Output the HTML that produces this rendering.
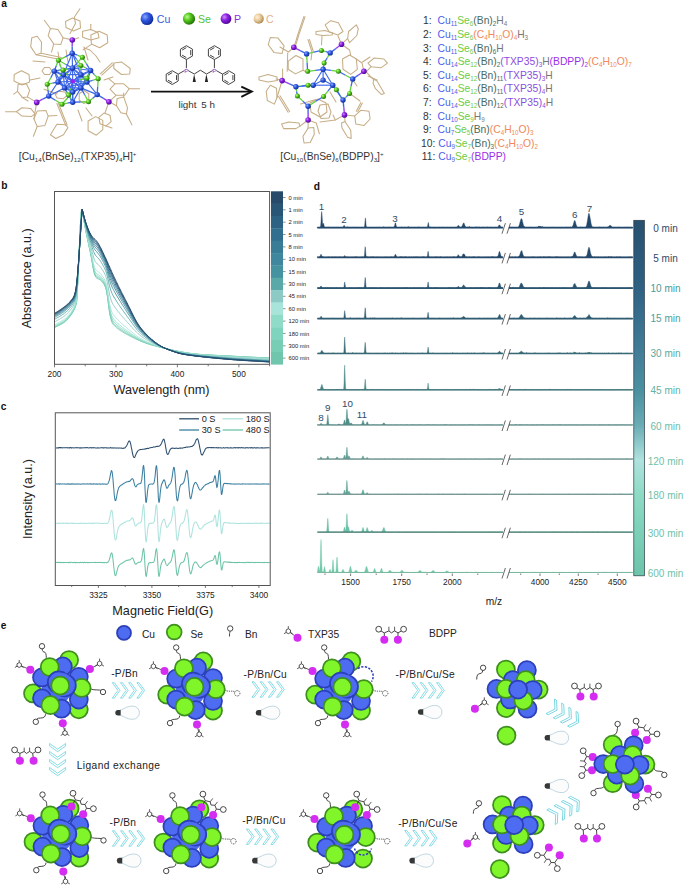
<!DOCTYPE html>
<html><head><meta charset="utf-8"><style>
html,body{margin:0;padding:0;background:#fff;width:685px;height:889px;overflow:hidden}
svg{display:block;font-family:"Liberation Sans", sans-serif}
</style></head><body>
<svg width="685" height="889" viewBox="0 0 685 889">
<rect width="685" height="889" fill="#fff"/>
<text x="1.2" y="6.6" font-size="10.2" fill="#111" text-anchor="start" font-weight="bold" >a</text>
<text x="1.2" y="188.8" font-size="10.2" fill="#111" text-anchor="start" font-weight="bold" >b</text>
<text x="0.8" y="410.1" font-size="10.2" fill="#111" text-anchor="start" font-weight="bold" >c</text>
<text x="313.8" y="189.7" font-size="10.2" fill="#111" text-anchor="start" font-weight="bold" >d</text>
<text x="0.8" y="629.0" font-size="10.2" fill="#111" text-anchor="start" font-weight="bold" >e</text>
<defs>
<radialGradient id="gCu" cx="0.35" cy="0.35" r="0.7"><stop offset="0" stop-color="#8aa8ff"/><stop offset="0.45" stop-color="#2f56e0"/><stop offset="1" stop-color="#102a90"/></radialGradient>
<radialGradient id="gSe" cx="0.35" cy="0.35" r="0.7"><stop offset="0" stop-color="#b8ff8a"/><stop offset="0.45" stop-color="#52c41a"/><stop offset="1" stop-color="#1f6a08"/></radialGradient>
<radialGradient id="gP" cx="0.35" cy="0.35" r="0.7"><stop offset="0" stop-color="#d08aff"/><stop offset="0.45" stop-color="#8a1ee0"/><stop offset="1" stop-color="#4a0890"/></radialGradient>
<radialGradient id="gC" cx="0.35" cy="0.35" r="0.7"><stop offset="0" stop-color="#fff2d8"/><stop offset="0.5" stop-color="#e6c898"/><stop offset="1" stop-color="#a88650"/></radialGradient>
</defs>
<circle cx="147" cy="18.7" r="6.4" fill="url(#gCu)"/>
<text x="156.8" y="22.6" font-size="10.6" fill="#3b5ce0" text-anchor="start" font-weight="normal" >Cu</text>
<circle cx="189" cy="18.7" r="6.1" fill="url(#gSe)"/>
<text x="198.0" y="22.6" font-size="10.6" fill="#55c22a" text-anchor="start" font-weight="normal" >Se</text>
<circle cx="226" cy="18.7" r="5.4" fill="url(#gP)"/>
<text x="234.0" y="22.6" font-size="10.6" fill="#8a2ee0" text-anchor="start" font-weight="normal" >P</text>
<circle cx="258.7" cy="18.7" r="5.1" fill="url(#gC)"/>
<text x="266.0" y="22.6" font-size="10.6" fill="#e8b088" text-anchor="start" font-weight="normal" >C</text>
<line x1="151" y1="91.6" x2="251" y2="91.6" stroke="#111" stroke-width="1.9"/>
<path d="M241.3,86.6 L251.8,91.6 L241.3,96.8" fill="none" stroke="#111" stroke-width="1.9" stroke-linejoin="miter"/>
<text x="178.5" y="108.3" font-size="9.8" fill="#333" text-anchor="start" font-weight="normal" >light</text>
<text x="201.3" y="108.3" font-size="9.8" fill="#333" text-anchor="start" font-weight="normal" >5 h</text>
<path d="M186.4,59.5 L180.4,56.1 180.4,49.2 186.4,45.7 192.4,49.1 192.4,56.1 186.4,59.5" stroke="#3a3a3a" stroke-width="0.95" fill="none" />
<path d="M186.4,57.6 L182.1,55.1" stroke="#3a3a3a" stroke-width="0.95" fill="none" />
<path d="M182.1,50.1 L186.4,47.6" stroke="#3a3a3a" stroke-width="0.95" fill="none" />
<path d="M190.7,50.1 L190.7,55.1" stroke="#3a3a3a" stroke-width="0.95" fill="none" />
<path d="M214.4,59.5 L208.4,56.1 208.4,49.2 214.4,45.7 220.4,49.1 220.4,56.1 214.4,59.5" stroke="#3a3a3a" stroke-width="0.95" fill="none" />
<path d="M214.4,57.6 L210.1,55.1" stroke="#3a3a3a" stroke-width="0.95" fill="none" />
<path d="M210.1,50.1 L214.4,47.6" stroke="#3a3a3a" stroke-width="0.95" fill="none" />
<path d="M218.7,50.1 L218.7,55.1" stroke="#3a3a3a" stroke-width="0.95" fill="none" />
<path d="M172.2,84.5 L166.2,81 166.2,74.1 172.2,70.7 178.2,74.1 178.2,81 172.2,84.5" stroke="#3a3a3a" stroke-width="0.95" fill="none" />
<path d="M172.2,82.6 L167.9,80.1" stroke="#3a3a3a" stroke-width="0.95" fill="none" />
<path d="M167.9,75.1 L172.2,72.6" stroke="#3a3a3a" stroke-width="0.95" fill="none" />
<path d="M176.5,75.1 L176.5,80.1" stroke="#3a3a3a" stroke-width="0.95" fill="none" />
<path d="M228.6,84.5 L222.6,81 222.6,74.1 228.6,70.7 234.6,74.1 234.6,81 228.6,84.5" stroke="#3a3a3a" stroke-width="0.95" fill="none" />
<path d="M228.6,82.6 L224.3,80.1" stroke="#3a3a3a" stroke-width="0.95" fill="none" />
<path d="M224.3,75.1 L228.6,72.6" stroke="#3a3a3a" stroke-width="0.95" fill="none" />
<path d="M232.9,75.1 L232.9,80.1" stroke="#3a3a3a" stroke-width="0.95" fill="none" />
<path d="M186.4,59.5 L186.4,68.2" stroke="#3a3a3a" stroke-width="0.95" fill="none" />
<path d="M214.4,59.5 L214.4,68.2" stroke="#3a3a3a" stroke-width="0.95" fill="none" />
<path d="M178.2,74.1 L184.5,70.6" stroke="#3a3a3a" stroke-width="0.95" fill="none" />
<path d="M222.6,74.1 L216.3,70.6" stroke="#3a3a3a" stroke-width="0.95" fill="none" />
<path d="M188.2,70.6 L194.3,74 200.3,70.2 206.5,74 212.6,70.6" stroke="#3a3a3a" stroke-width="0.95" fill="none" />
<path d="M194.1,74.0 L195.9,81.9 L192.7,81.9Z" fill="#222"/>
<path d="M206.3,74.0 L208.1,81.9 L204.9,81.9Z" fill="#222"/>
<text x="186.4" y="73.0" font-size="6.2" fill="#7a3ad0" text-anchor="middle" font-weight="normal" >P</text>
<text x="214.4" y="73.0" font-size="6.2" fill="#7a3ad0" text-anchor="middle" font-weight="normal" >P</text>
<path d="M50.4,28.5 L58.0,29.6 L63.0,37.8 L60.8,44.4 L53.7,43.9 L48.2,35.7Z" fill="none" stroke="#c6ad86" stroke-width="1.05" stroke-linejoin="round"/>
<path d="M31.8,37.8 L37.2,36.2 L41.6,42.2 L41.1,53.2 L36.1,54.8 L30.7,46.6Z" fill="none" stroke="#c6ad86" stroke-width="1.05" stroke-linejoin="round"/>
<path d="M82.6,31.3 L90.8,29.6 L97.9,32.4 L99.0,37.8 L90.8,40.0 L82.6,37.3Z" fill="none" stroke="#c6ad86" stroke-width="1.05" stroke-linejoin="round"/>
<path d="M90.8,35.1 L99.0,31.3 L107.2,35.1 L107.8,42.8 L99.6,47.7 L91.4,43.9Z" fill="none" stroke="#c6ad86" stroke-width="1.05" stroke-linejoin="round"/>
<path d="M113.8,63.0 L121.5,61.9 L130.2,68.5 L129.7,74.0 L121.5,74.5 L113.8,68.5Z" fill="none" stroke="#c6ad86" stroke-width="1.05" stroke-linejoin="round"/>
<path d="M18.1,84.3 L26.3,83.8 L29.6,90.3 L27.4,96.9 L22.4,97.4 L17.5,91.4Z" fill="none" stroke="#c6ad86" stroke-width="1.05" stroke-linejoin="round"/>
<path d="M16.4,111.7 L21.9,107.8 L30.7,108.4 L35.0,113.9 L31.2,116.6 L21.9,116.1Z" fill="none" stroke="#c6ad86" stroke-width="1.05" stroke-linejoin="round"/>
<path d="M37.2,111.1 L46.0,110.6 L48.2,116.1 L44.9,125.4 L37.2,126.5 L33.9,118.8Z" fill="none" stroke="#c6ad86" stroke-width="1.05" stroke-linejoin="round"/>
<path d="M50.4,134.7 L56.9,124.3 L65.7,124.8 L67.9,127.6 L63.5,134.7 L55.8,138.5Z" fill="none" stroke="#c6ad86" stroke-width="1.05" stroke-linejoin="round"/>
<path d="M110.0,89.2 L114.9,83.8 L123.7,83.8 L129.1,88.7 L124.7,95.3 L116.0,95.3Z" fill="none" stroke="#c6ad86" stroke-width="1.05" stroke-linejoin="round"/>
<path d="M117.1,98.5 L123.7,96.9 L127.5,107.8 L126.4,113.9 L120.9,112.8 L116.5,105.7Z" fill="none" stroke="#c6ad86" stroke-width="1.05" stroke-linejoin="round"/>
<path d="M88.1,121.0 L95.7,116.6 L102.8,120.4 L102.8,129.7 L96.3,135.2 L88.1,130.8Z" fill="none" stroke="#c6ad86" stroke-width="1.05" stroke-linejoin="round"/>
<path d="M14.2,74.5 L21.4,70.7 L29.0,74.5 L29.6,82.0 L22.0,85.0 L14.0,81.0Z" fill="none" stroke="#c6ad86" stroke-width="1.05" stroke-linejoin="round"/>
<path d="M65.5,21.5 L72.5,18.0 L80.0,21.0 L80.5,28.0 L73.5,31.0 L66.0,27.5Z" fill="none" stroke="#c6ad86" stroke-width="1.05" stroke-linejoin="round"/>
<path d="M111.1,121.7 L106.1,125.9 L100.0,123.7 L98.9,117.3 L103.9,113.1 L110.0,115.3Z" fill="none" stroke="#c6ad86" stroke-width="1.05" stroke-linejoin="round"/>
<path d="M66.9,95.7 L63.1,98.8 L57.1,98.1 L55.1,94.3 L58.9,91.2 L64.9,91.9Z" fill="none" stroke="#c6ad86" stroke-width="1.05" stroke-linejoin="round"/>
<path d="M88.8,100.2 L84.0,103.5 L79.2,100.2 L79.2,93.8 L84.0,90.5 L88.8,93.8Z" fill="none" stroke="#c6ad86" stroke-width="1.05" stroke-linejoin="round"/>
<path d="M52.0,71.0 L49.5,74.5 L44.5,74.5 L42.0,71.0 L44.5,67.5 L49.5,67.5Z" fill="none" stroke="#c6ad86" stroke-width="1.05" stroke-linejoin="round"/>
<path d="M84,48 L90,50 96,56 100,62" stroke="#c6ad86" stroke-width="1.05" fill="none" stroke-linecap="round" stroke-linejoin="round"/>
<path d="M50.4,28.5 L44.3,20.3" stroke="#c6ad86" stroke-width="1.05" fill="none" stroke-linecap="round" stroke-linejoin="round"/>
<path d="M53.7,43.9 L51.5,52.1" stroke="#c6ad86" stroke-width="1.05" fill="none" stroke-linecap="round" stroke-linejoin="round"/>
<path d="M79.9,8.8 L74.4,17 75.5,23.6 70,33.5" stroke="#c6ad86" stroke-width="1.05" fill="none" stroke-linecap="round" stroke-linejoin="round"/>
<path d="M90.8,29.6 L90.8,24.2" stroke="#c6ad86" stroke-width="1.05" fill="none" stroke-linecap="round" stroke-linejoin="round"/>
<path d="M17.5,91.4 L13.7,94.2" stroke="#c6ad86" stroke-width="1.05" fill="none" stroke-linecap="round" stroke-linejoin="round"/>
<path d="M16.4,111.7 L5.5,111.7" stroke="#c6ad86" stroke-width="1.05" fill="none" stroke-linecap="round" stroke-linejoin="round"/>
<path d="M48.2,116.1 L56.9,115.5" stroke="#c6ad86" stroke-width="1.05" fill="none" stroke-linecap="round" stroke-linejoin="round"/>
<path d="M37.2,126.5 L33.4,136.3" stroke="#c6ad86" stroke-width="1.05" fill="none" stroke-linecap="round" stroke-linejoin="round"/>
<path d="M114.9,83.8 L108.3,78.3" stroke="#c6ad86" stroke-width="1.05" fill="none" stroke-linecap="round" stroke-linejoin="round"/>
<path d="M129.1,88.7 L139.5,88.7" stroke="#c6ad86" stroke-width="1.05" fill="none" stroke-linecap="round" stroke-linejoin="round"/>
<path d="M126.4,113.9 L131.9,124.8" stroke="#c6ad86" stroke-width="1.05" fill="none" stroke-linecap="round" stroke-linejoin="round"/>
<path d="M123.7,96.9 L123.7,93" stroke="#c6ad86" stroke-width="1.05" fill="none" stroke-linecap="round" stroke-linejoin="round"/>
<path d="M106,126 L112,128" stroke="#c6ad86" stroke-width="1.05" fill="none" stroke-linecap="round" stroke-linejoin="round"/>
<path d="M63,37.8 L72.3,40" stroke="#c6ad86" stroke-width="1.05" fill="none" stroke-linecap="round" stroke-linejoin="round"/>
<path d="M78.8,37.8 L72.3,40" stroke="#c6ad86" stroke-width="1.05" fill="none" stroke-linecap="round" stroke-linejoin="round"/>
<path d="M27.4,96.9 L36.7,102.4" stroke="#c6ad86" stroke-width="1.05" fill="none" stroke-linecap="round" stroke-linejoin="round"/>
<path d="M36.7,102.4 L33.9,118.8" stroke="#c6ad86" stroke-width="1.05" fill="none" stroke-linecap="round" stroke-linejoin="round"/>
<path d="M116,95.3 L108.9,101.8" stroke="#c6ad86" stroke-width="1.05" fill="none" stroke-linecap="round" stroke-linejoin="round"/>
<path d="M116.5,105.7 L108.9,101.8" stroke="#c6ad86" stroke-width="1.05" fill="none" stroke-linecap="round" stroke-linejoin="round"/>
<path d="M105,113 L108.9,101.8" stroke="#c6ad86" stroke-width="1.05" fill="none" stroke-linecap="round" stroke-linejoin="round"/>
<path d="M41.1,53.2 L61.3,57.6" stroke="#c6ad86" stroke-width="1.05" fill="none" stroke-linecap="round" stroke-linejoin="round"/>
<path d="M36.1,54.8 L59.1,59.2" stroke="#c6ad86" stroke-width="1.05" fill="none" stroke-linecap="round" stroke-linejoin="round"/>
<path d="M101.8,75.1 L113.8,64.1" stroke="#c6ad86" stroke-width="1.05" fill="none" stroke-linecap="round" stroke-linejoin="round"/>
<path d="M100.3,73.8 L112.3,62.8" stroke="#c6ad86" stroke-width="1.05" fill="none" stroke-linecap="round" stroke-linejoin="round"/>
<path d="M56.9,103.5 L65.7,125.4" stroke="#c6ad86" stroke-width="1.05" fill="none" stroke-linecap="round" stroke-linejoin="round"/>
<path d="M58.3,103 L67.1,125" stroke="#c6ad86" stroke-width="1.05" fill="none" stroke-linecap="round" stroke-linejoin="round"/>
<path d="M44,89.2 L57,94" stroke="#c6ad86" stroke-width="1.05" fill="none" stroke-linecap="round" stroke-linejoin="round"/>
<path d="M83.1,49.9 L91.4,44.4" stroke="#c6ad86" stroke-width="1.05" fill="none" stroke-linecap="round" stroke-linejoin="round"/>
<path d="M22,97.4 L28,101" stroke="#c6ad86" stroke-width="1.05" fill="none" stroke-linecap="round" stroke-linejoin="round"/>
<path d="M33,61 L45,62" stroke="#c6ad86" stroke-width="1.05" fill="none" stroke-linecap="round" stroke-linejoin="round"/>
<path d="M88,60 L84,47" stroke="#c6ad86" stroke-width="1.05" fill="none" stroke-linecap="round" stroke-linejoin="round"/>
<path d="M60,66 L58,52" stroke="#c6ad86" stroke-width="1.05" fill="none" stroke-linecap="round" stroke-linejoin="round"/>
<path d="M68,62 L66,50" stroke="#c6ad86" stroke-width="1.05" fill="none" stroke-linecap="round" stroke-linejoin="round"/>
<path d="M86,108 L92,116" stroke="#c6ad86" stroke-width="1.05" fill="none" stroke-linecap="round" stroke-linejoin="round"/>
<path d="M78,110 L82,121" stroke="#c6ad86" stroke-width="1.05" fill="none" stroke-linecap="round" stroke-linejoin="round"/>
<path d="M40,78 L30,80" stroke="#c6ad86" stroke-width="1.05" fill="none" stroke-linecap="round" stroke-linejoin="round"/>
<path d="M104,80 L113,77" stroke="#c6ad86" stroke-width="1.05" fill="none" stroke-linecap="round" stroke-linejoin="round"/>
<path d="M54.3,71.1 L63.5,74.6" stroke="#3d68ea" stroke-width="1.15" fill="none" />
<path d="M54.3,71.1 L64.5,87.9" stroke="#3d68ea" stroke-width="1.15" fill="none" />
<path d="M54.3,71.1 L72.5,68" stroke="#3d68ea" stroke-width="1.15" fill="none" />
<path d="M54.3,71.1 L58,82" stroke="#3d68ea" stroke-width="1.15" fill="none" />
<path d="M54.3,71.1 L72.7,81.3" stroke="#3d68ea" stroke-width="1.15" fill="none" />
<path d="M90.6,70.5 L80.9,74.6" stroke="#3d68ea" stroke-width="1.15" fill="none" />
<path d="M90.6,70.5 L80.9,87.9" stroke="#3d68ea" stroke-width="1.15" fill="none" />
<path d="M90.6,70.5 L72.5,68" stroke="#3d68ea" stroke-width="1.15" fill="none" />
<path d="M90.6,70.5 L87,82" stroke="#3d68ea" stroke-width="1.15" fill="none" />
<path d="M90.6,70.5 L72.7,81.3" stroke="#3d68ea" stroke-width="1.15" fill="none" />
<path d="M63.5,74.6 L80.9,74.6" stroke="#3d68ea" stroke-width="1.15" fill="none" />
<path d="M63.5,74.6 L64.5,87.9" stroke="#3d68ea" stroke-width="1.15" fill="none" />
<path d="M63.5,74.6 L80.9,87.9" stroke="#3d68ea" stroke-width="1.15" fill="none" />
<path d="M63.5,74.6 L72.7,92" stroke="#3d68ea" stroke-width="1.15" fill="none" />
<path d="M63.5,74.6 L72.5,68" stroke="#3d68ea" stroke-width="1.15" fill="none" />
<path d="M63.5,74.6 L58,82" stroke="#3d68ea" stroke-width="1.15" fill="none" />
<path d="M63.5,74.6 L72.7,81.3" stroke="#3d68ea" stroke-width="1.15" fill="none" />
<path d="M63.5,74.6 L72.2,53.2" stroke="#3d68ea" stroke-width="1.15" fill="none" />
<path d="M80.9,74.6 L64.5,87.9" stroke="#3d68ea" stroke-width="1.15" fill="none" />
<path d="M80.9,74.6 L80.9,87.9" stroke="#3d68ea" stroke-width="1.15" fill="none" />
<path d="M80.9,74.6 L72.7,92" stroke="#3d68ea" stroke-width="1.15" fill="none" />
<path d="M80.9,74.6 L72.5,68" stroke="#3d68ea" stroke-width="1.15" fill="none" />
<path d="M80.9,74.6 L87,82" stroke="#3d68ea" stroke-width="1.15" fill="none" />
<path d="M80.9,74.6 L72.7,81.3" stroke="#3d68ea" stroke-width="1.15" fill="none" />
<path d="M80.9,74.6 L72.2,53.2" stroke="#3d68ea" stroke-width="1.15" fill="none" />
<path d="M64.5,87.9 L80.9,87.9" stroke="#3d68ea" stroke-width="1.15" fill="none" />
<path d="M64.5,87.9 L72.7,92" stroke="#3d68ea" stroke-width="1.15" fill="none" />
<path d="M64.5,87.9 L72.7,102.2" stroke="#3d68ea" stroke-width="1.15" fill="none" />
<path d="M64.5,87.9 L72.5,68" stroke="#3d68ea" stroke-width="1.15" fill="none" />
<path d="M64.5,87.9 L58,82" stroke="#3d68ea" stroke-width="1.15" fill="none" />
<path d="M64.5,87.9 L87,82" stroke="#3d68ea" stroke-width="1.15" fill="none" />
<path d="M64.5,87.9 L72.7,81.3" stroke="#3d68ea" stroke-width="1.15" fill="none" />
<path d="M64.5,87.9 L48.7,96.1" stroke="#3d68ea" stroke-width="1.15" fill="none" />
<path d="M80.9,87.9 L72.7,92" stroke="#3d68ea" stroke-width="1.15" fill="none" />
<path d="M80.9,87.9 L72.7,102.2" stroke="#3d68ea" stroke-width="1.15" fill="none" />
<path d="M80.9,87.9 L72.5,68" stroke="#3d68ea" stroke-width="1.15" fill="none" />
<path d="M80.9,87.9 L87,82" stroke="#3d68ea" stroke-width="1.15" fill="none" />
<path d="M80.9,87.9 L72.7,81.3" stroke="#3d68ea" stroke-width="1.15" fill="none" />
<path d="M80.9,87.9 L97.2,94.6" stroke="#3d68ea" stroke-width="1.15" fill="none" />
<path d="M72.7,92 L72.7,102.2" stroke="#3d68ea" stroke-width="1.15" fill="none" />
<path d="M72.7,92 L58,82" stroke="#3d68ea" stroke-width="1.15" fill="none" />
<path d="M72.7,92 L87,82" stroke="#3d68ea" stroke-width="1.15" fill="none" />
<path d="M72.7,92 L72.7,81.3" stroke="#3d68ea" stroke-width="1.15" fill="none" />
<path d="M72.7,102.2 L72.7,81.3" stroke="#3d68ea" stroke-width="1.15" fill="none" />
<path d="M72.5,68 L58,82" stroke="#3d68ea" stroke-width="1.15" fill="none" />
<path d="M72.5,68 L87,82" stroke="#3d68ea" stroke-width="1.15" fill="none" />
<path d="M72.5,68 L72.7,81.3" stroke="#3d68ea" stroke-width="1.15" fill="none" />
<path d="M72.5,68 L72.2,53.2" stroke="#3d68ea" stroke-width="1.15" fill="none" />
<path d="M58,82 L72.7,81.3" stroke="#3d68ea" stroke-width="1.15" fill="none" />
<path d="M58,82 L48.7,96.1" stroke="#3d68ea" stroke-width="1.15" fill="none" />
<path d="M87,82 L72.7,81.3" stroke="#3d68ea" stroke-width="1.15" fill="none" />
<path d="M87,82 L97.2,94.6" stroke="#3d68ea" stroke-width="1.15" fill="none" />
<path d="M72.3,40 L72.2,46.6" stroke="#9a3ef0" stroke-width="1.4" fill="none" />
<path d="M72.2,46.6 L72.2,53.2" stroke="#3d68ea" stroke-width="1.4" fill="none" />
<path d="M36.7,102.4 L42.7,99.2" stroke="#9a3ef0" stroke-width="1.4" fill="none" />
<path d="M42.7,99.2 L48.7,96.1" stroke="#3d68ea" stroke-width="1.4" fill="none" />
<path d="M108.9,101.8 L103.1,98.2" stroke="#9a3ef0" stroke-width="1.4" fill="none" />
<path d="M103.1,98.2 L97.2,94.6" stroke="#3d68ea" stroke-width="1.4" fill="none" />
<path d="M58.4,60.3 L56.3,65.7" stroke="#5fd33a" stroke-width="1.3" fill="none" />
<path d="M56.3,65.7 L54.3,71.1" stroke="#3d68ea" stroke-width="1.3" fill="none" />
<path d="M58.4,60.3 L61,67.4" stroke="#5fd33a" stroke-width="1.3" fill="none" />
<path d="M61,67.4 L63.5,74.6" stroke="#3d68ea" stroke-width="1.3" fill="none" />
<path d="M58.4,60.3 L65.5,64.2" stroke="#5fd33a" stroke-width="1.3" fill="none" />
<path d="M65.5,64.2 L72.5,68" stroke="#3d68ea" stroke-width="1.3" fill="none" />
<path d="M58.4,60.3 L65.3,56.8" stroke="#5fd33a" stroke-width="1.3" fill="none" />
<path d="M65.3,56.8 L72.2,53.2" stroke="#3d68ea" stroke-width="1.3" fill="none" />
<path d="M82.4,57.3 L86.5,63.9" stroke="#5fd33a" stroke-width="1.3" fill="none" />
<path d="M86.5,63.9 L90.6,70.5" stroke="#3d68ea" stroke-width="1.3" fill="none" />
<path d="M82.4,57.3 L77.5,62.6" stroke="#5fd33a" stroke-width="1.3" fill="none" />
<path d="M77.5,62.6 L72.5,68" stroke="#3d68ea" stroke-width="1.3" fill="none" />
<path d="M82.4,57.3 L77.3,55.2" stroke="#5fd33a" stroke-width="1.3" fill="none" />
<path d="M77.3,55.2 L72.2,53.2" stroke="#3d68ea" stroke-width="1.3" fill="none" />
<path d="M63,70 L58.6,70.5" stroke="#5fd33a" stroke-width="1.3" fill="none" />
<path d="M58.6,70.5 L54.3,71.1" stroke="#3d68ea" stroke-width="1.3" fill="none" />
<path d="M63,70 L63.2,72.3" stroke="#5fd33a" stroke-width="1.3" fill="none" />
<path d="M63.2,72.3 L63.5,74.6" stroke="#3d68ea" stroke-width="1.3" fill="none" />
<path d="M63,70 L67.8,69" stroke="#5fd33a" stroke-width="1.3" fill="none" />
<path d="M67.8,69 L72.5,68" stroke="#3d68ea" stroke-width="1.3" fill="none" />
<path d="M63,70 L60.5,76" stroke="#5fd33a" stroke-width="1.3" fill="none" />
<path d="M60.5,76 L58,82" stroke="#3d68ea" stroke-width="1.3" fill="none" />
<path d="M63,70 L67.8,75.7" stroke="#5fd33a" stroke-width="1.3" fill="none" />
<path d="M67.8,75.7 L72.7,81.3" stroke="#3d68ea" stroke-width="1.3" fill="none" />
<path d="M87,78.2 L88.8,74.3" stroke="#5fd33a" stroke-width="1.3" fill="none" />
<path d="M88.8,74.3 L90.6,70.5" stroke="#3d68ea" stroke-width="1.3" fill="none" />
<path d="M87,78.2 L84,76.4" stroke="#5fd33a" stroke-width="1.3" fill="none" />
<path d="M84,76.4 L80.9,74.6" stroke="#3d68ea" stroke-width="1.3" fill="none" />
<path d="M87,78.2 L84,83.1" stroke="#5fd33a" stroke-width="1.3" fill="none" />
<path d="M84,83.1 L80.9,87.9" stroke="#3d68ea" stroke-width="1.3" fill="none" />
<path d="M87,78.2 L87,80.1" stroke="#5fd33a" stroke-width="1.3" fill="none" />
<path d="M87,80.1 L87,82" stroke="#3d68ea" stroke-width="1.3" fill="none" />
<path d="M87,78.2 L79.8,79.8" stroke="#5fd33a" stroke-width="1.3" fill="none" />
<path d="M79.8,79.8 L72.7,81.3" stroke="#3d68ea" stroke-width="1.3" fill="none" />
<path d="M98.2,78.7 L94.4,74.6" stroke="#5fd33a" stroke-width="1.3" fill="none" />
<path d="M94.4,74.6 L90.6,70.5" stroke="#3d68ea" stroke-width="1.3" fill="none" />
<path d="M98.2,78.7 L92.6,80.3" stroke="#5fd33a" stroke-width="1.3" fill="none" />
<path d="M92.6,80.3 L87,82" stroke="#3d68ea" stroke-width="1.3" fill="none" />
<path d="M98.2,78.7 L97.7,86.7" stroke="#5fd33a" stroke-width="1.3" fill="none" />
<path d="M97.7,86.7 L97.2,94.6" stroke="#3d68ea" stroke-width="1.3" fill="none" />
<path d="M47.2,84.3 L50.8,77.7" stroke="#5fd33a" stroke-width="1.3" fill="none" />
<path d="M50.8,77.7 L54.3,71.1" stroke="#3d68ea" stroke-width="1.3" fill="none" />
<path d="M47.2,84.3 L52.6,83.2" stroke="#5fd33a" stroke-width="1.3" fill="none" />
<path d="M52.6,83.2 L58,82" stroke="#3d68ea" stroke-width="1.3" fill="none" />
<path d="M47.2,84.3 L48,90.2" stroke="#5fd33a" stroke-width="1.3" fill="none" />
<path d="M48,90.2 L48.7,96.1" stroke="#3d68ea" stroke-width="1.3" fill="none" />
<path d="M68.6,95.1 L66.5,91.5" stroke="#5fd33a" stroke-width="1.3" fill="none" />
<path d="M66.5,91.5 L64.5,87.9" stroke="#3d68ea" stroke-width="1.3" fill="none" />
<path d="M68.6,95.1 L74.8,91.5" stroke="#5fd33a" stroke-width="1.3" fill="none" />
<path d="M74.8,91.5 L80.9,87.9" stroke="#3d68ea" stroke-width="1.3" fill="none" />
<path d="M68.6,95.1 L70.7,93.5" stroke="#5fd33a" stroke-width="1.3" fill="none" />
<path d="M70.7,93.5 L72.7,92" stroke="#3d68ea" stroke-width="1.3" fill="none" />
<path d="M68.6,95.1 L70.7,98.7" stroke="#5fd33a" stroke-width="1.3" fill="none" />
<path d="M70.7,98.7 L72.7,102.2" stroke="#3d68ea" stroke-width="1.3" fill="none" />
<path d="M68.6,95.1 L70.7,88.2" stroke="#5fd33a" stroke-width="1.3" fill="none" />
<path d="M70.7,88.2 L72.7,81.3" stroke="#3d68ea" stroke-width="1.3" fill="none" />
<path d="M62,104.3 L67.3,98.2" stroke="#5fd33a" stroke-width="1.3" fill="none" />
<path d="M67.3,98.2 L72.7,92" stroke="#3d68ea" stroke-width="1.3" fill="none" />
<path d="M62,104.3 L67.3,103.2" stroke="#5fd33a" stroke-width="1.3" fill="none" />
<path d="M67.3,103.2 L72.7,102.2" stroke="#3d68ea" stroke-width="1.3" fill="none" />
<path d="M62,104.3 L55.4,100.2" stroke="#5fd33a" stroke-width="1.3" fill="none" />
<path d="M55.4,100.2 L48.7,96.1" stroke="#3d68ea" stroke-width="1.3" fill="none" />
<path d="M88.5,101.7 L84.7,94.8" stroke="#5fd33a" stroke-width="1.3" fill="none" />
<path d="M84.7,94.8 L80.9,87.9" stroke="#3d68ea" stroke-width="1.3" fill="none" />
<path d="M88.5,101.7 L80.6,102" stroke="#5fd33a" stroke-width="1.3" fill="none" />
<path d="M80.6,102 L72.7,102.2" stroke="#3d68ea" stroke-width="1.3" fill="none" />
<path d="M88.5,101.7 L92.8,98.2" stroke="#5fd33a" stroke-width="1.3" fill="none" />
<path d="M92.8,98.2 L97.2,94.6" stroke="#3d68ea" stroke-width="1.3" fill="none" />
<path d="M80.9,65.4 L85.8,68" stroke="#5fd33a" stroke-width="1.3" fill="none" />
<path d="M85.8,68 L90.6,70.5" stroke="#3d68ea" stroke-width="1.3" fill="none" />
<path d="M80.9,65.4 L80.9,70" stroke="#5fd33a" stroke-width="1.3" fill="none" />
<path d="M80.9,70 L80.9,74.6" stroke="#3d68ea" stroke-width="1.3" fill="none" />
<path d="M80.9,65.4 L76.7,66.7" stroke="#5fd33a" stroke-width="1.3" fill="none" />
<path d="M76.7,66.7 L72.5,68" stroke="#3d68ea" stroke-width="1.3" fill="none" />
<path d="M80.9,65.4 L76.6,59.3" stroke="#5fd33a" stroke-width="1.3" fill="none" />
<path d="M76.6,59.3 L72.2,53.2" stroke="#3d68ea" stroke-width="1.3" fill="none" />
<circle cx="54.3" cy="71.1" r="2.7" fill="url(#gCu)"/>
<circle cx="90.6" cy="70.5" r="2.7" fill="url(#gCu)"/>
<circle cx="63.5" cy="74.6" r="2.7" fill="url(#gCu)"/>
<circle cx="80.9" cy="74.6" r="2.7" fill="url(#gCu)"/>
<circle cx="64.5" cy="87.9" r="2.7" fill="url(#gCu)"/>
<circle cx="80.9" cy="87.9" r="2.7" fill="url(#gCu)"/>
<circle cx="72.7" cy="92.0" r="2.7" fill="url(#gCu)"/>
<circle cx="72.7" cy="102.2" r="2.7" fill="url(#gCu)"/>
<circle cx="72.5" cy="68.0" r="2.7" fill="url(#gCu)"/>
<circle cx="58.0" cy="82.0" r="2.7" fill="url(#gCu)"/>
<circle cx="87.0" cy="82.0" r="2.7" fill="url(#gCu)"/>
<circle cx="72.2" cy="53.2" r="2.7" fill="url(#gCu)"/>
<circle cx="48.7" cy="96.1" r="2.7" fill="url(#gCu)"/>
<circle cx="97.2" cy="94.6" r="2.7" fill="url(#gCu)"/>
<circle cx="58.4" cy="60.3" r="2.5" fill="url(#gSe)"/>
<circle cx="82.4" cy="57.3" r="2.5" fill="url(#gSe)"/>
<circle cx="63.0" cy="70.0" r="2.5" fill="url(#gSe)"/>
<circle cx="87.0" cy="78.2" r="2.5" fill="url(#gSe)"/>
<circle cx="98.2" cy="78.7" r="2.5" fill="url(#gSe)"/>
<circle cx="47.2" cy="84.3" r="2.5" fill="url(#gSe)"/>
<circle cx="68.6" cy="95.1" r="2.5" fill="url(#gSe)"/>
<circle cx="62.0" cy="104.3" r="2.5" fill="url(#gSe)"/>
<circle cx="88.5" cy="101.7" r="2.5" fill="url(#gSe)"/>
<circle cx="80.9" cy="65.4" r="2.5" fill="url(#gSe)"/>
<circle cx="72.3" cy="40.0" r="2.8" fill="url(#gP)"/>
<circle cx="36.7" cy="102.4" r="2.8" fill="url(#gP)"/>
<circle cx="108.9" cy="101.8" r="2.8" fill="url(#gP)"/>
<circle cx="72.7" cy="81.3" r="2.2" fill="#a020f0"/>
<path d="M268.3,44.7 L270.3,37.6 L278.0,38.1 L284.1,45.8 L282.1,53.4 L273.9,52.4Z" fill="none" stroke="#c6ad86" stroke-width="1.05" stroke-linejoin="round"/>
<path d="M288.2,61.1 L295.9,55.5 L303.0,59.0 L303.0,70.3 L295.4,73.9 L288.2,69.3Z" fill="none" stroke="#c6ad86" stroke-width="1.05" stroke-linejoin="round"/>
<path d="M325.1,24.8 L330.7,20.7 L338.4,22.8 L343.0,31.5 L337.9,35.0 L329.2,32.0Z" fill="none" stroke="#c6ad86" stroke-width="1.05" stroke-linejoin="round"/>
<path d="M348.6,31.5 L356.3,24.8 L358.3,28.9 L356.8,35.5 L349.6,42.7 L347.6,38.6Z" fill="none" stroke="#c6ad86" stroke-width="1.05" stroke-linejoin="round"/>
<path d="M342.5,59.0 L349.6,55.0 L356.3,59.0 L357.3,69.3 L350.7,74.4 L343.0,69.3Z" fill="none" stroke="#c6ad86" stroke-width="1.05" stroke-linejoin="round"/>
<path d="M368.0,63.1 L374.2,58.0 L383.9,59.0 L387.4,63.1 L381.3,67.7 L371.1,66.7Z" fill="none" stroke="#c6ad86" stroke-width="1.05" stroke-linejoin="round"/>
<path d="M266.2,91.3 L270.3,85.2 L276.5,88.3 L277.0,97.5 L274.4,104.1 L267.3,100.5Z" fill="none" stroke="#c6ad86" stroke-width="1.05" stroke-linejoin="round"/>
<path d="M281.6,124.0 L288.7,122.0 L298.9,123.0 L300.0,126.1 L295.9,128.6 L283.6,128.6Z" fill="none" stroke="#c6ad86" stroke-width="1.05" stroke-linejoin="round"/>
<path d="M303.0,136.3 L308.1,128.1 L313.8,127.6 L314.3,134.3 L310.2,142.4 L304.0,143.0Z" fill="none" stroke="#c6ad86" stroke-width="1.05" stroke-linejoin="round"/>
<path d="M373.6,79.6 L376.7,80.6 L384.4,93.4 L381.3,94.4 L375.2,88.3 L373.1,83.2Z" fill="none" stroke="#c6ad86" stroke-width="1.05" stroke-linejoin="round"/>
<path d="M354.7,115.9 L360.9,110.3 L369.0,111.3 L370.1,119.0 L363.9,125.6 L355.8,124.0Z" fill="none" stroke="#c6ad86" stroke-width="1.05" stroke-linejoin="round"/>
<path d="M341.5,123.0 L345.0,121.5 L350.7,130.2 L351.2,138.4 L347.6,137.3 L342.0,128.1Z" fill="none" stroke="#c6ad86" stroke-width="1.05" stroke-linejoin="round"/>
<path d="M259.0,77.0 L268.0,74.5 L277.0,77.0 L277.5,80.5 L268.0,82.0 L259.0,80.0Z" fill="none" stroke="#c6ad86" stroke-width="1.05" stroke-linejoin="round"/>
<path d="M316.0,31.5 L325.0,30.5 L333.0,33.0 L332.0,35.0 L323.0,35.5 L316.0,34.5Z" fill="none" stroke="#c6ad86" stroke-width="1.05" stroke-linejoin="round"/>
<path d="M310.0,103.0 L318.0,99.0 L326.0,103.0 L327.0,112.0 L320.0,117.0 L311.0,112.0Z" fill="none" stroke="#c6ad86" stroke-width="1.05" stroke-linejoin="round"/>
<path d="M320.0,105.0 L328.0,104.0 L331.0,112.0 L329.0,118.0 L321.0,118.5 L318.0,111.0Z" fill="none" stroke="#c6ad86" stroke-width="1.05" stroke-linejoin="round"/>
<path d="M293.8,47.3 L288.5,52 280,47" stroke="#c6ad86" stroke-width="1.05" fill="none" stroke-linecap="round" stroke-linejoin="round"/>
<path d="M293.8,47.3 L296,40.7 298,34 304,16.4" stroke="#c6ad86" stroke-width="1.05" fill="none" stroke-linecap="round" stroke-linejoin="round"/>
<path d="M294.8,47.5 L297,41 299,34.3 305,16.8" stroke="#c6ad86" stroke-width="1.05" fill="none" stroke-linecap="round" stroke-linejoin="round"/>
<path d="M287.7,53 L287.2,71.3" stroke="#c6ad86" stroke-width="1.05" fill="none" stroke-linecap="round" stroke-linejoin="round"/>
<path d="M282.6,69 L282.6,77.5" stroke="#c6ad86" stroke-width="1.05" fill="none" stroke-linecap="round" stroke-linejoin="round"/>
<path d="M303,70.3 L309,73.3" stroke="#c6ad86" stroke-width="1.05" fill="none" stroke-linecap="round" stroke-linejoin="round"/>
<path d="M308,39.6 L312,52 311,60" stroke="#c6ad86" stroke-width="1.05" fill="none" stroke-linecap="round" stroke-linejoin="round"/>
<path d="M309.5,39.6 L313.5,52" stroke="#c6ad86" stroke-width="1.05" fill="none" stroke-linecap="round" stroke-linejoin="round"/>
<path d="M341.5,44.2 L349.6,50 350.7,55" stroke="#c6ad86" stroke-width="1.05" fill="none" stroke-linecap="round" stroke-linejoin="round"/>
<path d="M356.3,59 L362,63 363.9,71.3" stroke="#c6ad86" stroke-width="1.05" fill="none" stroke-linecap="round" stroke-linejoin="round"/>
<path d="M362.5,62 L370,57" stroke="#c6ad86" stroke-width="1.05" fill="none" stroke-linecap="round" stroke-linejoin="round"/>
<path d="M341.5,44.2 L347.6,38.6" stroke="#c6ad86" stroke-width="1.05" fill="none" stroke-linecap="round" stroke-linejoin="round"/>
<path d="M341.5,44.2 L338,36" stroke="#c6ad86" stroke-width="1.05" fill="none" stroke-linecap="round" stroke-linejoin="round"/>
<path d="M322,35.5 L321.5,44.7" stroke="#c6ad86" stroke-width="1.05" fill="none" stroke-linecap="round" stroke-linejoin="round"/>
<path d="M278.5,96.5 L288.2,112.3" stroke="#c6ad86" stroke-width="1.05" fill="none" stroke-linecap="round" stroke-linejoin="round"/>
<path d="M280,95.8 L289.7,111.6" stroke="#c6ad86" stroke-width="1.05" fill="none" stroke-linecap="round" stroke-linejoin="round"/>
<path d="M277,97.5 L282.1,80.6" stroke="#c6ad86" stroke-width="1.05" fill="none" stroke-linecap="round" stroke-linejoin="round"/>
<path d="M282.1,80.6 L276,79" stroke="#c6ad86" stroke-width="1.05" fill="none" stroke-linecap="round" stroke-linejoin="round"/>
<path d="M300,126.1 L308.1,120" stroke="#c6ad86" stroke-width="1.05" fill="none" stroke-linecap="round" stroke-linejoin="round"/>
<path d="M308.1,120 L308.1,128.1" stroke="#c6ad86" stroke-width="1.05" fill="none" stroke-linecap="round" stroke-linejoin="round"/>
<path d="M308.1,120 L316.3,123 319.4,133.8" stroke="#c6ad86" stroke-width="1.05" fill="none" stroke-linecap="round" stroke-linejoin="round"/>
<path d="M300.5,104 L316,99.5" stroke="#c6ad86" stroke-width="1.05" fill="none" stroke-linecap="round" stroke-linejoin="round"/>
<path d="M356.3,111.3 L360.9,102.6" stroke="#c6ad86" stroke-width="1.05" fill="none" stroke-linecap="round" stroke-linejoin="round"/>
<path d="M357.8,111.8 L362.4,103.1" stroke="#c6ad86" stroke-width="1.05" fill="none" stroke-linecap="round" stroke-linejoin="round"/>
<path d="M349.6,93.4 L360,101" stroke="#c6ad86" stroke-width="1.05" fill="none" stroke-linecap="round" stroke-linejoin="round"/>
<path d="M320,122 L335.3,120 344.5,114.9" stroke="#c6ad86" stroke-width="1.05" fill="none" stroke-linecap="round" stroke-linejoin="round"/>
<path d="M333,115 L335.3,120" stroke="#c6ad86" stroke-width="1.05" fill="none" stroke-linecap="round" stroke-linejoin="round"/>
<path d="M344.5,114.9 L354.7,115.9" stroke="#c6ad86" stroke-width="1.05" fill="none" stroke-linecap="round" stroke-linejoin="round"/>
<path d="M344.5,114.9 L345,121.5" stroke="#c6ad86" stroke-width="1.05" fill="none" stroke-linecap="round" stroke-linejoin="round"/>
<path d="M366.1,71.9 L373.6,79.6" stroke="#c6ad86" stroke-width="1.05" fill="none" stroke-linecap="round" stroke-linejoin="round"/>
<path d="M366.1,71.9 L371.1,66.7" stroke="#c6ad86" stroke-width="1.05" fill="none" stroke-linecap="round" stroke-linejoin="round"/>
<path d="M368.1,76 L377,80" stroke="#c6ad86" stroke-width="1.05" fill="none" stroke-linecap="round" stroke-linejoin="round"/>
<path d="M352.7,79.6 L357,86" stroke="#c6ad86" stroke-width="1.05" fill="none" stroke-linecap="round" stroke-linejoin="round"/>
<path d="M330,92 L336,102" stroke="#c6ad86" stroke-width="1.05" fill="none" stroke-linecap="round" stroke-linejoin="round"/>
<path d="M323.1,69.3 L313.2,85.2" stroke="#3d68ea" stroke-width="1.15" fill="none" />
<path d="M323.1,69.3 L332.8,85.2" stroke="#3d68ea" stroke-width="1.15" fill="none" />
<path d="M323.1,69.3 L323.1,80.1" stroke="#3d68ea" stroke-width="1.15" fill="none" />
<path d="M313.2,85.2 L332.8,85.2" stroke="#3d68ea" stroke-width="1.15" fill="none" />
<path d="M313.2,85.2 L323.1,80.1" stroke="#3d68ea" stroke-width="1.15" fill="none" />
<path d="M332.8,85.2 L323.1,80.1" stroke="#3d68ea" stroke-width="1.15" fill="none" />
<path d="M306.6,53.9 L314,52.1" stroke="#5fd33a" stroke-width="1.3" fill="none" />
<path d="M314,52.1 L321.4,50.4" stroke="#3d68ea" stroke-width="1.3" fill="none" />
<path d="M321.4,50.4 L325.8,51.6" stroke="#5fd33a" stroke-width="1.3" fill="none" />
<path d="M325.8,51.6 L330.2,52.9" stroke="#3d68ea" stroke-width="1.3" fill="none" />
<path d="M306.6,53.9 L307.1,62.6" stroke="#5fd33a" stroke-width="1.3" fill="none" />
<path d="M307.1,62.6 L307.6,71.3" stroke="#3d68ea" stroke-width="1.3" fill="none" />
<path d="M307.6,71.3 L315.4,70.3" stroke="#5fd33a" stroke-width="1.3" fill="none" />
<path d="M315.4,70.3 L323.1,69.3" stroke="#3d68ea" stroke-width="1.3" fill="none" />
<path d="M330.2,52.9 L327.1,58" stroke="#5fd33a" stroke-width="1.3" fill="none" />
<path d="M327.1,58 L324.1,63.1" stroke="#3d68ea" stroke-width="1.3" fill="none" />
<path d="M324.1,63.1 L323.6,66.2" stroke="#5fd33a" stroke-width="1.3" fill="none" />
<path d="M323.6,66.2 L323.1,69.3" stroke="#3d68ea" stroke-width="1.3" fill="none" />
<path d="M295.9,86.8 L296.6,91.4" stroke="#5fd33a" stroke-width="1.3" fill="none" />
<path d="M296.6,91.4 L297.4,96" stroke="#3d68ea" stroke-width="1.3" fill="none" />
<path d="M297.4,96 L302.8,101.1" stroke="#5fd33a" stroke-width="1.3" fill="none" />
<path d="M302.8,101.1 L308.1,106.2" stroke="#3d68ea" stroke-width="1.3" fill="none" />
<path d="M295.9,86.8 L302,86" stroke="#5fd33a" stroke-width="1.3" fill="none" />
<path d="M302,86 L308.1,85.2" stroke="#3d68ea" stroke-width="1.3" fill="none" />
<path d="M308.1,85.2 L310.6,85.2" stroke="#5fd33a" stroke-width="1.3" fill="none" />
<path d="M310.6,85.2 L313.2,85.2" stroke="#3d68ea" stroke-width="1.3" fill="none" />
<path d="M308.1,106.2 L315.8,101.3" stroke="#5fd33a" stroke-width="1.3" fill="none" />
<path d="M315.8,101.3 L323.5,96.5" stroke="#3d68ea" stroke-width="1.3" fill="none" />
<path d="M323.5,96.5 L328.1,90.8" stroke="#5fd33a" stroke-width="1.3" fill="none" />
<path d="M328.1,90.8 L332.8,85.2" stroke="#3d68ea" stroke-width="1.3" fill="none" />
<path d="M343,100 L339.7,94.9" stroke="#5fd33a" stroke-width="1.3" fill="none" />
<path d="M339.7,94.9 L336.4,89.8" stroke="#3d68ea" stroke-width="1.3" fill="none" />
<path d="M336.4,89.8 L334.6,87.5" stroke="#5fd33a" stroke-width="1.3" fill="none" />
<path d="M334.6,87.5 L332.8,85.2" stroke="#3d68ea" stroke-width="1.3" fill="none" />
<path d="M343,100 L346.3,96.7" stroke="#5fd33a" stroke-width="1.3" fill="none" />
<path d="M346.3,96.7 L349.6,93.4" stroke="#3d68ea" stroke-width="1.3" fill="none" />
<path d="M349.6,93.4 L351.1,86.2" stroke="#5fd33a" stroke-width="1.3" fill="none" />
<path d="M351.1,86.2 L352.7,79" stroke="#3d68ea" stroke-width="1.3" fill="none" />
<path d="M352.7,79 L345.5,75.2" stroke="#5fd33a" stroke-width="1.3" fill="none" />
<path d="M345.5,75.2 L338.4,71.3" stroke="#3d68ea" stroke-width="1.3" fill="none" />
<path d="M338.4,71.3 L330.8,70.3" stroke="#5fd33a" stroke-width="1.3" fill="none" />
<path d="M330.8,70.3 L323.1,69.3" stroke="#3d68ea" stroke-width="1.3" fill="none" />
<path d="M293.8,47.3 L300.2,50.6" stroke="#9a3ef0" stroke-width="1.4" fill="none" />
<path d="M300.2,50.6 L306.6,53.9" stroke="#3d68ea" stroke-width="1.4" fill="none" />
<path d="M341.5,44.2 L335.9,48.5" stroke="#9a3ef0" stroke-width="1.4" fill="none" />
<path d="M335.9,48.5 L330.2,52.9" stroke="#3d68ea" stroke-width="1.4" fill="none" />
<path d="M363.9,71.3 L358.3,75.2" stroke="#9a3ef0" stroke-width="1.4" fill="none" />
<path d="M358.3,75.2 L352.7,79" stroke="#3d68ea" stroke-width="1.4" fill="none" />
<path d="M282.1,80.6 L289,83.7" stroke="#9a3ef0" stroke-width="1.4" fill="none" />
<path d="M289,83.7 L295.9,86.8" stroke="#3d68ea" stroke-width="1.4" fill="none" />
<path d="M308.1,120 L308.1,113.1" stroke="#9a3ef0" stroke-width="1.4" fill="none" />
<path d="M308.1,113.1 L308.1,106.2" stroke="#3d68ea" stroke-width="1.4" fill="none" />
<path d="M344.5,114.9 L343.8,107.5" stroke="#9a3ef0" stroke-width="1.4" fill="none" />
<path d="M343.8,107.5 L343,100" stroke="#3d68ea" stroke-width="1.4" fill="none" />
<path d="M332.8,85.2 L343,100" stroke="#3d68ea" stroke-width="1.15" fill="none" />
<path d="M313.2,85.2 L295.9,86.8" stroke="#3d68ea" stroke-width="1.15" fill="none" />
<circle cx="306.6" cy="53.9" r="2.7" fill="url(#gCu)"/>
<circle cx="330.2" cy="52.9" r="2.7" fill="url(#gCu)"/>
<circle cx="295.9" cy="86.8" r="2.7" fill="url(#gCu)"/>
<circle cx="308.1" cy="106.2" r="2.7" fill="url(#gCu)"/>
<circle cx="343.0" cy="100.0" r="2.7" fill="url(#gCu)"/>
<circle cx="352.7" cy="79.0" r="2.7" fill="url(#gCu)"/>
<circle cx="323.1" cy="69.3" r="2.7" fill="url(#gCu)"/>
<circle cx="313.2" cy="85.2" r="2.7" fill="url(#gCu)"/>
<circle cx="332.8" cy="85.2" r="2.7" fill="url(#gCu)"/>
<circle cx="323.1" cy="80.1" r="2.7" fill="url(#gCu)"/>
<circle cx="321.4" cy="50.4" r="2.5" fill="url(#gSe)"/>
<circle cx="307.6" cy="71.3" r="2.5" fill="url(#gSe)"/>
<circle cx="324.1" cy="63.1" r="2.5" fill="url(#gSe)"/>
<circle cx="338.4" cy="71.3" r="2.5" fill="url(#gSe)"/>
<circle cx="297.4" cy="96.0" r="2.5" fill="url(#gSe)"/>
<circle cx="308.1" cy="85.2" r="2.5" fill="url(#gSe)"/>
<circle cx="323.5" cy="96.5" r="2.5" fill="url(#gSe)"/>
<circle cx="336.4" cy="89.8" r="2.5" fill="url(#gSe)"/>
<circle cx="349.6" cy="93.4" r="2.5" fill="url(#gSe)"/>
<circle cx="293.8" cy="47.3" r="2.8" fill="url(#gP)"/>
<circle cx="341.5" cy="44.2" r="2.8" fill="url(#gP)"/>
<circle cx="363.9" cy="71.3" r="2.8" fill="url(#gP)"/>
<circle cx="282.1" cy="80.6" r="2.8" fill="url(#gP)"/>
<circle cx="308.1" cy="120.0" r="2.8" fill="url(#gP)"/>
<circle cx="344.5" cy="114.9" r="2.8" fill="url(#gP)"/>
<text x="18.8" y="159.7" font-size="10.3"><tspan fill="#333" font-size="10.3" dy="0">[Cu</tspan><tspan fill="#333" font-size="6.2" dy="2">14</tspan><tspan fill="#333" font-size="10.3" dy="-2">(BnSe)</tspan><tspan fill="#333" font-size="6.2" dy="2">12</tspan><tspan fill="#333" font-size="10.3" dy="-2">(TXP35)</tspan><tspan fill="#333" font-size="6.2" dy="2">4</tspan><tspan fill="#333" font-size="10.3" dy="-2">H]</tspan><tspan fill="#333" font-size="6.2" dy="-4">+</tspan></text>
<text x="280.3" y="159.7" font-size="10.3"><tspan fill="#333" font-size="10.3" dy="0">[Cu</tspan><tspan fill="#333" font-size="6.2" dy="2">10</tspan><tspan fill="#333" font-size="10.3" dy="-2">(BnSe)</tspan><tspan fill="#333" font-size="6.2" dy="2">6</tspan><tspan fill="#333" font-size="10.3" dy="-2">(BDPP)</tspan><tspan fill="#333" font-size="6.2" dy="2">3</tspan><tspan fill="#333" font-size="10.3" dy="-2">]</tspan><tspan fill="#333" font-size="6.2" dy="-4">+</tspan></text>
<text x="431.5" y="24.4" font-size="10.3" fill="#333" text-anchor="end" font-weight="normal" >1:</text>
<text x="437.5" y="24.4" font-size="10.3"><tspan fill="#4a5ee8" font-size="10.3" dy="0">Cu</tspan><tspan fill="#4a5ee8" font-size="6.3" dy="2">11</tspan><tspan fill="#6ccc44" font-size="10.3" dy="-2">Se</tspan><tspan fill="#6ccc44" font-size="6.3" dy="2">6</tspan><tspan fill="#4a6a60" font-size="10.3" dy="-2">(Bn)</tspan><tspan fill="#4a6a60" font-size="6.3" dy="2">2</tspan><tspan fill="#777777" font-size="10.3" dy="-2">H</tspan><tspan fill="#777777" font-size="6.3" dy="2">4</tspan></text>
<text x="431.5" y="38.0" font-size="10.3" fill="#333" text-anchor="end" font-weight="normal" >2:</text>
<text x="437.5" y="38.0" font-size="10.3"><tspan fill="#4a5ee8" font-size="10.3" dy="0">Cu</tspan><tspan fill="#4a5ee8" font-size="6.3" dy="2">11</tspan><tspan fill="#6ccc44" font-size="10.3" dy="-2">Se</tspan><tspan fill="#6ccc44" font-size="6.3" dy="2">6</tspan><tspan fill="#f0885a" font-size="10.3" dy="-2">(C</tspan><tspan fill="#f0885a" font-size="6.3" dy="2">4</tspan><tspan fill="#f0885a" font-size="10.3" dy="-2">H</tspan><tspan fill="#f0885a" font-size="6.3" dy="2">10</tspan><tspan fill="#f0885a" font-size="10.3" dy="-2">O)</tspan><tspan fill="#f0885a" font-size="6.3" dy="2">4</tspan><tspan fill="#777777" font-size="10.3" dy="-2">H</tspan><tspan fill="#777777" font-size="6.3" dy="2">3</tspan></text>
<text x="431.5" y="51.6" font-size="10.3" fill="#333" text-anchor="end" font-weight="normal" >3:</text>
<text x="437.5" y="51.599999999999994" font-size="10.3"><tspan fill="#4a5ee8" font-size="10.3" dy="0">Cu</tspan><tspan fill="#4a5ee8" font-size="6.3" dy="2">11</tspan><tspan fill="#6ccc44" font-size="10.3" dy="-2">Se</tspan><tspan fill="#6ccc44" font-size="6.3" dy="2">6</tspan><tspan fill="#4a6a60" font-size="10.3" dy="-2">(Bn)</tspan><tspan fill="#4a6a60" font-size="6.3" dy="2">6</tspan><tspan fill="#777777" font-size="10.3" dy="-2">H</tspan></text>
<text x="431.5" y="65.2" font-size="10.3" fill="#333" text-anchor="end" font-weight="normal" >4:</text>
<text x="437.5" y="65.19999999999999" font-size="10.3"><tspan fill="#4a5ee8" font-size="10.3" dy="0">Cu</tspan><tspan fill="#4a5ee8" font-size="6.3" dy="2">14</tspan><tspan fill="#6ccc44" font-size="10.3" dy="-2">Se</tspan><tspan fill="#6ccc44" font-size="6.3" dy="2">12</tspan><tspan fill="#4a6a60" font-size="10.3" dy="-2">(Bn)</tspan><tspan fill="#4a6a60" font-size="6.3" dy="2">2</tspan><tspan fill="#8a4ee0" font-size="10.3" dy="-2">(TXP35)</tspan><tspan fill="#8a4ee0" font-size="6.3" dy="2">3</tspan><tspan fill="#777777" font-size="10.3" dy="-2">H</tspan><tspan fill="#9a2ee8" font-size="10.3" dy="0">(BDPP)</tspan><tspan fill="#9a2ee8" font-size="6.3" dy="2">2</tspan><tspan fill="#f0885a" font-size="10.3" dy="-2">(C</tspan><tspan fill="#f0885a" font-size="6.3" dy="2">4</tspan><tspan fill="#f0885a" font-size="10.3" dy="-2">H</tspan><tspan fill="#f0885a" font-size="6.3" dy="2">10</tspan><tspan fill="#f0885a" font-size="10.3" dy="-2">O)</tspan><tspan fill="#f0885a" font-size="6.3" dy="2">7</tspan></text>
<text x="431.5" y="78.8" font-size="10.3" fill="#333" text-anchor="end" font-weight="normal" >5:</text>
<text x="437.5" y="78.8" font-size="10.3"><tspan fill="#4a5ee8" font-size="10.3" dy="0">Cu</tspan><tspan fill="#4a5ee8" font-size="6.3" dy="2">14</tspan><tspan fill="#6ccc44" font-size="10.3" dy="-2">Se</tspan><tspan fill="#6ccc44" font-size="6.3" dy="2">12</tspan><tspan fill="#4a6a60" font-size="10.3" dy="-2">(Bn)</tspan><tspan fill="#4a6a60" font-size="6.3" dy="2">11</tspan><tspan fill="#8a4ee0" font-size="10.3" dy="-2">(TXP35)</tspan><tspan fill="#8a4ee0" font-size="6.3" dy="2">3</tspan><tspan fill="#777777" font-size="10.3" dy="-2">H</tspan></text>
<text x="431.5" y="92.4" font-size="10.3" fill="#333" text-anchor="end" font-weight="normal" >6:</text>
<text x="437.5" y="92.4" font-size="10.3"><tspan fill="#4a5ee8" font-size="10.3" dy="0">Cu</tspan><tspan fill="#4a5ee8" font-size="6.3" dy="2">14</tspan><tspan fill="#6ccc44" font-size="10.3" dy="-2">Se</tspan><tspan fill="#6ccc44" font-size="6.3" dy="2">12</tspan><tspan fill="#4a6a60" font-size="10.3" dy="-2">(Bn)</tspan><tspan fill="#4a6a60" font-size="6.3" dy="2">11</tspan><tspan fill="#8a4ee0" font-size="10.3" dy="-2">(TXP35)</tspan><tspan fill="#8a4ee0" font-size="6.3" dy="2">4</tspan><tspan fill="#777777" font-size="10.3" dy="-2">H</tspan></text>
<text x="431.5" y="106.0" font-size="10.3" fill="#333" text-anchor="end" font-weight="normal" >7:</text>
<text x="437.5" y="106.0" font-size="10.3"><tspan fill="#4a5ee8" font-size="10.3" dy="0">Cu</tspan><tspan fill="#4a5ee8" font-size="6.3" dy="2">14</tspan><tspan fill="#6ccc44" font-size="10.3" dy="-2">Se</tspan><tspan fill="#6ccc44" font-size="6.3" dy="2">12</tspan><tspan fill="#4a6a60" font-size="10.3" dy="-2">(Bn)</tspan><tspan fill="#4a6a60" font-size="6.3" dy="2">12</tspan><tspan fill="#8a4ee0" font-size="10.3" dy="-2">(TXP35)</tspan><tspan fill="#8a4ee0" font-size="6.3" dy="2">4</tspan><tspan fill="#777777" font-size="10.3" dy="-2">H</tspan></text>
<text x="431.5" y="119.6" font-size="10.3" fill="#333" text-anchor="end" font-weight="normal" >8:</text>
<text x="437.5" y="119.6" font-size="10.3"><tspan fill="#4a5ee8" font-size="10.3" dy="0">Cu</tspan><tspan fill="#4a5ee8" font-size="6.3" dy="2">10</tspan><tspan fill="#6ccc44" font-size="10.3" dy="-2">Se</tspan><tspan fill="#6ccc44" font-size="6.3" dy="2">9</tspan><tspan fill="#777777" font-size="10.3" dy="-2">H</tspan><tspan fill="#777777" font-size="6.3" dy="2">9</tspan></text>
<text x="431.5" y="133.2" font-size="10.3" fill="#333" text-anchor="end" font-weight="normal" >9:</text>
<text x="437.5" y="133.2" font-size="10.3"><tspan fill="#4a5ee8" font-size="10.3" dy="0">Cu</tspan><tspan fill="#4a5ee8" font-size="6.3" dy="2">7</tspan><tspan fill="#6ccc44" font-size="10.3" dy="-2">Se</tspan><tspan fill="#6ccc44" font-size="6.3" dy="2">5</tspan><tspan fill="#4a6a60" font-size="10.3" dy="-2">(Bn)</tspan><tspan fill="#f0885a" font-size="10.3" dy="0">(C</tspan><tspan fill="#f0885a" font-size="6.3" dy="2">4</tspan><tspan fill="#f0885a" font-size="10.3" dy="-2">H</tspan><tspan fill="#f0885a" font-size="6.3" dy="2">10</tspan><tspan fill="#f0885a" font-size="10.3" dy="-2">O)</tspan><tspan fill="#f0885a" font-size="6.3" dy="2">3</tspan></text>
<text x="435.3" y="146.8" font-size="10.3" fill="#333" text-anchor="end" font-weight="normal" >10:</text>
<text x="438.3" y="146.79999999999998" font-size="10.3"><tspan fill="#4a5ee8" font-size="10.3" dy="0">Cu</tspan><tspan fill="#4a5ee8" font-size="6.3" dy="2">9</tspan><tspan fill="#6ccc44" font-size="10.3" dy="-2">Se</tspan><tspan fill="#6ccc44" font-size="6.3" dy="2">7</tspan><tspan fill="#4a6a60" font-size="10.3" dy="-2">(Bn)</tspan><tspan fill="#4a6a60" font-size="6.3" dy="2">3</tspan><tspan fill="#f0885a" font-size="10.3" dy="-2">(C</tspan><tspan fill="#f0885a" font-size="6.3" dy="2">4</tspan><tspan fill="#f0885a" font-size="10.3" dy="-2">H</tspan><tspan fill="#f0885a" font-size="6.3" dy="2">10</tspan><tspan fill="#f0885a" font-size="10.3" dy="-2">O)</tspan><tspan fill="#f0885a" font-size="6.3" dy="2">2</tspan></text>
<text x="435.3" y="160.4" font-size="10.3" fill="#333" text-anchor="end" font-weight="normal" >11:</text>
<text x="438.3" y="160.4" font-size="10.3"><tspan fill="#4a5ee8" font-size="10.3" dy="0">Cu</tspan><tspan fill="#4a5ee8" font-size="6.3" dy="2">9</tspan><tspan fill="#6ccc44" font-size="10.3" dy="-2">Se</tspan><tspan fill="#6ccc44" font-size="6.3" dy="2">7</tspan><tspan fill="#9a2ee8" font-size="10.3" dy="-2">(BDPP)</tspan></text>
<path d="M54.5,327.7 L55.1,327.4 55.7,327 56.3,326.7 56.9,326.4 57.5,326.1 58.1,325.8 58.7,325.5 59.3,325.2 59.9,324.9 60.5,324.6 61.1,324.3 61.7,324 62.3,323.6 62.9,323.3 63.5,322.9 64.1,322.5 64.7,322 65.3,321.5 65.9,321 66.5,320.4 67.1,319.8 67.7,319.1 68.3,318.4 68.9,317.7 69.5,317 70.1,316.2 70.7,315.4 71.3,314.6 71.9,313.7 72.5,312.7 73.1,311.7 73.7,310.6 74.3,309.4 74.9,307.9 75.5,306.3 76.1,304.3 76.7,301.6 77.3,291.5 77.9,280.2 78.5,267.4 79.1,253.6 79.7,239.6 80.3,226.2 80.9,215.3 81.5,210.2 82.1,209.2 82.7,212.7 83.3,216.4 83.9,220 84.5,223.5 85.1,226.9 85.7,230.2 86.3,233.3 86.9,236.2 87.5,239.1 88.1,242 88.7,244.8 89.3,247.6 89.9,250.4 90.5,253.3 91.1,256.2 91.7,259.5 92.3,263.1 92.9,266.7 93.5,270 94.1,272.7 94.7,274.8 95.3,276.2 95.9,277.3 96.5,277.9 97.1,278.4 97.7,278.7 98.3,279 98.9,279.2 99.5,279.5 100.1,279.8 100.7,280.3 101.3,280.9 101.9,281.7 102.5,282.3 103.1,283.1 103.7,283.9 104.3,284.8 104.9,286 105.5,287.6 106.1,289.5 106.7,292.3 107.3,295.9 107.9,300.4 108.5,305.1 109.1,309.7 109.7,313.5 110.3,316.5 110.9,318.9 111.5,321.1 112.1,322.6 112.7,323.7 113.3,324.5 113.9,325.2 114.5,325.8 115.1,326.4 115.7,327 116.3,327.5 116.9,328 117.5,328.5 118.1,328.9 118.7,329.4 119.3,329.8 119.9,330.2 120.5,330.6 121.1,331 121.7,331.4 122.3,331.7 122.9,332.1 123.5,332.5 124.1,332.8 124.7,333.2 125.3,333.5 125.9,333.8 126.5,334.2 127.1,334.5 127.7,334.8 128.3,335.1 128.9,335.5 129.5,335.8 130.1,336.1 130.7,336.4 131.3,336.7 131.9,337 132.5,337.3 133.1,337.6 133.7,337.9 134.3,338.2 134.9,338.5 135.5,338.8 136.1,339.1 136.7,339.4 137.3,339.6 137.9,339.9 138.5,340.2 139.1,340.5 139.7,340.7 140.3,341 140.9,341.2 141.5,341.5 142.1,341.7 142.7,342 143.3,342.2 143.9,342.4 144.5,342.6 145.1,342.9 145.7,343.1 146.3,343.3 146.9,343.5 147.5,343.7 148.1,343.9 148.7,344.1 149.3,344.2 149.9,344.4 150.5,344.6 151.1,344.8 151.7,345 152.3,345.1 152.9,345.3 153.5,345.5 154.1,345.6 154.7,345.8 155.3,346 155.9,346.1 156.5,346.3 157.1,346.4 157.7,346.6 158.3,346.7 158.9,346.9 159.5,347.1 160.1,347.2 160.7,347.4 161.3,347.5 161.9,347.7 162.5,347.8 163.1,348 163.7,348.1 164.3,348.2 164.9,348.4 165.5,348.5 166.1,348.7 166.7,348.8 167.3,349 167.9,349.1 168.5,349.2 169.1,349.4 169.7,349.5 170.3,349.6 170.9,349.8 171.5,349.9 172.1,350 172.7,350.2 173.3,350.3 173.9,350.4 174.5,350.5 175.1,350.7 175.7,350.8 176.3,350.9 176.9,351 177.5,351.2 178.1,351.3 178.7,351.4 179.3,351.5 179.9,351.6 180.5,351.7 181.1,351.8 181.7,351.9 182.3,352.1 182.9,352.2 183.5,352.3 184.1,352.4 184.7,352.5 185.3,352.6 185.9,352.7 186.5,352.8 187.1,352.9 187.7,353 188.3,353 188.9,353.1 189.5,353.2 190.1,353.3 190.7,353.4 191.3,353.5 191.9,353.5 192.5,353.6 193.1,353.7 193.7,353.8 194.3,353.8 194.9,353.9 195.5,354 196.1,354 196.7,354.1 197.3,354.1 197.9,354.2 198.5,354.3 199.1,354.3 199.7,354.4 200.3,354.4 200.9,354.5 201.5,354.5 202.1,354.5 202.7,354.6 203.3,354.6 203.9,354.7 204.5,354.7 205.1,354.8 205.7,354.8 206.3,354.8 206.9,354.9 207.5,354.9 208.1,354.9 208.7,355 209.3,355 209.9,355 210.5,355.1 211.1,355.1 211.7,355.1 212.3,355.2 212.9,355.2 213.5,355.2 214.1,355.2 214.7,355.3 215.3,355.3 215.9,355.3 216.5,355.4 217.1,355.4 217.7,355.4 218.3,355.4 218.9,355.5 219.5,355.5 220.1,355.5 220.7,355.5 221.3,355.6 221.9,355.6 222.5,355.6 223.1,355.6 223.7,355.7 224.3,355.7 224.9,355.7 225.5,355.8 226.1,355.8 226.7,355.8 227.3,355.9 227.9,355.9 228.5,355.9 229.1,356 229.7,356 230.3,356 230.9,356.1 231.5,356.1 232.1,356.1 232.7,356.2 233.3,356.2 233.9,356.2 234.5,356.3 235.1,356.3 235.7,356.3 236.3,356.4 236.9,356.4 237.5,356.4 238.1,356.5 238.7,356.5 239.3,356.5 239.9,356.5 240.5,356.6 241.1,356.6 241.7,356.6 242.3,356.7 242.9,356.7 243.5,356.7 244.1,356.8 244.7,356.8 245.3,356.8 245.9,356.9 246.5,356.9 247.1,356.9 247.7,356.9 248.3,357 248.9,357 249.5,357 250.1,357.1 250.7,357.1 251.3,357.1 251.9,357.1 252.5,357.2 253.1,357.2 253.7,357.2 254.3,357.3 254.9,357.3 255.5,357.3 256.1,357.3 256.7,357.4 257.3,357.4 257.9,357.4 258.5,357.5 259.1,357.5 259.7,357.5 260.3,357.5 260.9,357.6 261.5,357.6 262.1,357.6 262.7,357.7 263.3,357.7 263.9,357.7 264.5,357.8 265.1,357.8 265.7,357.8 266.3,357.8 266.9,357.9 267.5,357.9 268.1,357.9 268.7,358 269.3,358" stroke="#6fc6ac" stroke-width="0.95" fill="none" stroke-linejoin="round"/>
<path d="M54.5,327.3 L55.1,326.9 55.7,326.6 56.3,326.3 56.9,326 57.5,325.7 58.1,325.4 58.7,325.1 59.3,324.8 59.9,324.5 60.5,324.2 61.1,323.9 61.7,323.5 62.3,323.2 62.9,322.8 63.5,322.4 64.1,322 64.7,321.6 65.3,321.1 65.9,320.5 66.5,319.9 67.1,319.3 67.7,318.7 68.3,318 68.9,317.3 69.5,316.6 70.1,315.8 70.7,315 71.3,314.1 71.9,313.3 72.5,312.3 73.1,311.3 73.7,310.2 74.3,308.9 74.9,307.5 75.5,305.8 76.1,303.8 76.7,301 77.3,291 77.9,279.9 78.5,267.2 79.1,253.6 79.7,239.8 80.3,226.5 80.9,215.6 81.5,210.4 82.1,209.2 82.7,212.7 83.3,216.3 83.9,219.9 84.5,223.4 85.1,226.7 85.7,229.9 86.3,233 86.9,235.9 87.5,238.8 88.1,241.6 88.7,244.3 89.3,247.1 89.9,249.9 90.5,252.7 91.1,255.6 91.7,258.8 92.3,262.3 92.9,265.8 93.5,269 94.1,271.6 94.7,273.7 95.3,275.1 95.9,276.2 96.5,276.8 97.1,277.3 97.7,277.6 98.3,277.9 98.9,278.2 99.5,278.4 100.1,278.8 100.7,279.3 101.3,280 101.9,280.7 102.5,281.4 103.1,282.1 103.7,283 104.3,283.9 104.9,285.1 105.5,286.7 106.1,288.6 106.7,291.3 107.3,294.9 107.9,299.2 108.5,303.9 109.1,308.4 109.7,312.1 110.3,315.1 110.9,317.4 111.5,319.6 112.1,321.1 112.7,322.2 113.3,323 113.9,323.7 114.5,324.4 115.1,325 115.7,325.6 116.3,326.1 116.9,326.6 117.5,327.1 118.1,327.6 118.7,328.1 119.3,328.5 119.9,329 120.5,329.4 121.1,329.8 121.7,330.2 122.3,330.6 122.9,331 123.5,331.4 124.1,331.8 124.7,332.1 125.3,332.5 125.9,332.9 126.5,333.2 127.1,333.6 127.7,333.9 128.3,334.3 128.9,334.6 129.5,334.9 130.1,335.3 130.7,335.6 131.3,335.9 131.9,336.3 132.5,336.6 133.1,336.9 133.7,337.2 134.3,337.6 134.9,337.9 135.5,338.2 136.1,338.5 136.7,338.8 137.3,339.1 137.9,339.4 138.5,339.7 139.1,340 139.7,340.3 140.3,340.6 140.9,340.8 141.5,341.1 142.1,341.4 142.7,341.6 143.3,341.9 143.9,342.1 144.5,342.3 145.1,342.6 145.7,342.8 146.3,343 146.9,343.2 147.5,343.4 148.1,343.6 148.7,343.8 149.3,344 149.9,344.2 150.5,344.4 151.1,344.6 151.7,344.8 152.3,345 152.9,345.1 153.5,345.3 154.1,345.5 154.7,345.7 155.3,345.8 155.9,346 156.5,346.2 157.1,346.3 157.7,346.5 158.3,346.7 158.9,346.8 159.5,347 160.1,347.2 160.7,347.3 161.3,347.5 161.9,347.6 162.5,347.8 163.1,347.9 163.7,348.1 164.3,348.2 164.9,348.4 165.5,348.5 166.1,348.7 166.7,348.8 167.3,349 167.9,349.1 168.5,349.2 169.1,349.4 169.7,349.5 170.3,349.7 170.9,349.8 171.5,349.9 172.1,350.1 172.7,350.2 173.3,350.3 173.9,350.5 174.5,350.6 175.1,350.7 175.7,350.8 176.3,351 176.9,351.1 177.5,351.2 178.1,351.3 178.7,351.4 179.3,351.6 179.9,351.7 180.5,351.8 181.1,351.9 181.7,352 182.3,352.1 182.9,352.2 183.5,352.3 184.1,352.4 184.7,352.5 185.3,352.6 185.9,352.7 186.5,352.8 187.1,352.9 187.7,353 188.3,353.1 188.9,353.2 189.5,353.3 190.1,353.4 190.7,353.5 191.3,353.5 191.9,353.6 192.5,353.7 193.1,353.8 193.7,353.8 194.3,353.9 194.9,354 195.5,354 196.1,354.1 196.7,354.2 197.3,354.2 197.9,354.3 198.5,354.3 199.1,354.4 199.7,354.4 200.3,354.5 200.9,354.5 201.5,354.6 202.1,354.6 202.7,354.7 203.3,354.7 203.9,354.7 204.5,354.8 205.1,354.8 205.7,354.9 206.3,354.9 206.9,354.9 207.5,355 208.1,355 208.7,355 209.3,355.1 209.9,355.1 210.5,355.1 211.1,355.2 211.7,355.2 212.3,355.2 212.9,355.3 213.5,355.3 214.1,355.3 214.7,355.4 215.3,355.4 215.9,355.4 216.5,355.4 217.1,355.5 217.7,355.5 218.3,355.5 218.9,355.5 219.5,355.6 220.1,355.6 220.7,355.6 221.3,355.7 221.9,355.7 222.5,355.7 223.1,355.7 223.7,355.8 224.3,355.8 224.9,355.8 225.5,355.9 226.1,355.9 226.7,355.9 227.3,356 227.9,356 228.5,356 229.1,356.1 229.7,356.1 230.3,356.1 230.9,356.2 231.5,356.2 232.1,356.2 232.7,356.3 233.3,356.3 233.9,356.3 234.5,356.4 235.1,356.4 235.7,356.4 236.3,356.5 236.9,356.5 237.5,356.5 238.1,356.6 238.7,356.6 239.3,356.6 239.9,356.7 240.5,356.7 241.1,356.7 241.7,356.8 242.3,356.8 242.9,356.8 243.5,356.8 244.1,356.9 244.7,356.9 245.3,356.9 245.9,357 246.5,357 247.1,357 247.7,357.1 248.3,357.1 248.9,357.1 249.5,357.1 250.1,357.2 250.7,357.2 251.3,357.2 251.9,357.3 252.5,357.3 253.1,357.3 253.7,357.3 254.3,357.4 254.9,357.4 255.5,357.4 256.1,357.5 256.7,357.5 257.3,357.5 257.9,357.5 258.5,357.6 259.1,357.6 259.7,357.6 260.3,357.7 260.9,357.7 261.5,357.7 262.1,357.8 262.7,357.8 263.3,357.8 263.9,357.8 264.5,357.9 265.1,357.9 265.7,357.9 266.3,358 266.9,358 267.5,358 268.1,358 268.7,358.1 269.3,358.1" stroke="#78cdb5" stroke-width="0.95" fill="none" stroke-linejoin="round"/>
<path d="M54.5,326.7 L55.1,326.4 55.7,326 56.3,325.7 56.9,325.4 57.5,325.1 58.1,324.8 58.7,324.5 59.3,324.2 59.9,323.9 60.5,323.6 61.1,323.3 61.7,322.9 62.3,322.6 62.9,322.2 63.5,321.8 64.1,321.4 64.7,320.9 65.3,320.4 65.9,319.9 66.5,319.3 67.1,318.7 67.7,318.1 68.3,317.4 68.9,316.7 69.5,316 70.1,315.2 70.7,314.4 71.3,313.6 71.9,312.7 72.5,311.7 73.1,310.7 73.7,309.6 74.3,308.4 74.9,306.9 75.5,305.2 76.1,303.1 76.7,300.3 77.3,290.5 77.9,279.5 78.5,267.1 79.1,253.7 79.7,240 80.3,227 80.9,216.1 81.5,210.8 82.1,209.2 82.7,212.7 83.3,216.2 83.9,219.7 84.5,223.2 85.1,226.5 85.7,229.6 86.3,232.6 86.9,235.5 87.5,238.3 88.1,241 88.7,243.8 89.3,246.5 89.9,249.2 90.5,251.9 91.1,254.7 91.7,257.8 92.3,261.2 92.9,264.6 93.5,267.7 94.1,270.3 94.7,272.3 95.3,273.7 95.9,274.7 96.5,275.3 97.1,275.8 97.7,276.2 98.3,276.5 98.9,276.8 99.5,277.1 100.1,277.5 100.7,278 101.3,278.7 101.9,279.5 102.5,280.2 103.1,280.9 103.7,281.8 104.3,282.7 104.9,284 105.5,285.5 106.1,287.4 106.7,290 107.3,293.5 107.9,297.8 108.5,302.3 109.1,306.6 109.7,310.3 110.3,313.1 110.9,315.5 111.5,317.6 112.1,319.1 112.7,320.2 113.3,321.1 113.9,321.8 114.5,322.5 115.1,323.1 115.7,323.7 116.3,324.3 116.9,324.8 117.5,325.4 118.1,325.9 118.7,326.4 119.3,326.8 119.9,327.3 120.5,327.8 121.1,328.2 121.7,328.7 122.3,329.1 122.9,329.5 123.5,329.9 124.1,330.3 124.7,330.7 125.3,331.1 125.9,331.5 126.5,331.9 127.1,332.3 127.7,332.7 128.3,333.1 128.9,333.4 129.5,333.8 130.1,334.2 130.7,334.6 131.3,334.9 131.9,335.3 132.5,335.7 133.1,336 133.7,336.4 134.3,336.7 134.9,337.1 135.5,337.4 136.1,337.8 136.7,338.1 137.3,338.5 137.9,338.8 138.5,339.1 139.1,339.4 139.7,339.7 140.3,340 140.9,340.3 141.5,340.6 142.1,340.9 142.7,341.1 143.3,341.4 143.9,341.7 144.5,341.9 145.1,342.2 145.7,342.4 146.3,342.6 146.9,342.9 147.5,343.1 148.1,343.3 148.7,343.5 149.3,343.8 149.9,344 150.5,344.2 151.1,344.4 151.7,344.6 152.3,344.8 152.9,345 153.5,345.1 154.1,345.3 154.7,345.5 155.3,345.7 155.9,345.9 156.5,346.1 157.1,346.2 157.7,346.4 158.3,346.6 158.9,346.8 159.5,346.9 160.1,347.1 160.7,347.3 161.3,347.4 161.9,347.6 162.5,347.7 163.1,347.9 163.7,348.1 164.3,348.2 164.9,348.4 165.5,348.5 166.1,348.7 166.7,348.8 167.3,349 167.9,349.1 168.5,349.3 169.1,349.4 169.7,349.5 170.3,349.7 170.9,349.8 171.5,350 172.1,350.1 172.7,350.2 173.3,350.4 173.9,350.5 174.5,350.6 175.1,350.8 175.7,350.9 176.3,351 176.9,351.1 177.5,351.3 178.1,351.4 178.7,351.5 179.3,351.6 179.9,351.8 180.5,351.9 181.1,352 181.7,352.1 182.3,352.2 182.9,352.3 183.5,352.4 184.1,352.5 184.7,352.6 185.3,352.7 185.9,352.8 186.5,352.9 187.1,353 187.7,353.1 188.3,353.2 188.9,353.3 189.5,353.4 190.1,353.5 190.7,353.5 191.3,353.6 191.9,353.7 192.5,353.8 193.1,353.8 193.7,353.9 194.3,354 194.9,354 195.5,354.1 196.1,354.2 196.7,354.2 197.3,354.3 197.9,354.3 198.5,354.4 199.1,354.5 199.7,354.5 200.3,354.6 200.9,354.6 201.5,354.7 202.1,354.7 202.7,354.8 203.3,354.8 203.9,354.8 204.5,354.9 205.1,354.9 205.7,355 206.3,355 206.9,355 207.5,355.1 208.1,355.1 208.7,355.1 209.3,355.2 209.9,355.2 210.5,355.3 211.1,355.3 211.7,355.3 212.3,355.3 212.9,355.4 213.5,355.4 214.1,355.4 214.7,355.5 215.3,355.5 215.9,355.5 216.5,355.6 217.1,355.6 217.7,355.6 218.3,355.6 218.9,355.7 219.5,355.7 220.1,355.7 220.7,355.8 221.3,355.8 221.9,355.8 222.5,355.8 223.1,355.9 223.7,355.9 224.3,355.9 224.9,356 225.5,356 226.1,356 226.7,356.1 227.3,356.1 227.9,356.1 228.5,356.2 229.1,356.2 229.7,356.2 230.3,356.3 230.9,356.3 231.5,356.3 232.1,356.4 232.7,356.4 233.3,356.4 233.9,356.5 234.5,356.5 235.1,356.5 235.7,356.6 236.3,356.6 236.9,356.6 237.5,356.7 238.1,356.7 238.7,356.7 239.3,356.8 239.9,356.8 240.5,356.8 241.1,356.9 241.7,356.9 242.3,356.9 242.9,357 243.5,357 244.1,357 244.7,357.1 245.3,357.1 245.9,357.1 246.5,357.1 247.1,357.2 247.7,357.2 248.3,357.2 248.9,357.3 249.5,357.3 250.1,357.3 250.7,357.4 251.3,357.4 251.9,357.4 252.5,357.4 253.1,357.5 253.7,357.5 254.3,357.5 254.9,357.6 255.5,357.6 256.1,357.6 256.7,357.6 257.3,357.7 257.9,357.7 258.5,357.7 259.1,357.8 259.7,357.8 260.3,357.8 260.9,357.9 261.5,357.9 262.1,357.9 262.7,357.9 263.3,358 263.9,358 264.5,358 265.1,358.1 265.7,358.1 266.3,358.1 266.9,358.1 267.5,358.2 268.1,358.2 268.7,358.2 269.3,358.3" stroke="#7fd4bd" stroke-width="0.95" fill="none" stroke-linejoin="round"/>
<path d="M54.5,326 L55.1,325.6 55.7,325.3 56.3,325 56.9,324.7 57.5,324.3 58.1,324 58.7,323.7 59.3,323.4 59.9,323.1 60.5,322.8 61.1,322.5 61.7,322.2 62.3,321.8 62.9,321.4 63.5,321 64.1,320.6 64.7,320.2 65.3,319.7 65.9,319.1 66.5,318.6 67.1,317.9 67.7,317.3 68.3,316.6 68.9,316 69.5,315.2 70.1,314.5 70.7,313.7 71.3,312.8 71.9,312 72.5,311 73.1,310 73.7,308.9 74.3,307.7 74.9,306.2 75.5,304.5 76.1,302.3 76.7,299.4 77.3,289.8 77.9,279 78.5,266.8 79.1,253.7 79.7,240.4 80.3,227.5 80.9,216.8 81.5,211.2 82.1,209.2 82.7,212.6 83.3,216.1 83.9,219.5 84.5,222.9 85.1,226.1 85.7,229.2 86.3,232.1 86.9,235 87.5,237.7 88.1,240.4 88.7,243 89.3,245.7 89.9,248.3 90.5,251 91.1,253.7 91.7,256.7 92.3,259.9 92.9,263.2 93.5,266.1 94.1,268.6 94.7,270.5 95.3,271.8 95.9,272.8 96.5,273.5 97.1,274 97.7,274.4 98.3,274.7 98.9,275 99.5,275.4 100.1,275.8 100.7,276.4 101.3,277.1 101.9,277.9 102.5,278.6 103.1,279.4 103.7,280.3 104.3,281.3 104.9,282.5 105.5,284 106.1,285.9 106.7,288.4 107.3,291.8 107.9,295.9 108.5,300.3 109.1,304.4 109.7,308 110.3,310.7 110.9,313 111.5,315.1 112.1,316.6 112.7,317.7 113.3,318.6 113.9,319.4 114.5,320.1 115.1,320.7 115.7,321.4 116.3,322 116.9,322.6 117.5,323.1 118.1,323.7 118.7,324.2 119.3,324.7 119.9,325.3 120.5,325.7 121.1,326.2 121.7,326.7 122.3,327.2 122.9,327.6 123.5,328.1 124.1,328.6 124.7,329 125.3,329.4 125.9,329.9 126.5,330.3 127.1,330.7 127.7,331.2 128.3,331.6 128.9,332 129.5,332.4 130.1,332.8 130.7,333.2 131.3,333.7 131.9,334.1 132.5,334.5 133.1,334.9 133.7,335.3 134.3,335.7 134.9,336.1 135.5,336.5 136.1,336.9 136.7,337.3 137.3,337.6 137.9,338 138.5,338.3 139.1,338.7 139.7,339 140.3,339.3 140.9,339.7 141.5,340 142.1,340.3 142.7,340.6 143.3,340.8 143.9,341.1 144.5,341.4 145.1,341.7 145.7,341.9 146.3,342.2 146.9,342.4 147.5,342.7 148.1,342.9 148.7,343.2 149.3,343.4 149.9,343.6 150.5,343.8 151.1,344.1 151.7,344.3 152.3,344.5 152.9,344.7 153.5,344.9 154.1,345.1 154.7,345.3 155.3,345.5 155.9,345.7 156.5,345.9 157.1,346.1 157.7,346.3 158.3,346.5 158.9,346.7 159.5,346.8 160.1,347 160.7,347.2 161.3,347.4 161.9,347.5 162.5,347.7 163.1,347.9 163.7,348 164.3,348.2 164.9,348.4 165.5,348.5 166.1,348.7 166.7,348.8 167.3,349 167.9,349.1 168.5,349.3 169.1,349.4 169.7,349.6 170.3,349.7 170.9,349.9 171.5,350 172.1,350.1 172.7,350.3 173.3,350.4 173.9,350.6 174.5,350.7 175.1,350.8 175.7,351 176.3,351.1 176.9,351.2 177.5,351.4 178.1,351.5 178.7,351.6 179.3,351.7 179.9,351.8 180.5,352 181.1,352.1 181.7,352.2 182.3,352.3 182.9,352.4 183.5,352.5 184.1,352.6 184.7,352.7 185.3,352.8 185.9,352.9 186.5,353 187.1,353.1 187.7,353.2 188.3,353.3 188.9,353.4 189.5,353.5 190.1,353.6 190.7,353.6 191.3,353.7 191.9,353.8 192.5,353.9 193.1,353.9 193.7,354 194.3,354.1 194.9,354.1 195.5,354.2 196.1,354.3 196.7,354.3 197.3,354.4 197.9,354.5 198.5,354.5 199.1,354.6 199.7,354.6 200.3,354.7 200.9,354.7 201.5,354.8 202.1,354.8 202.7,354.9 203.3,354.9 203.9,355 204.5,355 205.1,355 205.7,355.1 206.3,355.1 206.9,355.2 207.5,355.2 208.1,355.2 208.7,355.3 209.3,355.3 209.9,355.3 210.5,355.4 211.1,355.4 211.7,355.4 212.3,355.5 212.9,355.5 213.5,355.5 214.1,355.6 214.7,355.6 215.3,355.6 215.9,355.7 216.5,355.7 217.1,355.7 217.7,355.8 218.3,355.8 218.9,355.8 219.5,355.9 220.1,355.9 220.7,355.9 221.3,355.9 221.9,356 222.5,356 223.1,356 223.7,356.1 224.3,356.1 224.9,356.1 225.5,356.2 226.1,356.2 226.7,356.2 227.3,356.3 227.9,356.3 228.5,356.3 229.1,356.4 229.7,356.4 230.3,356.4 230.9,356.5 231.5,356.5 232.1,356.5 232.7,356.6 233.3,356.6 233.9,356.7 234.5,356.7 235.1,356.7 235.7,356.8 236.3,356.8 236.9,356.8 237.5,356.9 238.1,356.9 238.7,356.9 239.3,357 239.9,357 240.5,357 241.1,357.1 241.7,357.1 242.3,357.1 242.9,357.2 243.5,357.2 244.1,357.2 244.7,357.2 245.3,357.3 245.9,357.3 246.5,357.3 247.1,357.4 247.7,357.4 248.3,357.4 248.9,357.5 249.5,357.5 250.1,357.5 250.7,357.5 251.3,357.6 251.9,357.6 252.5,357.6 253.1,357.7 253.7,357.7 254.3,357.7 254.9,357.8 255.5,357.8 256.1,357.8 256.7,357.8 257.3,357.9 257.9,357.9 258.5,357.9 259.1,358 259.7,358 260.3,358 260.9,358 261.5,358.1 262.1,358.1 262.7,358.1 263.3,358.2 263.9,358.2 264.5,358.2 265.1,358.3 265.7,358.3 266.3,358.3 266.9,358.3 267.5,358.4 268.1,358.4 268.7,358.4 269.3,358.5" stroke="#8edcc8" stroke-width="0.95" fill="none" stroke-linejoin="round"/>
<path d="M54.5,324.8 L55.1,324.5 55.7,324.1 56.3,323.8 56.9,323.5 57.5,323.2 58.1,322.9 58.7,322.6 59.3,322.3 59.9,321.9 60.5,321.6 61.1,321.3 61.7,320.9 62.3,320.6 62.9,320.2 63.5,319.8 64.1,319.4 64.7,318.9 65.3,318.4 65.9,317.9 66.5,317.3 67.1,316.7 67.7,316.1 68.3,315.4 68.9,314.8 69.5,314.1 70.1,313.3 70.7,312.5 71.3,311.7 71.9,310.8 72.5,309.9 73.1,308.9 73.7,307.8 74.3,306.5 74.9,305.1 75.5,303.2 76.1,301 76.7,297.9 77.3,288.6 77.9,278.2 78.5,266.4 79.1,253.8 79.7,240.9 80.3,228.4 80.9,217.8 81.5,211.8 82.1,209.2 82.7,212.5 83.3,215.8 83.9,219.2 84.5,222.5 85.1,225.6 85.7,228.6 86.3,231.4 86.9,234.1 87.5,236.7 88.1,239.3 88.7,241.9 89.3,244.4 89.9,246.9 90.5,249.4 91.1,252 91.7,254.8 92.3,257.8 92.9,260.8 93.5,263.6 94.1,265.8 94.7,267.6 95.3,268.9 95.9,269.9 96.5,270.5 97.1,271 97.7,271.5 98.3,271.9 98.9,272.2 99.5,272.7 100.1,273.1 100.7,273.8 101.3,274.5 101.9,275.4 102.5,276.2 103.1,277 103.7,277.9 104.3,278.9 104.9,280.1 105.5,281.6 106.1,283.5 106.7,285.9 107.3,289.1 107.9,292.9 108.5,297 109.1,300.9 109.7,304.3 110.3,306.9 110.9,309.1 111.5,311.1 112.1,312.6 112.7,313.7 113.3,314.7 113.9,315.5 114.5,316.2 115.1,316.9 115.7,317.6 116.3,318.3 116.9,319 117.5,319.6 118.1,320.2 118.7,320.8 119.3,321.4 119.9,321.9 120.5,322.5 121.1,323.1 121.7,323.6 122.3,324.1 122.9,324.7 123.5,325.2 124.1,325.7 124.7,326.2 125.3,326.7 125.9,327.2 126.5,327.7 127.1,328.2 127.7,328.7 128.3,329.2 128.9,329.7 129.5,330.2 130.1,330.7 130.7,331.2 131.3,331.6 131.9,332.1 132.5,332.6 133.1,333.1 133.7,333.6 134.3,334 134.9,334.5 135.5,335 136.1,335.4 136.7,335.8 137.3,336.3 137.9,336.7 138.5,337.1 139.1,337.5 139.7,337.9 140.3,338.2 140.9,338.6 141.5,338.9 142.1,339.3 142.7,339.6 143.3,339.9 143.9,340.3 144.5,340.6 145.1,340.9 145.7,341.2 146.3,341.5 146.9,341.8 147.5,342 148.1,342.3 148.7,342.6 149.3,342.8 149.9,343.1 150.5,343.3 151.1,343.6 151.7,343.8 152.3,344.1 152.9,344.3 153.5,344.5 154.1,344.8 154.7,345 155.3,345.2 155.9,345.4 156.5,345.7 157.1,345.9 157.7,346.1 158.3,346.3 158.9,346.5 159.5,346.7 160.1,346.9 160.7,347.1 161.3,347.3 161.9,347.5 162.5,347.6 163.1,347.8 163.7,348 164.3,348.2 164.9,348.3 165.5,348.5 166.1,348.7 166.7,348.8 167.3,349 167.9,349.2 168.5,349.3 169.1,349.5 169.7,349.6 170.3,349.8 170.9,349.9 171.5,350.1 172.1,350.2 172.7,350.4 173.3,350.5 173.9,350.7 174.5,350.8 175.1,350.9 175.7,351.1 176.3,351.2 176.9,351.4 177.5,351.5 178.1,351.6 178.7,351.7 179.3,351.9 179.9,352 180.5,352.1 181.1,352.2 181.7,352.3 182.3,352.5 182.9,352.6 183.5,352.7 184.1,352.8 184.7,352.9 185.3,353 185.9,353.1 186.5,353.2 187.1,353.3 187.7,353.4 188.3,353.4 188.9,353.5 189.5,353.6 190.1,353.7 190.7,353.8 191.3,353.9 191.9,353.9 192.5,354 193.1,354.1 193.7,354.2 194.3,354.2 194.9,354.3 195.5,354.4 196.1,354.4 196.7,354.5 197.3,354.6 197.9,354.6 198.5,354.7 199.1,354.7 199.7,354.8 200.3,354.8 200.9,354.9 201.5,355 202.1,355 202.7,355.1 203.3,355.1 203.9,355.1 204.5,355.2 205.1,355.2 205.7,355.3 206.3,355.3 206.9,355.4 207.5,355.4 208.1,355.4 208.7,355.5 209.3,355.5 209.9,355.6 210.5,355.6 211.1,355.6 211.7,355.7 212.3,355.7 212.9,355.7 213.5,355.8 214.1,355.8 214.7,355.8 215.3,355.9 215.9,355.9 216.5,355.9 217.1,356 217.7,356 218.3,356 218.9,356.1 219.5,356.1 220.1,356.1 220.7,356.2 221.3,356.2 221.9,356.2 222.5,356.3 223.1,356.3 223.7,356.3 224.3,356.4 224.9,356.4 225.5,356.4 226.1,356.5 226.7,356.5 227.3,356.5 227.9,356.6 228.5,356.6 229.1,356.6 229.7,356.7 230.3,356.7 230.9,356.8 231.5,356.8 232.1,356.8 232.7,356.9 233.3,356.9 233.9,356.9 234.5,357 235.1,357 235.7,357 236.3,357.1 236.9,357.1 237.5,357.2 238.1,357.2 238.7,357.2 239.3,357.3 239.9,357.3 240.5,357.3 241.1,357.4 241.7,357.4 242.3,357.4 242.9,357.5 243.5,357.5 244.1,357.5 244.7,357.5 245.3,357.6 245.9,357.6 246.5,357.6 247.1,357.7 247.7,357.7 248.3,357.7 248.9,357.8 249.5,357.8 250.1,357.8 250.7,357.9 251.3,357.9 251.9,357.9 252.5,357.9 253.1,358 253.7,358 254.3,358 254.9,358.1 255.5,358.1 256.1,358.1 256.7,358.2 257.3,358.2 257.9,358.2 258.5,358.2 259.1,358.3 259.7,358.3 260.3,358.3 260.9,358.4 261.5,358.4 262.1,358.4 262.7,358.4 263.3,358.5 263.9,358.5 264.5,358.5 265.1,358.6 265.7,358.6 266.3,358.6 266.9,358.7 267.5,358.7 268.1,358.7 268.7,358.8 269.3,358.8" stroke="#a9e4da" stroke-width="0.95" fill="none" stroke-linejoin="round"/>
<path d="M54.5,322 L55.1,321.6 55.7,321.3 56.3,320.9 56.9,320.6 57.5,320.3 58.1,319.9 58.7,319.6 59.3,319.3 59.9,319 60.5,318.6 61.1,318.3 61.7,317.9 62.3,317.5 62.9,317.1 63.5,316.7 64.1,316.3 64.7,315.8 65.3,315.3 65.9,314.8 66.5,314.3 67.1,313.7 67.7,313.1 68.3,312.5 68.9,311.8 69.5,311.1 70.1,310.4 70.7,309.6 71.3,308.8 71.9,308 72.5,307.1 73.1,306.1 73.7,305 74.3,303.7 74.9,302.2 75.5,300.2 76.1,297.6 76.7,294.2 77.3,285.7 77.9,276.1 78.5,265.5 79.1,254 79.7,242.2 80.3,230.5 80.9,220.2 81.5,213.4 82.1,209.2 82.7,212.2 83.3,215.3 83.9,218.4 84.5,221.4 85.1,224.3 85.7,227 86.3,229.5 86.9,232 87.5,234.4 88.1,236.7 88.7,239 89.3,241.2 89.9,243.4 90.5,245.6 91.1,247.7 91.7,250 92.3,252.5 92.9,254.9 93.5,257.1 94.1,259 94.7,260.5 95.3,261.6 95.9,262.5 96.5,263.1 97.1,263.7 97.7,264.2 98.3,264.7 98.9,265.3 99.5,265.9 100.1,266.5 100.7,267.3 101.3,268.1 101.9,269.1 102.5,270 103.1,270.9 103.7,271.9 104.3,273 104.9,274.2 105.5,275.7 106.1,277.4 106.7,279.5 107.3,282.3 107.9,285.5 108.5,288.9 109.1,292.1 109.7,295 110.3,297.3 110.9,299.3 111.5,301.1 112.1,302.6 112.7,303.8 113.3,304.8 113.9,305.7 114.5,306.6 115.1,307.5 115.7,308.3 116.3,309.1 116.9,309.9 117.5,310.7 118.1,311.5 118.7,312.2 119.3,313 119.9,313.7 120.5,314.4 121.1,315.1 121.7,315.8 122.3,316.5 122.9,317.2 123.5,317.9 124.1,318.6 124.7,319.3 125.3,319.9 125.9,320.6 126.5,321.3 127.1,321.9 127.7,322.6 128.3,323.2 128.9,323.9 129.5,324.6 130.1,325.2 130.7,325.9 131.3,326.6 131.9,327.3 132.5,327.9 133.1,328.6 133.7,329.2 134.3,329.9 134.9,330.5 135.5,331.1 136.1,331.7 136.7,332.3 137.3,332.9 137.9,333.5 138.5,334 139.1,334.5 139.7,335 140.3,335.5 140.9,336 141.5,336.4 142.1,336.9 142.7,337.3 143.3,337.7 143.9,338.1 144.5,338.5 145.1,338.9 145.7,339.3 146.3,339.7 146.9,340 147.5,340.4 148.1,340.7 148.7,341.1 149.3,341.4 149.9,341.8 150.5,342.1 151.1,342.4 151.7,342.7 152.3,343 152.9,343.3 153.5,343.6 154.1,343.9 154.7,344.2 155.3,344.5 155.9,344.8 156.5,345.1 157.1,345.3 157.7,345.6 158.3,345.8 158.9,346.1 159.5,346.3 160.1,346.6 160.7,346.8 161.3,347 161.9,347.3 162.5,347.5 163.1,347.7 163.7,347.9 164.3,348.1 164.9,348.3 165.5,348.5 166.1,348.7 166.7,348.9 167.3,349 167.9,349.2 168.5,349.4 169.1,349.6 169.7,349.8 170.3,349.9 170.9,350.1 171.5,350.3 172.1,350.4 172.7,350.6 173.3,350.8 173.9,350.9 174.5,351.1 175.1,351.2 175.7,351.4 176.3,351.5 176.9,351.7 177.5,351.8 178.1,352 178.7,352.1 179.3,352.2 179.9,352.4 180.5,352.5 181.1,352.6 181.7,352.7 182.3,352.8 182.9,353 183.5,353.1 184.1,353.2 184.7,353.3 185.3,353.4 185.9,353.5 186.5,353.6 187.1,353.7 187.7,353.8 188.3,353.8 188.9,353.9 189.5,354 190.1,354.1 190.7,354.2 191.3,354.3 191.9,354.4 192.5,354.4 193.1,354.5 193.7,354.6 194.3,354.7 194.9,354.7 195.5,354.8 196.1,354.9 196.7,354.9 197.3,355 197.9,355 198.5,355.1 199.1,355.2 199.7,355.2 200.3,355.3 200.9,355.3 201.5,355.4 202.1,355.5 202.7,355.5 203.3,355.6 203.9,355.6 204.5,355.7 205.1,355.7 205.7,355.8 206.3,355.8 206.9,355.9 207.5,355.9 208.1,355.9 208.7,356 209.3,356 209.9,356.1 210.5,356.1 211.1,356.2 211.7,356.2 212.3,356.2 212.9,356.3 213.5,356.3 214.1,356.4 214.7,356.4 215.3,356.4 215.9,356.5 216.5,356.5 217.1,356.6 217.7,356.6 218.3,356.6 218.9,356.7 219.5,356.7 220.1,356.8 220.7,356.8 221.3,356.8 221.9,356.9 222.5,356.9 223.1,356.9 223.7,357 224.3,357 224.9,357.1 225.5,357.1 226.1,357.1 226.7,357.2 227.3,357.2 227.9,357.3 228.5,357.3 229.1,357.3 229.7,357.4 230.3,357.4 230.9,357.5 231.5,357.5 232.1,357.5 232.7,357.6 233.3,357.6 233.9,357.7 234.5,357.7 235.1,357.7 235.7,357.8 236.3,357.8 236.9,357.8 237.5,357.9 238.1,357.9 238.7,358 239.3,358 239.9,358 240.5,358.1 241.1,358.1 241.7,358.1 242.3,358.2 242.9,358.2 243.5,358.2 244.1,358.3 244.7,358.3 245.3,358.3 245.9,358.4 246.5,358.4 247.1,358.4 247.7,358.5 248.3,358.5 248.9,358.5 249.5,358.6 250.1,358.6 250.7,358.6 251.3,358.6 251.9,358.7 252.5,358.7 253.1,358.7 253.7,358.8 254.3,358.8 254.9,358.8 255.5,358.9 256.1,358.9 256.7,358.9 257.3,359 257.9,359 258.5,359 259.1,359 259.7,359.1 260.3,359.1 260.9,359.1 261.5,359.2 262.1,359.2 262.7,359.2 263.3,359.3 263.9,359.3 264.5,359.3 265.1,359.4 265.7,359.4 266.3,359.4 266.9,359.5 267.5,359.5 268.1,359.5 268.7,359.6 269.3,359.6" stroke="#8ccac6" stroke-width="0.95" fill="none" stroke-linejoin="round"/>
<path d="M54.5,319.4 L55.1,319 55.7,318.7 56.3,318.3 56.9,318 57.5,317.6 58.1,317.3 58.7,317 59.3,316.6 59.9,316.3 60.5,315.9 61.1,315.5 61.7,315.2 62.3,314.7 62.9,314.3 63.5,313.9 64.1,313.5 64.7,313 65.3,312.5 65.9,312 66.5,311.5 67.1,311 67.7,310.4 68.3,309.8 68.9,309.1 69.5,308.5 70.1,307.7 70.7,307 71.3,306.2 71.9,305.4 72.5,304.5 73.1,303.6 73.7,302.5 74.3,301.2 74.9,299.6 75.5,297.4 76.1,294.6 76.7,290.8 77.3,283.2 77.9,274.3 78.5,264.6 79.1,254.2 79.7,243.4 80.3,232.5 80.9,222.5 81.5,214.9 82.1,209.2 82.7,212 83.3,214.8 83.9,217.7 84.5,220.5 85.1,223.1 85.7,225.5 86.3,227.9 86.9,230.1 87.5,232.2 88.1,234.3 88.7,236.4 89.3,238.3 89.9,240.2 90.5,242.1 91.1,243.9 91.7,245.8 92.3,247.7 92.9,249.6 93.5,251.4 94.1,252.8 94.7,254 95.3,255 95.9,255.8 96.5,256.4 97.1,257.1 97.7,257.7 98.3,258.3 98.9,259 99.5,259.7 100.1,260.5 100.7,261.4 101.3,262.4 101.9,263.4 102.5,264.4 103.1,265.5 103.7,266.5 104.3,267.7 104.9,268.9 105.5,270.3 106.1,271.9 106.7,273.8 107.3,276.1 107.9,278.8 108.5,281.5 109.1,284.2 109.7,286.6 110.3,288.7 110.9,290.5 111.5,292.2 112.1,293.6 112.7,294.8 113.3,295.9 113.9,297 114.5,298 115.1,298.9 115.7,299.9 116.3,300.9 116.9,301.8 117.5,302.7 118.1,303.6 118.7,304.5 119.3,305.4 119.9,306.3 120.5,307.1 121.1,308 121.7,308.8 122.3,309.7 122.9,310.5 123.5,311.3 124.1,312.2 124.7,313 125.3,313.8 125.9,314.6 126.5,315.5 127.1,316.3 127.7,317.1 128.3,317.9 128.9,318.7 129.5,319.5 130.1,320.4 130.7,321.2 131.3,322 131.9,322.9 132.5,323.7 133.1,324.5 133.7,325.3 134.3,326.1 134.9,326.9 135.5,327.7 136.1,328.4 136.7,329.2 137.3,329.9 137.9,330.5 138.5,331.2 139.1,331.8 139.7,332.4 140.3,333 140.9,333.6 141.5,334.1 142.1,334.7 142.7,335.2 143.3,335.7 143.9,336.2 144.5,336.6 145.1,337.1 145.7,337.6 146.3,338 146.9,338.5 147.5,338.9 148.1,339.3 148.7,339.7 149.3,340.2 149.9,340.6 150.5,341 151.1,341.3 151.7,341.7 152.3,342.1 152.9,342.5 153.5,342.8 154.1,343.2 154.7,343.5 155.3,343.9 155.9,344.2 156.5,344.5 157.1,344.8 157.7,345.1 158.3,345.4 158.9,345.7 159.5,346 160.1,346.3 160.7,346.6 161.3,346.8 161.9,347.1 162.5,347.3 163.1,347.6 163.7,347.8 164.3,348 164.9,348.2 165.5,348.5 166.1,348.7 166.7,348.9 167.3,349.1 167.9,349.3 168.5,349.5 169.1,349.7 169.7,349.9 170.3,350.1 170.9,350.2 171.5,350.4 172.1,350.6 172.7,350.8 173.3,351 173.9,351.1 174.5,351.3 175.1,351.5 175.7,351.7 176.3,351.8 176.9,352 177.5,352.1 178.1,352.3 178.7,352.4 179.3,352.6 179.9,352.7 180.5,352.8 181.1,353 181.7,353.1 182.3,353.2 182.9,353.3 183.5,353.4 184.1,353.5 184.7,353.6 185.3,353.7 185.9,353.8 186.5,353.9 187.1,354 187.7,354.1 188.3,354.2 188.9,354.3 189.5,354.4 190.1,354.5 190.7,354.6 191.3,354.6 191.9,354.7 192.5,354.8 193.1,354.9 193.7,354.9 194.3,355 194.9,355.1 195.5,355.2 196.1,355.2 196.7,355.3 197.3,355.4 197.9,355.4 198.5,355.5 199.1,355.6 199.7,355.6 200.3,355.7 200.9,355.7 201.5,355.8 202.1,355.9 202.7,355.9 203.3,356 203.9,356 204.5,356.1 205.1,356.1 205.7,356.2 206.3,356.2 206.9,356.3 207.5,356.3 208.1,356.4 208.7,356.4 209.3,356.5 209.9,356.5 210.5,356.6 211.1,356.6 211.7,356.7 212.3,356.7 212.9,356.8 213.5,356.8 214.1,356.9 214.7,356.9 215.3,357 215.9,357 216.5,357.1 217.1,357.1 217.7,357.1 218.3,357.2 218.9,357.2 219.5,357.3 220.1,357.3 220.7,357.4 221.3,357.4 221.9,357.4 222.5,357.5 223.1,357.5 223.7,357.6 224.3,357.6 224.9,357.7 225.5,357.7 226.1,357.7 226.7,357.8 227.3,357.8 227.9,357.9 228.5,357.9 229.1,358 229.7,358 230.3,358.1 230.9,358.1 231.5,358.1 232.1,358.2 232.7,358.2 233.3,358.3 233.9,358.3 234.5,358.3 235.1,358.4 235.7,358.4 236.3,358.5 236.9,358.5 237.5,358.5 238.1,358.6 238.7,358.6 239.3,358.7 239.9,358.7 240.5,358.7 241.1,358.8 241.7,358.8 242.3,358.8 242.9,358.9 243.5,358.9 244.1,358.9 244.7,359 245.3,359 245.9,359 246.5,359.1 247.1,359.1 247.7,359.1 248.3,359.2 248.9,359.2 249.5,359.2 250.1,359.3 250.7,359.3 251.3,359.3 251.9,359.4 252.5,359.4 253.1,359.4 253.7,359.5 254.3,359.5 254.9,359.5 255.5,359.6 256.1,359.6 256.7,359.6 257.3,359.7 257.9,359.7 258.5,359.7 259.1,359.7 259.7,359.8 260.3,359.8 260.9,359.8 261.5,359.9 262.1,359.9 262.7,359.9 263.3,360 263.9,360 264.5,360 265.1,360.1 265.7,360.1 266.3,360.1 266.9,360.2 267.5,360.2 268.1,360.2 268.7,360.3 269.3,360.3" stroke="#5ba8a8" stroke-width="0.95" fill="none" stroke-linejoin="round"/>
<path d="M54.5,317.5 L55.1,317.2 55.7,316.8 56.3,316.4 56.9,316.1 57.5,315.7 58.1,315.4 58.7,315 59.3,314.7 59.9,314.3 60.5,314 61.1,313.6 61.7,313.2 62.3,312.8 62.9,312.3 63.5,311.9 64.1,311.4 64.7,311 65.3,310.5 65.9,310 66.5,309.5 67.1,309 67.7,308.4 68.3,307.8 68.9,307.2 69.5,306.5 70.1,305.8 70.7,305.1 71.3,304.3 71.9,303.5 72.5,302.7 73.1,301.8 73.7,300.7 74.3,299.4 74.9,297.7 75.5,295.4 76.1,292.5 76.7,288.4 77.3,281.3 77.9,273 78.5,264 79.1,254.4 79.7,244.2 80.3,233.9 80.9,224.1 81.5,216 82.1,209.2 82.7,211.8 83.3,214.5 83.9,217.2 84.5,219.8 85.1,222.3 85.7,224.5 86.3,226.6 86.9,228.7 87.5,230.7 88.1,232.6 88.7,234.5 89.3,236.3 89.9,238 90.5,239.6 91.1,241.2 91.7,242.7 92.3,244.3 92.9,245.8 93.5,247.2 94.1,248.4 94.7,249.4 95.3,250.2 95.9,251 96.5,251.6 97.1,252.3 97.7,253 98.3,253.7 98.9,254.5 99.5,255.3 100.1,256.2 100.7,257.2 101.3,258.2 101.9,259.3 102.5,260.4 103.1,261.5 103.7,262.7 104.3,263.8 104.9,265.1 105.5,266.5 106.1,268 106.7,269.7 107.3,271.7 107.9,273.9 108.5,276.3 109.1,278.5 109.7,280.6 110.3,282.4 110.9,284.1 111.5,285.7 112.1,287.1 112.7,288.3 113.3,289.5 113.9,290.6 114.5,291.7 115.1,292.8 115.7,293.9 116.3,294.9 116.9,295.9 117.5,296.9 118.1,297.9 118.7,298.9 119.3,299.9 119.9,300.9 120.5,301.8 121.1,302.8 121.7,303.8 122.3,304.7 122.9,305.7 123.5,306.6 124.1,307.5 124.7,308.5 125.3,309.4 125.9,310.3 126.5,311.3 127.1,312.2 127.7,313.1 128.3,314 128.9,314.9 129.5,315.9 130.1,316.8 130.7,317.8 131.3,318.8 131.9,319.7 132.5,320.7 133.1,321.6 133.7,322.5 134.3,323.4 134.9,324.3 135.5,325.2 136.1,326.1 136.7,326.9 137.3,327.7 137.9,328.4 138.5,329.2 139.1,329.9 139.7,330.6 140.3,331.2 140.9,331.9 141.5,332.5 142.1,333.1 142.7,333.6 143.3,334.2 143.9,334.8 144.5,335.3 145.1,335.8 145.7,336.4 146.3,336.9 146.9,337.4 147.5,337.8 148.1,338.3 148.7,338.8 149.3,339.2 149.9,339.7 150.5,340.1 151.1,340.6 151.7,341 152.3,341.4 152.9,341.8 153.5,342.2 154.1,342.6 154.7,343 155.3,343.4 155.9,343.8 156.5,344.1 157.1,344.5 157.7,344.8 158.3,345.2 158.9,345.5 159.5,345.8 160.1,346.1 160.7,346.4 161.3,346.7 161.9,347 162.5,347.2 163.1,347.5 163.7,347.7 164.3,348 164.9,348.2 165.5,348.5 166.1,348.7 166.7,348.9 167.3,349.1 167.9,349.3 168.5,349.5 169.1,349.7 169.7,349.9 170.3,350.1 170.9,350.3 171.5,350.5 172.1,350.7 172.7,350.9 173.3,351.1 173.9,351.3 174.5,351.5 175.1,351.7 175.7,351.9 176.3,352 176.9,352.2 177.5,352.4 178.1,352.5 178.7,352.7 179.3,352.8 179.9,353 180.5,353.1 181.1,353.2 181.7,353.3 182.3,353.5 182.9,353.6 183.5,353.7 184.1,353.8 184.7,353.9 185.3,354 185.9,354.1 186.5,354.2 187.1,354.3 187.7,354.4 188.3,354.5 188.9,354.6 189.5,354.6 190.1,354.7 190.7,354.8 191.3,354.9 191.9,355 192.5,355.1 193.1,355.1 193.7,355.2 194.3,355.3 194.9,355.4 195.5,355.4 196.1,355.5 196.7,355.6 197.3,355.6 197.9,355.7 198.5,355.8 199.1,355.8 199.7,355.9 200.3,356 200.9,356 201.5,356.1 202.1,356.1 202.7,356.2 203.3,356.3 203.9,356.3 204.5,356.4 205.1,356.4 205.7,356.5 206.3,356.6 206.9,356.6 207.5,356.7 208.1,356.7 208.7,356.8 209.3,356.8 209.9,356.9 210.5,356.9 211.1,357 211.7,357 212.3,357.1 212.9,357.1 213.5,357.2 214.1,357.2 214.7,357.3 215.3,357.3 215.9,357.4 216.5,357.4 217.1,357.5 217.7,357.5 218.3,357.6 218.9,357.6 219.5,357.7 220.1,357.7 220.7,357.8 221.3,357.8 221.9,357.9 222.5,357.9 223.1,358 223.7,358 224.3,358 224.9,358.1 225.5,358.1 226.1,358.2 226.7,358.2 227.3,358.3 227.9,358.3 228.5,358.4 229.1,358.4 229.7,358.5 230.3,358.5 230.9,358.6 231.5,358.6 232.1,358.6 232.7,358.7 233.3,358.7 233.9,358.8 234.5,358.8 235.1,358.9 235.7,358.9 236.3,358.9 236.9,359 237.5,359 238.1,359.1 238.7,359.1 239.3,359.1 239.9,359.2 240.5,359.2 241.1,359.2 241.7,359.3 242.3,359.3 242.9,359.4 243.5,359.4 244.1,359.4 244.7,359.5 245.3,359.5 245.9,359.5 246.5,359.6 247.1,359.6 247.7,359.6 248.3,359.7 248.9,359.7 249.5,359.7 250.1,359.8 250.7,359.8 251.3,359.8 251.9,359.9 252.5,359.9 253.1,359.9 253.7,360 254.3,360 254.9,360 255.5,360.1 256.1,360.1 256.7,360.1 257.3,360.2 257.9,360.2 258.5,360.2 259.1,360.3 259.7,360.3 260.3,360.3 260.9,360.4 261.5,360.4 262.1,360.4 262.7,360.5 263.3,360.5 263.9,360.5 264.5,360.6 265.1,360.6 265.7,360.6 266.3,360.7 266.9,360.7 267.5,360.7 268.1,360.8 268.7,360.8 269.3,360.8" stroke="#4593a0" stroke-width="0.95" fill="none" stroke-linejoin="round"/>
<path d="M54.5,316.4 L55.1,316 55.7,315.7 56.3,315.3 56.9,314.9 57.5,314.6 58.1,314.2 58.7,313.9 59.3,313.5 59.9,313.1 60.5,312.8 61.1,312.4 61.7,312 62.3,311.5 62.9,311.1 63.5,310.7 64.1,310.2 64.7,309.8 65.3,309.3 65.9,308.8 66.5,308.3 67.1,307.8 67.7,307.2 68.3,306.6 68.9,306 69.5,305.4 70.1,304.6 70.7,303.9 71.3,303.1 71.9,302.4 72.5,301.6 73.1,300.7 73.7,299.6 74.3,298.3 74.9,296.5 75.5,294.2 76.1,291.1 76.7,287 77.3,280.1 77.9,272.2 78.5,263.6 79.1,254.5 79.7,244.8 80.3,234.8 80.9,225.1 81.5,216.6 82.1,209.2 82.7,211.7 83.3,214.3 83.9,216.9 84.5,219.4 85.1,221.7 85.7,223.9 86.3,225.9 86.9,227.9 87.5,229.8 88.1,231.6 88.7,233.3 89.3,235 89.9,236.6 90.5,238 91.1,239.5 91.7,240.8 92.3,242.2 92.9,243.5 93.5,244.6 94.1,245.6 94.7,246.5 95.3,247.3 95.9,248 96.5,248.7 97.1,249.3 97.7,250.1 98.3,250.9 98.9,251.7 99.5,252.6 100.1,253.5 100.7,254.6 101.3,255.7 101.9,256.8 102.5,257.9 103.1,259.1 103.7,260.3 104.3,261.5 104.9,262.7 105.5,264.1 106.1,265.5 106.7,267.1 107.3,268.9 107.9,270.9 108.5,273 109.1,275 109.7,276.9 110.3,278.6 110.9,280.2 111.5,281.7 112.1,283.1 112.7,284.4 113.3,285.6 113.9,286.7 114.5,287.9 115.1,289 115.7,290.1 116.3,291.2 116.9,292.3 117.5,293.4 118.1,294.4 118.7,295.5 119.3,296.5 119.9,297.6 120.5,298.6 121.1,299.6 121.7,300.7 122.3,301.7 122.9,302.7 123.5,303.7 124.1,304.7 124.7,305.7 125.3,306.7 125.9,307.7 126.5,308.7 127.1,309.7 127.7,310.6 128.3,311.6 128.9,312.6 129.5,313.6 130.1,314.7 130.7,315.7 131.3,316.7 131.9,317.8 132.5,318.8 133.1,319.8 133.7,320.8 134.3,321.8 134.9,322.7 135.5,323.7 136.1,324.6 136.7,325.5 137.3,326.3 137.9,327.1 138.5,327.9 139.1,328.7 139.7,329.4 140.3,330.1 140.9,330.8 141.5,331.4 142.1,332.1 142.7,332.7 143.3,333.3 143.9,333.9 144.5,334.5 145.1,335 145.7,335.6 146.3,336.1 146.9,336.7 147.5,337.2 148.1,337.7 148.7,338.2 149.3,338.7 149.9,339.2 150.5,339.6 151.1,340.1 151.7,340.5 152.3,341 152.9,341.4 153.5,341.9 154.1,342.3 154.7,342.7 155.3,343.1 155.9,343.5 156.5,343.9 157.1,344.3 157.7,344.6 158.3,345 158.9,345.3 159.5,345.6 160.1,346 160.7,346.3 161.3,346.6 161.9,346.9 162.5,347.2 163.1,347.4 163.7,347.7 164.3,348 164.9,348.2 165.5,348.4 166.1,348.7 166.7,348.9 167.3,349.1 167.9,349.4 168.5,349.6 169.1,349.8 169.7,350 170.3,350.2 170.9,350.4 171.5,350.6 172.1,350.8 172.7,351 173.3,351.2 173.9,351.4 174.5,351.6 175.1,351.8 175.7,352 176.3,352.2 176.9,352.3 177.5,352.5 178.1,352.7 178.7,352.8 179.3,353 179.9,353.1 180.5,353.2 181.1,353.4 181.7,353.5 182.3,353.6 182.9,353.7 183.5,353.8 184.1,354 184.7,354.1 185.3,354.2 185.9,354.3 186.5,354.4 187.1,354.4 187.7,354.5 188.3,354.6 188.9,354.7 189.5,354.8 190.1,354.9 190.7,355 191.3,355.1 191.9,355.1 192.5,355.2 193.1,355.3 193.7,355.4 194.3,355.4 194.9,355.5 195.5,355.6 196.1,355.7 196.7,355.7 197.3,355.8 197.9,355.9 198.5,355.9 199.1,356 199.7,356.1 200.3,356.1 200.9,356.2 201.5,356.3 202.1,356.3 202.7,356.4 203.3,356.5 203.9,356.5 204.5,356.6 205.1,356.6 205.7,356.7 206.3,356.7 206.9,356.8 207.5,356.9 208.1,356.9 208.7,357 209.3,357 209.9,357.1 210.5,357.1 211.1,357.2 211.7,357.2 212.3,357.3 212.9,357.4 213.5,357.4 214.1,357.5 214.7,357.5 215.3,357.6 215.9,357.6 216.5,357.7 217.1,357.7 217.7,357.8 218.3,357.8 218.9,357.9 219.5,357.9 220.1,358 220.7,358 221.3,358.1 221.9,358.1 222.5,358.2 223.1,358.2 223.7,358.3 224.3,358.3 224.9,358.4 225.5,358.4 226.1,358.5 226.7,358.5 227.3,358.6 227.9,358.6 228.5,358.6 229.1,358.7 229.7,358.7 230.3,358.8 230.9,358.8 231.5,358.9 232.1,358.9 232.7,359 233.3,359 233.9,359.1 234.5,359.1 235.1,359.1 235.7,359.2 236.3,359.2 236.9,359.3 237.5,359.3 238.1,359.3 238.7,359.4 239.3,359.4 239.9,359.5 240.5,359.5 241.1,359.5 241.7,359.6 242.3,359.6 242.9,359.7 243.5,359.7 244.1,359.7 244.7,359.8 245.3,359.8 245.9,359.8 246.5,359.9 247.1,359.9 247.7,359.9 248.3,360 248.9,360 249.5,360 250.1,360.1 250.7,360.1 251.3,360.1 251.9,360.2 252.5,360.2 253.1,360.2 253.7,360.3 254.3,360.3 254.9,360.3 255.5,360.4 256.1,360.4 256.7,360.4 257.3,360.5 257.9,360.5 258.5,360.5 259.1,360.6 259.7,360.6 260.3,360.6 260.9,360.7 261.5,360.7 262.1,360.7 262.7,360.8 263.3,360.8 263.9,360.8 264.5,360.9 265.1,360.9 265.7,360.9 266.3,361 266.9,361 267.5,361 268.1,361.1 268.7,361.1 269.3,361.1" stroke="#3f879c" stroke-width="0.95" fill="none" stroke-linejoin="round"/>
<path d="M54.5,315.5 L55.1,315.2 55.7,314.8 56.3,314.4 56.9,314.1 57.5,313.7 58.1,313.3 58.7,313 59.3,312.6 59.9,312.2 60.5,311.9 61.1,311.5 61.7,311 62.3,310.6 62.9,310.2 63.5,309.7 64.1,309.3 64.7,308.8 65.3,308.4 65.9,307.9 66.5,307.4 67.1,306.9 67.7,306.3 68.3,305.7 68.9,305.1 69.5,304.5 70.1,303.8 70.7,303 71.3,302.3 71.9,301.5 72.5,300.7 73.1,299.9 73.7,298.8 74.3,297.4 74.9,295.7 75.5,293.3 76.1,290.1 76.7,285.8 77.3,279.3 77.9,271.6 78.5,263.3 79.1,254.6 79.7,245.2 80.3,235.4 80.9,225.8 81.5,217.1 82.1,209.2 82.7,211.6 83.3,214.1 83.9,216.6 84.5,219.1 85.1,221.3 85.7,223.4 86.3,225.3 86.9,227.2 87.5,229 88.1,230.8 88.7,232.5 89.3,234 89.9,235.5 90.5,236.9 91.1,238.2 91.7,239.4 92.3,240.6 92.9,241.7 93.5,242.7 94.1,243.6 94.7,244.4 95.3,245.1 95.9,245.8 96.5,246.4 97.1,247.1 97.7,247.9 98.3,248.7 98.9,249.6 99.5,250.6 100.1,251.5 100.7,252.6 101.3,253.7 101.9,254.9 102.5,256.1 103.1,257.3 103.7,258.5 104.3,259.7 104.9,261 105.5,262.3 106.1,263.7 106.7,265.2 107.3,266.9 107.9,268.7 108.5,270.6 109.1,272.4 109.7,274.1 110.3,275.7 110.9,277.2 111.5,278.7 112.1,280.1 112.7,281.4 113.3,282.6 113.9,283.8 114.5,285 115.1,286.2 115.7,287.3 116.3,288.5 116.9,289.6 117.5,290.7 118.1,291.8 118.7,292.9 119.3,294 119.9,295.1 120.5,296.2 121.1,297.3 121.7,298.3 122.3,299.4 122.9,300.5 123.5,301.5 124.1,302.6 124.7,303.6 125.3,304.7 125.9,305.7 126.5,306.7 127.1,307.8 127.7,308.8 128.3,309.8 128.9,310.9 129.5,312 130.1,313 130.7,314.1 131.3,315.2 131.9,316.3 132.5,317.4 133.1,318.4 133.7,319.5 134.3,320.5 134.9,321.5 135.5,322.5 136.1,323.5 136.7,324.4 137.3,325.3 137.9,326.2 138.5,327 139.1,327.8 139.7,328.6 140.3,329.3 140.9,330 141.5,330.7 142.1,331.4 142.7,332 143.3,332.6 143.9,333.3 144.5,333.9 145.1,334.5 145.7,335 146.3,335.6 146.9,336.1 147.5,336.7 148.1,337.2 148.7,337.7 149.3,338.3 149.9,338.8 150.5,339.2 151.1,339.7 151.7,340.2 152.3,340.7 152.9,341.1 153.5,341.6 154.1,342 154.7,342.5 155.3,342.9 155.9,343.3 156.5,343.7 157.1,344.1 157.7,344.5 158.3,344.8 158.9,345.2 159.5,345.5 160.1,345.9 160.7,346.2 161.3,346.5 161.9,346.8 162.5,347.1 163.1,347.4 163.7,347.7 164.3,347.9 164.9,348.2 165.5,348.4 166.1,348.7 166.7,348.9 167.3,349.2 167.9,349.4 168.5,349.6 169.1,349.8 169.7,350 170.3,350.2 170.9,350.5 171.5,350.7 172.1,350.9 172.7,351.1 173.3,351.3 173.9,351.5 174.5,351.7 175.1,351.9 175.7,352.1 176.3,352.3 176.9,352.4 177.5,352.6 178.1,352.8 178.7,352.9 179.3,353.1 179.9,353.2 180.5,353.4 181.1,353.5 181.7,353.6 182.3,353.7 182.9,353.9 183.5,354 184.1,354.1 184.7,354.2 185.3,354.3 185.9,354.4 186.5,354.5 187.1,354.6 187.7,354.7 188.3,354.7 188.9,354.8 189.5,354.9 190.1,355 190.7,355.1 191.3,355.2 191.9,355.3 192.5,355.3 193.1,355.4 193.7,355.5 194.3,355.6 194.9,355.6 195.5,355.7 196.1,355.8 196.7,355.9 197.3,355.9 197.9,356 198.5,356.1 199.1,356.1 199.7,356.2 200.3,356.3 200.9,356.3 201.5,356.4 202.1,356.5 202.7,356.5 203.3,356.6 203.9,356.7 204.5,356.7 205.1,356.8 205.7,356.8 206.3,356.9 206.9,357 207.5,357 208.1,357.1 208.7,357.1 209.3,357.2 209.9,357.2 210.5,357.3 211.1,357.4 211.7,357.4 212.3,357.5 212.9,357.5 213.5,357.6 214.1,357.6 214.7,357.7 215.3,357.7 215.9,357.8 216.5,357.8 217.1,357.9 217.7,357.9 218.3,358 218.9,358.1 219.5,358.1 220.1,358.2 220.7,358.2 221.3,358.3 221.9,358.3 222.5,358.4 223.1,358.4 223.7,358.5 224.3,358.5 224.9,358.6 225.5,358.6 226.1,358.7 226.7,358.7 227.3,358.8 227.9,358.8 228.5,358.9 229.1,358.9 229.7,359 230.3,359 230.9,359 231.5,359.1 232.1,359.1 232.7,359.2 233.3,359.2 233.9,359.3 234.5,359.3 235.1,359.4 235.7,359.4 236.3,359.4 236.9,359.5 237.5,359.5 238.1,359.6 238.7,359.6 239.3,359.6 239.9,359.7 240.5,359.7 241.1,359.8 241.7,359.8 242.3,359.8 242.9,359.9 243.5,359.9 244.1,360 244.7,360 245.3,360 245.9,360.1 246.5,360.1 247.1,360.1 247.7,360.2 248.3,360.2 248.9,360.2 249.5,360.3 250.1,360.3 250.7,360.3 251.3,360.4 251.9,360.4 252.5,360.4 253.1,360.5 253.7,360.5 254.3,360.5 254.9,360.6 255.5,360.6 256.1,360.6 256.7,360.7 257.3,360.7 257.9,360.7 258.5,360.8 259.1,360.8 259.7,360.8 260.3,360.9 260.9,360.9 261.5,360.9 262.1,361 262.7,361 263.3,361 263.9,361.1 264.5,361.1 265.1,361.1 265.7,361.2 266.3,361.2 266.9,361.2 267.5,361.3 268.1,361.3 268.7,361.4 269.3,361.4" stroke="#387c96" stroke-width="0.95" fill="none" stroke-linejoin="round"/>
<path d="M54.5,314.8 L55.1,314.4 55.7,314.1 56.3,313.7 56.9,313.3 57.5,313 58.1,312.6 58.7,312.2 59.3,311.9 59.9,311.5 60.5,311.1 61.1,310.7 61.7,310.3 62.3,309.8 62.9,309.4 63.5,308.9 64.1,308.5 64.7,308 65.3,307.6 65.9,307.1 66.5,306.6 67.1,306.1 67.7,305.6 68.3,305 68.9,304.4 69.5,303.7 70.1,303 70.7,302.3 71.3,301.5 71.9,300.8 72.5,300 73.1,299.2 73.7,298.1 74.3,296.7 74.9,294.9 75.5,292.5 76.1,289.3 76.7,284.9 77.3,278.6 77.9,271.1 78.5,263 79.1,254.6 79.7,245.5 80.3,235.9 80.9,226.4 81.5,217.5 82.1,209.2 82.7,211.6 83.3,214 83.9,216.5 84.5,218.8 85.1,221 85.7,223 86.3,224.9 86.9,226.7 87.5,228.5 88.1,230.1 88.7,231.7 89.3,233.2 89.9,234.6 90.5,235.9 91.1,237.1 91.7,238.2 92.3,239.3 92.9,240.2 93.5,241.1 94.1,241.9 94.7,242.6 95.3,243.3 95.9,243.9 96.5,244.6 97.1,245.3 97.7,246.1 98.3,246.9 98.9,247.9 99.5,248.9 100.1,249.9 100.7,251 101.3,252.1 101.9,253.3 102.5,254.5 103.1,255.8 103.7,257 104.3,258.2 104.9,259.5 105.5,260.8 106.1,262.2 106.7,263.6 107.3,265.2 107.9,266.8 108.5,268.5 109.1,270.2 109.7,271.8 110.3,273.3 110.9,274.8 111.5,276.2 112.1,277.6 112.7,278.9 113.3,280.1 113.9,281.4 114.5,282.6 115.1,283.8 115.7,285 116.3,286.2 116.9,287.3 117.5,288.5 118.1,289.6 118.7,290.8 119.3,291.9 119.9,293 120.5,294.2 121.1,295.3 121.7,296.4 122.3,297.5 122.9,298.6 123.5,299.7 124.1,300.8 124.7,301.9 125.3,303 125.9,304 126.5,305.1 127.1,306.2 127.7,307.3 128.3,308.3 128.9,309.4 129.5,310.6 130.1,311.7 130.7,312.8 131.3,313.9 131.9,315.1 132.5,316.2 133.1,317.3 133.7,318.4 134.3,319.5 134.9,320.6 135.5,321.6 136.1,322.6 136.7,323.5 137.3,324.5 137.9,325.4 138.5,326.2 139.1,327.1 139.7,327.8 140.3,328.6 140.9,329.3 141.5,330 142.1,330.7 142.7,331.4 143.3,332.1 143.9,332.7 144.5,333.3 145.1,334 145.7,334.6 146.3,335.1 146.9,335.7 147.5,336.3 148.1,336.8 148.7,337.4 149.3,337.9 149.9,338.4 150.5,338.9 151.1,339.4 151.7,339.9 152.3,340.4 152.9,340.9 153.5,341.4 154.1,341.8 154.7,342.3 155.3,342.7 155.9,343.1 156.5,343.5 157.1,344 157.7,344.4 158.3,344.7 158.9,345.1 159.5,345.5 160.1,345.8 160.7,346.1 161.3,346.5 161.9,346.8 162.5,347.1 163.1,347.4 163.7,347.6 164.3,347.9 164.9,348.2 165.5,348.4 166.1,348.7 166.7,348.9 167.3,349.2 167.9,349.4 168.5,349.6 169.1,349.8 169.7,350.1 170.3,350.3 170.9,350.5 171.5,350.7 172.1,350.9 172.7,351.1 173.3,351.3 173.9,351.5 174.5,351.7 175.1,351.9 175.7,352.1 176.3,352.3 176.9,352.5 177.5,352.7 178.1,352.9 178.7,353 179.3,353.2 179.9,353.3 180.5,353.5 181.1,353.6 181.7,353.7 182.3,353.8 182.9,354 183.5,354.1 184.1,354.2 184.7,354.3 185.3,354.4 185.9,354.5 186.5,354.6 187.1,354.7 187.7,354.8 188.3,354.8 188.9,354.9 189.5,355 190.1,355.1 190.7,355.2 191.3,355.3 191.9,355.4 192.5,355.4 193.1,355.5 193.7,355.6 194.3,355.7 194.9,355.7 195.5,355.8 196.1,355.9 196.7,356 197.3,356 197.9,356.1 198.5,356.2 199.1,356.2 199.7,356.3 200.3,356.4 200.9,356.4 201.5,356.5 202.1,356.6 202.7,356.6 203.3,356.7 203.9,356.8 204.5,356.8 205.1,356.9 205.7,357 206.3,357 206.9,357.1 207.5,357.1 208.1,357.2 208.7,357.3 209.3,357.3 209.9,357.4 210.5,357.4 211.1,357.5 211.7,357.5 212.3,357.6 212.9,357.7 213.5,357.7 214.1,357.8 214.7,357.8 215.3,357.9 215.9,357.9 216.5,358 217.1,358 217.7,358.1 218.3,358.2 218.9,358.2 219.5,358.3 220.1,358.3 220.7,358.4 221.3,358.4 221.9,358.5 222.5,358.5 223.1,358.6 223.7,358.6 224.3,358.7 224.9,358.7 225.5,358.8 226.1,358.8 226.7,358.9 227.3,358.9 227.9,359 228.5,359 229.1,359.1 229.7,359.1 230.3,359.2 230.9,359.2 231.5,359.3 232.1,359.3 232.7,359.4 233.3,359.4 233.9,359.5 234.5,359.5 235.1,359.5 235.7,359.6 236.3,359.6 236.9,359.7 237.5,359.7 238.1,359.8 238.7,359.8 239.3,359.8 239.9,359.9 240.5,359.9 241.1,360 241.7,360 242.3,360 242.9,360.1 243.5,360.1 244.1,360.1 244.7,360.2 245.3,360.2 245.9,360.2 246.5,360.3 247.1,360.3 247.7,360.4 248.3,360.4 248.9,360.4 249.5,360.5 250.1,360.5 250.7,360.5 251.3,360.6 251.9,360.6 252.5,360.6 253.1,360.7 253.7,360.7 254.3,360.7 254.9,360.8 255.5,360.8 256.1,360.8 256.7,360.9 257.3,360.9 257.9,360.9 258.5,361 259.1,361 259.7,361 260.3,361.1 260.9,361.1 261.5,361.1 262.1,361.2 262.7,361.2 263.3,361.2 263.9,361.3 264.5,361.3 265.1,361.3 265.7,361.4 266.3,361.4 266.9,361.4 267.5,361.5 268.1,361.5 268.7,361.6 269.3,361.6" stroke="#326f8e" stroke-width="0.95" fill="none" stroke-linejoin="round"/>
<path d="M54.5,314.3 L55.1,313.9 55.7,313.5 56.3,313.1 56.9,312.8 57.5,312.4 58.1,312 58.7,311.7 59.3,311.3 59.9,310.9 60.5,310.5 61.1,310.1 61.7,309.7 62.3,309.2 62.9,308.8 63.5,308.3 64.1,307.9 64.7,307.4 65.3,307 65.9,306.5 66.5,306 67.1,305.5 67.7,305 68.3,304.4 68.9,303.8 69.5,303.2 70.1,302.5 70.7,301.7 71.3,301 71.9,300.2 72.5,299.5 73.1,298.6 73.7,297.6 74.3,296.2 74.9,294.4 75.5,291.9 76.1,288.6 76.7,284.2 77.3,278 77.9,270.7 78.5,262.8 79.1,254.7 79.7,245.7 80.3,236.4 80.9,226.9 81.5,217.8 82.1,209.2 82.7,211.5 83.3,213.9 83.9,216.3 84.5,218.6 85.1,220.7 85.7,222.7 86.3,224.5 86.9,226.3 87.5,228 88.1,229.6 88.7,231.1 89.3,232.6 89.9,233.9 90.5,235.2 91.1,236.3 91.7,237.3 92.3,238.2 92.9,239 93.5,239.8 94.1,240.5 94.7,241.2 95.3,241.8 95.9,242.5 96.5,243.1 97.1,243.8 97.7,244.6 98.3,245.5 98.9,246.5 99.5,247.5 100.1,248.6 100.7,249.7 101.3,250.9 101.9,252.1 102.5,253.3 103.1,254.5 103.7,255.8 104.3,257.1 104.9,258.3 105.5,259.6 106.1,261 106.7,262.4 107.3,263.8 107.9,265.4 108.5,266.9 109.1,268.5 109.7,270 110.3,271.4 110.9,272.8 111.5,274.2 112.1,275.6 112.7,276.9 113.3,278.2 113.9,279.4 114.5,280.7 115.1,281.9 115.7,283.1 116.3,284.3 116.9,285.5 117.5,286.7 118.1,287.9 118.7,289.1 119.3,290.2 119.9,291.4 120.5,292.5 121.1,293.7 121.7,294.8 122.3,296 122.9,297.1 123.5,298.2 124.1,299.4 124.7,300.5 125.3,301.6 125.9,302.7 126.5,303.8 127.1,304.9 127.7,306 128.3,307.2 128.9,308.3 129.5,309.4 130.1,310.6 130.7,311.8 131.3,312.9 131.9,314.1 132.5,315.3 133.1,316.4 133.7,317.6 134.3,318.7 134.9,319.8 135.5,320.8 136.1,321.8 136.7,322.8 137.3,323.8 137.9,324.7 138.5,325.6 139.1,326.5 139.7,327.3 140.3,328.1 140.9,328.8 141.5,329.5 142.1,330.3 142.7,330.9 143.3,331.6 143.9,332.3 144.5,332.9 145.1,333.6 145.7,334.2 146.3,334.8 146.9,335.4 147.5,335.9 148.1,336.5 148.7,337.1 149.3,337.6 149.9,338.2 150.5,338.7 151.1,339.2 151.7,339.7 152.3,340.2 152.9,340.7 153.5,341.2 154.1,341.6 154.7,342.1 155.3,342.5 155.9,343 156.5,343.4 157.1,343.8 157.7,344.3 158.3,344.6 158.9,345 159.5,345.4 160.1,345.7 160.7,346.1 161.3,346.4 161.9,346.7 162.5,347 163.1,347.3 163.7,347.6 164.3,347.9 164.9,348.2 165.5,348.4 166.1,348.7 166.7,348.9 167.3,349.2 167.9,349.4 168.5,349.6 169.1,349.9 169.7,350.1 170.3,350.3 170.9,350.5 171.5,350.7 172.1,351 172.7,351.2 173.3,351.4 173.9,351.6 174.5,351.8 175.1,352 175.7,352.2 176.3,352.4 176.9,352.6 177.5,352.8 178.1,352.9 178.7,353.1 179.3,353.2 179.9,353.4 180.5,353.5 181.1,353.7 181.7,353.8 182.3,353.9 182.9,354 183.5,354.1 184.1,354.3 184.7,354.4 185.3,354.5 185.9,354.6 186.5,354.7 187.1,354.7 187.7,354.8 188.3,354.9 188.9,355 189.5,355.1 190.1,355.2 190.7,355.3 191.3,355.4 191.9,355.4 192.5,355.5 193.1,355.6 193.7,355.7 194.3,355.8 194.9,355.8 195.5,355.9 196.1,356 196.7,356 197.3,356.1 197.9,356.2 198.5,356.3 199.1,356.3 199.7,356.4 200.3,356.5 200.9,356.5 201.5,356.6 202.1,356.7 202.7,356.7 203.3,356.8 203.9,356.9 204.5,356.9 205.1,357 205.7,357 206.3,357.1 206.9,357.2 207.5,357.2 208.1,357.3 208.7,357.4 209.3,357.4 209.9,357.5 210.5,357.5 211.1,357.6 211.7,357.7 212.3,357.7 212.9,357.8 213.5,357.8 214.1,357.9 214.7,357.9 215.3,358 215.9,358.1 216.5,358.1 217.1,358.2 217.7,358.2 218.3,358.3 218.9,358.3 219.5,358.4 220.1,358.4 220.7,358.5 221.3,358.5 221.9,358.6 222.5,358.6 223.1,358.7 223.7,358.8 224.3,358.8 224.9,358.9 225.5,358.9 226.1,359 226.7,359 227.3,359.1 227.9,359.1 228.5,359.2 229.1,359.2 229.7,359.3 230.3,359.3 230.9,359.4 231.5,359.4 232.1,359.5 232.7,359.5 233.3,359.6 233.9,359.6 234.5,359.6 235.1,359.7 235.7,359.7 236.3,359.8 236.9,359.8 237.5,359.9 238.1,359.9 238.7,359.9 239.3,360 239.9,360 240.5,360.1 241.1,360.1 241.7,360.1 242.3,360.2 242.9,360.2 243.5,360.3 244.1,360.3 244.7,360.3 245.3,360.4 245.9,360.4 246.5,360.4 247.1,360.5 247.7,360.5 248.3,360.5 248.9,360.6 249.5,360.6 250.1,360.6 250.7,360.7 251.3,360.7 251.9,360.7 252.5,360.8 253.1,360.8 253.7,360.8 254.3,360.9 254.9,360.9 255.5,360.9 256.1,361 256.7,361 257.3,361.1 257.9,361.1 258.5,361.1 259.1,361.2 259.7,361.2 260.3,361.2 260.9,361.3 261.5,361.3 262.1,361.3 262.7,361.4 263.3,361.4 263.9,361.4 264.5,361.5 265.1,361.5 265.7,361.5 266.3,361.6 266.9,361.6 267.5,361.6 268.1,361.7 268.7,361.7 269.3,361.7" stroke="#2d6283" stroke-width="0.95" fill="none" stroke-linejoin="round"/>
<path d="M54.5,313.8 L55.1,313.4 55.7,313.1 56.3,312.7 56.9,312.3 57.5,312 58.1,311.6 58.7,311.2 59.3,310.8 59.9,310.4 60.5,310 61.1,309.6 61.7,309.2 62.3,308.8 62.9,308.3 63.5,307.9 64.1,307.4 64.7,307 65.3,306.5 65.9,306 66.5,305.5 67.1,305 67.7,304.5 68.3,304 68.9,303.4 69.5,302.7 70.1,302 70.7,301.3 71.3,300.5 71.9,299.8 72.5,299 73.1,298.2 73.7,297.1 74.3,295.8 74.9,293.9 75.5,291.5 76.1,288.1 76.7,283.6 77.3,277.6 77.9,270.4 78.5,262.7 79.1,254.7 79.7,245.9 80.3,236.7 80.9,227.3 81.5,218.1 82.1,209.2 82.7,211.5 83.3,213.8 83.9,216.2 84.5,218.4 85.1,220.5 85.7,222.4 86.3,224.2 86.9,226 87.5,227.6 88.1,229.2 88.7,230.7 89.3,232.1 89.9,233.4 90.5,234.6 91.1,235.6 91.7,236.6 92.3,237.4 92.9,238.2 93.5,238.8 94.1,239.5 94.7,240.1 95.3,240.7 95.9,241.3 96.5,242 97.1,242.7 97.7,243.5 98.3,244.5 98.9,245.4 99.5,246.5 100.1,247.6 100.7,248.7 101.3,249.9 101.9,251.1 102.5,252.4 103.1,253.6 103.7,254.9 104.3,256.2 104.9,257.4 105.5,258.7 106.1,260 106.7,261.4 107.3,262.8 107.9,264.2 108.5,265.7 109.1,267.1 109.7,268.6 110.3,270 110.9,271.4 111.5,272.7 112.1,274.1 112.7,275.4 113.3,276.7 113.9,278 114.5,279.2 115.1,280.5 115.7,281.7 116.3,282.9 116.9,284.2 117.5,285.4 118.1,286.6 118.7,287.8 119.3,289 119.9,290.1 120.5,291.3 121.1,292.5 121.7,293.7 122.3,294.8 122.9,296 123.5,297.1 124.1,298.3 124.7,299.4 125.3,300.6 125.9,301.7 126.5,302.9 127.1,304 127.7,305.1 128.3,306.3 128.9,307.4 129.5,308.6 130.1,309.8 130.7,311 131.3,312.2 131.9,313.4 132.5,314.6 133.1,315.7 133.7,316.9 134.3,318 134.9,319.2 135.5,320.3 136.1,321.3 136.7,322.3 137.3,323.3 137.9,324.2 138.5,325.1 139.1,326 139.7,326.8 140.3,327.6 140.9,328.4 141.5,329.2 142.1,329.9 142.7,330.6 143.3,331.3 143.9,332 144.5,332.6 145.1,333.3 145.7,333.9 146.3,334.5 146.9,335.1 147.5,335.7 148.1,336.3 148.7,336.8 149.3,337.4 149.9,338 150.5,338.5 151.1,339 151.7,339.5 152.3,340 152.9,340.5 153.5,341 154.1,341.5 154.7,342 155.3,342.4 155.9,342.9 156.5,343.3 157.1,343.8 157.7,344.2 158.3,344.6 158.9,345 159.5,345.3 160.1,345.7 160.7,346 161.3,346.4 161.9,346.7 162.5,347 163.1,347.3 163.7,347.6 164.3,347.9 164.9,348.2 165.5,348.4 166.1,348.7 166.7,348.9 167.3,349.2 167.9,349.4 168.5,349.7 169.1,349.9 169.7,350.1 170.3,350.3 170.9,350.6 171.5,350.8 172.1,351 172.7,351.2 173.3,351.4 173.9,351.6 174.5,351.8 175.1,352 175.7,352.2 176.3,352.4 176.9,352.6 177.5,352.8 178.1,353 178.7,353.2 179.3,353.3 179.9,353.5 180.5,353.6 181.1,353.7 181.7,353.9 182.3,354 182.9,354.1 183.5,354.2 184.1,354.3 184.7,354.4 185.3,354.5 185.9,354.6 186.5,354.7 187.1,354.8 187.7,354.9 188.3,355 188.9,355.1 189.5,355.2 190.1,355.3 190.7,355.3 191.3,355.4 191.9,355.5 192.5,355.6 193.1,355.7 193.7,355.7 194.3,355.8 194.9,355.9 195.5,356 196.1,356 196.7,356.1 197.3,356.2 197.9,356.3 198.5,356.3 199.1,356.4 199.7,356.5 200.3,356.5 200.9,356.6 201.5,356.7 202.1,356.7 202.7,356.8 203.3,356.9 203.9,356.9 204.5,357 205.1,357.1 205.7,357.1 206.3,357.2 206.9,357.2 207.5,357.3 208.1,357.4 208.7,357.4 209.3,357.5 209.9,357.6 210.5,357.6 211.1,357.7 211.7,357.7 212.3,357.8 212.9,357.8 213.5,357.9 214.1,358 214.7,358 215.3,358.1 215.9,358.1 216.5,358.2 217.1,358.3 217.7,358.3 218.3,358.4 218.9,358.4 219.5,358.5 220.1,358.5 220.7,358.6 221.3,358.6 221.9,358.7 222.5,358.7 223.1,358.8 223.7,358.9 224.3,358.9 224.9,359 225.5,359 226.1,359.1 226.7,359.1 227.3,359.2 227.9,359.2 228.5,359.3 229.1,359.3 229.7,359.4 230.3,359.4 230.9,359.5 231.5,359.5 232.1,359.6 232.7,359.6 233.3,359.7 233.9,359.7 234.5,359.7 235.1,359.8 235.7,359.8 236.3,359.9 236.9,359.9 237.5,360 238.1,360 238.7,360.1 239.3,360.1 239.9,360.1 240.5,360.2 241.1,360.2 241.7,360.2 242.3,360.3 242.9,360.3 243.5,360.4 244.1,360.4 244.7,360.4 245.3,360.5 245.9,360.5 246.5,360.5 247.1,360.6 247.7,360.6 248.3,360.7 248.9,360.7 249.5,360.7 250.1,360.8 250.7,360.8 251.3,360.8 251.9,360.9 252.5,360.9 253.1,360.9 253.7,361 254.3,361 254.9,361 255.5,361.1 256.1,361.1 256.7,361.1 257.3,361.2 257.9,361.2 258.5,361.2 259.1,361.3 259.7,361.3 260.3,361.3 260.9,361.4 261.5,361.4 262.1,361.4 262.7,361.5 263.3,361.5 263.9,361.5 264.5,361.6 265.1,361.6 265.7,361.6 266.3,361.7 266.9,361.7 267.5,361.8 268.1,361.8 268.7,361.8 269.3,361.9" stroke="#2a5676" stroke-width="0.95" fill="none" stroke-linejoin="round"/>
<path d="M54.5,313.4 L55.1,313 55.7,312.6 56.3,312.3 56.9,311.9 57.5,311.5 58.1,311.1 58.7,310.8 59.3,310.4 59.9,310 60.5,309.6 61.1,309.2 61.7,308.7 62.3,308.3 62.9,307.8 63.5,307.4 64.1,306.9 64.7,306.5 65.3,306 65.9,305.6 66.5,305.1 67.1,304.6 67.7,304.1 68.3,303.5 68.9,302.9 69.5,302.3 70.1,301.6 70.7,300.8 71.3,300.1 71.9,299.4 72.5,298.6 73.1,297.8 73.7,296.7 74.3,295.3 74.9,293.5 75.5,291 76.1,287.6 76.7,283.1 77.3,277.1 77.9,270.1 78.5,262.5 79.1,254.7 79.7,246.1 80.3,237 80.9,227.7 81.5,218.3 82.1,209.2 82.7,211.4 83.3,213.7 83.9,216.1 84.5,218.3 85.1,220.3 85.7,222.2 86.3,223.9 86.9,225.6 87.5,227.3 88.1,228.8 88.7,230.3 89.3,231.6 89.9,232.9 90.5,234 91.1,235 91.7,235.9 92.3,236.6 92.9,237.3 93.5,237.9 94.1,238.5 94.7,239 95.3,239.6 95.9,240.2 96.5,240.9 97.1,241.6 97.7,242.5 98.3,243.4 98.9,244.4 99.5,245.5 100.1,246.6 100.7,247.7 101.3,248.9 101.9,250.2 102.5,251.4 103.1,252.7 103.7,254 104.3,255.3 104.9,256.6 105.5,257.8 106.1,259.1 106.7,260.4 107.3,261.8 107.9,263.1 108.5,264.5 109.1,265.8 109.7,267.2 110.3,268.5 110.9,269.9 111.5,271.2 112.1,272.6 112.7,273.9 113.3,275.2 113.9,276.5 114.5,277.8 115.1,279.1 115.7,280.3 116.3,281.6 116.9,282.8 117.5,284 118.1,285.3 118.7,286.5 119.3,287.7 119.9,288.9 120.5,290.1 121.1,291.3 121.7,292.5 122.3,293.7 122.9,294.9 123.5,296 124.1,297.2 124.7,298.4 125.3,299.6 125.9,300.7 126.5,301.9 127.1,303 127.7,304.2 128.3,305.4 128.9,306.6 129.5,307.8 130.1,309 130.7,310.2 131.3,311.4 131.9,312.6 132.5,313.9 133.1,315.1 133.7,316.3 134.3,317.4 134.9,318.6 135.5,319.7 136.1,320.7 136.7,321.8 137.3,322.8 137.9,323.8 138.5,324.7 139.1,325.6 139.7,326.4 140.3,327.2 140.9,328 141.5,328.8 142.1,329.5 142.7,330.2 143.3,330.9 143.9,331.6 144.5,332.3 145.1,333 145.7,333.6 146.3,334.2 146.9,334.8 147.5,335.5 148.1,336 148.7,336.6 149.3,337.2 149.9,337.8 150.5,338.3 151.1,338.8 151.7,339.4 152.3,339.9 152.9,340.4 153.5,340.9 154.1,341.4 154.7,341.9 155.3,342.3 155.9,342.8 156.5,343.2 157.1,343.7 157.7,344.1 158.3,344.5 158.9,344.9 159.5,345.3 160.1,345.6 160.7,346 161.3,346.3 161.9,346.7 162.5,347 163.1,347.3 163.7,347.6 164.3,347.9 164.9,348.2 165.5,348.4 166.1,348.7 166.7,348.9 167.3,349.2 167.9,349.4 168.5,349.7 169.1,349.9 169.7,350.1 170.3,350.4 170.9,350.6 171.5,350.8 172.1,351 172.7,351.2 173.3,351.5 173.9,351.7 174.5,351.9 175.1,352.1 175.7,352.3 176.3,352.5 176.9,352.7 177.5,352.9 178.1,353 178.7,353.2 179.3,353.4 179.9,353.5 180.5,353.7 181.1,353.8 181.7,353.9 182.3,354 182.9,354.2 183.5,354.3 184.1,354.4 184.7,354.5 185.3,354.6 185.9,354.7 186.5,354.8 187.1,354.9 187.7,355 188.3,355 188.9,355.1 189.5,355.2 190.1,355.3 190.7,355.4 191.3,355.5 191.9,355.6 192.5,355.6 193.1,355.7 193.7,355.8 194.3,355.9 194.9,356 195.5,356 196.1,356.1 196.7,356.2 197.3,356.2 197.9,356.3 198.5,356.4 199.1,356.5 199.7,356.5 200.3,356.6 200.9,356.7 201.5,356.7 202.1,356.8 202.7,356.9 203.3,356.9 203.9,357 204.5,357.1 205.1,357.1 205.7,357.2 206.3,357.3 206.9,357.3 207.5,357.4 208.1,357.4 208.7,357.5 209.3,357.6 209.9,357.6 210.5,357.7 211.1,357.8 211.7,357.8 212.3,357.9 212.9,357.9 213.5,358 214.1,358 214.7,358.1 215.3,358.2 215.9,358.2 216.5,358.3 217.1,358.3 217.7,358.4 218.3,358.5 218.9,358.5 219.5,358.6 220.1,358.6 220.7,358.7 221.3,358.7 221.9,358.8 222.5,358.8 223.1,358.9 223.7,359 224.3,359 224.9,359.1 225.5,359.1 226.1,359.2 226.7,359.2 227.3,359.3 227.9,359.3 228.5,359.4 229.1,359.4 229.7,359.5 230.3,359.5 230.9,359.6 231.5,359.6 232.1,359.7 232.7,359.7 233.3,359.8 233.9,359.8 234.5,359.9 235.1,359.9 235.7,359.9 236.3,360 236.9,360 237.5,360.1 238.1,360.1 238.7,360.2 239.3,360.2 239.9,360.2 240.5,360.3 241.1,360.3 241.7,360.4 242.3,360.4 242.9,360.4 243.5,360.5 244.1,360.5 244.7,360.6 245.3,360.6 245.9,360.6 246.5,360.7 247.1,360.7 247.7,360.7 248.3,360.8 248.9,360.8 249.5,360.8 250.1,360.9 250.7,360.9 251.3,360.9 251.9,361 252.5,361 253.1,361 253.7,361.1 254.3,361.1 254.9,361.1 255.5,361.2 256.1,361.2 256.7,361.2 257.3,361.3 257.9,361.3 258.5,361.4 259.1,361.4 259.7,361.4 260.3,361.5 260.9,361.5 261.5,361.5 262.1,361.6 262.7,361.6 263.3,361.6 263.9,361.7 264.5,361.7 265.1,361.7 265.7,361.8 266.3,361.8 266.9,361.8 267.5,361.9 268.1,361.9 268.7,362 269.3,362" stroke="#274a6b" stroke-width="0.95" fill="none" stroke-linejoin="round"/>
<rect x="54.5" y="191.5" width="215.10000000000002" height="172.8" fill="none" stroke="#555" stroke-width="1"/>
<line x1="54.5" y1="364.3" x2="54.5" y2="367.3" stroke="#555" stroke-width="0.8"/>
<text x="54.5" y="376.9" font-size="8.3" fill="#222" text-anchor="middle" font-weight="normal" >200</text>
<line x1="85.2" y1="364.3" x2="85.2" y2="366.3" stroke="#555" stroke-width="0.8"/>
<line x1="116.0" y1="364.3" x2="116.0" y2="367.3" stroke="#555" stroke-width="0.8"/>
<text x="116.0" y="376.9" font-size="8.3" fill="#222" text-anchor="middle" font-weight="normal" >300</text>
<line x1="146.7" y1="364.3" x2="146.7" y2="366.3" stroke="#555" stroke-width="0.8"/>
<line x1="177.4" y1="364.3" x2="177.4" y2="367.3" stroke="#555" stroke-width="0.8"/>
<text x="177.4" y="376.9" font-size="8.3" fill="#222" text-anchor="middle" font-weight="normal" >400</text>
<line x1="208.2" y1="364.3" x2="208.2" y2="366.3" stroke="#555" stroke-width="0.8"/>
<line x1="238.9" y1="364.3" x2="238.9" y2="367.3" stroke="#555" stroke-width="0.8"/>
<text x="238.9" y="376.9" font-size="8.3" fill="#222" text-anchor="middle" font-weight="normal" >500</text>
<line x1="269.6" y1="364.3" x2="269.6" y2="366.3" stroke="#555" stroke-width="0.8"/>
<text x="161.5" y="394.0" font-size="12.7" fill="#222" text-anchor="middle" font-weight="normal" >Wavelength (nm)</text>
<text transform="translate(31.2,278.3) rotate(-90)" font-size="12.6" fill="#222" text-anchor="middle">Absorbance (a.u.)</text>
<rect x="271" y="191.30" width="12" height="12.66" fill="#274a6b"/>
<line x1="283" y1="197.5" x2="285.5" y2="197.5" stroke="#444" stroke-width="0.6"/>
<text x="288.5" y="199.6" font-size="5.8" fill="#1a1a1a" text-anchor="start" font-weight="normal" >0 min</text>
<rect x="271" y="203.66" width="12" height="12.66" fill="#2a5676"/>
<line x1="283" y1="209.8" x2="285.5" y2="209.8" stroke="#444" stroke-width="0.6"/>
<text x="288.5" y="211.9" font-size="5.8" fill="#1a1a1a" text-anchor="start" font-weight="normal" >1 min</text>
<rect x="271" y="216.01" width="12" height="12.66" fill="#2d6283"/>
<line x1="283" y1="222.2" x2="285.5" y2="222.2" stroke="#444" stroke-width="0.6"/>
<text x="288.5" y="224.3" font-size="5.8" fill="#1a1a1a" text-anchor="start" font-weight="normal" >2 min</text>
<rect x="271" y="228.37" width="12" height="12.66" fill="#326f8e"/>
<line x1="283" y1="234.5" x2="285.5" y2="234.5" stroke="#444" stroke-width="0.6"/>
<text x="288.5" y="236.6" font-size="5.8" fill="#1a1a1a" text-anchor="start" font-weight="normal" >5 min</text>
<rect x="271" y="240.73" width="12" height="12.66" fill="#387c96"/>
<line x1="283" y1="246.9" x2="285.5" y2="246.9" stroke="#444" stroke-width="0.6"/>
<text x="288.5" y="249.0" font-size="5.8" fill="#1a1a1a" text-anchor="start" font-weight="normal" >8 min</text>
<rect x="271" y="253.09" width="12" height="12.66" fill="#3f879c"/>
<line x1="283" y1="259.3" x2="285.5" y2="259.3" stroke="#444" stroke-width="0.6"/>
<text x="288.5" y="261.4" font-size="5.8" fill="#1a1a1a" text-anchor="start" font-weight="normal" >10 min</text>
<rect x="271" y="265.44" width="12" height="12.66" fill="#4593a0"/>
<line x1="283" y1="271.6" x2="285.5" y2="271.6" stroke="#444" stroke-width="0.6"/>
<text x="288.5" y="273.7" font-size="5.8" fill="#1a1a1a" text-anchor="start" font-weight="normal" >15 min</text>
<rect x="271" y="277.80" width="12" height="12.66" fill="#5ba8a8"/>
<line x1="283" y1="284.0" x2="285.5" y2="284.0" stroke="#444" stroke-width="0.6"/>
<text x="288.5" y="286.1" font-size="5.8" fill="#1a1a1a" text-anchor="start" font-weight="normal" >30 min</text>
<rect x="271" y="290.16" width="12" height="12.66" fill="#8ccac6"/>
<line x1="283" y1="296.3" x2="285.5" y2="296.3" stroke="#444" stroke-width="0.6"/>
<text x="288.5" y="298.4" font-size="5.8" fill="#1a1a1a" text-anchor="start" font-weight="normal" >45 min</text>
<rect x="271" y="302.51" width="12" height="12.66" fill="#a9e4da"/>
<line x1="283" y1="308.7" x2="285.5" y2="308.7" stroke="#444" stroke-width="0.6"/>
<text x="288.5" y="310.8" font-size="5.8" fill="#1a1a1a" text-anchor="start" font-weight="normal" >60 min</text>
<rect x="271" y="314.87" width="12" height="12.66" fill="#8edcc8"/>
<line x1="283" y1="321.1" x2="285.5" y2="321.1" stroke="#444" stroke-width="0.6"/>
<text x="288.5" y="323.2" font-size="5.8" fill="#1a1a1a" text-anchor="start" font-weight="normal" >120 min</text>
<rect x="271" y="327.23" width="12" height="12.66" fill="#7fd4bd"/>
<line x1="283" y1="333.4" x2="285.5" y2="333.4" stroke="#444" stroke-width="0.6"/>
<text x="288.5" y="335.5" font-size="5.8" fill="#1a1a1a" text-anchor="start" font-weight="normal" >180 min</text>
<rect x="271" y="339.59" width="12" height="12.66" fill="#78cdb5"/>
<line x1="283" y1="345.8" x2="285.5" y2="345.8" stroke="#444" stroke-width="0.6"/>
<text x="288.5" y="347.9" font-size="5.8" fill="#1a1a1a" text-anchor="start" font-weight="normal" >300 min</text>
<rect x="271" y="351.94" width="12" height="12.66" fill="#6fc6ac"/>
<line x1="283" y1="358.1" x2="285.5" y2="358.1" stroke="#444" stroke-width="0.6"/>
<text x="288.5" y="360.2" font-size="5.8" fill="#1a1a1a" text-anchor="start" font-weight="normal" >600 min</text>
<path d="M55.8,447.9 L56.2,448 56.7,448 57.2,447.8 57.6,447.9 58.1,447.7 58.5,448 59,447.8 59.4,447.5 59.9,447.7 60.3,447.5 60.8,447.9 61.2,447.6 61.7,447.8 62.1,447.9 62.6,447.7 63,447.8 63.5,447.8 63.9,447.8 64.4,447.7 64.8,447.8 65.3,447.8 65.7,447.8 66.2,447.6 66.6,447.8 67.1,447.7 67.5,447.8 68,448 68.4,447.7 68.9,447.7 69.3,448 69.8,447.7 70.2,447.6 70.7,447.6 71.1,447.7 71.6,448.1 72,447.8 72.5,447.8 72.9,447.7 73.4,447.8 73.8,447.9 74.3,447.9 74.7,447.8 75.2,447.8 75.6,447.8 76.1,447.7 76.5,447.6 77,447.9 77.4,447.8 77.9,447.7 78.3,447.7 78.8,447.8 79.2,447.9 79.7,447.8 80.1,448.1 80.6,447.8 81,447.9 81.5,447.8 81.9,448 82.4,447.9 82.8,447.7 83.3,447.7 83.7,447.8 84.2,447.9 84.6,447.7 85.1,447.6 85.5,447.7 86,447.8 86.4,447.8 86.9,447.6 87.3,447.8 87.8,447.6 88.2,447.8 88.7,448 89.1,447.9 89.6,447.7 90,447.7 90.5,447.7 90.9,447.6 91.4,447.7 91.8,448 92.3,447.8 92.7,447.7 93.2,447.9 93.6,447.6 94.1,447.7 94.5,447.7 95,447.8 95.4,447.9 95.9,447.9 96.3,448 96.8,448.1 97.2,447.8 97.7,447.9 98.1,447.8 98.6,448 99,447.9 99.5,447.9 99.9,447.9 100.4,447.8 100.8,447.7 101.3,447.8 101.7,447.8 102.2,447.5 102.6,447.9 103.1,447.9 103.5,447.8 104,448 104.4,447.7 104.9,447.8 105.3,447.8 105.8,447.7 106.2,447.9 106.7,447.8 107.1,448 107.6,447.9 108,447.8 108.5,447.9 108.9,447.9 109.4,447.9 109.8,447.9 110.3,447.6 110.7,447.6 111.2,448 111.6,448 112.1,447.8 112.5,447.9 113,447.8 113.4,448.1 113.9,447.9 114.3,447.9 114.8,447.8 115.2,447.9 115.7,448 116.1,448 116.6,448.1 117,448.1 117.5,448 117.9,448 118.4,448.1 118.8,448.1 119.3,448 119.7,448.1 120.2,448 120.6,448.1 121.1,448.2 121.5,448.1 122,448.1 122.4,448.3 122.9,448.5 123.3,448.3 123.8,448.1 124.2,448.2 124.7,448.1 125.1,447.6 125.6,447.1 126,446.7 126.5,446 126.9,445.2 127.4,444.3 127.8,443.2 128.3,442.1 128.7,441.4 129.2,440.9 129.6,441.1 130.1,441.9 130.5,443.3 131,445.4 131.4,447.8 131.9,449.9 132.3,452.5 132.8,454.5 133.2,456 133.7,457.2 134.1,457.5 134.6,457.4 135,456.7 135.5,455.3 135.9,454.5 136.4,453.3 136.8,452.6 137.3,451.9 137.7,451.1 138.2,450.6 138.6,450.3 139.1,449.9 139.5,449.8 140,449.7 140.4,449.5 140.9,449.5 141.3,449.4 141.8,449.4 142.2,449.3 142.7,449.3 143.1,449.3 143.6,449.3 144,449.2 144.5,449 144.9,449.1 145.4,448.8 145.8,449 146.3,448.6 146.7,448.6 147.2,448.5 147.6,448.3 148.1,448.5 148.5,448.6 149,448.2 149.4,447.9 149.9,447.8 150.3,447.7 150.8,447.7 151.2,447.5 151.7,447.5 152.1,447.5 152.6,447.4 153,447.2 153.5,446.8 153.9,446.9 154.4,447 154.8,446.9 155.3,446.9 155.7,446.8 156.2,446.3 156.6,446.5 157.1,446.5 157.5,446.3 158,446.4 158.4,446.2 158.9,446.2 159.3,446 159.8,445.8 160.2,445.3 160.7,444.7 161.1,444.1 161.6,443.2 162,442 162.5,441 162.9,439.9 163.4,439.5 163.8,439.1 164.3,440.1 164.7,441.8 165.2,444 165.6,446.7 166.1,449.6 166.5,451.9 167,453.5 167.4,454.3 167.9,454.4 168.3,453.7 168.8,453 169.2,451.7 169.7,450.8 170.1,449.6 170.6,449.2 171,448.6 171.5,448.4 171.9,448 172.4,448.2 172.8,448.1 173.3,448.2 173.7,448.2 174.2,448.2 174.6,448.5 175.1,448.4 175.5,448.3 176,448.1 176.4,448.3 176.9,448.1 177.3,448.3 177.8,448.4 178.2,448.5 178.7,448.3 179.1,448.2 179.6,448.1 180,448.1 180.5,448.1 180.9,448.2 181.4,448 181.8,448.1 182.3,448.2 182.7,448 183.2,447.8 183.6,447.7 184.1,447.7 184.5,447.5 185,447.5 185.4,447.5 185.9,447.2 186.3,447.1 186.8,447 187.2,447.3 187.7,447 188.1,447 188.6,447 189,447 189.5,446.9 189.9,446.7 190.4,446.7 190.8,446.5 191.3,446.5 191.7,446.4 192.2,446.1 192.6,446.2 193.1,445.6 193.5,445.4 194,444.4 194.4,443.9 194.9,443.2 195.3,441.9 195.8,440.7 196.2,439.7 196.7,439.1 197.1,438.8 197.6,438.8 198,439.7 198.5,441.2 198.9,443.3 199.4,445.3 199.8,447.8 200.3,450.2 200.7,452.2 201.2,454.1 201.6,454.7 202.1,455.1 202.5,454.5 203,454.1 203.4,452.9 203.9,452 204.3,451.2 204.8,450.2 205.2,449.3 205.7,448.6 206.1,448.2 206.6,447.9 207,447.9 207.5,447.6 207.9,447.6 208.4,447.6 208.8,447.7 209.3,447.6 209.7,447.5 210.2,447.5 210.6,447.7 211.1,447.7 211.5,447.6 212,447.6 212.4,447.7 212.9,447.6 213.3,447.6 213.8,447.8 214.2,447.8 214.7,447.8 215.1,447.8 215.6,447.8 216,447.8 216.5,447.6 216.9,447.7 217.4,447.9 217.8,447.8 218.3,447.6 218.7,447.9 219.2,447.7 219.6,447.8 220.1,447.9 220.5,447.8 221,447.8 221.4,447.9 221.9,447.9 222.3,447.9 222.8,447.9 223.2,447.8 223.7,447.6 224.1,448 224.6,448 225,448 225.5,447.7 225.9,447.8 226.4,447.7 226.8,447.7 227.3,447.6 227.7,448 228.2,447.9 228.6,447.8 229.1,447.9 229.5,447.9 230,447.8 230.4,447.6 230.9,448 231.3,448 231.8,447.8 232.2,447.9 232.7,447.9 233.1,448 233.6,447.8 234,447.6 234.5,447.8 234.9,447.6 235.4,448 235.8,447.7 236.3,447.8 236.7,447.7 237.2,447.6 237.6,447.8 238.1,448.1 238.5,447.8 239,447.6 239.4,447.7 239.9,447.7 240.3,447.9 240.8,447.7 241.2,447.8 241.7,447.6 242.1,447.7 242.6,447.8 243,448 243.5,447.7 243.9,447.8 244.4,447.9 244.8,447.9 245.3,447.7 245.7,447.9 246.2,447.7 246.6,447.7 247.1,447.5 247.5,447.7 248,447.9 248.4,447.9 248.9,447.7 249.3,447.7 249.8,447.7 250.2,447.7 250.7,448 251.1,447.7 251.6,447.6 252,447.7 252.5,447.9 252.9,447.7 253.4,447.9 253.8,447.9 254.3,447.6 254.7,447.7 255.2,447.8 255.6,448.1 256.1,447.9 256.5,447.7 257,448 257.4,447.8 257.9,447.8 258.3,447.8 258.8,447.9 259.2,447.9 259.7,447.9 260.1,447.9 260.6,447.8 261,447.7 261.5,447.9 261.9,447.7 262.4,447.9 262.8,447.7 263.3,447.9 263.7,447.9 264.2,448.1 264.6,447.8 265.1,447.7 265.5,447.9 266,447.8 266.4,447.8 266.9,447.9 267.3,447.8 267.8,447.8 268.2,447.7 268.7,447.8 269.1,447.8 269.6,447.9" stroke="#2d4e6e" stroke-width="1.05" fill="none" stroke-linejoin="round"/>
<path d="M55.8,483.8 L56.2,484 56.7,483.9 57.2,484 57.6,484 58.1,483.9 58.5,484 59,483.7 59.4,484.1 59.9,484.1 60.3,484 60.8,483.7 61.2,483.9 61.7,484 62.1,484 62.6,483.9 63,484 63.5,484 63.9,484 64.4,483.9 64.8,484.1 65.3,483.9 65.7,483.9 66.2,484.3 66.6,484 67.1,484.1 67.5,483.8 68,483.9 68.4,483.8 68.9,484.3 69.3,483.9 69.8,484 70.2,484.2 70.7,484 71.1,484.3 71.6,483.8 72,484 72.5,483.8 72.9,484.1 73.4,484.1 73.8,483.9 74.3,484.1 74.7,484.1 75.2,484 75.6,484 76.1,484.3 76.5,484.1 77,483.8 77.4,484.2 77.9,484 78.3,483.9 78.8,484 79.2,484 79.7,484 80.1,484.3 80.6,484.2 81,484 81.5,484 81.9,484.1 82.4,483.9 82.8,484 83.3,483.8 83.7,484.1 84.2,484 84.6,483.9 85.1,484 85.5,483.9 86,484.1 86.4,484 86.9,483.9 87.3,484 87.8,483.8 88.2,484 88.7,483.9 89.1,483.9 89.6,484 90,483.8 90.5,484.1 90.9,483.8 91.4,484.2 91.8,484 92.3,484 92.7,484.1 93.2,484.1 93.6,483.7 94.1,483.9 94.5,483.9 95,484.1 95.4,484.1 95.9,483.9 96.3,484.2 96.8,483.9 97.2,484.1 97.7,484.1 98.1,484.1 98.6,484 99,484 99.5,483.9 99.9,484.1 100.4,484.1 100.8,484.1 101.3,484.2 101.7,484.1 102.2,483.9 102.6,483.8 103.1,484 103.5,484.1 104,484.1 104.4,484 104.9,484.1 105.3,484.3 105.8,484.1 106.2,484.3 106.7,484.2 107.1,484 107.6,483.9 108,483.5 108.5,482.5 108.9,481.4 109.4,480.1 109.8,477.8 110.3,475.4 110.7,473.3 111.2,471.1 111.6,470.6 112.1,471.7 112.5,474.6 113,479.3 113.4,484.6 113.9,490.2 114.3,495.4 114.8,498.8 115.2,500.6 115.7,500.5 116.1,499.3 116.6,497.1 117,494.5 117.5,492.2 117.9,490.3 118.4,488.6 118.8,487.6 119.3,486.9 119.7,486.3 120.2,485.9 120.6,485.7 121.1,485.1 121.5,485 122,484.8 122.4,484.3 122.9,484.1 123.3,483.8 123.8,483.3 124.2,483.2 124.7,482.9 125.1,482.6 125.6,482.5 126,482.1 126.5,482 126.9,481.8 127.4,481.7 127.8,481.7 128.3,481.7 128.7,481.3 129.2,481.5 129.6,481.4 130.1,481 130.5,480.4 131,479.7 131.4,479.3 131.9,478.8 132.3,478.6 132.8,478.9 133.2,479.6 133.7,481.2 134.1,483.1 134.6,484.7 135,486 135.5,486.5 135.9,487 136.4,486.5 136.8,485.5 137.3,484.8 137.7,484.6 138.2,484.2 138.6,483.9 139.1,483.8 139.5,483.8 140,483.6 140.4,483.4 140.9,483.2 141.3,481.5 141.8,479.4 142.2,475.4 142.7,470.9 143.1,466.5 143.6,465.4 144,468.1 144.5,475.7 144.9,486.3 145.4,496 145.8,502 146.3,502.4 146.7,499.6 147.2,494.9 147.6,490.5 148.1,487.3 148.5,485.6 149,484.4 149.4,484.3 149.9,484.2 150.3,484.1 150.8,483.9 151.2,483.9 151.7,483.9 152.1,484.1 152.6,484.1 153,484 153.5,483.6 153.9,482.9 154.4,481.2 154.8,478.5 155.3,474.1 155.7,469.4 156.2,465.7 156.6,465.8 157.1,470.3 157.5,479.1 158,489.7 158.4,498.6 158.9,502.5 159.3,501.9 159.8,498.1 160.2,493.3 160.7,489.2 161.1,486.4 161.6,484.5 162,483.4 162.5,482.6 162.9,481.4 163.4,480.6 163.8,479.7 164.3,479.9 164.7,480.6 165.2,482.5 165.6,484.6 166.1,486.4 166.5,487.9 167,488.3 167.4,488 167.9,487.4 168.3,486.1 168.8,485.4 169.2,484.7 169.7,484.4 170.1,483.7 170.6,483 171,482.2 171.5,480.5 171.9,478.4 172.4,475.4 172.8,472.2 173.3,469.1 173.7,467.3 174.2,467.4 174.6,470.1 175.1,475.4 175.5,482.5 176,489.6 176.4,495.9 176.9,499.7 177.3,500.9 177.8,500.1 178.2,497.4 178.7,494.1 179.1,491 179.6,488.5 180,486.5 180.5,485.5 180.9,484.7 181.4,484.1 181.8,484.3 182.3,484.1 182.7,483.6 183.2,483 183.6,482.7 184.1,481.3 184.5,479.9 185,477.9 185.4,475.4 185.9,472.9 186.3,471.3 186.8,470.3 187.2,471 187.7,473.7 188.1,477.9 188.6,482.9 189,488.1 189.5,493.2 189.9,496.6 190.4,498.6 190.8,498.6 191.3,497.2 191.7,495.2 192.2,492.3 192.6,489.9 193.1,487.7 193.5,485.9 194,484.5 194.4,483.6 194.9,482.8 195.3,482.4 195.8,482.6 196.2,482.8 196.7,483.7 197.1,484.3 197.6,485.2 198,486.5 198.5,487.5 198.9,488.5 199.4,489.3 199.8,489.9 200.3,489.9 200.7,489.9 201.2,489.7 201.6,489.3 202.1,488.3 202.5,487.8 203,487.3 203.4,487 203.9,486.2 204.3,485.9 204.8,485.6 205.2,485 205.7,484.6 206.1,484.5 206.6,484.2 207,483.9 207.5,484 207.9,483.6 208.4,483.6 208.8,483.2 209.3,483.1 209.7,482.6 210.2,482.5 210.6,482.6 211.1,482.3 211.5,482.3 212,482 212.4,481.8 212.9,481.7 213.3,480.9 213.8,479.8 214.2,478 214.7,476 215.1,475.6 215.6,477.6 216,481.6 216.5,485.5 216.9,487.6 217.4,486.3 217.8,483 218.3,478.7 218.7,474.1 219.2,470.6 219.6,470.4 220.1,474.9 220.5,482.4 221,489.8 221.4,494.4 221.9,494.2 222.3,491.6 222.8,488 223.2,485.5 223.7,483.9 224.1,483.6 224.6,483.4 225,483.2 225.5,483.4 225.9,483.6 226.4,483.4 226.8,483.7 227.3,483.7 227.7,483.5 228.2,483.7 228.6,483.8 229.1,483.6 229.5,483.8 230,483.8 230.4,484 230.9,483.7 231.3,484 231.8,483.9 232.2,483.9 232.7,483.9 233.1,483.9 233.6,484 234,483.9 234.5,484 234.9,484.3 235.4,484 235.8,484.1 236.3,484 236.7,484.1 237.2,483.9 237.6,484 238.1,483.9 238.5,484.1 239,484 239.4,484 239.9,483.9 240.3,484.1 240.8,484.3 241.2,484.1 241.7,484 242.1,484.1 242.6,483.8 243,484 243.5,484 243.9,484 244.4,484 244.8,484 245.3,484 245.7,484.1 246.2,483.9 246.6,483.9 247.1,484 247.5,483.9 248,483.9 248.4,484.1 248.9,484 249.3,483.9 249.8,484.2 250.2,484.1 250.7,483.9 251.1,484.1 251.6,484 252,484.1 252.5,484 252.9,484.1 253.4,484 253.8,484 254.3,484.1 254.7,484 255.2,484 255.6,484.1 256.1,483.7 256.5,484.1 257,484.2 257.4,484 257.9,483.9 258.3,484 258.8,484 259.2,484.2 259.7,484.1 260.1,483.9 260.6,483.9 261,484.1 261.5,484 261.9,484.1 262.4,484.1 262.8,484 263.3,483.9 263.7,483.8 264.2,484 264.6,483.9 265.1,484 265.5,483.9 266,483.9 266.4,484.1 266.9,483.9 267.3,484 267.8,484.1 268.2,484.1 268.7,484.1 269.1,484 269.6,484" stroke="#3b7fa0" stroke-width="1.05" fill="none" stroke-linejoin="round"/>
<path d="M55.8,523.2 L56.2,523.3 56.7,523.2 57.2,523.3 57.6,523.4 58.1,523.4 58.5,523.3 59,523.5 59.4,523.1 59.9,523.1 60.3,523.2 60.8,523.4 61.2,523.4 61.7,523.2 62.1,523.3 62.6,523.3 63,522.9 63.5,523.2 63.9,523.5 64.4,523.3 64.8,523.2 65.3,523.2 65.7,523 66.2,523.3 66.6,523 67.1,523.3 67.5,523.6 68,523.3 68.4,523.4 68.9,523.2 69.3,523.4 69.8,523.3 70.2,523.3 70.7,523.2 71.1,523.3 71.6,523.1 72,523.4 72.5,523.2 72.9,523.5 73.4,523.2 73.8,523.5 74.3,523.2 74.7,523.3 75.2,523.4 75.6,523.2 76.1,523.3 76.5,523.4 77,523.6 77.4,523.4 77.9,523.4 78.3,523.5 78.8,523.4 79.2,523.3 79.7,523.5 80.1,523.4 80.6,523.2 81,523.1 81.5,523.3 81.9,523.3 82.4,523.3 82.8,523.3 83.3,523.3 83.7,523.4 84.2,523.3 84.6,523.4 85.1,523.3 85.5,523.3 86,523.4 86.4,523.3 86.9,523.3 87.3,523.4 87.8,523.3 88.2,523.2 88.7,523.2 89.1,523 89.6,523.4 90,523.6 90.5,523.3 90.9,523.3 91.4,523.4 91.8,523.2 92.3,523.3 92.7,523.6 93.2,523 93.6,523.1 94.1,523.1 94.5,523.1 95,523.1 95.4,523.3 95.9,523.3 96.3,523.1 96.8,523.2 97.2,523.3 97.7,523.3 98.1,523.2 98.6,523.3 99,523.2 99.5,523.2 99.9,523.1 100.4,523.2 100.8,523.4 101.3,523.5 101.7,523.4 102.2,523.5 102.6,523.4 103.1,523.4 103.5,523.4 104,523.4 104.4,523.3 104.9,523.3 105.3,523.4 105.8,523.5 106.2,523.4 106.7,523.6 107.1,523.5 107.6,523.3 108,522.7 108.5,522 108.9,521 109.4,519.1 109.8,517.1 110.3,514.7 110.7,512.4 111.2,510.5 111.6,510.1 112.1,511 112.5,513.5 113,518.4 113.4,523.9 113.9,529.5 114.3,534.5 114.8,537.9 115.2,540 115.7,539.8 116.1,538.7 116.6,536.3 117,534 117.5,531.5 117.9,529.4 118.4,528 118.8,526.9 119.3,526.3 119.7,525.7 120.2,525 120.6,524.7 121.1,524.7 121.5,524.3 122,524 122.4,523.5 122.9,523.4 123.3,523.1 123.8,522.7 124.2,522.6 124.7,522.3 125.1,521.9 125.6,521.9 126,521.8 126.5,521.4 126.9,521.1 127.4,521 127.8,520.9 128.3,521 128.7,521 129.2,520.8 129.6,520.4 130.1,520.2 130.5,519.8 131,519.3 131.4,518.7 131.9,518.1 132.3,517.9 132.8,518.2 133.2,519 133.7,520.6 134.1,522.3 134.6,524.2 135,525.2 135.5,526 135.9,525.9 136.4,525.4 136.8,524.7 137.3,524.1 137.7,523.8 138.2,523.4 138.6,523.3 139.1,523 139.5,523.1 140,523 140.4,522.8 140.9,522.2 141.3,521.1 141.8,518.4 142.2,514.9 142.7,510.3 143.1,506.2 143.6,504.5 144,507.4 144.5,515.4 144.9,525.8 145.4,535.4 145.8,541.1 146.3,542 146.7,538.8 147.2,534.2 147.6,530 148.1,526.9 148.5,524.9 149,524.1 149.4,523.6 149.9,523.5 150.3,523.2 150.8,523.3 151.2,523.2 151.7,523.5 152.1,523.2 152.6,523.3 153,523.1 153.5,522.6 153.9,522 154.4,520.7 154.8,517.7 155.3,513.4 155.7,508.6 156.2,504.9 156.6,504.9 157.1,509.7 157.5,518.6 158,529.2 158.4,537.8 158.9,541.8 159.3,541.2 159.8,537.2 160.2,532.7 160.7,528.7 161.1,525.8 161.6,523.7 162,522.5 162.5,521.8 162.9,520.6 163.4,519.7 163.8,519.2 164.3,519.2 164.7,520 165.2,521.8 165.6,523.8 166.1,525.6 166.5,527 167,527.4 167.4,527 167.9,526.8 168.3,525.6 168.8,524.8 169.2,524 169.7,523.4 170.1,523.2 170.6,522.3 171,521.3 171.5,520 171.9,517.6 172.4,514.7 172.8,511.5 173.3,508.5 173.7,506.6 174.2,506.8 174.6,509.4 175.1,514.7 175.5,521.6 176,529 176.4,535.2 176.9,539.1 177.3,540.5 177.8,539 178.2,536.7 178.7,533.5 179.1,530.2 179.6,527.8 180,525.8 180.5,524.8 180.9,523.9 181.4,523.6 181.8,523.3 182.3,523.4 182.7,522.9 183.2,522.5 183.6,521.8 184.1,520.7 184.5,519.1 185,517 185.4,514.9 185.9,512.5 186.3,510.6 186.8,509.6 187.2,510.2 187.7,512.8 188.1,517 188.6,521.9 189,527.7 189.5,532.3 189.9,536.2 190.4,537.7 190.8,537.5 191.3,536.6 191.7,534.5 192.2,531.7 192.6,529.2 193.1,527.1 193.5,525.1 194,523.7 194.4,522.7 194.9,522.4 195.3,521.9 195.8,521.9 196.2,522.2 196.7,522.7 197.1,523.4 197.6,524.7 198,525.6 198.5,526.6 198.9,527.8 199.4,528.3 199.8,528.7 200.3,529.2 200.7,529.2 201.2,528.9 201.6,528.5 202.1,527.9 202.5,527.3 203,526.7 203.4,526 203.9,525.7 204.3,525.1 204.8,524.8 205.2,524.5 205.7,524.2 206.1,523.8 206.6,523.8 207,523.5 207.5,523.4 207.9,522.9 208.4,522.7 208.8,522.5 209.3,522.5 209.7,522.1 210.2,521.8 210.6,521.8 211.1,521.8 211.5,521.3 212,521.1 212.4,521 212.9,521 213.3,520.5 213.8,519 214.2,517.3 214.7,515.4 215.1,515 215.6,516.9 216,520.9 216.5,525 216.9,526.8 217.4,525.6 217.8,522.3 218.3,518 218.7,513.5 219.2,510 219.6,510.2 220.1,514.1 220.5,521.8 221,529.5 221.4,533.6 221.9,533.6 222.3,530.7 222.8,527.2 223.2,524.5 223.7,523.2 224.1,522.7 224.6,522.4 225,522.6 225.5,522.6 225.9,522.5 226.4,522.6 226.8,522.8 227.3,522.9 227.7,523 228.2,523.1 228.6,523.1 229.1,522.8 229.5,523.3 230,523.2 230.4,523 230.9,523.1 231.3,523.3 231.8,523.3 232.2,523.3 232.7,523.1 233.1,523.2 233.6,523.2 234,523.2 234.5,523.3 234.9,523.2 235.4,523.2 235.8,523.3 236.3,523.5 236.7,523.4 237.2,523.4 237.6,523.4 238.1,523.2 238.5,523.4 239,523.4 239.4,523.4 239.9,523.5 240.3,523.3 240.8,523.4 241.2,523.3 241.7,523.3 242.1,523.5 242.6,523.4 243,523.3 243.5,523.3 243.9,523.4 244.4,523.2 244.8,523.2 245.3,523.1 245.7,523.3 246.2,523.4 246.6,523.4 247.1,523.2 247.5,523.4 248,523.3 248.4,523.4 248.9,523.2 249.3,523.1 249.8,523.4 250.2,523.4 250.7,523.4 251.1,523.1 251.6,523.3 252,523.4 252.5,523.4 252.9,523.3 253.4,523.4 253.8,523.3 254.3,523.3 254.7,523.1 255.2,523.2 255.6,523.1 256.1,523.2 256.5,523.3 257,523.5 257.4,523.3 257.9,523.3 258.3,523.4 258.8,523.3 259.2,523.2 259.7,523.4 260.1,523 260.6,523.4 261,523.4 261.5,523.1 261.9,523.5 262.4,523 262.8,523.2 263.3,523.2 263.7,523.3 264.2,523.3 264.6,523.2 265.1,523.4 265.5,523.4 266,523.4 266.4,523.1 266.9,523.3 267.3,523.1 267.8,523.3 268.2,523.4 268.7,523.1 269.1,523.3 269.6,523.3" stroke="#aee3de" stroke-width="1.05" fill="none" stroke-linejoin="round"/>
<path d="M55.8,562.6 L56.2,562.5 56.7,562.5 57.2,562.5 57.6,562.3 58.1,562.5 58.5,562.3 59,562.7 59.4,562.4 59.9,562.6 60.3,562.3 60.8,562.6 61.2,562.6 61.7,562.6 62.1,562.5 62.6,562.4 63,562.7 63.5,562.4 63.9,562.6 64.4,562.4 64.8,562.6 65.3,562.5 65.7,562.5 66.2,562.5 66.6,562.6 67.1,562.4 67.5,562.5 68,562.5 68.4,562.8 68.9,562.4 69.3,562.6 69.8,562.3 70.2,562.7 70.7,562.4 71.1,562.3 71.6,562.3 72,562.4 72.5,562.6 72.9,562.6 73.4,562.6 73.8,562.5 74.3,562.5 74.7,562.3 75.2,562.3 75.6,562.8 76.1,562.6 76.5,562.6 77,562.5 77.4,562.7 77.9,562.6 78.3,562.5 78.8,562.5 79.2,562.5 79.7,562.8 80.1,562.4 80.6,562.3 81,562.3 81.5,562.7 81.9,562.6 82.4,562.4 82.8,562.4 83.3,562.6 83.7,562.6 84.2,562.1 84.6,562.5 85.1,562.5 85.5,562.6 86,562.6 86.4,562.5 86.9,562.5 87.3,562.7 87.8,562.4 88.2,562.6 88.7,562.7 89.1,562.5 89.6,562.4 90,562.6 90.5,562.5 90.9,562.4 91.4,562.5 91.8,562.5 92.3,562.4 92.7,562.5 93.2,562.5 93.6,562.5 94.1,562.4 94.5,562.5 95,562.6 95.4,562.3 95.9,562.6 96.3,562.5 96.8,562.5 97.2,562.5 97.7,562.6 98.1,562.5 98.6,562.5 99,562.5 99.5,562.3 99.9,562.5 100.4,562.5 100.8,562.4 101.3,562.4 101.7,562.7 102.2,562.4 102.6,562.3 103.1,562.7 103.5,562.7 104,562.6 104.4,562.7 104.9,562.5 105.3,562.6 105.8,562.7 106.2,562.7 106.7,562.6 107.1,562.6 107.6,562.3 108,562.2 108.5,561.6 108.9,560.8 109.4,559.5 109.8,558 110.3,556.1 110.7,554.6 111.2,553.1 111.6,552.8 112.1,553.5 112.5,555.8 113,559.2 113.4,563.2 113.9,567.7 114.3,571.4 114.8,574.3 115.2,575.7 115.7,575.6 116.1,574.5 116.6,572.7 117,571 117.5,569.3 117.9,567.6 118.4,566.6 118.8,565.8 119.3,565.1 119.7,564.7 120.2,564.3 120.6,563.9 121.1,563.8 121.5,563.3 122,563.2 122.4,563 122.9,562.6 123.3,562.3 123.8,562.3 124.2,561.8 124.7,561.4 125.1,561.1 125.6,560.9 126,560.8 126.5,560.3 126.9,560.4 127.4,560.4 127.8,560 128.3,560.1 128.7,560.1 129.2,559.8 129.6,559.9 130.1,559.7 130.5,559.5 131,559 131.4,558.6 131.9,558.2 132.3,557.9 132.8,558.2 133.2,559 133.7,560.1 134.1,561.5 134.6,562.8 135,563.7 135.5,564.2 135.9,564.1 136.4,564 136.8,563.3 137.3,563.3 137.7,562.7 138.2,562.5 138.6,562.1 139.1,562.4 139.5,562.3 140,562.2 140.4,562 140.9,561.4 141.3,560.8 141.8,559 142.2,556 142.7,552.5 143.1,549.5 143.6,548.4 144,550.7 144.5,556.4 144.9,564.1 145.4,571.4 145.8,575.6 146.3,576.5 146.7,574.1 147.2,570.6 147.6,567.4 148.1,565.1 148.5,563.9 149,562.9 149.4,562.7 149.9,562.6 150.3,562.6 150.8,562.5 151.2,562.7 151.7,562.7 152.1,562.6 152.6,562.4 153,562.5 153.5,562.3 153.9,561.7 154.4,560.4 154.8,558.3 155.3,555 155.7,551.6 156.2,548.8 156.6,548.8 157.1,552.3 157.5,559.1 158,566.8 158.4,573.3 158.9,576.5 159.3,575.9 159.8,573 160.2,569.5 160.7,566.4 161.1,564.5 161.6,563 162,562.2 162.5,561.3 162.9,560.6 163.4,559.8 163.8,559.3 164.3,559.1 164.7,560.1 165.2,561.5 165.6,562.9 166.1,564.4 166.5,565.1 167,565.4 167.4,565.6 167.9,564.8 168.3,563.9 168.8,563.9 169.2,563 169.7,562.6 170.1,562.3 170.6,561.8 171,560.9 171.5,559.9 171.9,558.1 172.4,556 172.8,553.7 173.3,551.4 173.7,549.9 174.2,550.1 174.6,552.1 175.1,556.2 175.5,561.2 176,566.7 176.4,571.3 176.9,574.3 177.3,575.4 177.8,574.6 178.2,572.4 178.7,570.1 179.1,567.7 179.6,565.8 180,564.4 180.5,563.5 180.9,563 181.4,562.7 181.8,562.5 182.3,562.4 182.7,562.2 183.2,562.1 183.6,561.4 184.1,560.8 184.5,559.3 185,557.9 185.4,556.1 185.9,554.4 186.3,553.2 186.8,552.5 187.2,552.8 187.7,554.7 188.1,557.9 188.6,561.8 189,565.7 189.5,569.5 189.9,572.1 190.4,573.7 190.8,573.9 191.3,572.7 191.7,571.2 192.2,569.3 192.6,567.4 193.1,565.5 193.5,564.2 194,563.5 194.4,562.7 194.9,562.2 195.3,562 195.8,562 196.2,562.3 196.7,562.7 197.1,563.3 197.6,564.2 198,564.8 198.5,565.7 198.9,566.4 199.4,567 199.8,567.2 200.3,567.6 200.7,567.7 201.2,567.5 201.6,566.7 202.1,566.5 202.5,566 203,565.4 203.4,565 203.9,564.6 204.3,564.2 204.8,564 205.2,563.7 205.7,563.3 206.1,563 206.6,562.7 207,562.6 207.5,562.3 207.9,562.2 208.4,561.8 208.8,561.6 209.3,561.4 209.7,561.2 210.2,561.1 210.6,560.8 211.1,560.7 211.5,560.7 212,560.5 212.4,560.4 212.9,560.1 213.3,559.6 213.8,558.8 214.2,557.4 214.7,555.9 215.1,555.5 215.6,556.6 216,560.1 216.5,562.9 216.9,564.4 217.4,563.7 217.8,561.2 218.3,557.8 218.7,554.5 219.2,552.2 219.6,551.9 220.1,555.1 220.5,560.9 221,566.5 221.4,569.9 221.9,569.9 222.3,567.7 222.8,565.2 223.2,563 223.7,562.1 224.1,561.8 224.6,561.9 225,561.8 225.5,561.8 225.9,561.9 226.4,562 226.8,562.2 227.3,562.1 227.7,562.2 228.2,562.1 228.6,562.3 229.1,561.9 229.5,562.4 230,562.3 230.4,562.4 230.9,562.3 231.3,562.4 231.8,562.3 232.2,562.6 232.7,562.5 233.1,562.5 233.6,562.5 234,562.5 234.5,562.7 234.9,562.4 235.4,562.6 235.8,562.5 236.3,562.7 236.7,562.4 237.2,562.8 237.6,562.4 238.1,562.5 238.5,562.5 239,562.4 239.4,562.2 239.9,562.5 240.3,562.5 240.8,562.6 241.2,562.5 241.7,562.6 242.1,562.5 242.6,562.6 243,562.4 243.5,562.7 243.9,562.7 244.4,562.5 244.8,562.6 245.3,562.5 245.7,562.5 246.2,562.7 246.6,562.5 247.1,562.3 247.5,562.3 248,562.5 248.4,562.3 248.9,562.6 249.3,562.4 249.8,562.5 250.2,562.7 250.7,562.3 251.1,562.3 251.6,562.3 252,562.4 252.5,562.4 252.9,562.5 253.4,562.6 253.8,562.4 254.3,562.6 254.7,562.4 255.2,562.7 255.6,562.4 256.1,562.5 256.5,562.4 257,562.5 257.4,562.6 257.9,562.5 258.3,562.5 258.8,562.3 259.2,562.4 259.7,562.5 260.1,562.6 260.6,562.5 261,562.5 261.5,562.5 261.9,562.5 262.4,562.5 262.8,562.6 263.3,562.5 263.7,562.7 264.2,562.3 264.6,562.7 265.1,562.5 265.5,562.5 266,562.5 266.4,562.5 266.9,562.6 267.3,562.5 267.8,562.7 268.2,562.5 268.7,562.4 269.1,562.6 269.6,562.5" stroke="#6cc4a8" stroke-width="1.05" fill="none" stroke-linejoin="round"/>
<rect x="55.3" y="412.8" width="214.89999999999998" height="172.7" fill="none" stroke="#555" stroke-width="1"/>
<line x1="71.7" y1="585.5" x2="71.7" y2="587.1" stroke="#555" stroke-width="0.8"/>
<line x1="98.4" y1="585.5" x2="98.4" y2="588.0" stroke="#555" stroke-width="0.8"/>
<text x="98.4" y="597.9" font-size="8.3" fill="#222" text-anchor="middle" font-weight="normal" >3325</text>
<line x1="125.2" y1="585.5" x2="125.2" y2="587.1" stroke="#555" stroke-width="0.8"/>
<line x1="151.9" y1="585.5" x2="151.9" y2="588.0" stroke="#555" stroke-width="0.8"/>
<text x="151.9" y="597.9" font-size="8.3" fill="#222" text-anchor="middle" font-weight="normal" >3350</text>
<line x1="178.7" y1="585.5" x2="178.7" y2="587.1" stroke="#555" stroke-width="0.8"/>
<line x1="205.4" y1="585.5" x2="205.4" y2="588.0" stroke="#555" stroke-width="0.8"/>
<text x="205.4" y="597.9" font-size="8.3" fill="#222" text-anchor="middle" font-weight="normal" >3375</text>
<line x1="232.2" y1="585.5" x2="232.2" y2="587.1" stroke="#555" stroke-width="0.8"/>
<line x1="258.9" y1="585.5" x2="258.9" y2="588.0" stroke="#555" stroke-width="0.8"/>
<text x="258.9" y="597.9" font-size="8.3" fill="#222" text-anchor="middle" font-weight="normal" >3400</text>
<text x="162.7" y="615.2" font-size="12.7" fill="#222" text-anchor="middle" font-weight="normal" >Magnetic Field(G)</text>
<text transform="translate(32,499) rotate(-90)" font-size="12.6" fill="#222" text-anchor="middle">Intensity (a.u.)</text>
<line x1="179.2" y1="418.8" x2="199" y2="418.8" stroke="#2d4e6e" stroke-width="1.3"/>
<text x="201.7" y="422.1" font-size="9.2" fill="#222" text-anchor="start" font-weight="normal" >0 S</text>
<line x1="179.2" y1="430" x2="199" y2="430" stroke="#3b7fa0" stroke-width="1.3"/>
<text x="201.7" y="433.3" font-size="9.2" fill="#222" text-anchor="start" font-weight="normal" >30 S</text>
<line x1="222.6" y1="418.8" x2="243" y2="418.8" stroke="#aee3de" stroke-width="1.3"/>
<text x="245.7" y="422.1" font-size="9.2" fill="#222" text-anchor="start" font-weight="normal" >180 S</text>
<line x1="222.6" y1="430" x2="243" y2="430" stroke="#6cc4a8" stroke-width="1.3"/>
<text x="245.7" y="433.3" font-size="9.2" fill="#222" text-anchor="start" font-weight="normal" >480 S</text>
<path d="M317.4,227.1 L317.7,227.6 318,227.3 318.3,227.6 318.6,227.4 318.9,227.5 319.2,227.6 319.5,227.3 319.8,227.6 320.1,227.5 320.4,227 320.7,225.3 321,221.4 321.3,215.6 321.6,211.5 321.9,212.6 322.2,217.5 322.5,222.3 322.8,224.6 323.1,224.1 323.4,223.2 323.7,223.5 324,225.2 324.3,226.3 324.6,227.3 324.9,227.3 325.2,227.4 325.5,227.2 325.8,227.6 326.1,227.7 326.4,227.6 326.7,227.2 327,227.4 327.3,227.4 327.6,227.4 327.9,227.5 328.2,227.3 328.5,227.1 328.8,227.2 329.1,227.3 329.4,227.5 329.7,227.5 330,227.7 330.3,227.5 330.6,227.2 330.9,227.1 331.2,227.4 331.5,227.6 331.8,227.1 332.1,227.2 332.4,227.3 332.7,227.5 333,227.4 333.3,227.4 333.6,227.7 333.9,227.5 334.2,227.4 334.5,227.3 334.8,227.7 335.1,227.4 335.4,227.4 335.7,227.7 336,227.6 336.3,227.7 336.6,227.1 336.9,227.3 337.2,227.5 337.5,227.4 337.8,227.3 338.1,227.2 338.4,227.1 338.7,227.6 339,227.6 339.3,227.5 339.6,227 339.9,227.5 340.2,227.4 340.5,227.2 340.8,227.5 341.1,227.3 341.4,227.5 341.7,227.5 342,227.1 342.3,227.3 342.6,227.3 342.9,227.2 343.2,226.8 343.5,226.3 343.8,225.6 344.1,225.3 344.4,225.5 344.7,226.6 345,226.5 345.3,227.4 345.6,227 345.9,227.7 346.2,227.7 346.5,227.7 346.8,227.6 347.1,226.8 347.4,227.1 347.7,227.3 348,226.7 348.3,227.7 348.6,227.6 348.9,227.5 349.2,227.7 349.5,227.7 349.8,227.6 350.1,227.4 350.4,227.2 350.7,227.7 351,227.6 351.3,227.3 351.6,227.6 351.9,227.3 352.2,227.1 352.5,227.5 352.8,227 353.1,227.7 353.4,227.2 353.7,227 354,227.2 354.3,227.3 354.6,227.6 354.9,227.2 355.2,227.4 355.5,227.7 355.8,227.4 356.1,227.4 356.4,227.2 356.7,227.3 357,227.2 357.3,227.4 357.6,227.3 357.9,227.6 358.2,227.2 358.5,227.7 358.8,227.4 359.1,227.5 359.4,227.2 359.7,227.5 360,227.4 360.3,227.5 360.6,227 360.9,227.6 361.2,227.5 361.5,227.4 361.8,227.6 362.1,227.6 362.4,226.9 362.7,227.6 363,227.5 363.3,227.6 363.6,227.6 363.9,227.3 364.2,227 364.5,226.7 364.8,224.1 365.1,220.2 365.4,217.9 365.7,220.1 366,224.3 366.3,226.4 366.6,226.9 366.9,227.2 367.2,227.7 367.5,227.4 367.8,227 368.1,227.7 368.4,227.6 368.7,227.1 369,227.6 369.3,227.5 369.6,227.7 369.9,227 370.2,227.5 370.5,227.7 370.8,227.6 371.1,227.2 371.4,227.5 371.7,227.6 372,227.6 372.3,227.3 372.6,227.3 372.9,227.6 373.2,227.5 373.5,227.5 373.8,227.4 374.1,227.5 374.4,227.1 374.7,227.5 375,227.3 375.3,227 375.6,227.5 375.9,227.5 376.2,227.6 376.5,227.3 376.8,227.5 377.1,227.1 377.4,227.5 377.7,227.4 378,227.5 378.3,227.5 378.6,227.7 378.9,227.2 379.2,227.2 379.5,227.1 379.8,227.6 380.1,227.6 380.4,227.5 380.7,227.6 381,227.5 381.3,227.2 381.6,227.6 381.9,227.4 382.2,227.6 382.5,227.6 382.8,227.3 383.1,227.1 383.4,227.5 383.7,226.5 384,227.6 384.3,227.6 384.6,227.6 384.9,227.2 385.2,227.5 385.5,227.7 385.8,227.4 386.1,227.4 386.4,227.3 386.7,227.6 387,227.5 387.3,227.4 387.6,227.7 387.9,227.5 388.2,227.3 388.5,227.4 388.8,226.9 389.1,227.6 389.4,227.6 389.7,227.3 390,227.5 390.3,227.6 390.6,227.3 390.9,227.3 391.2,227.5 391.5,227.3 391.8,227.2 392.1,227.6 392.4,227.6 392.7,227.5 393,227.2 393.3,227.6 393.6,227.6 393.9,227.2 394.2,226.3 394.5,225.9 394.8,224.9 395.1,222.8 395.4,223.1 395.7,223.1 396,224.5 396.3,226.1 396.6,226.6 396.9,227.3 397.2,227.5 397.5,227.5 397.8,227.5 398.1,227.4 398.4,227.7 398.7,227.2 399,227.6 399.3,227.5 399.6,227.3 399.9,227.3 400.2,227 400.5,227.4 400.8,227.6 401.1,227.5 401.4,227.5 401.7,226.8 402,227 402.3,227.4 402.6,227.5 402.9,227.4 403.2,227.6 403.5,227.5 403.8,227.6 404.1,227.4 404.4,227.2 404.7,227.3 405,227.4 405.3,227.3 405.6,227.6 405.9,227.4 406.2,227.7 406.5,227.4 406.8,227 407.1,227.6 407.4,227.5 407.7,227.7 408,226.6 408.3,226.5 408.6,227.1 408.9,227.3 409.2,227.1 409.5,227.6 409.8,227.5 410.1,227.3 410.4,227.5 410.7,227.7 411,227.6 411.3,227.2 411.6,227.1 411.9,227.6 412.2,227.7 412.5,227.2 412.8,227.7 413.1,227.3 413.4,227.4 413.7,227.7 414,227.2 414.3,227.6 414.6,227.3 414.9,227.5 415.2,227.3 415.5,227.6 415.8,227.6 416.1,227.7 416.4,227.5 416.7,227.5 417,227.4 417.3,227.6 417.6,227.2 417.9,227.1 418.2,227.6 418.5,227 418.8,226.7 419.1,227 419.4,227.5 419.7,227.5 420,227.4 420.3,227.3 420.6,227.6 420.9,227.6 421.2,227.7 421.5,227.5 421.8,227 422.1,227.5 422.4,227.3 422.7,227.7 423,227.6 423.3,227.6 423.6,227.4 423.9,227.6 424.2,227.2 424.5,227.6 424.8,227.6 425.1,227.5 425.4,227.7 425.7,227.4 426,227.7 426.3,227.6 426.6,227.4 426.9,227.3 427.2,227.4 427.5,226.8 427.8,224.7 428.1,223.2 428.4,222.4 428.7,224.3 429,225.9 429.3,227.5 429.6,227.2 429.9,227.6 430.2,227.5 430.5,226.7 430.8,227.7 431.1,227.3 431.4,227.5 431.7,227.3 432,227.2 432.3,227.6 432.6,227 432.9,227.6 433.2,227.6 433.5,227.3 433.8,227.5 434.1,227.4 434.4,227.6 434.7,227.7 435,227.6 435.3,227.7 435.6,227.7 435.9,227.6 436.2,227 436.5,227.4 436.8,227.6 437.1,227.3 437.4,227.6 437.7,227.4 438,227.7 438.3,227.6 438.6,227.3 438.9,227.6 439.2,227.4 439.5,227.6 439.8,226.9 440.1,227.6 440.4,227.5 440.7,227.6 441,227.2 441.3,227.6 441.6,227.6 441.9,227.3 442.2,227.2 442.5,227.3 442.8,227.3 443.1,227.4 443.4,227.3 443.7,227.2 444,227.5 444.3,227.6 444.6,227.3 444.9,227.1 445.2,227.7 445.5,227.6 445.8,227.6 446.1,227.7 446.4,227.3 446.7,227 447,227.6 447.3,227.4 447.6,227.4 447.9,227.1 448.2,227.3 448.5,227.7 448.8,227.4 449.1,227.3 449.4,227.5 449.7,227.6 450,227.3 450.3,227.4 450.6,227.3 450.9,227.4 451.2,227.6 451.5,227 451.8,227.3 452.1,227.7 452.4,227.5 452.7,227.5 453,227.7 453.3,227.6 453.6,227.2 453.9,227.6 454.2,227.7 454.5,227.5 454.8,227.4 455.1,227.3 455.4,227.4 455.7,227.7 456,227.6 456.3,227.6 456.6,227.1 456.9,227.3 457.2,226.6 457.5,226.5 457.8,226 458.1,225.3 458.4,225.4 458.7,225.4 459,225.9 459.3,226.5 459.6,226.8 459.9,227.1 460.2,227.1 460.5,227 460.8,227.5 461.1,227 461.4,227.1 461.7,226.6 462,226.4 462.3,225.5 462.6,225 462.9,224 463.2,223.5 463.5,222.9 463.8,222.9 464.1,223.2 464.4,224.1 464.7,224.9 465,225.6 465.3,226.5 465.6,226.6 465.9,227.1 466.2,227.5 466.5,227.5 466.8,226.9 467.1,227.4 467.4,227.4 467.7,226.9 468,227.2 468.3,227.7 468.6,227.1 468.9,227.2 469.2,226.3 469.5,226.6 469.8,227.4 470.1,227.4 470.4,227.7 470.7,227.5 471,227.6 471.3,227.5 471.6,227.3 471.9,227.5 472.2,227.7 472.5,227.7 472.8,227.6 473.1,227.5 473.4,227 473.7,227.7 474,227.1 474.3,227.6 474.6,227.4 474.9,227.5 475.2,227.4 475.5,227.1 475.8,227.6 476.1,226.6 476.4,227.2 476.7,227.7 477,227.2 477.3,227.5 477.6,227.6 477.9,226.9 478.2,227.3 478.5,227.4 478.8,226.9 479.1,226.8 479.4,227.5 479.7,227.7 480,227.5 480.3,227.7 480.6,227.5 480.9,227.6 481.2,227.4 481.5,227.4 481.8,227.7 482.1,227.4 482.4,227.5 482.7,227.6 483,227.5 483.3,226.7 483.6,227.6 483.9,227.6 484.2,227.1 484.5,227.4 484.8,227.7 485.1,227.2 485.4,227.4 485.7,227.4 486,227.3 486.3,227.3 486.6,227.5 486.9,227.4 487.2,226.7 487.5,227.5 487.8,227.6 488.1,226.9 488.4,227.6 488.7,227.2 489,227.5 489.3,227.4 489.6,227.3 489.9,227.3 490.2,227.3 490.5,227.2 490.8,227.7 491.1,227.5 491.4,227.3 491.7,227.4 492,227.4 492.3,227.6 492.6,227.5 492.9,227.6 493.2,227.7 493.5,227.5 493.8,227.3 494.1,227.2 494.4,227.5 494.7,227.6 495,227.1 495.3,227.7 495.6,227.1 495.9,227.2 496.2,227.3 496.5,227.4 496.8,227.5 497.1,227.4 497.4,227.6 497.7,227.1 498,226.9 498.3,226.6 498.6,226.1 498.9,225.1 499.2,225.3 499.5,225.1 499.8,224.9 500.1,225.5 500.4,226.1 500.7,226.7 501,227 501.3,226.9 501.6,227.5 501.9,227.2 502.2,227.6 502.5,227.5 502.8,227.3 503,227.7 317.4,227.7Z" fill="#23476a" stroke="#23476a" stroke-width="0.4"/>
<line x1="317.4" y1="227.7" x2="503.0" y2="227.7" stroke="#23476a" stroke-width="1.7"/>
<path d="M509,227.5 L509.3,227 509.6,227.6 509.9,227.2 510.2,226.9 510.5,227.2 510.8,227.6 511.1,227.7 511.4,227.3 511.7,227.3 512,227.4 512.3,226.9 512.6,227.5 512.9,227.1 513.2,227.7 513.5,227.2 513.8,227.4 514.1,227.5 514.4,227.5 514.7,227.6 515,227.6 515.3,227.6 515.6,227.6 515.9,227.2 516.2,227.2 516.5,227.4 516.8,227.5 517.1,227.3 517.4,227.4 517.7,227.4 518,227 518.3,227.1 518.6,226.6 518.9,226 519.2,224.8 519.5,224.5 519.8,223 520.1,221.9 520.4,220.8 520.7,219.7 521,218.7 521.3,218.7 521.6,218.8 521.9,219 522.2,220 522.5,221.2 522.8,222.5 523.1,223.8 523.4,224.8 523.7,225.7 524,226.4 524.3,226 524.6,227.2 524.9,227.2 525.2,226.9 525.5,227.5 525.8,227.6 526.1,227.4 526.4,227.4 526.7,227.5 527,227.2 527.3,227.5 527.6,227.6 527.9,227.1 528.2,227.7 528.5,227.2 528.8,226.9 529.1,227.4 529.4,227.6 529.7,227.4 530,227.3 530.3,227.3 530.6,227.4 530.9,227.4 531.2,227.5 531.5,227.3 531.8,227.4 532.1,227.6 532.4,227.7 532.7,227.7 533,227 533.3,227.5 533.6,227.7 533.9,227.7 534.2,227.3 534.5,227.6 534.8,227.5 535.1,227.3 535.4,227 535.7,227.5 536,227.1 536.3,227.4 536.6,227.3 536.9,227.1 537.2,227.1 537.5,227.2 537.8,226.9 538.1,227 538.4,226.3 538.7,225.9 539,226.8 539.3,226.2 539.6,226.5 539.9,226 540.2,226 540.5,226.6 540.8,226.6 541.1,226.8 541.4,226.9 541.7,226.7 542,226.6 542.3,227.1 542.6,226.4 542.9,226.8 543.2,227.2 543.5,227.5 543.8,227.3 544.1,227.3 544.4,227.6 544.7,227.3 545,227.3 545.3,227.7 545.6,227.2 545.9,227.6 546.2,227.5 546.5,227.3 546.8,227.6 547.1,227.5 547.4,227.6 547.7,227.7 548,227.6 548.3,227.6 548.6,227.6 548.9,227.3 549.2,227.2 549.5,227.6 549.8,227.4 550.1,227.6 550.4,227.2 550.7,227.7 551,227.2 551.3,227.4 551.6,226.9 551.9,227.5 552.2,227.4 552.5,227.4 552.8,227.3 553.1,227.6 553.4,227.5 553.7,227.5 554,227.7 554.3,227.3 554.6,227.3 554.9,227.4 555.2,227.5 555.5,227.7 555.8,227.5 556.1,227.7 556.4,227.6 556.7,227.4 557,227.5 557.3,227.6 557.6,227.7 557.9,227.7 558.2,227.6 558.5,227.3 558.8,227.7 559.1,227.6 559.4,227.4 559.7,227.1 560,227.6 560.3,227.7 560.6,227.7 560.9,227.6 561.2,227.2 561.5,227.3 561.8,227.7 562.1,227.5 562.4,227 562.7,227.7 563,227.2 563.3,227.4 563.6,227.4 563.9,227.6 564.2,227.5 564.5,227.5 564.8,227.5 565.1,227.4 565.4,227.3 565.7,227.3 566,227.2 566.3,227.6 566.6,226.8 566.9,227.4 567.2,227.5 567.5,227.6 567.8,227.5 568.1,227.6 568.4,227.5 568.7,227.3 569,227.5 569.3,227.6 569.6,227.4 569.9,227.6 570.2,227.6 570.5,226.9 570.8,226.8 571.1,227.5 571.4,227.6 571.7,227.3 572,227 572.3,226.6 572.6,226.3 572.9,225.5 573.2,224.8 573.5,223.6 573.8,222.4 574.1,221.2 574.4,220.7 574.7,220.6 575,220.5 575.3,221.4 575.6,222.5 575.9,223.7 576.2,224.8 576.5,225.4 576.8,226.6 577.1,226.8 577.4,227.1 577.7,227.3 578,227.2 578.3,227.7 578.6,227.6 578.9,227.4 579.2,227.2 579.5,227.7 579.8,227.5 580.1,227.6 580.4,227.5 580.7,226.7 581,227.5 581.3,227.6 581.6,227.6 581.9,227.5 582.2,227.7 582.5,227.1 582.8,227.3 583.1,227.5 583.4,227.1 583.7,227.5 584,227.6 584.3,227.5 584.6,227.4 584.9,227.6 585.2,227.3 585.5,226.9 585.8,226.9 586.1,226.5 586.4,225.5 586.7,224.7 587,222.7 587.3,221.5 587.6,219.4 587.9,217.5 588.2,215.7 588.5,214.1 588.8,213.3 589.1,213.4 589.4,214.3 589.7,215.6 590,217.3 590.3,219 590.6,220.1 590.9,222.3 591.2,224 591.5,224.7 591.8,226.3 592.1,226.5 592.4,227.1 592.7,226.7 593,227.5 593.3,227.6 593.6,227.4 593.9,227.6 594.2,227.4 594.5,227.7 594.8,227.4 595.1,227.1 595.4,227.4 595.7,227.5 596,227.5 596.3,227.5 596.6,227.5 596.9,227.4 597.2,227.7 597.5,227.3 597.8,227.1 598.1,227.6 598.4,227.6 598.7,227.2 599,227.3 599.3,227.1 599.6,227.5 599.9,226.8 600.2,227.1 600.5,227.7 600.8,227.5 601.1,227.7 601.4,227.6 601.7,227 602,227.3 602.3,227.6 602.6,227.5 602.9,227.6 603.2,227.4 603.5,227.2 603.8,227.4 604.1,227.1 604.4,227.4 604.7,227.5 605,227.2 605.3,227.3 605.6,227.3 605.9,227 606.2,227.7 606.5,227.5 606.8,227.6 607.1,227.4 607.4,227.2 607.7,226.8 608,226.9 608.3,226.9 608.6,226.5 608.9,226.1 609.2,225.7 609.5,225.7 609.8,225.6 610.1,225.3 610.4,225.8 610.7,225.3 611,226 611.3,226.2 611.6,226.5 611.9,226.8 612.2,227.1 612.5,227.2 612.8,227.4 613.1,227.4 613.4,227.6 613.7,227.6 614,227.2 614.3,227.6 614.6,227.6 614.9,227.3 615.2,227.7 615.5,227.3 615.8,227.3 616.1,227.4 616.4,227.3 616.7,227.6 617,227.2 617.3,227.6 617.6,227 617.9,227.6 618.2,227.5 618.5,226.9 618.8,227.4 619.1,227.5 619.4,227.3 619.7,227.3 620,227.5 620.3,227.1 620.6,227.6 620.9,227.5 621.2,227.6 621.5,227.5 621.8,227.4 622.1,227.2 622.4,227.4 622.7,227.6 623,227.2 623.3,227.6 623.6,227.5 623.9,227.7 624.2,227.6 624.5,227.3 624.8,227.5 625.1,227.3 625.4,227.4 625.7,227.1 626,227.1 626.3,227.7 626.6,227.5 626.9,227 627.2,227.3 627.5,227.3 627.8,226.8 628.1,227.4 628.4,227.6 628.7,227.6 629,227.5 629.3,227.5 629.6,227.7 629.9,227.7 630.2,227.4 630.5,227 630.8,227.4 631.1,227.3 631.4,227.7 631.7,227.6 632,227.7 632.3,227.7 632.6,227.1 632.8,227.7 509,227.7Z" fill="#23476a" stroke="#23476a" stroke-width="0.4"/>
<line x1="509.0" y1="227.7" x2="632.8" y2="227.7" stroke="#23476a" stroke-width="1.7"/>
<line x1="502.0" y1="233.7" x2="505.4" y2="223.2" stroke="#333" stroke-width="0.75"/>
<line x1="507.0" y1="233.7" x2="510.4" y2="223.2" stroke="#333" stroke-width="0.75"/>
<path d="M317.4,256.5 L317.7,257.2 318,257.1 318.3,257.2 318.6,257.2 318.9,257.3 319.2,257.1 319.5,257.1 319.8,256.3 320.1,256.2 320.4,255.4 320.7,254.5 321,254.3 321.3,254.5 321.6,255.3 321.9,256.1 322.2,256.9 322.5,256.6 322.8,256.5 323.1,257.2 323.4,257.3 323.7,256.8 324,256.8 324.3,257 324.6,257.4 324.9,257.3 325.2,257.3 325.5,257.3 325.8,257.1 326.1,257.4 326.4,257.2 326.7,257.3 327,257.2 327.3,257.1 327.6,257.1 327.9,257.2 328.2,257.4 328.5,256.7 328.8,257.3 329.1,256.7 329.4,257.1 329.7,257.3 330,257 330.3,257.4 330.6,257 330.9,257.3 331.2,257.4 331.5,257.2 331.8,256.6 332.1,257.2 332.4,257.1 332.7,257.3 333,257.3 333.3,257.2 333.6,257.2 333.9,257 334.2,257.1 334.5,256.7 334.8,257 335.1,257.2 335.4,257.3 335.7,256.7 336,257.3 336.3,257.3 336.6,257.2 336.9,257 337.2,257.4 337.5,256.7 337.8,257 338.1,257.1 338.4,257.3 338.7,257.1 339,256.9 339.3,256.9 339.6,257.1 339.9,256.7 340.2,257.1 340.5,257 340.8,257 341.1,256.9 341.4,256.9 341.7,257.2 342,257.3 342.3,257.2 342.6,257.3 342.9,257.3 343.2,257.1 343.5,256.8 343.8,256.9 344.1,256.5 344.4,255.9 344.7,255.4 345,255.9 345.3,256.4 345.6,257 345.9,257 346.2,256.7 346.5,257.1 346.8,257.1 347.1,257 347.4,256.8 347.7,257 348,256.9 348.3,256.9 348.6,257.4 348.9,257.3 349.2,257.1 349.5,257.4 349.8,257.1 350.1,257.3 350.4,257.2 350.7,257.3 351,257 351.3,257.1 351.6,257.3 351.9,257.1 352.2,257.1 352.5,257.3 352.8,257.1 353.1,257.2 353.4,257.2 353.7,256.8 354,257.2 354.3,257.4 354.6,256.8 354.9,257.3 355.2,257.2 355.5,256.7 355.8,257.3 356.1,256.6 356.4,257.1 356.7,257.1 357,257.3 357.3,257.3 357.6,257.1 357.9,256.9 358.2,257.3 358.5,257.2 358.8,257.3 359.1,257.3 359.4,257.3 359.7,257.2 360,257.3 360.3,257.1 360.6,257.3 360.9,257.3 361.2,257.3 361.5,257.3 361.8,257.1 362.1,256.6 362.4,257.1 362.7,256.9 363,257 363.3,257.2 363.6,257.3 363.9,257.1 364.2,256.4 364.5,254.9 364.8,250.7 365.1,246.7 365.4,247.7 365.7,251.9 366,255.5 366.3,256.5 366.6,257.2 366.9,256.8 367.2,256.4 367.5,256.9 367.8,257.3 368.1,257.2 368.4,257.3 368.7,256.8 369,257 369.3,257.1 369.6,257.3 369.9,257 370.2,257.4 370.5,257.1 370.8,256.7 371.1,257 371.4,256.9 371.7,256.8 372,257.1 372.3,256.8 372.6,257.2 372.9,257.3 373.2,257.3 373.5,256.5 373.8,257.2 374.1,257.2 374.4,257 374.7,257.1 375,257.1 375.3,257.1 375.6,257.4 375.9,257.2 376.2,257.4 376.5,257.3 376.8,257.4 377.1,256.7 377.4,257.3 377.7,257 378,256.8 378.3,257.2 378.6,257.3 378.9,257.3 379.2,257.1 379.5,257.1 379.8,257.1 380.1,257.2 380.4,256.9 380.7,257.2 381,257 381.3,257.2 381.6,257.3 381.9,257.3 382.2,257.1 382.5,257.2 382.8,257.1 383.1,257.1 383.4,257.3 383.7,257.4 384,257.1 384.3,256.8 384.6,257.1 384.9,257 385.2,257.2 385.5,257 385.8,257 386.1,257.1 386.4,257 386.7,256.9 387,257.1 387.3,256.8 387.6,257.3 387.9,257.1 388.2,257.4 388.5,256.9 388.8,257.4 389.1,257.2 389.4,256.9 389.7,257.1 390,256.8 390.3,257.1 390.6,257.2 390.9,257.1 391.2,257.1 391.5,257 391.8,256.6 392.1,257 392.4,257.1 392.7,257.3 393,257.4 393.3,256.9 393.6,257.1 393.9,256.8 394.2,256.7 394.5,256.3 394.8,255.1 395.1,254.7 395.4,254.1 395.7,254.5 396,255.5 396.3,255.7 396.6,256.6 396.9,256.9 397.2,257 397.5,257.4 397.8,257.3 398.1,257.3 398.4,257.1 398.7,257.4 399,257.4 399.3,257.2 399.6,257.3 399.9,257.1 400.2,256.4 400.5,257.1 400.8,257.3 401.1,257 401.4,257 401.7,256.5 402,257.2 402.3,257.3 402.6,257.1 402.9,256.8 403.2,257.2 403.5,257.1 403.8,257.3 404.1,257.2 404.4,256.7 404.7,257.3 405,257.2 405.3,257.2 405.6,256.4 405.9,256.9 406.2,256.9 406.5,256.9 406.8,257.3 407.1,257.3 407.4,256.9 407.7,257.3 408,257 408.3,257.3 408.6,257.1 408.9,256.9 409.2,257.3 409.5,256.7 409.8,257.1 410.1,257.3 410.4,257.4 410.7,257.2 411,256.9 411.3,257 411.6,256.8 411.9,257.2 412.2,257.4 412.5,257.3 412.8,257.2 413.1,257.2 413.4,257.3 413.7,257.2 414,256.5 414.3,257.4 414.6,256.9 414.9,257.4 415.2,256.9 415.5,257.1 415.8,256.8 416.1,256.7 416.4,256.9 416.7,257.3 417,257.2 417.3,256.6 417.6,257.2 417.9,257.2 418.2,257 418.5,257 418.8,257 419.1,257 419.4,257.2 419.7,257.3 420,257.1 420.3,256.8 420.6,257.3 420.9,257.2 421.2,257.1 421.5,257.1 421.8,257.4 422.1,257.4 422.4,256.7 422.7,256.9 423,256.5 423.3,257.2 423.6,256.8 423.9,256.9 424.2,256.8 424.5,256.9 424.8,257.4 425.1,257.3 425.4,257.3 425.7,257.1 426,257.1 426.3,257.2 426.6,257.2 426.9,257.3 427.2,256.8 427.5,255.4 427.8,252.8 428.1,251.2 428.4,252.6 428.7,255.3 429,256.9 429.3,256.8 429.6,257.1 429.9,257.1 430.2,257.1 430.5,257.4 430.8,256.9 431.1,257 431.4,256.9 431.7,257.3 432,257.4 432.3,257.2 432.6,257.4 432.9,257.2 433.2,257.1 433.5,257.1 433.8,257.3 434.1,257 434.4,257 434.7,257.3 435,257.4 435.3,256.6 435.6,257.2 435.9,257.4 436.2,256.9 436.5,257 436.8,256.8 437.1,256.9 437.4,256.7 437.7,257.3 438,257 438.3,257.3 438.6,257 438.9,257.1 439.2,257.3 439.5,256.8 439.8,257.4 440.1,257.4 440.4,256.4 440.7,257.3 441,256.9 441.3,257.2 441.6,257.2 441.9,257.1 442.2,257.2 442.5,257.3 442.8,257 443.1,257 443.4,257.3 443.7,257.3 444,257.1 444.3,257.3 444.6,257.3 444.9,257.2 445.2,257.4 445.5,257.2 445.8,256.9 446.1,257.3 446.4,257.2 446.7,256.9 447,256.8 447.3,257.4 447.6,256.9 447.9,257 448.2,257.1 448.5,257.4 448.8,257 449.1,257.1 449.4,257 449.7,257 450,257 450.3,257.1 450.6,256.9 450.9,257.4 451.2,257.4 451.5,256.9 451.8,257.3 452.1,257.3 452.4,257 452.7,257 453,257.3 453.3,257.2 453.6,256.5 453.9,257 454.2,256.8 454.5,257.3 454.8,256.9 455.1,256.9 455.4,257.3 455.7,257.3 456,257.2 456.3,257.2 456.6,257.2 456.9,257 457.2,256.1 457.5,255.9 457.8,255.6 458.1,254.6 458.4,254.9 458.7,255.3 459,255.8 459.3,256 459.6,256.4 459.9,257 460.2,256.9 460.5,257.1 460.8,256.8 461.1,257.1 461.4,256.8 461.7,256.7 462,256.3 462.3,255.5 462.6,254.8 462.9,254.3 463.2,254.1 463.5,253.9 463.8,253.9 464.1,253.9 464.4,254.3 464.7,254.8 465,255.3 465.3,256.4 465.6,256.8 465.9,256.9 466.2,257.2 466.5,256.6 466.8,256.7 467.1,257.1 467.4,257.3 467.7,257.4 468,257.3 468.3,257 468.6,257 468.9,256.9 469.2,256.5 469.5,257.2 469.8,257.3 470.1,257.3 470.4,257.3 470.7,257 471,257 471.3,257.2 471.6,256.9 471.9,257.1 472.2,257 472.5,257.1 472.8,257 473.1,257.2 473.4,256.6 473.7,257.4 474,256.6 474.3,256.7 474.6,257.4 474.9,257.4 475.2,256.9 475.5,257.3 475.8,257 476.1,257.3 476.4,257.2 476.7,257.3 477,256.8 477.3,257.1 477.6,257.1 477.9,256.9 478.2,256.7 478.5,256.8 478.8,257.3 479.1,257.1 479.4,256.8 479.7,256.9 480,257.2 480.3,257.2 480.6,257.3 480.9,257 481.2,257.4 481.5,257 481.8,257.1 482.1,257.3 482.4,256.9 482.7,257.2 483,257.1 483.3,257.2 483.6,257.2 483.9,257.3 484.2,257.2 484.5,256.9 484.8,257.2 485.1,256.9 485.4,257.2 485.7,257 486,257.4 486.3,257.2 486.6,256.7 486.9,257.2 487.2,256.9 487.5,257.2 487.8,257.2 488.1,257.2 488.4,257 488.7,257 489,257.2 489.3,257.3 489.6,256.8 489.9,257.2 490.2,257.1 490.5,257.2 490.8,256.9 491.1,257.2 491.4,256.8 491.7,256.8 492,256.8 492.3,256.9 492.6,257 492.9,256.4 493.2,256.8 493.5,257.2 493.8,257.3 494.1,257.4 494.4,257.3 494.7,256.9 495,257 495.3,257.4 495.6,257.2 495.9,257.1 496.2,257.3 496.5,257.1 496.8,257 497.1,257 497.4,256.6 497.7,256.5 498,255.7 498.3,255 498.6,254 498.9,252.6 499.2,251.9 499.5,251.2 499.8,251.8 500.1,252.8 500.4,253.8 500.7,254.8 501,255.8 501.3,256.2 501.6,256.7 501.9,257.2 502.2,257.1 502.5,257 502.8,257.3 503,257.4 317.4,257.4Z" fill="#26496b" stroke="#26496b" stroke-width="0.4"/>
<line x1="317.4" y1="257.4" x2="503.0" y2="257.4" stroke="#26496b" stroke-width="1.7"/>
<path d="M509,256.8 L509.3,256.9 509.6,256.6 509.9,257.1 510.2,257.3 510.5,257.2 510.8,257.2 511.1,257.2 511.4,257.4 511.7,257 512,257.3 512.3,256.7 512.6,257.3 512.9,257.2 513.2,257.3 513.5,257.2 513.8,257.2 514.1,257.3 514.4,257.3 514.7,257.2 515,256.8 515.3,256.7 515.6,257.3 515.9,257.3 516.2,257.3 516.5,257.4 516.8,257.1 517.1,257.3 517.4,257.3 517.7,257 518,257.2 518.3,256.8 518.6,256.3 518.9,256.3 519.2,256.1 519.5,255.4 519.8,254.7 520.1,253.7 520.4,252.7 520.7,251.9 521,251.2 521.3,250.9 521.6,250.8 521.9,250.6 522.2,251.8 522.5,253 522.8,254.1 523.1,254.9 523.4,255.5 523.7,256.2 524,256.4 524.3,256.7 524.6,257.1 524.9,257.1 525.2,257.2 525.5,256.8 525.8,257 526.1,257.2 526.4,257.4 526.7,257.3 527,257.3 527.3,256.8 527.6,257 527.9,257.3 528.2,257.2 528.5,257.1 528.8,257.3 529.1,257.3 529.4,257.3 529.7,257.3 530,256.8 530.3,257.3 530.6,257.3 530.9,257.2 531.2,257.2 531.5,257.1 531.8,257.3 532.1,257.3 532.4,257.3 532.7,257.2 533,256.4 533.3,257.4 533.6,257.1 533.9,256.8 534.2,256.9 534.5,257.1 534.8,257.2 535.1,257.3 535.4,257 535.7,257.2 536,257.3 536.3,257.4 536.6,257.2 536.9,257.2 537.2,257.4 537.5,257.4 537.8,256.7 538.1,257.4 538.4,257 538.7,257.2 539,256.8 539.3,257.2 539.6,256.9 539.9,257 540.2,256.6 540.5,257.3 540.8,257.1 541.1,257.1 541.4,257 541.7,256.9 542,257.3 542.3,257 542.6,257.3 542.9,256.8 543.2,256.7 543.5,256.7 543.8,257.2 544.1,256.7 544.4,257 544.7,257.1 545,256.7 545.3,257.1 545.6,257.1 545.9,257.4 546.2,256.9 546.5,257 546.8,257 547.1,256.7 547.4,257.1 547.7,256.9 548,256.6 548.3,256.8 548.6,257.2 548.9,257.2 549.2,256.5 549.5,257 549.8,257.1 550.1,256.7 550.4,257.1 550.7,257.2 551,256.8 551.3,257.3 551.6,257 551.9,257.2 552.2,256.9 552.5,257.1 552.8,257.2 553.1,257.3 553.4,257 553.7,257.2 554,257.3 554.3,257 554.6,257.3 554.9,257.4 555.2,256.6 555.5,257.2 555.8,257.2 556.1,256.8 556.4,257.2 556.7,257.4 557,256.3 557.3,257.1 557.6,257.2 557.9,256.8 558.2,257.3 558.5,257.4 558.8,257 559.1,257.2 559.4,257.1 559.7,257 560,257.3 560.3,257.1 560.6,257.3 560.9,257.4 561.2,256.9 561.5,257.4 561.8,257.1 562.1,257.2 562.4,257.3 562.7,257 563,257.2 563.3,257.3 563.6,256.9 563.9,257.2 564.2,257.2 564.5,257.3 564.8,257.3 565.1,257.4 565.4,257.3 565.7,257.1 566,257.4 566.3,257.2 566.6,257.3 566.9,257.2 567.2,257.3 567.5,257 567.8,257.2 568.1,257.1 568.4,257.3 568.7,257.1 569,256.8 569.3,257.3 569.6,256.9 569.9,257.2 570.2,257.4 570.5,257.2 570.8,257.2 571.1,256.9 571.4,257 571.7,256.5 572,256.7 572.3,256.3 572.6,256.5 572.9,255.7 573.2,255.4 573.5,254.1 573.8,253.8 574.1,252.9 574.4,251.8 574.7,252.4 575,252.2 575.3,252.8 575.6,253.6 575.9,254.6 576.2,255.1 576.5,255.7 576.8,256.5 577.1,256.7 577.4,257.1 577.7,256.7 578,257.2 578.3,257.3 578.6,257.1 578.9,256.7 579.2,257.1 579.5,256.8 579.8,256.8 580.1,257 580.4,257.1 580.7,257.1 581,256.8 581.3,257.3 581.6,257.2 581.9,256.7 582.2,257.1 582.5,257.3 582.8,257.4 583.1,257.1 583.4,257.4 583.7,257.2 584,257 584.3,257.1 584.6,257.3 584.9,257 585.2,257.2 585.5,257 585.8,256.6 586.1,256.6 586.4,256.3 586.7,255.2 587,254.7 587.3,253.6 587.6,252 587.9,250.6 588.2,249.2 588.5,248.2 588.8,247.3 589.1,247.3 589.4,247.9 589.7,248.5 590,250.2 590.3,251.7 590.6,253.2 590.9,254.1 591.2,254.9 591.5,255.6 591.8,256.3 592.1,257 592.4,256.5 592.7,256.9 593,257.1 593.3,257.2 593.6,256.9 593.9,257.2 594.2,256.9 594.5,256.6 594.8,257.3 595.1,257.3 595.4,257.4 595.7,256.8 596,257.2 596.3,257.1 596.6,257.1 596.9,257.2 597.2,257.2 597.5,257 597.8,257.4 598.1,256.5 598.4,257 598.7,257.3 599,257 599.3,257.3 599.6,257 599.9,257.2 600.2,257.2 600.5,257.1 600.8,257.3 601.1,256.8 601.4,257 601.7,257.3 602,257 602.3,257.3 602.6,257 602.9,257 603.2,257.1 603.5,257.2 603.8,257.3 604.1,257.2 604.4,257 604.7,256.7 605,257.2 605.3,257.3 605.6,257.2 605.9,257.1 606.2,256.9 606.5,256.8 606.8,257.1 607.1,257.1 607.4,257.4 607.7,257.2 608,257.4 608.3,257.4 608.6,256.3 608.9,256.8 609.2,257.3 609.5,256.8 609.8,257.1 610.1,257.3 610.4,256.7 610.7,257.2 611,256.4 611.3,257.4 611.6,256.7 611.9,257.2 612.2,257.4 612.5,256.8 612.8,257.4 613.1,257.2 613.4,257.1 613.7,257.2 614,257.1 614.3,257.3 614.6,257.3 614.9,257.4 615.2,257.4 615.5,257.3 615.8,257.2 616.1,257.3 616.4,256.7 616.7,256.8 617,257 617.3,257 617.6,257 617.9,257.1 618.2,257.2 618.5,257 618.8,257.1 619.1,256.9 619.4,256.8 619.7,256.8 620,257.3 620.3,256.7 620.6,257.1 620.9,257.4 621.2,257.1 621.5,257.3 621.8,257.1 622.1,257.3 622.4,257.3 622.7,257.2 623,257.3 623.3,257.2 623.6,257.4 623.9,257.3 624.2,257.2 624.5,257.2 624.8,257.4 625.1,257.4 625.4,257 625.7,257.4 626,257.3 626.3,257 626.6,257.3 626.9,256.9 627.2,256.9 627.5,257.2 627.8,257.2 628.1,257.1 628.4,257.1 628.7,257.2 629,257.3 629.3,257.1 629.6,257 629.9,257 630.2,257.1 630.5,256.7 630.8,256.9 631.1,257.1 631.4,257.3 631.7,256.8 632,257.1 632.3,257.3 632.6,256.8 632.8,257.4 509,257.4Z" fill="#26496b" stroke="#26496b" stroke-width="0.4"/>
<line x1="509.0" y1="257.4" x2="632.8" y2="257.4" stroke="#26496b" stroke-width="1.7"/>
<line x1="502.0" y1="263.4" x2="505.4" y2="252.89999999999998" stroke="#333" stroke-width="0.75"/>
<line x1="507.0" y1="263.4" x2="510.4" y2="252.89999999999998" stroke="#333" stroke-width="0.75"/>
<path d="M317.4,287.6 L317.7,287.9 318,287.8 318.3,287.9 318.6,287.7 318.9,288.1 319.2,288 319.5,287.8 319.8,287.9 320.1,286.8 320.4,286.6 320.7,286.4 321,286 321.3,286 321.6,286.8 321.9,287.2 322.2,287.3 322.5,288.1 322.8,288 323.1,288.2 323.4,287.7 323.7,288 324,287.9 324.3,288 324.6,287.9 324.9,288.1 325.2,287.3 325.5,288.1 325.8,287.9 326.1,288.2 326.4,288.1 326.7,288.1 327,287.9 327.3,287 327.6,288 327.9,288.1 328.2,287.5 328.5,287.7 328.8,288.1 329.1,288 329.4,287.8 329.7,287.7 330,287.9 330.3,288 330.6,287.7 330.9,288 331.2,287.8 331.5,288.2 331.8,287.8 332.1,287.8 332.4,287.7 332.7,287.9 333,287.8 333.3,288 333.6,288.2 333.9,288.1 334.2,287.9 334.5,287.8 334.8,287.8 335.1,287.7 335.4,288.1 335.7,288.2 336,288.1 336.3,287.4 336.6,287.6 336.9,287.7 337.2,288 337.5,288.2 337.8,288 338.1,288.1 338.4,288 338.7,287.8 339,288.2 339.3,287.8 339.6,287.9 339.9,287.8 340.2,287.6 340.5,287.7 340.8,288.2 341.1,288.1 341.4,288 341.7,288.1 342,288.1 342.3,287.9 342.6,287.8 342.9,287.8 343.2,287.9 343.5,287.9 343.8,287.3 344.1,286.2 344.4,283.6 344.7,281.9 345,283.5 345.3,285.6 345.6,287.5 345.9,288.1 346.2,288.2 346.5,288 346.8,288.1 347.1,288.1 347.4,288.1 347.7,288.2 348,287.8 348.3,287.9 348.6,288.1 348.9,288.2 349.2,287.9 349.5,287.9 349.8,287.3 350.1,288.1 350.4,287.9 350.7,288.2 351,288 351.3,287.9 351.6,287.6 351.9,288 352.2,287.9 352.5,288.1 352.8,288.1 353.1,288 353.4,288 353.7,287.9 354,288.1 354.3,287.9 354.6,287.9 354.9,287.7 355.2,288 355.5,288 355.8,288 356.1,287.9 356.4,288.1 356.7,287.8 357,287.5 357.3,288.1 357.6,288.1 357.9,287.6 358.2,288 358.5,288.1 358.8,288.1 359.1,287.7 359.4,288.2 359.7,287.1 360,288 360.3,288.1 360.6,287.7 360.9,288.1 361.2,287.7 361.5,287.8 361.8,287.6 362.1,287.4 362.4,287.9 362.7,288.2 363,287.9 363.3,287.9 363.6,287.6 363.9,287.7 364.2,287.3 364.5,285.4 364.8,281.2 365.1,277.5 365.4,278.2 365.7,282.7 366,286.2 366.3,287.6 366.6,288 366.9,288.1 367.2,288 367.5,288 367.8,288.1 368.1,287.9 368.4,287.7 368.7,288.1 369,288.1 369.3,287.6 369.6,287.6 369.9,288.2 370.2,288.1 370.5,287.9 370.8,287.9 371.1,288 371.4,288.1 371.7,287.4 372,288 372.3,287.8 372.6,288.2 372.9,287.6 373.2,287.9 373.5,288 373.8,287.6 374.1,288.1 374.4,287.8 374.7,288.1 375,288 375.3,287.9 375.6,287.9 375.9,287.6 376.2,287.7 376.5,287.9 376.8,287.9 377.1,288.1 377.4,288.1 377.7,288 378,288.1 378.3,288.1 378.6,288 378.9,288.1 379.2,288.1 379.5,288 379.8,288.1 380.1,288.1 380.4,287.2 380.7,287.7 381,287.5 381.3,288.1 381.6,287.9 381.9,288.1 382.2,288 382.5,288 382.8,287.6 383.1,288.2 383.4,288.1 383.7,287.7 384,287.9 384.3,288 384.6,287.9 384.9,288 385.2,288.1 385.5,288 385.8,287.8 386.1,287.7 386.4,287.7 386.7,287.9 387,287.9 387.3,287.9 387.6,287.7 387.9,287.4 388.2,288.2 388.5,288.2 388.8,288.1 389.1,288.2 389.4,287.7 389.7,288 390,288.1 390.3,288 390.6,287.8 390.9,287.8 391.2,287.9 391.5,288.1 391.8,288.2 392.1,287.7 392.4,287.9 392.7,288.1 393,287.9 393.3,287.8 393.6,288 393.9,288 394.2,287.7 394.5,288.1 394.8,288.2 395.1,287.9 395.4,287.8 395.7,288 396,288 396.3,288 396.6,287.7 396.9,288.1 397.2,288.1 397.5,287.6 397.8,288 398.1,288.1 398.4,288.2 398.7,288.1 399,288.1 399.3,287.7 399.6,288 399.9,287.8 400.2,288.1 400.5,287.9 400.8,288.1 401.1,288.1 401.4,288.1 401.7,287.9 402,287.4 402.3,287.8 402.6,288.1 402.9,287.9 403.2,288.1 403.5,288 403.8,287.7 404.1,288.2 404.4,287.4 404.7,288.1 405,288.1 405.3,287.9 405.6,287.9 405.9,287.6 406.2,287.6 406.5,288 406.8,287.4 407.1,287.6 407.4,288.2 407.7,287.7 408,288.1 408.3,288.1 408.6,287.9 408.9,288.1 409.2,288.1 409.5,288.1 409.8,288 410.1,288.1 410.4,287.7 410.7,287.8 411,288.2 411.3,288.1 411.6,288 411.9,288.2 412.2,287.9 412.5,288.1 412.8,288 413.1,287.9 413.4,288 413.7,287.9 414,287.8 414.3,287.4 414.6,288.1 414.9,288 415.2,288.1 415.5,288.1 415.8,287.8 416.1,288 416.4,288 416.7,288 417,288.1 417.3,288.1 417.6,287.6 417.9,288.1 418.2,288 418.5,288 418.8,288 419.1,288.1 419.4,288 419.7,287.5 420,288.2 420.3,287.9 420.6,287.9 420.9,288.1 421.2,288.2 421.5,287.8 421.8,288 422.1,287.8 422.4,288 422.7,287.9 423,287.6 423.3,288 423.6,287.9 423.9,287.9 424.2,288.1 424.5,288.2 424.8,288.2 425.1,288.1 425.4,288.2 425.7,288 426,288 426.3,287.6 426.6,288 426.9,287.6 427.2,287.5 427.5,286.2 427.8,283.3 428.1,281.9 428.4,283.3 428.7,286 429,287.3 429.3,287.6 429.6,288.2 429.9,288 430.2,287.8 430.5,287.8 430.8,287.8 431.1,287.8 431.4,288 431.7,287.9 432,287.7 432.3,288.1 432.6,288.1 432.9,287.9 433.2,287.8 433.5,288 433.8,288 434.1,287.6 434.4,287.6 434.7,288.1 435,287.7 435.3,288 435.6,287.9 435.9,287.5 436.2,288 436.5,287.4 436.8,288.2 437.1,287.5 437.4,287.9 437.7,288.1 438,288.2 438.3,288.1 438.6,287.8 438.9,288.1 439.2,287.7 439.5,288.1 439.8,288.2 440.1,287.8 440.4,287.8 440.7,288.1 441,287.9 441.3,288 441.6,288.1 441.9,288.2 442.2,287.8 442.5,288.1 442.8,288.1 443.1,288.1 443.4,288.2 443.7,288 444,288.1 444.3,287.9 444.6,288.2 444.9,287.9 445.2,287.9 445.5,288 445.8,287.8 446.1,288.1 446.4,288 446.7,288.2 447,288.1 447.3,288.2 447.6,288.1 447.9,288 448.2,287.4 448.5,287.7 448.8,287.7 449.1,288.2 449.4,288.1 449.7,287.5 450,287.4 450.3,288 450.6,288.1 450.9,288 451.2,287.7 451.5,288 451.8,287.8 452.1,287.8 452.4,287.6 452.7,288 453,288.2 453.3,288.1 453.6,288.1 453.9,287.7 454.2,288.1 454.5,287.8 454.8,287.8 455.1,288.1 455.4,287.9 455.7,288.1 456,287.9 456.3,287.7 456.6,287.2 456.9,287.9 457.2,287.6 457.5,287.1 457.8,286.8 458.1,286.4 458.4,286.3 458.7,286.4 459,287 459.3,287.4 459.6,287.6 459.9,287.6 460.2,288 460.5,287.8 460.8,288.1 461.1,287.7 461.4,287.8 461.7,287.7 462,287.2 462.3,286.6 462.6,286.1 462.9,285.8 463.2,285.4 463.5,284.9 463.8,284.8 464.1,285.5 464.4,285.8 464.7,286.2 465,286.8 465.3,286.7 465.6,287.2 465.9,287.9 466.2,287.9 466.5,288 466.8,288.2 467.1,287.8 467.4,288.1 467.7,288.1 468,288 468.3,287.9 468.6,287.9 468.9,288.1 469.2,288 469.5,288.1 469.8,287.9 470.1,287.8 470.4,288.2 470.7,287.3 471,288.1 471.3,288.2 471.6,287.7 471.9,288.1 472.2,287.9 472.5,288 472.8,288 473.1,287.7 473.4,288 473.7,288 474,288 474.3,287.9 474.6,287.8 474.9,287.9 475.2,288 475.5,287.5 475.8,287.9 476.1,287.8 476.4,287.7 476.7,287.8 477,288 477.3,287.9 477.6,287.9 477.9,287.9 478.2,287.1 478.5,287.9 478.8,287.8 479.1,287.7 479.4,288.2 479.7,288 480,288.1 480.3,288 480.6,287.3 480.9,288.1 481.2,288.1 481.5,287 481.8,287.8 482.1,287.9 482.4,287.7 482.7,287.5 483,287.9 483.3,287.9 483.6,287.6 483.9,287.7 484.2,287.9 484.5,287.6 484.8,288.2 485.1,288.1 485.4,288.2 485.7,288 486,287.8 486.3,287.6 486.6,288.1 486.9,288 487.2,288.1 487.5,288.2 487.8,287.8 488.1,287.8 488.4,287.7 488.7,287.5 489,287.6 489.3,287.5 489.6,287.8 489.9,287.6 490.2,288 490.5,287.7 490.8,288.1 491.1,287.8 491.4,288 491.7,288.1 492,288.1 492.3,287.8 492.6,288.1 492.9,288.1 493.2,288 493.5,288.1 493.8,288 494.1,288 494.4,287.8 494.7,287.9 495,288 495.3,288 495.6,288.1 495.9,288.1 496.2,287.8 496.5,287.9 496.8,287.9 497.1,287.8 497.4,287.3 497.7,287.1 498,286.5 498.3,285.7 498.6,285.1 498.9,283.5 499.2,283.3 499.5,283.1 499.8,283 500.1,284 500.4,285 500.7,285.7 501,286.8 501.3,287.4 501.6,287.5 501.9,287.8 502.2,287.9 502.5,288.1 502.8,288 503,288.2 317.4,288.2Z" fill="#2b5470" stroke="#2b5470" stroke-width="0.4"/>
<line x1="317.4" y1="288.2" x2="503.0" y2="288.2" stroke="#2b5470" stroke-width="1.7"/>
<path d="M509,287.5 L509.3,288.1 509.6,288 509.9,288 510.2,288.1 510.5,287.4 510.8,288.2 511.1,288.1 511.4,287.7 511.7,287.8 512,287.5 512.3,287.6 512.6,287.8 512.9,287.9 513.2,286.9 513.5,287.8 513.8,288.1 514.1,287.9 514.4,287.9 514.7,287.9 515,288.1 515.3,287.8 515.6,287.6 515.9,288.1 516.2,288.1 516.5,287.9 516.8,288.1 517.1,287.5 517.4,288 517.7,288 518,287.8 518.3,287.9 518.6,287.8 518.9,287.4 519.2,287.1 519.5,286.6 519.8,286.1 520.1,284.5 520.4,284.6 520.7,283.5 521,283.3 521.3,282.9 521.6,283.1 521.9,283.5 522.2,283.9 522.5,284.6 522.8,285.2 523.1,286.1 523.4,286.6 523.7,287 524,287.6 524.3,287.1 524.6,288 524.9,288.1 525.2,288 525.5,288.1 525.8,288.1 526.1,288 526.4,287.8 526.7,288 527,287.9 527.3,288 527.6,288.1 527.9,287.9 528.2,288.1 528.5,288 528.8,287.9 529.1,288 529.4,288.2 529.7,288 530,287.6 530.3,288 530.6,288.2 530.9,288.2 531.2,288 531.5,287.9 531.8,288.2 532.1,288.2 532.4,288.1 532.7,287.6 533,288.1 533.3,288 533.6,288.1 533.9,288.2 534.2,288.1 534.5,288 534.8,288.2 535.1,288.1 535.4,288.1 535.7,288 536,287.8 536.3,287.9 536.6,288.2 536.9,287.9 537.2,288.1 537.5,288.1 537.8,287.9 538.1,288 538.4,288.1 538.7,288.2 539,288 539.3,287.6 539.6,288 539.9,287.6 540.2,288 540.5,288 540.8,287.9 541.1,288 541.4,288 541.7,288 542,287.8 542.3,288 542.6,288 542.9,288.2 543.2,287.4 543.5,287.6 543.8,288 544.1,287.7 544.4,288 544.7,287.8 545,287.3 545.3,287.7 545.6,287.8 545.9,288.1 546.2,288.1 546.5,288.1 546.8,288 547.1,288 547.4,287.6 547.7,287.6 548,288 548.3,288 548.6,287.8 548.9,287.8 549.2,287.9 549.5,288 549.8,288.1 550.1,288 550.4,287.9 550.7,287.5 551,287.6 551.3,287.8 551.6,288 551.9,288.1 552.2,288 552.5,287.9 552.8,287.5 553.1,287.9 553.4,287.9 553.7,288.2 554,287.9 554.3,287.9 554.6,287.7 554.9,287.7 555.2,288.2 555.5,288 555.8,288.1 556.1,288.1 556.4,287.6 556.7,287.7 557,288.1 557.3,288 557.6,288.2 557.9,288.1 558.2,288 558.5,287.9 558.8,288.1 559.1,287.8 559.4,287.6 559.7,288 560,287.7 560.3,288.1 560.6,288 560.9,288.2 561.2,287.8 561.5,288 561.8,288 562.1,288.1 562.4,287.4 562.7,287.8 563,288 563.3,287.7 563.6,287.9 563.9,287.8 564.2,288.1 564.5,288 564.8,287.3 565.1,288.2 565.4,288.1 565.7,287.9 566,288 566.3,287.9 566.6,288 566.9,288.1 567.2,288.1 567.5,288.2 567.8,287.7 568.1,287.7 568.4,288.2 568.7,288.2 569,287.9 569.3,287.8 569.6,288.1 569.9,288.1 570.2,288.2 570.5,288 570.8,288 571.1,287.4 571.4,288.1 571.7,288 572,287.9 572.3,287.7 572.6,287.3 572.9,286.7 573.2,286.3 573.5,285.1 573.8,284.3 574.1,284.2 574.4,283.8 574.7,283.5 575,283.4 575.3,284.2 575.6,285 575.9,285.4 576.2,286.2 576.5,286.4 576.8,287.5 577.1,287.8 577.4,287.9 577.7,287.9 578,288 578.3,287.9 578.6,287.9 578.9,288.1 579.2,287.9 579.5,288.1 579.8,287.8 580.1,288.2 580.4,288.2 580.7,288 581,288.1 581.3,287.9 581.6,288.1 581.9,288.2 582.2,288 582.5,288.1 582.8,287.8 583.1,288.1 583.4,288.1 583.7,288 584,288.2 584.3,287.6 584.6,287.8 584.9,287.8 585.2,288 585.5,287.7 585.8,287.8 586.1,287.6 586.4,287.4 586.7,286.6 587,286.2 587.3,285.4 587.6,284.2 587.9,283.5 588.2,282.3 588.5,281.5 588.8,281 589.1,281.2 589.4,281.1 589.7,282 590,283.1 590.3,284.1 590.6,285.3 590.9,286.1 591.2,286.6 591.5,287.3 591.8,287.5 592.1,287.4 592.4,287.9 592.7,288 593,288.1 593.3,287.6 593.6,287.7 593.9,287.8 594.2,288 594.5,288.1 594.8,287.8 595.1,287.4 595.4,288.2 595.7,287.9 596,287.7 596.3,288.2 596.6,288.1 596.9,288 597.2,287.5 597.5,287.9 597.8,288.1 598.1,287.8 598.4,287.9 598.7,288.1 599,288 599.3,287.9 599.6,287.9 599.9,287.7 600.2,288.2 600.5,287.8 600.8,288.1 601.1,288.2 601.4,287.6 601.7,287.9 602,287.9 602.3,287.8 602.6,287.8 602.9,287.9 603.2,287.7 603.5,287.7 603.8,288.2 604.1,287.7 604.4,288.1 604.7,287.8 605,288 605.3,288.1 605.6,287.7 605.9,287.7 606.2,287.8 606.5,287.6 606.8,288.1 607.1,288.2 607.4,288.1 607.7,287.9 608,288.2 608.3,288 608.6,288.1 608.9,287.8 609.2,287.9 609.5,288.2 609.8,287.9 610.1,287.8 610.4,287.9 610.7,288.1 611,288.1 611.3,287.7 611.6,288.1 611.9,288 612.2,288.1 612.5,287.7 612.8,287.8 613.1,287.6 613.4,287.9 613.7,287.9 614,287.7 614.3,288 614.6,287.9 614.9,287.6 615.2,288 615.5,288 615.8,288 616.1,287.5 616.4,287.9 616.7,288 617,288.1 617.3,287.8 617.6,287.8 617.9,287.9 618.2,287.9 618.5,287.9 618.8,288 619.1,288 619.4,287.7 619.7,288.1 620,287.6 620.3,287.9 620.6,288.1 620.9,288 621.2,287.8 621.5,288 621.8,288 622.1,288.1 622.4,288.1 622.7,287.8 623,287.6 623.3,288 623.6,288 623.9,288 624.2,288.2 624.5,287.9 624.8,287.9 625.1,287.8 625.4,287.8 625.7,288.1 626,288.1 626.3,287.8 626.6,288.1 626.9,288.2 627.2,288.1 627.5,287.9 627.8,287.7 628.1,288.1 628.4,288.1 628.7,287.4 629,287.8 629.3,287.9 629.6,287.8 629.9,288 630.2,287.9 630.5,287.9 630.8,287.5 631.1,288 631.4,287.5 631.7,288.2 632,288.2 632.3,287.5 632.6,288 632.8,288.2 509,288.2Z" fill="#2b5470" stroke="#2b5470" stroke-width="0.4"/>
<line x1="509.0" y1="288.2" x2="632.8" y2="288.2" stroke="#2b5470" stroke-width="1.7"/>
<line x1="502.0" y1="294.2" x2="505.4" y2="283.7" stroke="#333" stroke-width="0.75"/>
<line x1="507.0" y1="294.2" x2="510.4" y2="283.7" stroke="#333" stroke-width="0.75"/>
<path d="M317.4,318.2 L317.7,318.5 318,318.5 318.3,318.5 318.6,318.2 318.9,317.8 319.2,318.4 319.5,318.4 319.8,318 320.1,317.7 320.4,317.2 320.7,316.8 321,316.3 321.3,316.3 321.6,317 321.9,317.5 322.2,318 322.5,318.5 322.8,318.3 323.1,318.1 323.4,318.2 323.7,318 324,318.4 324.3,318.1 324.6,318.5 324.9,318.3 325.2,318.3 325.5,318.5 325.8,318.4 326.1,318.5 326.4,318.2 326.7,318.5 327,318.3 327.3,318 327.6,318.3 327.9,318.3 328.2,318.4 328.5,318.6 328.8,318.5 329.1,318.5 329.4,318.4 329.7,318 330,318.2 330.3,318.5 330.6,318.3 330.9,318.6 331.2,318.5 331.5,318 331.8,318.5 332.1,317.9 332.4,318.4 332.7,318.4 333,317.8 333.3,318.5 333.6,318.5 333.9,318.5 334.2,318.4 334.5,318.4 334.8,318.2 335.1,318.5 335.4,318.4 335.7,318.5 336,318.3 336.3,318.4 336.6,318.2 336.9,318.1 337.2,318.4 337.5,318 337.8,318.6 338.1,318.3 338.4,318.6 338.7,318.2 339,318.4 339.3,318.5 339.6,318.6 339.9,318 340.2,318.4 340.5,318.1 340.8,318.4 341.1,318.5 341.4,318.4 341.7,318.4 342,318.3 342.3,318.6 342.6,318.6 342.9,318.2 343.2,318.2 343.5,318.5 343.8,317.4 344.1,315.8 344.4,312.4 344.7,310.6 345,312.4 345.3,315.4 345.6,317.8 345.9,318.3 346.2,318 346.5,318.5 346.8,318 347.1,318 347.4,318.4 347.7,318.4 348,318.4 348.3,318.4 348.6,318 348.9,318.4 349.2,318.5 349.5,318 349.8,318.1 350.1,318.5 350.4,317.5 350.7,318.4 351,318.6 351.3,318.4 351.6,318.5 351.9,318.6 352.2,318.2 352.5,318.6 352.8,318.5 353.1,318.3 353.4,318.5 353.7,318.3 354,318.5 354.3,318.4 354.6,318.3 354.9,318.2 355.2,318.3 355.5,318.4 355.8,318.4 356.1,318.2 356.4,318.2 356.7,317.9 357,318.1 357.3,318 357.6,318.4 357.9,318.4 358.2,318.6 358.5,318.2 358.8,318.4 359.1,318.5 359.4,317.9 359.7,318 360,318.1 360.3,318.6 360.6,318.4 360.9,317.9 361.2,318.3 361.5,318.5 361.8,318.1 362.1,318.4 362.4,318.6 362.7,318.6 363,318 363.3,318.2 363.6,318.3 363.9,318.4 364.2,318 364.5,316 364.8,311.6 365.1,307.8 365.4,308.3 365.7,313.2 366,316.8 366.3,318.1 366.6,318.5 366.9,318.3 367.2,318.4 367.5,318.4 367.8,318.5 368.1,318.6 368.4,318 368.7,318.3 369,318.2 369.3,318.4 369.6,318.2 369.9,318.2 370.2,318.3 370.5,317.7 370.8,318.3 371.1,318.1 371.4,318 371.7,318.6 372,318.1 372.3,317.7 372.6,318.2 372.9,318.2 373.2,318.1 373.5,318 373.8,318.5 374.1,318.6 374.4,317.5 374.7,318.4 375,318.3 375.3,318.1 375.6,318.3 375.9,318.5 376.2,318.2 376.5,318.5 376.8,318.6 377.1,318.5 377.4,318.5 377.7,318.4 378,317.9 378.3,318.2 378.6,318.6 378.9,318.4 379.2,318.4 379.5,318.4 379.8,318.3 380.1,318.6 380.4,318.2 380.7,318.1 381,318.1 381.3,318.5 381.6,318.4 381.9,318.5 382.2,318.5 382.5,318.3 382.8,318.5 383.1,318.2 383.4,318.5 383.7,318.1 384,318.3 384.3,318.2 384.6,318.5 384.9,318.5 385.2,317.9 385.5,318.3 385.8,318.6 386.1,317.9 386.4,317.9 386.7,318.4 387,318.5 387.3,318.4 387.6,318 387.9,318.5 388.2,318.3 388.5,318.2 388.8,318.1 389.1,318.5 389.4,318.3 389.7,318.2 390,318.5 390.3,318.4 390.6,318.2 390.9,318.5 391.2,318.2 391.5,318.4 391.8,318.1 392.1,317.7 392.4,318.1 392.7,318.1 393,318 393.3,318.5 393.6,318.5 393.9,318.2 394.2,318.5 394.5,318.2 394.8,318.5 395.1,318.4 395.4,318.3 395.7,318.2 396,318.5 396.3,318.6 396.6,318.5 396.9,318.3 397.2,318.1 397.5,318.1 397.8,318.1 398.1,318.6 398.4,318.1 398.7,318.4 399,318.4 399.3,318.4 399.6,318.5 399.9,318.4 400.2,318.6 400.5,318.5 400.8,317.8 401.1,318.4 401.4,317.5 401.7,318.4 402,318.3 402.3,318.1 402.6,318.5 402.9,318 403.2,318.4 403.5,318.6 403.8,318.2 404.1,318.5 404.4,318.6 404.7,318.5 405,317.9 405.3,318 405.6,318.4 405.9,318.4 406.2,318.1 406.5,318.5 406.8,318.3 407.1,318.4 407.4,318.3 407.7,318.6 408,318.4 408.3,318.3 408.6,318.6 408.9,318.4 409.2,318.4 409.5,318.3 409.8,318.6 410.1,318.1 410.4,318.6 410.7,318.5 411,318.5 411.3,318.3 411.6,318.4 411.9,318.5 412.2,318.1 412.5,318.2 412.8,318.3 413.1,318.1 413.4,318.3 413.7,318.1 414,318.4 414.3,318.4 414.6,318.4 414.9,318.5 415.2,318.6 415.5,318.4 415.8,318.5 416.1,318.5 416.4,318.5 416.7,318.6 417,318.3 417.3,318.4 417.6,318.5 417.9,318.2 418.2,318.6 418.5,318.6 418.8,318.5 419.1,318.6 419.4,318.3 419.7,318.3 420,318.6 420.3,318.6 420.6,318.4 420.9,318.5 421.2,318.5 421.5,318.3 421.8,318.1 422.1,318.2 422.4,318.1 422.7,318.5 423,318 423.3,318.6 423.6,318.4 423.9,318.4 424.2,317.7 424.5,318.1 424.8,318.4 425.1,318.5 425.4,318.5 425.7,318.2 426,318.3 426.3,318.4 426.6,318.3 426.9,317.8 427.2,317.9 427.5,316.1 427.8,313.5 428.1,312.3 428.4,313.6 428.7,316.5 429,317.8 429.3,318.2 429.6,318.6 429.9,318.2 430.2,318.2 430.5,318.5 430.8,318.6 431.1,318.4 431.4,318.1 431.7,318.3 432,318.6 432.3,318.3 432.6,317.9 432.9,318.5 433.2,318.5 433.5,318.5 433.8,317.9 434.1,318 434.4,318.4 434.7,318.2 435,318.5 435.3,318.5 435.6,318.6 435.9,318.6 436.2,318.6 436.5,318.5 436.8,318.5 437.1,318.5 437.4,318.5 437.7,318.1 438,318.1 438.3,318.5 438.6,318.4 438.9,318.5 439.2,318.5 439.5,317.7 439.8,318.4 440.1,318.1 440.4,318.6 440.7,318.2 441,318.4 441.3,318 441.6,318.3 441.9,317.9 442.2,318.4 442.5,318.5 442.8,318.1 443.1,318.3 443.4,318 443.7,318.5 444,318 444.3,318.3 444.6,318.5 444.9,318.6 445.2,318.3 445.5,318.2 445.8,318.6 446.1,318.2 446.4,318.3 446.7,318.3 447,318.1 447.3,318.3 447.6,318.1 447.9,318.5 448.2,318 448.5,318 448.8,318.3 449.1,318.2 449.4,318.5 449.7,318.2 450,318.5 450.3,318.1 450.6,317.8 450.9,318.5 451.2,318.5 451.5,318.5 451.8,318.2 452.1,318.1 452.4,317.9 452.7,318.3 453,318.1 453.3,318.4 453.6,317.7 453.9,317.7 454.2,318.6 454.5,318.3 454.8,318.1 455.1,318.4 455.4,318.5 455.7,318.3 456,318.3 456.3,318.4 456.6,318.3 456.9,318.5 457.2,318.4 457.5,318.1 457.8,318.3 458.1,318.2 458.4,318.5 458.7,318.2 459,318.4 459.3,318.4 459.6,318.3 459.9,318.4 460.2,318.1 460.5,318.3 460.8,318.5 461.1,318.5 461.4,317.7 461.7,318.1 462,317.6 462.3,317.1 462.6,317.2 462.9,316.7 463.2,316.6 463.5,316.3 463.8,316.5 464.1,316.8 464.4,316.9 464.7,317.1 465,317.2 465.3,318 465.6,318.3 465.9,318.1 466.2,318.5 466.5,318.2 466.8,318.1 467.1,317.9 467.4,318.1 467.7,318.1 468,318.6 468.3,318.6 468.6,318 468.9,317.9 469.2,318.5 469.5,318.5 469.8,318.5 470.1,318.1 470.4,318.4 470.7,318.4 471,318.5 471.3,318.4 471.6,318.1 471.9,318.6 472.2,318.2 472.5,318.5 472.8,318.4 473.1,318.4 473.4,318.4 473.7,318 474,318.2 474.3,318.1 474.6,318.5 474.9,318.6 475.2,318.5 475.5,318.4 475.8,318.4 476.1,318.1 476.4,318.4 476.7,318.5 477,318.3 477.3,318.5 477.6,318.3 477.9,318.3 478.2,318.3 478.5,318.5 478.8,318.5 479.1,318.5 479.4,317.7 479.7,318 480,318.6 480.3,318.4 480.6,318.1 480.9,318.4 481.2,318.6 481.5,318.5 481.8,318.2 482.1,318.6 482.4,318.2 482.7,318.4 483,318.1 483.3,318.6 483.6,317.9 483.9,318.3 484.2,318.2 484.5,318.1 484.8,318.5 485.1,318.5 485.4,318.4 485.7,318.6 486,318.3 486.3,318.4 486.6,318.5 486.9,318.2 487.2,318.3 487.5,318 487.8,318.6 488.1,317.8 488.4,318.2 488.7,318.4 489,318.3 489.3,318.4 489.6,318.1 489.9,318.4 490.2,318.3 490.5,318.5 490.8,318.2 491.1,318.3 491.4,318.3 491.7,318.3 492,318.5 492.3,318.6 492.6,318.3 492.9,318.3 493.2,318.2 493.5,318.4 493.8,318.2 494.1,318.2 494.4,318.2 494.7,318.1 495,318.2 495.3,318.1 495.6,318.2 495.9,318.4 496.2,318.1 496.5,318.5 496.8,318 497.1,318.3 497.4,318.1 497.7,317.8 498,317.1 498.3,316.9 498.6,316.1 498.9,315.4 499.2,314.7 499.5,314.5 499.8,314.6 500.1,314.9 500.4,316.1 500.7,316.8 501,317.6 501.3,317.9 501.6,317.9 501.9,318.3 502.2,318.3 502.5,318.4 502.8,318.5 503,318.6 317.4,318.6Z" fill="#305d72" stroke="#305d72" stroke-width="0.4"/>
<line x1="317.4" y1="318.6" x2="503.0" y2="318.6" stroke="#305d72" stroke-width="1.6"/>
<path d="M509,318.6 L509.3,318.4 509.6,318.5 509.9,318.1 510.2,318.2 510.5,318.6 510.8,318.3 511.1,318.5 511.4,318.4 511.7,318.4 512,318.1 512.3,318.1 512.6,318.4 512.9,318.3 513.2,318.5 513.5,318.4 513.8,317.9 514.1,317.8 514.4,318.6 514.7,318 515,318.3 515.3,318.3 515.6,318.5 515.9,318.5 516.2,318.4 516.5,318.6 516.8,318.3 517.1,318.6 517.4,318.2 517.7,318.2 518,318.1 518.3,318.2 518.6,318.2 518.9,317.8 519.2,317.8 519.5,316.9 519.8,316.5 520.1,315.9 520.4,315.5 520.7,314.9 521,314.5 521.3,314.5 521.6,314.6 521.9,314.9 522.2,315.2 522.5,315.9 522.8,316.5 523.1,316.6 523.4,317.5 523.7,317.4 524,317.9 524.3,317.8 524.6,318.1 524.9,317.7 525.2,318.5 525.5,318.2 525.8,318.5 526.1,318.6 526.4,318.4 526.7,318.5 527,318.5 527.3,318.5 527.6,318.4 527.9,318.4 528.2,318.5 528.5,318.5 528.8,318.5 529.1,318.3 529.4,318.2 529.7,318.5 530,318.1 530.3,318.5 530.6,317.8 530.9,318.2 531.2,318.5 531.5,318.6 531.8,318.5 532.1,318.5 532.4,318.5 532.7,318.4 533,318.2 533.3,318.3 533.6,318.2 533.9,318.2 534.2,318.2 534.5,318.5 534.8,317.8 535.1,318.1 535.4,318.3 535.7,318.4 536,318.2 536.3,318.3 536.6,318.5 536.9,318.4 537.2,318.6 537.5,318.1 537.8,318.6 538.1,318.3 538.4,318.5 538.7,318.6 539,318.6 539.3,317.7 539.6,318.5 539.9,318.5 540.2,318.4 540.5,318 540.8,318.5 541.1,318.3 541.4,318.4 541.7,318.6 542,318.4 542.3,318.4 542.6,318.5 542.9,318.4 543.2,318.4 543.5,318.4 543.8,318 544.1,318.4 544.4,318.3 544.7,318.5 545,318.6 545.3,318.2 545.6,318.6 545.9,318.1 546.2,318.3 546.5,318.5 546.8,317.7 547.1,318.5 547.4,317.9 547.7,318.1 548,318.5 548.3,318.5 548.6,318.3 548.9,318.2 549.2,318.1 549.5,318.2 549.8,318.5 550.1,318.4 550.4,318.5 550.7,318.6 551,318.5 551.3,318.3 551.6,318.5 551.9,318.2 552.2,318.4 552.5,318.4 552.8,318.3 553.1,318.5 553.4,318.6 553.7,318.5 554,318.4 554.3,318.5 554.6,318.6 554.9,318.5 555.2,318.1 555.5,318.5 555.8,318.5 556.1,318.6 556.4,317.7 556.7,317.8 557,318.5 557.3,318.3 557.6,318.3 557.9,318.4 558.2,318.3 558.5,318.4 558.8,318.4 559.1,318.5 559.4,317.9 559.7,318.6 560,318.2 560.3,318.3 560.6,318.2 560.9,318.3 561.2,318.6 561.5,318.4 561.8,318.5 562.1,318.5 562.4,318.5 562.7,318.5 563,318.4 563.3,318.5 563.6,318.2 563.9,318.6 564.2,318.5 564.5,317.8 564.8,317.7 565.1,318.5 565.4,318.3 565.7,318.6 566,318.5 566.3,318 566.6,318.5 566.9,318.4 567.2,318.3 567.5,318.5 567.8,318.2 568.1,318 568.4,318.4 568.7,318 569,318.4 569.3,318.1 569.6,318.6 569.9,317.7 570.2,318.6 570.5,318.3 570.8,318.3 571.1,318.3 571.4,318.6 571.7,318.4 572,318.3 572.3,318 572.6,317.7 572.9,317.6 573.2,317.1 573.5,316.6 573.8,316.3 574.1,316 574.4,315.7 574.7,315.3 575,315.7 575.3,315.9 575.6,316.4 575.9,316.8 576.2,317.4 576.5,317.6 576.8,318 577.1,318.1 577.4,318.1 577.7,318.3 578,318 578.3,318.5 578.6,318.5 578.9,318.5 579.2,318.3 579.5,318.2 579.8,318.2 580.1,318.4 580.4,318.3 580.7,318.3 581,318.5 581.3,318.5 581.6,318.3 581.9,318.1 582.2,318.4 582.5,318.6 582.8,318.4 583.1,318.5 583.4,317.8 583.7,318.6 584,318.1 584.3,318.1 584.6,318.5 584.9,317.9 585.2,318 585.5,318.3 585.8,318.5 586.1,318.2 586.4,317.6 586.7,317.3 587,317.6 587.3,316.6 587.6,316.6 587.9,316 588.2,315.8 588.5,315.4 588.8,314.5 589.1,314.7 589.4,314.7 589.7,315.5 590,316.1 590.3,316.6 590.6,316.9 590.9,317 591.2,317.4 591.5,318.1 591.8,318.3 592.1,317.7 592.4,318.4 592.7,318.4 593,318.5 593.3,318.6 593.6,318.4 593.9,318.5 594.2,318.4 594.5,318.3 594.8,318.2 595.1,318.6 595.4,318.4 595.7,318.3 596,318.1 596.3,318.1 596.6,318.3 596.9,318.2 597.2,318.3 597.5,318.6 597.8,318.5 598.1,318.5 598.4,318.2 598.7,318.2 599,318.5 599.3,318 599.6,318 599.9,318 600.2,318.4 600.5,318.4 600.8,318.1 601.1,318.6 601.4,318.1 601.7,318.2 602,318.3 602.3,318.5 602.6,318.4 602.9,318.4 603.2,318.4 603.5,318.3 603.8,318.3 604.1,318.2 604.4,318.6 604.7,318.5 605,318.4 605.3,318.4 605.6,318.4 605.9,318.5 606.2,318.5 606.5,318.2 606.8,318.4 607.1,318 607.4,317.6 607.7,318.6 608,318.5 608.3,318.1 608.6,318.1 608.9,318.3 609.2,318.2 609.5,318.5 609.8,317.8 610.1,318.5 610.4,318.5 610.7,318.3 611,318.3 611.3,318.4 611.6,318.5 611.9,318.5 612.2,318.5 612.5,318.6 612.8,318 613.1,318.2 613.4,318.4 613.7,318 614,318.3 614.3,318.4 614.6,318.2 614.9,318.2 615.2,318.4 615.5,318.4 615.8,318.4 616.1,318.4 616.4,318.5 616.7,318.3 617,318.1 617.3,318.4 617.6,318.3 617.9,318.5 618.2,318.4 618.5,318.4 618.8,318.4 619.1,318.3 619.4,318.4 619.7,318.5 620,318.2 620.3,318.6 620.6,318.4 620.9,318.1 621.2,318.3 621.5,318.5 621.8,318.2 622.1,318.3 622.4,318.5 622.7,318.2 623,318.5 623.3,318.3 623.6,318.4 623.9,318.2 624.2,318.6 624.5,318.6 624.8,318 625.1,318.6 625.4,318 625.7,318.5 626,318.6 626.3,318.1 626.6,317.9 626.9,317.9 627.2,318.2 627.5,318.1 627.8,317.9 628.1,318.6 628.4,318.2 628.7,318.3 629,318.5 629.3,318.5 629.6,318 629.9,318 630.2,318.4 630.5,318.2 630.8,318.4 631.1,318.3 631.4,318.5 631.7,318.5 632,318.2 632.3,318.5 632.6,318 632.8,318.6 509,318.6Z" fill="#305d72" stroke="#305d72" stroke-width="0.4"/>
<line x1="509.0" y1="318.6" x2="632.8" y2="318.6" stroke="#305d72" stroke-width="1.6"/>
<line x1="502.0" y1="324.6" x2="505.4" y2="314.1" stroke="#333" stroke-width="0.75"/>
<line x1="507.0" y1="324.6" x2="510.4" y2="314.1" stroke="#333" stroke-width="0.75"/>
<path d="M317.4,353.4 L317.7,353.3 318,353.3 318.3,353.2 318.6,353.3 318.9,353.3 319.2,352.7 319.5,353.4 319.8,353.3 320.1,353.2 320.4,352.6 320.7,352.3 321,351.4 321.3,351.1 321.6,350.5 321.9,350.5 322.2,350.5 322.5,351 322.8,351.8 323.1,352.2 323.4,352.6 323.7,352.8 324,352.8 324.3,353.3 324.6,353.3 324.9,353.3 325.2,353.2 325.5,353.5 325.8,353.1 326.1,352.9 326.4,353.4 326.7,353.4 327,353 327.3,353.1 327.6,353.3 327.9,353.4 328.2,353.2 328.5,353.3 328.8,353.1 329.1,353.2 329.4,353.2 329.7,353.2 330,353.3 330.3,353.5 330.6,353.4 330.9,353.2 331.2,353.3 331.5,353.4 331.8,353.3 332.1,353.4 332.4,352.7 332.7,353.3 333,353.2 333.3,353.3 333.6,352.7 333.9,353.3 334.2,353.5 334.5,353.2 334.8,353.4 335.1,353.5 335.4,353.3 335.7,353.4 336,353.4 336.3,353 336.6,353.3 336.9,353 337.2,353.2 337.5,353.2 337.8,353 338.1,353.2 338.4,353.3 338.7,353.2 339,353.4 339.3,353.4 339.6,353.3 339.9,353.2 340.2,353.4 340.5,353.4 340.8,353.4 341.1,353.5 341.4,353.3 341.7,353.2 342,353.1 342.3,353.1 342.6,353.4 342.9,353.4 343.2,353.3 343.5,353.2 343.8,352.2 344.1,348 344.4,341.2 344.7,337.1 345,341.4 345.3,348.3 345.6,351.7 345.9,353 346.2,353.4 346.5,353.3 346.8,353.2 347.1,353.5 347.4,353 347.7,353.3 348,353.4 348.3,352.7 348.6,353.2 348.9,353 349.2,353.2 349.5,353.3 349.8,353.4 350.1,353.3 350.4,353.4 350.7,353.1 351,353.3 351.3,353.4 351.6,353.4 351.9,353.4 352.2,353.5 352.5,352.3 352.8,353.3 353.1,352.8 353.4,353 353.7,353.2 354,353.4 354.3,353.4 354.6,353.4 354.9,353.2 355.2,353 355.5,353 355.8,353.2 356.1,353.3 356.4,353 356.7,353 357,353.1 357.3,352.9 357.6,353.3 357.9,353.5 358.2,353 358.5,353.2 358.8,353.4 359.1,353.2 359.4,353.1 359.7,353.3 360,353.3 360.3,353.4 360.6,353.2 360.9,353.2 361.2,353.4 361.5,353.1 361.8,353.5 362.1,353.2 362.4,353.5 362.7,353.3 363,353 363.3,353.3 363.6,352.8 363.9,353.2 364.2,352.8 364.5,350.4 364.8,346.4 365.1,342.3 365.4,343.6 365.7,348.1 366,351.7 366.3,352.6 366.6,353.3 366.9,353.2 367.2,353.1 367.5,353 367.8,353.3 368.1,353.2 368.4,353.1 368.7,353.3 369,353.3 369.3,353.2 369.6,353.3 369.9,353.5 370.2,353.3 370.5,353.5 370.8,353 371.1,353.2 371.4,353.4 371.7,352.9 372,353.2 372.3,353.4 372.6,353 372.9,353.5 373.2,353.2 373.5,353.2 373.8,353 374.1,353.2 374.4,353.4 374.7,353.4 375,353.2 375.3,352.9 375.6,353.1 375.9,353.5 376.2,352.9 376.5,353.5 376.8,353.2 377.1,353.3 377.4,352.9 377.7,353.4 378,353.4 378.3,353.2 378.6,353.3 378.9,353.2 379.2,353.4 379.5,353.3 379.8,353.1 380.1,353.2 380.4,353.4 380.7,353.5 381,353.2 381.3,353.2 381.6,353.5 381.9,353.5 382.2,353.1 382.5,352.9 382.8,353.3 383.1,353.2 383.4,353.3 383.7,353.4 384,353.4 384.3,353.4 384.6,352.9 384.9,353.5 385.2,352.7 385.5,353.1 385.8,353.2 386.1,353.5 386.4,353.5 386.7,353 387,353.4 387.3,353.4 387.6,352.9 387.9,352.9 388.2,353.2 388.5,353.4 388.8,353.4 389.1,353.5 389.4,353.2 389.7,353 390,353.2 390.3,353.2 390.6,353.5 390.9,353.1 391.2,352.7 391.5,353.2 391.8,353.2 392.1,353.3 392.4,353.3 392.7,352.6 393,353.3 393.3,353.2 393.6,353.1 393.9,353.5 394.2,353.4 394.5,353.2 394.8,353.5 395.1,353.4 395.4,352.8 395.7,353 396,353.3 396.3,353.4 396.6,353.3 396.9,353 397.2,353.1 397.5,353.5 397.8,352.8 398.1,353.2 398.4,353.4 398.7,353.1 399,353.5 399.3,353.5 399.6,353.4 399.9,353.3 400.2,353.4 400.5,353.2 400.8,352.8 401.1,353.2 401.4,353.4 401.7,353.4 402,353 402.3,353.5 402.6,353.2 402.9,353.4 403.2,352.6 403.5,353.3 403.8,352.7 404.1,353.4 404.4,353.5 404.7,353.3 405,353.2 405.3,353.1 405.6,353.3 405.9,352.6 406.2,353.4 406.5,353 406.8,353.1 407.1,352.9 407.4,352.9 407.7,353.1 408,353.5 408.3,353.4 408.6,353.3 408.9,353.4 409.2,353.3 409.5,352.9 409.8,353.5 410.1,353.3 410.4,353.4 410.7,352.9 411,353.3 411.3,353.2 411.6,352.9 411.9,353.4 412.2,353.2 412.5,353.4 412.8,353 413.1,353.4 413.4,353.3 413.7,353.4 414,353.4 414.3,353 414.6,353.3 414.9,353 415.2,353.3 415.5,353.4 415.8,353.5 416.1,353.3 416.4,353.5 416.7,353.1 417,353.5 417.3,352.9 417.6,353.1 417.9,353.3 418.2,353.3 418.5,353 418.8,353.5 419.1,353.4 419.4,352.9 419.7,353.4 420,353.4 420.3,353 420.6,352.9 420.9,353.4 421.2,353.2 421.5,353.3 421.8,353 422.1,353 422.4,352.7 422.7,353.4 423,353 423.3,353.3 423.6,353.2 423.9,353.4 424.2,353.5 424.5,353.1 424.8,353.1 425.1,353.5 425.4,353.4 425.7,353.3 426,353.4 426.3,353.3 426.6,353.5 426.9,353.2 427.2,352.8 427.5,351.5 427.8,348.9 428.1,347.1 428.4,348.8 428.7,351.2 429,352.9 429.3,353.4 429.6,352.9 429.9,353.4 430.2,353.2 430.5,353.2 430.8,353.3 431.1,353.5 431.4,353.2 431.7,353.2 432,353.2 432.3,353.2 432.6,352.7 432.9,352.9 433.2,353.3 433.5,353.2 433.8,353.2 434.1,353.2 434.4,353 434.7,353.5 435,353 435.3,353.2 435.6,353.5 435.9,353.3 436.2,353.5 436.5,353.3 436.8,353 437.1,353 437.4,353.5 437.7,353 438,353.4 438.3,353.2 438.6,353.4 438.9,353.2 439.2,353.3 439.5,353.5 439.8,353.5 440.1,353.4 440.4,353.1 440.7,353 441,353.4 441.3,353.4 441.6,353.3 441.9,353.1 442.2,353.3 442.5,353.2 442.8,353 443.1,353.3 443.4,353.4 443.7,353.4 444,353.1 444.3,353.2 444.6,353.5 444.9,353 445.2,353.2 445.5,353.1 445.8,353.1 446.1,353.5 446.4,353.3 446.7,353.2 447,353.2 447.3,353.1 447.6,353.4 447.9,353.4 448.2,353.2 448.5,353.4 448.8,353.1 449.1,353.5 449.4,353.4 449.7,353.3 450,353 450.3,353.2 450.6,353.1 450.9,353.3 451.2,353.3 451.5,353.4 451.8,353.5 452.1,352.9 452.4,353.4 452.7,352.4 453,353.4 453.3,353.4 453.6,353.2 453.9,353.3 454.2,353.1 454.5,353.4 454.8,353.1 455.1,352.9 455.4,353.2 455.7,353.5 456,353 456.3,352.9 456.6,353.3 456.9,353.4 457.2,353.2 457.5,353.2 457.8,353.3 458.1,353.4 458.4,353.5 458.7,353.4 459,353.3 459.3,353.3 459.6,353.2 459.9,353.2 460.2,353.4 460.5,353.5 460.8,353.3 461.1,353.4 461.4,353.4 461.7,353.1 462,353.5 462.3,353.2 462.6,353 462.9,352.8 463.2,353.5 463.5,353.1 463.8,353.1 464.1,353.3 464.4,353.4 464.7,353.2 465,353.3 465.3,353 465.6,352.9 465.9,353.4 466.2,353.3 466.5,353.3 466.8,353.3 467.1,353 467.4,353 467.7,352.6 468,353.4 468.3,353.2 468.6,353.5 468.9,353.4 469.2,353.3 469.5,353.3 469.8,353.1 470.1,353.4 470.4,353.4 470.7,353.2 471,353.3 471.3,352.7 471.6,353.2 471.9,353.5 472.2,353.3 472.5,353.4 472.8,352.9 473.1,353.2 473.4,353.3 473.7,353.3 474,353.2 474.3,353.3 474.6,352.6 474.9,353.5 475.2,353.3 475.5,353.2 475.8,353.1 476.1,353.5 476.4,353.1 476.7,353.4 477,353 477.3,353.5 477.6,353.4 477.9,352.9 478.2,353.3 478.5,353.3 478.8,353.4 479.1,353.2 479.4,353.4 479.7,353 480,353.3 480.3,353.2 480.6,353.3 480.9,353.3 481.2,353.5 481.5,353.3 481.8,353.2 482.1,352.7 482.4,353.2 482.7,353.4 483,352.9 483.3,352.8 483.6,352.7 483.9,353.3 484.2,352.7 484.5,353.1 484.8,353.1 485.1,353.2 485.4,352.9 485.7,353.4 486,353.4 486.3,353.1 486.6,353.4 486.9,353.4 487.2,353.4 487.5,353.3 487.8,353.1 488.1,353.2 488.4,352.9 488.7,353 489,353.5 489.3,353.3 489.6,353.5 489.9,353.2 490.2,353.5 490.5,353.3 490.8,353.1 491.1,353.4 491.4,353.4 491.7,353.2 492,353.2 492.3,353.5 492.6,353.3 492.9,353.4 493.2,353.2 493.5,353.4 493.8,353.3 494.1,353 494.4,353 494.7,353.1 495,353 495.3,353.5 495.6,353.2 495.9,353.5 496.2,353.2 496.5,353.4 496.8,353.5 497.1,353.3 497.4,353 497.7,352.9 498,353 498.3,352.3 498.6,351.9 498.9,351.8 499.2,351.6 499.5,351.1 499.8,351.2 500.1,351.8 500.4,352.1 500.7,352.5 501,352.5 501.3,352.7 501.6,353 501.9,353.3 502.2,353.3 502.5,353.2 502.8,353.1 503,353.5 317.4,353.5Z" fill="#386a76" stroke="#386a76" stroke-width="0.4"/>
<line x1="317.4" y1="353.5" x2="503.0" y2="353.5" stroke="#386a76" stroke-width="1.5"/>
<path d="M509,353.4 L509.3,352.8 509.6,353.3 509.9,353 510.2,353.4 510.5,353.4 510.8,353.3 511.1,353.3 511.4,353.2 511.7,353.3 512,353.5 512.3,353.3 512.6,353.4 512.9,353.1 513.2,353.5 513.5,353.2 513.8,353.4 514.1,353.2 514.4,353.5 514.7,353.4 515,353.2 515.3,353.3 515.6,353.3 515.9,353.3 516.2,353.3 516.5,352.9 516.8,353.5 517.1,353 517.4,353.3 517.7,353.2 518,353.3 518.3,353.3 518.6,352.9 518.9,352.9 519.2,352.7 519.5,352.3 519.8,352.5 520.1,352.1 520.4,352.1 520.7,351.4 521,351.5 521.3,350.9 521.6,351.4 521.9,351.4 522.2,351.7 522.5,351.9 522.8,352.4 523.1,352.2 523.4,352.8 523.7,353.2 524,353.1 524.3,353.3 524.6,353.3 524.9,352.8 525.2,353.3 525.5,353.3 525.8,353.2 526.1,353 526.4,352.7 526.7,352.3 527,353.3 527.3,353.5 527.6,352.9 527.9,353.3 528.2,353.4 528.5,353.1 528.8,353.2 529.1,352.9 529.4,353.2 529.7,352.9 530,353.3 530.3,353.4 530.6,353.2 530.9,353.4 531.2,353.3 531.5,353.5 531.8,353 532.1,353.3 532.4,353.1 532.7,353.4 533,353.4 533.3,353.5 533.6,353.3 533.9,352.9 534.2,353.1 534.5,353.3 534.8,352.6 535.1,352.6 535.4,353.4 535.7,353.3 536,353.4 536.3,353.4 536.6,353.4 536.9,353 537.2,353.2 537.5,353.3 537.8,353.4 538.1,353.3 538.4,353.2 538.7,353.5 539,353.4 539.3,353.1 539.6,353.2 539.9,353.4 540.2,353.3 540.5,353.3 540.8,353.4 541.1,353 541.4,353.5 541.7,353.4 542,353.5 542.3,353.5 542.6,353.3 542.9,353 543.2,353.4 543.5,353.3 543.8,353.5 544.1,353 544.4,353.4 544.7,353.2 545,353.1 545.3,353.1 545.6,353 545.9,353.4 546.2,353.3 546.5,353.3 546.8,353.3 547.1,353.4 547.4,353.2 547.7,353.2 548,353.4 548.3,353.2 548.6,353 548.9,353.1 549.2,353.2 549.5,353.1 549.8,352.9 550.1,353.2 550.4,352.9 550.7,353.3 551,353.2 551.3,353.5 551.6,353.2 551.9,353.5 552.2,353.1 552.5,353.4 552.8,353.3 553.1,353.4 553.4,353.3 553.7,353.5 554,353.1 554.3,353.2 554.6,352.9 554.9,353.5 555.2,353.1 555.5,353.4 555.8,353.5 556.1,353.3 556.4,353.2 556.7,353.3 557,353.4 557.3,353 557.6,353.5 557.9,352.8 558.2,353.2 558.5,352.7 558.8,353 559.1,353.1 559.4,352.7 559.7,352.9 560,353.3 560.3,353.3 560.6,352.8 560.9,352.9 561.2,353.3 561.5,352.9 561.8,353.4 562.1,353.2 562.4,353.5 562.7,353.5 563,353.2 563.3,353.2 563.6,353.5 563.9,353 564.2,353.5 564.5,353 564.8,352.9 565.1,353.4 565.4,353.4 565.7,353.2 566,353.3 566.3,353.4 566.6,353.4 566.9,352.9 567.2,353.4 567.5,352.4 567.8,353.2 568.1,353.3 568.4,353.3 568.7,353.4 569,353.4 569.3,353.3 569.6,353.4 569.9,352.8 570.2,352.8 570.5,352.9 570.8,353.1 571.1,352.9 571.4,353 571.7,353.5 572,353.4 572.3,353.1 572.6,353.3 572.9,353.2 573.2,352.5 573.5,352.9 573.8,352.7 574.1,351.8 574.4,352.3 574.7,352.4 575,352.2 575.3,352.4 575.6,352.6 575.9,352.5 576.2,353.1 576.5,353 576.8,353.1 577.1,353 577.4,353.2 577.7,353.4 578,353.4 578.3,352.8 578.6,353.1 578.9,353.4 579.2,353.1 579.5,352.5 579.8,352.8 580.1,353.3 580.4,353.4 580.7,353.1 581,353.1 581.3,353.3 581.6,353 581.9,353.2 582.2,353.3 582.5,353 582.8,353.4 583.1,353.1 583.4,353 583.7,353.4 584,353.4 584.3,353.4 584.6,352.9 584.9,353 585.2,353.3 585.5,353 585.8,352.7 586.1,353 586.4,352.9 586.7,353.3 587,353 587.3,352.8 587.6,352.7 587.9,352.3 588.2,352.6 588.5,352.5 588.8,352.3 589.1,352.4 589.4,352.1 589.7,352.6 590,352.5 590.3,352.6 590.6,352.9 590.9,352.8 591.2,352.7 591.5,352.7 591.8,353.2 592.1,353.4 592.4,352.9 592.7,353.3 593,353.3 593.3,353.2 593.6,353.4 593.9,353.5 594.2,353.1 594.5,353.3 594.8,353.4 595.1,353.1 595.4,353.4 595.7,352.9 596,353.1 596.3,353.1 596.6,353.5 596.9,353 597.2,353.1 597.5,353.3 597.8,353.3 598.1,353.3 598.4,353.3 598.7,353.3 599,353.3 599.3,353.1 599.6,353.4 599.9,353.3 600.2,352.9 600.5,353.4 600.8,353.2 601.1,353.4 601.4,353.1 601.7,353.4 602,353.2 602.3,353.1 602.6,352.9 602.9,353 603.2,353.3 603.5,353.5 603.8,353.4 604.1,352.9 604.4,353.4 604.7,353.2 605,353.3 605.3,353.3 605.6,353.2 605.9,353.5 606.2,353.3 606.5,353 606.8,353 607.1,353.3 607.4,353.4 607.7,353.4 608,353.3 608.3,353.4 608.6,352.7 608.9,352.8 609.2,353.3 609.5,353.5 609.8,353.5 610.1,353.4 610.4,353.4 610.7,353.4 611,353.5 611.3,353.2 611.6,353.3 611.9,353 612.2,353.3 612.5,353.5 612.8,352.8 613.1,353.3 613.4,353.1 613.7,353.2 614,353 614.3,353.1 614.6,353.4 614.9,353.1 615.2,353.5 615.5,353.4 615.8,353.2 616.1,353 616.4,353.1 616.7,353.1 617,353.4 617.3,353.5 617.6,353.3 617.9,353 618.2,352.8 618.5,353.2 618.8,353.3 619.1,352.8 619.4,353.4 619.7,353 620,353.3 620.3,353.3 620.6,353.2 620.9,353.3 621.2,352.9 621.5,352.8 621.8,353.2 622.1,353.1 622.4,353.5 622.7,353.5 623,353.2 623.3,353.4 623.6,353 623.9,353.4 624.2,353.5 624.5,353 624.8,353.1 625.1,353.5 625.4,353.4 625.7,353.1 626,353.5 626.3,352.8 626.6,353.4 626.9,353.3 627.2,353.4 627.5,353 627.8,353.2 628.1,353.4 628.4,353.2 628.7,353.4 629,353.3 629.3,353.4 629.6,353.5 629.9,353.4 630.2,353.3 630.5,353 630.8,353.3 631.1,353.3 631.4,353.3 631.7,353.2 632,353.5 632.3,353 632.6,353.2 632.8,353.5 509,353.5Z" fill="#386a76" stroke="#386a76" stroke-width="0.4"/>
<line x1="509.0" y1="353.5" x2="632.8" y2="353.5" stroke="#386a76" stroke-width="1.5"/>
<line x1="502.0" y1="359.5" x2="505.4" y2="349.0" stroke="#333" stroke-width="0.75"/>
<line x1="507.0" y1="359.5" x2="510.4" y2="349.0" stroke="#333" stroke-width="0.75"/>
<path d="M317.4,389.8 L317.7,389.7 318,389.6 318.3,389.9 318.6,389.5 318.9,389.9 319.2,389.3 319.5,389.7 319.8,389.5 320.1,389.4 320.4,388.4 320.7,387.4 321,387.1 321.3,385.8 321.6,384.7 321.9,384.4 322.2,384.8 322.5,386.1 322.8,387 323.1,388.2 323.4,388.5 323.7,389.4 324,389.4 324.3,389.2 324.6,389.9 324.9,389.4 325.2,389.3 325.5,389.4 325.8,389.7 326.1,389.7 326.4,389.9 326.7,389.2 327,389.4 327.3,389.8 327.6,389.7 327.9,389.8 328.2,389.4 328.5,389.8 328.8,389.8 329.1,389.6 329.4,389.8 329.7,389.8 330,389.7 330.3,389.8 330.6,389.2 330.9,389.5 331.2,389.8 331.5,389.4 331.8,389.6 332.1,389.6 332.4,389.8 332.7,389.8 333,389.4 333.3,389.9 333.6,389.6 333.9,389.4 334.2,389.1 334.5,389.5 334.8,389.7 335.1,389.4 335.4,389.8 335.7,389.6 336,389.2 336.3,389.3 336.6,389.8 336.9,389.2 337.2,389.4 337.5,389 337.8,389.9 338.1,389.7 338.4,389.6 338.7,389.4 339,389.2 339.3,389.8 339.6,389.3 339.9,389.1 340.2,389.2 340.5,389.8 340.8,389.4 341.1,389.9 341.4,389.3 341.7,389.4 342,389.4 342.3,389.7 342.6,389.8 342.9,389.8 343.2,389.5 343.5,389.6 343.8,387.4 344.1,381.5 344.4,371.1 344.7,365.1 345,371.4 345.3,381.9 345.6,387.6 345.9,389.5 346.2,389.6 346.5,389.6 346.8,389.7 347.1,389.3 347.4,389.8 347.7,389.6 348,389.3 348.3,389.8 348.6,389.7 348.9,389.5 349.2,389.7 349.5,389.7 349.8,389.8 350.1,389.6 350.4,389.7 350.7,389.4 351,389.7 351.3,389.9 351.6,389.3 351.9,389.7 352.2,389.5 352.5,389.7 352.8,389.7 353.1,389.3 353.4,389.8 353.7,389.8 354,389.3 354.3,389.8 354.6,389.3 354.9,389.9 355.2,389.6 355.5,389.6 355.8,389.7 356.1,389.2 356.4,389.8 356.7,389.6 357,389.1 357.3,389.9 357.6,389.8 357.9,389.8 358.2,389.9 358.5,389.4 358.8,389.9 359.1,389.5 359.4,389.5 359.7,389.8 360,389.7 360.3,389.5 360.6,389.7 360.9,389.8 361.2,389.4 361.5,389.9 361.8,389.5 362.1,389.6 362.4,389.5 362.7,389.6 363,389.2 363.3,389.3 363.6,389.8 363.9,389.5 364.2,389 364.5,387.3 364.8,383 365.1,379.2 365.4,379.7 365.7,384.7 366,387.8 366.3,389.6 366.6,389.5 366.9,389.9 367.2,389.4 367.5,389.5 367.8,389.6 368.1,389.4 368.4,389.6 368.7,389.7 369,389.7 369.3,389.7 369.6,389.8 369.9,389.3 370.2,389.8 370.5,389.7 370.8,389.8 371.1,389.5 371.4,389.3 371.7,389.2 372,389.8 372.3,389.2 372.6,389.7 372.9,389.7 373.2,389.6 373.5,389.5 373.8,389.8 374.1,389.6 374.4,389.7 374.7,389.7 375,389.9 375.3,389.9 375.6,389.5 375.9,389.6 376.2,389.3 376.5,389.5 376.8,389.5 377.1,389.4 377.4,389.4 377.7,389.6 378,389.8 378.3,389.5 378.6,389.6 378.9,389.8 379.2,389.8 379.5,389.8 379.8,389.5 380.1,389.7 380.4,389.6 380.7,389.6 381,389.4 381.3,389.5 381.6,389.7 381.9,389.8 382.2,389 382.5,389.8 382.8,389.7 383.1,389.5 383.4,389.8 383.7,389.6 384,389.8 384.3,389.8 384.6,389.7 384.9,389.4 385.2,389.6 385.5,389.6 385.8,389.6 386.1,389.8 386.4,389.7 386.7,389.8 387,389.8 387.3,389.6 387.6,389.8 387.9,389.5 388.2,389.3 388.5,389.9 388.8,389.6 389.1,389.5 389.4,389.7 389.7,389.5 390,389.5 390.3,389.7 390.6,389.9 390.9,389.8 391.2,389.8 391.5,389.4 391.8,389.8 392.1,389.8 392.4,389.6 392.7,389.6 393,389.9 393.3,389.7 393.6,389.7 393.9,389.8 394.2,389.8 394.5,389.4 394.8,389.6 395.1,389.7 395.4,389.7 395.7,389.7 396,389.6 396.3,389.3 396.6,389.7 396.9,389.9 397.2,389.5 397.5,389.5 397.8,389 398.1,389.3 398.4,389.8 398.7,389.8 399,389.8 399.3,389.8 399.6,389.9 399.9,389.4 400.2,389.6 400.5,389.3 400.8,389.8 401.1,389.4 401.4,389.8 401.7,389.5 402,389.9 402.3,389.8 402.6,389.2 402.9,389.8 403.2,389.5 403.5,389.8 403.8,389.4 404.1,389.6 404.4,389.7 404.7,389.5 405,389.4 405.3,389.8 405.6,389.1 405.9,389.4 406.2,389.9 406.5,389.8 406.8,389.1 407.1,389.2 407.4,389.8 407.7,389.8 408,389.7 408.3,389.5 408.6,389.5 408.9,389.4 409.2,389.6 409.5,389.3 409.8,389.2 410.1,389.7 410.4,389.8 410.7,389.5 411,389.9 411.3,389.8 411.6,389.8 411.9,389.6 412.2,389.8 412.5,389.3 412.8,389.2 413.1,389.7 413.4,389.6 413.7,389.5 414,389.8 414.3,389.7 414.6,389.6 414.9,389.6 415.2,389.7 415.5,389.8 415.8,389.6 416.1,389.5 416.4,389.7 416.7,389.7 417,389.3 417.3,389.4 417.6,389.3 417.9,389.4 418.2,389.4 418.5,389.8 418.8,389.7 419.1,389.8 419.4,389.8 419.7,389.7 420,389.3 420.3,389.8 420.6,389.7 420.9,389.3 421.2,389.8 421.5,389.5 421.8,389.7 422.1,389.7 422.4,389.8 422.7,389.8 423,389.6 423.3,389.8 423.6,389.4 423.9,389.4 424.2,389.8 424.5,389.4 424.8,389.8 425.1,389.8 425.4,389.6 425.7,389.7 426,389.8 426.3,389.6 426.6,389.5 426.9,389.7 427.2,389.2 427.5,387.8 427.8,385.3 428.1,383 428.4,385.3 428.7,387.8 429,389.3 429.3,389.5 429.6,389.6 429.9,389.7 430.2,389.8 430.5,389.3 430.8,389.6 431.1,389.5 431.4,389.8 431.7,389.7 432,389.8 432.3,389.5 432.6,389.8 432.9,389.8 433.2,389.6 433.5,389.9 433.8,389.8 434.1,389.7 434.4,389.4 434.7,389.5 435,389.3 435.3,389.6 435.6,389.8 435.9,389.9 436.2,389.8 436.5,389.6 436.8,389.8 437.1,389.5 437.4,389.9 437.7,389.7 438,389.8 438.3,389.8 438.6,389.5 438.9,389.5 439.2,389.8 439.5,389.5 439.8,389.8 440.1,389.4 440.4,389.7 440.7,389.4 441,389.8 441.3,389.6 441.6,389.6 441.9,389.8 442.2,389.8 442.5,389.4 442.8,389.2 443.1,389.7 443.4,389.7 443.7,389.7 444,389.7 444.3,389.7 444.6,388.9 444.9,389.8 445.2,389.6 445.5,389.9 445.8,389.6 446.1,389.5 446.4,389.4 446.7,389.5 447,389.7 447.3,389.3 447.6,389.6 447.9,389.8 448.2,389.7 448.5,389.7 448.8,389.2 449.1,389.7 449.4,389.6 449.7,389.5 450,389.5 450.3,389.5 450.6,389.5 450.9,389.8 451.2,389.8 451.5,389.7 451.8,389.8 452.1,389.9 452.4,389.8 452.7,389.8 453,389.9 453.3,389.9 453.6,389.9 453.9,389.8 454.2,389.7 454.5,389.7 454.8,389.7 455.1,389.8 455.4,389.3 455.7,389.6 456,389.6 456.3,389.7 456.6,389.9 456.9,389.4 457.2,389.9 457.5,389.4 457.8,389.6 458.1,389.7 458.4,389.6 458.7,389.4 459,389.6 459.3,389.7 459.6,389.9 459.9,389.9 460.2,389.2 460.5,389.6 460.8,389.7 461.1,389.9 461.4,389.4 461.7,389.5 462,389.2 462.3,389.2 462.6,389.5 462.9,389.7 463.2,389.8 463.5,389.5 463.8,389.9 464.1,389.8 464.4,389.9 464.7,389.7 465,389.6 465.3,389.5 465.6,389.2 465.9,389.3 466.2,389.7 466.5,389.6 466.8,389.6 467.1,389.8 467.4,389.5 467.7,389.5 468,389.6 468.3,389.8 468.6,389.7 468.9,389.8 469.2,389.4 469.5,389.2 469.8,389.9 470.1,389.9 470.4,388.9 470.7,389.6 471,389.5 471.3,389.6 471.6,389.2 471.9,389.6 472.2,389.5 472.5,389.9 472.8,389.2 473.1,389.8 473.4,388.8 473.7,389.3 474,389.7 474.3,389.8 474.6,389.5 474.9,389.9 475.2,389.4 475.5,389.5 475.8,389.3 476.1,389.7 476.4,389.7 476.7,389.9 477,389.3 477.3,389.3 477.6,389.8 477.9,389.7 478.2,389.3 478.5,389.8 478.8,389.4 479.1,389.7 479.4,389.9 479.7,389.7 480,389.5 480.3,389.9 480.6,389.8 480.9,389.6 481.2,389.5 481.5,389.8 481.8,389.4 482.1,389.6 482.4,389.8 482.7,389.6 483,389.6 483.3,389.9 483.6,389.9 483.9,389.8 484.2,389.7 484.5,389.8 484.8,389.9 485.1,389.4 485.4,389.8 485.7,389.7 486,389.7 486.3,389.7 486.6,389.8 486.9,389.8 487.2,389.8 487.5,389.9 487.8,389.7 488.1,389.7 488.4,389.4 488.7,389.5 489,389.5 489.3,389.9 489.6,389.6 489.9,388.9 490.2,389.9 490.5,389.8 490.8,389.4 491.1,389.6 491.4,389.5 491.7,389.7 492,389.8 492.3,389.7 492.6,389.8 492.9,389.6 493.2,389.8 493.5,389.8 493.8,389.3 494.1,389 494.4,389.9 494.7,389.8 495,389.8 495.3,389.2 495.6,389.7 495.9,388.9 496.2,389.8 496.5,389.7 496.8,389.2 497.1,389.6 497.4,389.7 497.7,389.7 498,389.5 498.3,389.3 498.6,389.2 498.9,388.2 499.2,388.7 499.5,388.6 499.8,388.4 500.1,389.1 500.4,389.2 500.7,388.8 501,389.1 501.3,389.4 501.6,389.5 501.9,389.6 502.2,389.4 502.5,389.7 502.8,389.7 503,389.9 317.4,389.9Z" fill="#4a8886" stroke="#4a8886" stroke-width="0.4"/>
<line x1="317.4" y1="389.9" x2="503.0" y2="389.9" stroke="#3e7074" stroke-width="1.4"/>
<path d="M509,389.8 L509.3,389.5 509.6,389.5 509.9,389.8 510.2,389.6 510.5,389.6 510.8,389.6 511.1,389.7 511.4,389.8 511.7,389.3 512,389.7 512.3,389.1 512.6,389.6 512.9,389.8 513.2,389.5 513.5,389.5 513.8,389.5 514.1,389.5 514.4,389.5 514.7,389.1 515,389.9 515.3,389.7 515.6,389.8 515.9,389.6 516.2,389.5 516.5,389.7 516.8,389.7 517.1,389.4 517.4,389.7 517.7,389.5 518,389.4 518.3,389.4 518.6,389.8 518.9,389.2 519.2,389.1 519.5,389.7 519.8,389.9 520.1,389.7 520.4,389.4 520.7,389.3 521,389.7 521.3,389.6 521.6,389.3 521.9,389.7 522.2,389.5 522.5,389.6 522.8,389.8 523.1,389.6 523.4,389.8 523.7,389.8 524,389.8 524.3,389.7 524.6,388.9 524.9,389.2 525.2,389 525.5,389.4 525.8,389.5 526.1,389.6 526.4,389.8 526.7,389.4 527,389.7 527.3,389.7 527.6,389.9 527.9,389.4 528.2,389.9 528.5,389.7 528.8,389.7 529.1,389.8 529.4,389.9 529.7,389.7 530,389.7 530.3,389.3 530.6,389.5 530.9,389.7 531.2,389.9 531.5,389.7 531.8,389.5 532.1,389.1 532.4,389.8 532.7,389.7 533,389.6 533.3,389.7 533.6,389.4 533.9,389.7 534.2,389.4 534.5,389.9 534.8,389.4 535.1,389.7 535.4,389.8 535.7,389.8 536,389.8 536.3,389.5 536.6,389.8 536.9,389.6 537.2,389.8 537.5,389.7 537.8,389.4 538.1,389.7 538.4,389.9 538.7,389.7 539,389.6 539.3,389.8 539.6,389.8 539.9,389.4 540.2,389.6 540.5,389.8 540.8,389.4 541.1,389.7 541.4,389.6 541.7,389.3 542,389.8 542.3,389.7 542.6,389.6 542.9,389.4 543.2,389.8 543.5,389.8 543.8,389.7 544.1,389.7 544.4,389.6 544.7,389.3 545,389.3 545.3,389.9 545.6,389.9 545.9,389.3 546.2,389.7 546.5,389.7 546.8,389.2 547.1,389.7 547.4,389.4 547.7,389.5 548,389.8 548.3,389.8 548.6,389.3 548.9,389.9 549.2,389.6 549.5,389.6 549.8,388.8 550.1,389.6 550.4,389.5 550.7,389.3 551,389.4 551.3,389.5 551.6,389.6 551.9,389.2 552.2,389.7 552.5,389.7 552.8,389.9 553.1,389.4 553.4,389.4 553.7,389.1 554,389.7 554.3,389.7 554.6,389.8 554.9,389.8 555.2,389.6 555.5,389.5 555.8,389.3 556.1,389.5 556.4,389.5 556.7,389.7 557,389.7 557.3,389.2 557.6,389.7 557.9,389.9 558.2,389.9 558.5,389.4 558.8,389.9 559.1,389.5 559.4,389.9 559.7,389.3 560,389.7 560.3,389.7 560.6,389.7 560.9,389.7 561.2,389.5 561.5,389.7 561.8,389.8 562.1,389.3 562.4,389.7 562.7,389.7 563,389.7 563.3,389.3 563.6,389.8 563.9,389.6 564.2,389.7 564.5,389.7 564.8,389.9 565.1,389.7 565.4,389.1 565.7,389.9 566,389.4 566.3,389.9 566.6,389.5 566.9,389.8 567.2,389.5 567.5,389 567.8,389.2 568.1,389.6 568.4,389.6 568.7,389 569,389.8 569.3,389.4 569.6,389.9 569.9,389.6 570.2,389.3 570.5,389.2 570.8,389.4 571.1,389.6 571.4,389.7 571.7,389.8 572,389.7 572.3,389.6 572.6,389.6 572.9,389.5 573.2,389.9 573.5,389.7 573.8,389.4 574.1,389 574.4,389.9 574.7,389.9 575,389.5 575.3,389.6 575.6,389.8 575.9,389.7 576.2,389.2 576.5,389.4 576.8,389.8 577.1,389.2 577.4,389.9 577.7,389.7 578,389.7 578.3,389.8 578.6,389.8 578.9,389.8 579.2,389.8 579.5,389.6 579.8,389.6 580.1,389.3 580.4,389.4 580.7,389.6 581,389.7 581.3,389.6 581.6,389.8 581.9,389.9 582.2,389.5 582.5,389.4 582.8,389.8 583.1,389.8 583.4,389.6 583.7,389.6 584,389.6 584.3,389.9 584.6,389.6 584.9,389.8 585.2,389.6 585.5,389.3 585.8,389.4 586.1,389.6 586.4,389.8 586.7,389.6 587,389.1 587.3,389.7 587.6,389.7 587.9,389.8 588.2,389.8 588.5,389.2 588.8,389.6 589.1,389.8 589.4,389.7 589.7,389.8 590,389.2 590.3,389.6 590.6,389.3 590.9,389.7 591.2,389.8 591.5,389.6 591.8,389.8 592.1,389.6 592.4,389.9 592.7,389.4 593,389.3 593.3,389.4 593.6,389.8 593.9,389.6 594.2,389.8 594.5,389.8 594.8,389.6 595.1,389.7 595.4,389.5 595.7,389.6 596,389.5 596.3,389.8 596.6,389.5 596.9,389.9 597.2,389.7 597.5,389.8 597.8,389.5 598.1,389.7 598.4,389.4 598.7,389.9 599,389.6 599.3,389 599.6,389.8 599.9,389.6 600.2,389.7 600.5,389.8 600.8,389.2 601.1,389.8 601.4,389.8 601.7,389.3 602,389.8 602.3,389.7 602.6,389.7 602.9,389.8 603.2,389.6 603.5,389.5 603.8,389.7 604.1,389.8 604.4,389.7 604.7,389.9 605,389.6 605.3,389.8 605.6,389.7 605.9,389.4 606.2,389.7 606.5,389.9 606.8,389.8 607.1,389.9 607.4,389.7 607.7,389.7 608,389.9 608.3,389.8 608.6,389.9 608.9,389.6 609.2,389.8 609.5,389.7 609.8,389.7 610.1,389.8 610.4,389.6 610.7,389.7 611,389.6 611.3,389.6 611.6,389.8 611.9,389.8 612.2,389.5 612.5,389.6 612.8,389.5 613.1,389.6 613.4,389.8 613.7,389.7 614,389.8 614.3,389.7 614.6,389.7 614.9,389.6 615.2,389.7 615.5,389.9 615.8,389.7 616.1,389.8 616.4,389.6 616.7,389.6 617,389.8 617.3,389.2 617.6,389.9 617.9,389.5 618.2,389.4 618.5,389.9 618.8,389.6 619.1,389.7 619.4,389.5 619.7,389.6 620,389.1 620.3,389.6 620.6,389.7 620.9,389.4 621.2,389.9 621.5,389.9 621.8,389.6 622.1,389.8 622.4,389.6 622.7,389.5 623,389.8 623.3,389.8 623.6,389.5 623.9,389.9 624.2,389.5 624.5,389.8 624.8,389.5 625.1,389.3 625.4,389.5 625.7,389.6 626,389.2 626.3,389.2 626.6,389.6 626.9,389.8 627.2,389.8 627.5,389.8 627.8,389.2 628.1,389.7 628.4,389.8 628.7,389.5 629,389.8 629.3,389.8 629.6,389.6 629.9,389.7 630.2,389.4 630.5,389.8 630.8,389.6 631.1,389.8 631.4,389.8 631.7,389.4 632,389.7 632.3,389.7 632.6,389.3 632.8,389.9 509,389.9Z" fill="#4a8886" stroke="#4a8886" stroke-width="0.4"/>
<line x1="509.0" y1="389.9" x2="632.8" y2="389.9" stroke="#3e7074" stroke-width="1.4"/>
<line x1="502.0" y1="395.9" x2="505.4" y2="385.4" stroke="#333" stroke-width="0.75"/>
<line x1="507.0" y1="395.9" x2="510.4" y2="385.4" stroke="#333" stroke-width="0.75"/>
<path d="M317.4,424.5 L317.7,424.8 318,424.9 318.3,424.9 318.6,424.8 318.9,424.9 319.2,424.9 319.5,424.9 319.8,424.5 320.1,424.5 320.4,423.8 320.7,423.7 321,423.2 321.3,423.3 321.6,424 321.9,424 322.2,424.5 322.5,424.9 322.8,424.8 323.1,424.8 323.4,424.6 323.7,424.8 324,424.9 324.3,424.9 324.6,424.9 324.9,424.9 325.2,425 325.5,424.8 325.8,425 326.1,424.9 326.4,424.7 326.7,423.9 327,421.9 327.3,418.9 327.6,415.7 327.9,414.7 328.2,417.5 328.5,421.2 328.8,423.6 329.1,424.6 329.4,424.6 329.7,425 330,424.7 330.3,424.5 330.6,424.9 330.9,424.7 331.2,424.9 331.5,424.8 331.8,424.9 332.1,424.7 332.4,424.5 332.7,424.8 333,424.7 333.3,424.9 333.6,424.9 333.9,424.8 334.2,425 334.5,424.9 334.8,424.8 335.1,424.9 335.4,424.9 335.7,424.8 336,424.9 336.3,424.9 336.6,424.9 336.9,424.9 337.2,424.9 337.5,424.9 337.8,424.8 338.1,424.3 338.4,424.1 338.7,424.1 339,423.9 339.3,424 339.6,424.1 339.9,424.5 340.2,424.8 340.5,424.9 340.8,424.9 341.1,425 341.4,424.7 341.7,424.6 342,424.8 342.3,424.8 342.6,424.9 342.9,424.8 343.2,424.3 343.5,423.3 343.8,422.4 344.1,421 344.4,419.9 344.7,420.1 345,421.2 345.3,422.7 345.6,423.4 345.9,422.3 346.2,418.9 346.5,413.3 346.8,409.2 347.1,409.7 347.4,413.9 347.7,417.9 348,419.1 348.3,418.8 348.6,418.8 348.9,420 349.2,421.7 349.5,422.9 349.8,423.6 350.1,423.4 350.4,423.4 350.7,423.1 351,422.8 351.3,422.9 351.6,423.3 351.9,423.8 352.2,424.2 352.5,424.6 352.8,424.6 353.1,424.6 353.4,424.9 353.7,425 354,424.8 354.3,424.8 354.6,424.7 354.9,424.6 355.2,424.9 355.5,425 355.8,425 356.1,424.5 356.4,424.9 356.7,424.9 357,425 357.3,424.9 357.6,424.8 357.9,424.8 358.2,425 358.5,424.9 358.8,424.7 359.1,424.8 359.4,424.7 359.7,424.9 360,424.8 360.3,424.7 360.6,424.8 360.9,424.5 361.2,424.3 361.5,424.3 361.8,423.9 362.1,423 362.4,421.7 362.7,420.8 363,420.3 363.3,420.6 363.6,421.7 363.9,422.9 364.2,423.7 364.5,424.3 364.8,424.6 365.1,424.8 365.4,424.7 365.7,424.4 366,424.3 366.3,423.6 366.6,422.8 366.9,421.8 367.2,421.8 367.5,422 367.8,422.8 368.1,423.6 368.4,424 368.7,424.4 369,424.9 369.3,424.7 369.6,424.8 369.9,424.9 370.2,425 370.5,425 370.8,424.9 371.1,424.8 371.4,424.7 371.7,424.6 372,424.9 372.3,424.9 372.6,424.6 372.9,424.6 373.2,424.9 373.5,424.7 373.8,424.6 374.1,425 374.4,424.6 374.7,424.7 375,424.9 375.3,424.6 375.6,424.9 375.9,425 376.2,424.7 376.5,424.8 376.8,424.8 377.1,424.7 377.4,424.8 377.7,424.9 378,424.7 378.3,424.7 378.6,424.9 378.9,424.9 379.2,424.9 379.5,424.5 379.8,424.9 380.1,424.7 380.4,424.9 380.7,425 381,424.8 381.3,424.7 381.6,424.6 381.9,424.7 382.2,424.5 382.5,424.2 382.8,423.9 383.1,423.4 383.4,422.9 383.7,422.9 384,423 384.3,423.1 384.6,423.6 384.9,423.8 385.2,424.2 385.5,424.6 385.8,424.7 386.1,424.9 386.4,424.8 386.7,424.7 387,424.7 387.3,424.8 387.6,424.9 387.9,424.9 388.2,424.5 388.5,424.9 388.8,424.9 389.1,424.9 389.4,425 389.7,424.8 390,424.5 390.3,425 390.6,425 390.9,425 391.2,424.8 391.5,424.8 391.8,424.8 392.1,425 392.4,424.9 392.7,425 393,424.9 393.3,424.7 393.6,424.8 393.9,424.6 394.2,424.9 394.5,424.9 394.8,424.9 395.1,425 395.4,424.8 395.7,424.8 396,424.8 396.3,424.9 396.6,424.7 396.9,424.9 397.2,424.9 397.5,424.6 397.8,425 398.1,424.6 398.4,424.9 398.7,424.9 399,424.9 399.3,424.9 399.6,425 399.9,424.8 400.2,424.9 400.5,424.7 400.8,424.9 401.1,424.8 401.4,425 401.7,424.6 402,424.8 402.3,424.7 402.6,424.9 402.9,424.7 403.2,424.9 403.5,424.8 403.8,425 404.1,424.8 404.4,425 404.7,424.9 405,424.8 405.3,424.9 405.6,424.9 405.9,424.8 406.2,424.8 406.5,424.5 406.8,425 407.1,424.6 407.4,424.9 407.7,424.8 408,424.8 408.3,424.9 408.6,425 408.9,424.9 409.2,424.8 409.5,424.9 409.8,425 410.1,424.7 410.4,424.8 410.7,425 411,425 411.3,424.4 411.6,424.9 411.9,425 412.2,424.9 412.5,424.4 412.8,425 413.1,424.9 413.4,425 413.7,424.7 414,425 414.3,424.6 414.6,424.6 414.9,424.6 415.2,424.9 415.5,424.9 415.8,424.9 416.1,424.9 416.4,424.9 416.7,424.9 417,424.7 417.3,424.4 417.6,424.7 417.9,424.8 418.2,424.8 418.5,425 418.8,424.9 419.1,424.9 419.4,424.6 419.7,424.9 420,424.8 420.3,424.8 420.6,424.5 420.9,424.5 421.2,424.9 421.5,424.9 421.8,424.9 422.1,424.9 422.4,424.9 422.7,424.9 423,425 423.3,424.9 423.6,424.9 423.9,424.8 424.2,424.9 424.5,424.7 424.8,425 425.1,424.9 425.4,425 425.7,424.8 426,424.9 426.3,424.7 426.6,425 426.9,425 427.2,425 427.5,424.6 427.8,424.5 428.1,424.7 428.4,424.6 428.7,425 429,424.7 429.3,425 429.6,424.7 429.9,424.6 430.2,424.9 430.5,425 430.8,424.8 431.1,424.9 431.4,424.8 431.7,424.9 432,425 432.3,425 432.6,424.9 432.9,424.5 433.2,424.9 433.5,424.6 433.8,424.7 434.1,424.9 434.4,424.8 434.7,424.8 435,424.9 435.3,424.8 435.6,424.9 435.9,424.7 436.2,424.7 436.5,424.9 436.8,424.8 437.1,425 437.4,424.9 437.7,424.9 438,424.9 438.3,424.8 438.6,424.9 438.9,424.9 439.2,424.9 439.5,424.9 439.8,424.9 440.1,424.7 440.4,424.7 440.7,424.9 441,425 441.3,425 441.6,424.7 441.9,424.9 442.2,424.9 442.5,424.8 442.8,425 443.1,424.8 443.4,424.9 443.7,424.9 444,424.9 444.3,424.8 444.6,424.8 444.9,424.3 445.2,425 445.5,424.6 445.8,424.9 446.1,424.8 446.4,424.8 446.7,424.9 447,424.8 447.3,424.7 447.6,424.9 447.9,424.7 448.2,424.9 448.5,424.9 448.8,424.9 449.1,424.9 449.4,424.8 449.7,425 450,424.8 450.3,425 450.6,425 450.9,424.8 451.2,424.9 451.5,424.7 451.8,424.6 452.1,424.6 452.4,424.9 452.7,424.9 453,424.8 453.3,424.9 453.6,424.7 453.9,424.9 454.2,424.9 454.5,424.9 454.8,425 455.1,424.6 455.4,424.8 455.7,424.9 456,424.9 456.3,424.9 456.6,424.8 456.9,424.8 457.2,424.9 457.5,424.8 457.8,424.9 458.1,425 458.4,425 458.7,424.9 459,424.9 459.3,425 459.6,424.9 459.9,424.8 460.2,424.8 460.5,424.9 460.8,424.6 461.1,424.8 461.4,424.9 461.7,425 462,424.6 462.3,424.9 462.6,425 462.9,425 463.2,424.8 463.5,425 463.8,424.8 464.1,424.5 464.4,424.9 464.7,424.9 465,424.9 465.3,425 465.6,424.7 465.9,424.7 466.2,424.9 466.5,425 466.8,424.8 467.1,424.9 467.4,424.9 467.7,424.9 468,425 468.3,425 468.6,425 468.9,424.6 469.2,424.4 469.5,424.9 469.8,424.5 470.1,424.9 470.4,424.6 470.7,424.8 471,425 471.3,424.5 471.6,424.9 471.9,424.9 472.2,424.8 472.5,424.7 472.8,424.8 473.1,424.8 473.4,424.8 473.7,425 474,424.9 474.3,424.8 474.6,424.8 474.9,424.8 475.2,424.9 475.5,425 475.8,424.9 476.1,424.9 476.4,425 476.7,425 477,424.7 477.3,424.8 477.6,425 477.9,424.7 478.2,424.9 478.5,424.8 478.8,424.9 479.1,424.7 479.4,424.8 479.7,424.8 480,424.8 480.3,425 480.6,424.8 480.9,424.9 481.2,424.9 481.5,424.8 481.8,425 482.1,425 482.4,425 482.7,425 483,424.9 483.3,424.7 483.6,425 483.9,425 484.2,425 484.5,424.9 484.8,424.5 485.1,424.8 485.4,424.9 485.7,424.7 486,424.9 486.3,424.9 486.6,424.8 486.9,424.8 487.2,425 487.5,424.8 487.8,424.9 488.1,424.6 488.4,424.9 488.7,424.9 489,424.9 489.3,424.8 489.6,425 489.9,424.7 490.2,424.9 490.5,424.8 490.8,425 491.1,424.9 491.4,425 491.7,424.8 492,424.9 492.3,424.6 492.6,424.8 492.9,424.9 493.2,425 493.5,425 493.8,424.9 494.1,424.8 494.4,424.9 494.7,424.9 495,424.9 495.3,424.9 495.6,425 495.9,425 496.2,425 496.5,425 496.8,424.9 497.1,424.9 497.4,424.9 497.7,424.8 498,424.9 498.3,424.9 498.6,424.9 498.9,424.8 499.2,425 499.5,424.8 499.8,424.9 500.1,424.9 500.4,424.7 500.7,424.8 501,424.6 501.3,424.8 501.6,424.6 501.9,424.9 502.2,424.9 502.5,424.9 502.8,424.9 503,425 317.4,425Z" fill="#4f8f88" stroke="#4f8f88" stroke-width="0.4"/>
<line x1="317.4" y1="425.0" x2="503.0" y2="425.0" stroke="#5f8584" stroke-width="1.2"/>
<path d="M509,425 L509.3,424.9 509.6,424.8 509.9,424.8 510.2,424.9 510.5,424.9 510.8,425 511.1,424.8 511.4,424.9 511.7,424.8 512,425 512.3,425 512.6,424.9 512.9,424.8 513.2,424.9 513.5,425 513.8,425 514.1,424.8 514.4,424.9 514.7,424.7 515,424.7 515.3,424.5 515.6,424.6 515.9,424.7 516.2,424.6 516.5,424.6 516.8,424.8 517.1,424.9 517.4,424.7 517.7,424.9 518,424.9 518.3,424.9 518.6,425 518.9,424.9 519.2,424.8 519.5,424.8 519.8,424.8 520.1,424.3 520.4,424.9 520.7,425 521,424.8 521.3,424.9 521.6,424.7 521.9,424.8 522.2,424.6 522.5,425 522.8,424.8 523.1,425 523.4,424.9 523.7,424.8 524,424.9 524.3,424.8 524.6,424.7 524.9,424.9 525.2,425 525.5,424.9 525.8,425 526.1,424.9 526.4,424.8 526.7,424.6 527,424.8 527.3,424.8 527.6,424.7 527.9,424.7 528.2,424.9 528.5,424.7 528.8,424.9 529.1,424.9 529.4,425 529.7,425 530,424.9 530.3,424.9 530.6,424.9 530.9,424.9 531.2,424.9 531.5,424.6 531.8,424.9 532.1,424.9 532.4,424.7 532.7,424.6 533,424.8 533.3,424.8 533.6,425 533.9,424.8 534.2,425 534.5,424.9 534.8,424.9 535.1,424.9 535.4,424.9 535.7,424.7 536,425 536.3,424.5 536.6,424.9 536.9,424.8 537.2,424.7 537.5,425 537.8,424.8 538.1,424.8 538.4,425 538.7,425 539,424.8 539.3,425 539.6,424.7 539.9,424.9 540.2,424.7 540.5,424.7 540.8,424.8 541.1,424.9 541.4,424.9 541.7,424.6 542,424.6 542.3,424.9 542.6,425 542.9,425 543.2,424.5 543.5,425 543.8,424.5 544.1,424.9 544.4,424.7 544.7,424.9 545,424.9 545.3,424.9 545.6,424.9 545.9,424.8 546.2,424.9 546.5,424.7 546.8,424.7 547.1,425 547.4,424.8 547.7,424.9 548,424.8 548.3,424.8 548.6,424.9 548.9,424.7 549.2,424.7 549.5,424.9 549.8,424.9 550.1,425 550.4,424.8 550.7,424.7 551,424.9 551.3,424.9 551.6,425 551.9,425 552.2,424.8 552.5,424.8 552.8,424.8 553.1,424.6 553.4,425 553.7,425 554,424.8 554.3,424.6 554.6,424.8 554.9,424.8 555.2,424.9 555.5,425 555.8,424.9 556.1,424.8 556.4,425 556.7,424.7 557,424.9 557.3,424.8 557.6,424.7 557.9,424.7 558.2,424.9 558.5,424.9 558.8,424.7 559.1,424.7 559.4,424.5 559.7,424.9 560,424.9 560.3,424.3 560.6,424.9 560.9,424.8 561.2,424.9 561.5,424.9 561.8,424.7 562.1,424.7 562.4,424.9 562.7,425 563,425 563.3,424.7 563.6,424.9 563.9,425 564.2,425 564.5,424.8 564.8,425 565.1,424.8 565.4,424.8 565.7,424.8 566,424.8 566.3,424.7 566.6,424.9 566.9,425 567.2,425 567.5,425 567.8,424.8 568.1,424.7 568.4,424.5 568.7,424.9 569,424.9 569.3,424.9 569.6,424.9 569.9,424.8 570.2,425 570.5,424.5 570.8,424.9 571.1,424.8 571.4,425 571.7,424.8 572,424.7 572.3,424.9 572.6,425 572.9,424.9 573.2,424.9 573.5,424.7 573.8,424.6 574.1,425 574.4,424.8 574.7,424.9 575,424.7 575.3,425 575.6,424.9 575.9,424.8 576.2,425 576.5,425 576.8,424.8 577.1,424.7 577.4,424.7 577.7,424.8 578,424.8 578.3,425 578.6,425 578.9,424.7 579.2,425 579.5,424.9 579.8,424.7 580.1,424.9 580.4,425 580.7,425 581,424.7 581.3,424.9 581.6,424.9 581.9,425 582.2,424.8 582.5,424.8 582.8,424.9 583.1,424.8 583.4,425 583.7,424.8 584,424.7 584.3,425 584.6,424.7 584.9,424.9 585.2,424.9 585.5,424.7 585.8,424.7 586.1,424.9 586.4,424.8 586.7,424.9 587,425 587.3,424.9 587.6,424.9 587.9,424.9 588.2,425 588.5,424.4 588.8,424.7 589.1,425 589.4,425 589.7,424.9 590,424.8 590.3,424.9 590.6,424.9 590.9,424.8 591.2,424.8 591.5,424.9 591.8,425 592.1,424.9 592.4,424.7 592.7,425 593,424.9 593.3,424.9 593.6,424.9 593.9,424.9 594.2,424.8 594.5,424.7 594.8,424.5 595.1,424.9 595.4,424.7 595.7,424.9 596,425 596.3,424.9 596.6,424.9 596.9,424.9 597.2,425 597.5,425 597.8,424.8 598.1,424.8 598.4,425 598.7,425 599,424.7 599.3,424.8 599.6,424.8 599.9,424.7 600.2,424.6 600.5,424.9 600.8,424.9 601.1,424.8 601.4,424.9 601.7,424.8 602,424.7 602.3,424.9 602.6,424.8 602.9,425 603.2,425 603.5,424.7 603.8,424.8 604.1,424.9 604.4,424.8 604.7,424.8 605,425 605.3,424.9 605.6,424.9 605.9,424.9 606.2,424.7 606.5,424.8 606.8,424.7 607.1,425 607.4,424.9 607.7,425 608,424.7 608.3,424.8 608.6,425 608.9,424.9 609.2,424.7 609.5,424.6 609.8,424.8 610.1,424.7 610.4,424.9 610.7,424.8 611,424.8 611.3,424.9 611.6,425 611.9,424.7 612.2,424.9 612.5,425 612.8,424.8 613.1,424.8 613.4,424.9 613.7,424.9 614,424.7 614.3,424.8 614.6,424.7 614.9,424.8 615.2,425 615.5,424.9 615.8,424.6 616.1,424.7 616.4,424.9 616.7,424.8 617,424.7 617.3,424.8 617.6,424.8 617.9,424.7 618.2,424.9 618.5,424.9 618.8,424.9 619.1,424.9 619.4,424.8 619.7,424.8 620,424.7 620.3,424.8 620.6,424.8 620.9,424.9 621.2,424.9 621.5,424.8 621.8,424.9 622.1,424.9 622.4,424.6 622.7,424.5 623,424.9 623.3,424.7 623.6,425 623.9,424.7 624.2,424.9 624.5,424.7 624.8,424.9 625.1,424.8 625.4,425 625.7,424.8 626,425 626.3,424.8 626.6,424.8 626.9,425 627.2,424.7 627.5,425 627.8,424.9 628.1,424.8 628.4,424.9 628.7,424.9 629,424.8 629.3,424.9 629.6,424.8 629.9,424.9 630.2,424.7 630.5,424.9 630.8,425 631.1,424.7 631.4,424.8 631.7,424.9 632,424.7 632.3,424.8 632.6,424.7 632.8,425 509,425Z" fill="#4f8f88" stroke="#4f8f88" stroke-width="0.4"/>
<line x1="509.0" y1="425.0" x2="632.8" y2="425.0" stroke="#5f8584" stroke-width="1.2"/>
<line x1="502.0" y1="431.0" x2="505.4" y2="420.5" stroke="#333" stroke-width="0.75"/>
<line x1="507.0" y1="431.0" x2="510.4" y2="420.5" stroke="#333" stroke-width="0.75"/>
<path d="M317.4,459 L317.7,459 318,458.8 318.3,459 318.6,458.9 318.9,459 319.2,459 319.5,458.9 319.8,458.5 320.1,457.9 320.4,457.5 320.7,457.1 321,456.8 321.3,457.3 321.6,457.6 321.9,458.1 322.2,458.6 322.5,458.7 322.8,459 323.1,458.9 323.4,459 323.7,458.6 324,458.7 324.3,459.1 324.6,458.9 324.9,459.1 325.2,458.9 325.5,459.1 325.8,458.6 326.1,458.9 326.4,458.6 326.7,458.3 327,457.5 327.3,456.9 327.6,456.2 327.9,456.1 328.2,456.6 328.5,457.5 328.8,458 329.1,458.6 329.4,459 329.7,459 330,458.9 330.3,459 330.6,458.8 330.9,459 331.2,458.8 331.5,459.1 331.8,458.8 332.1,458.8 332.4,459 332.7,458.9 333,459.1 333.3,459 333.6,458.9 333.9,459 334.2,459 334.5,459 334.8,458.8 335.1,459 335.4,458.6 335.7,458.4 336,458.1 336.3,457.7 336.6,457.1 336.9,457 337.2,457.1 337.5,457 337.8,457.7 338.1,458.1 338.4,458.6 338.7,458.7 339,458.9 339.3,458.8 339.6,458.8 339.9,458.8 340.2,458.7 340.5,459 340.8,459.1 341.1,459 341.4,459 341.7,459.1 342,458.9 342.3,459 342.6,458.8 342.9,458.4 343.2,458.4 343.5,457.9 343.8,456.7 344.1,455.7 344.4,455 344.7,455.3 345,456.2 345.3,457.2 345.6,457.8 345.9,456.9 346.2,454.2 346.5,450.2 346.8,447.3 347.1,447.6 347.4,451.4 347.7,455.1 348,456.9 348.3,457 348.6,456.3 348.9,455.8 349.2,456 349.5,456.7 349.8,457.4 350.1,458 350.4,458.6 350.7,458.9 351,459 351.3,459 351.6,458.7 351.9,458.8 352.2,458.8 352.5,458.7 352.8,458.7 353.1,459.1 353.4,459.1 353.7,458.7 354,458.6 354.3,459 354.6,458.8 354.9,459 355.2,459 355.5,458.9 355.8,459.1 356.1,458.8 356.4,458.8 356.7,458.9 357,459 357.3,459.1 357.6,459.1 357.9,458.9 358.2,459.1 358.5,458.8 358.8,458.9 359.1,458.8 359.4,459.1 359.7,459.1 360,458.9 360.3,459 360.6,459 360.9,459 361.2,458.5 361.5,458.8 361.8,458.3 362.1,457.8 362.4,456.8 362.7,456.3 363,455.8 363.3,456.2 363.6,456.9 363.9,457.7 364.2,458.2 364.5,458.5 364.8,458.8 365.1,459 365.4,458.8 365.7,458.5 366,458.5 366.3,458.2 366.6,457.8 366.9,457.6 367.2,457.4 367.5,457.5 367.8,457.7 368.1,458.5 368.4,458.6 368.7,458.9 369,459 369.3,458.9 369.6,458.7 369.9,459 370.2,459.1 370.5,459.1 370.8,458.8 371.1,459.1 371.4,459 371.7,459.1 372,459 372.3,459 372.6,459.1 372.9,458.9 373.2,458.9 373.5,458.8 373.8,459 374.1,458.9 374.4,458.9 374.7,458.9 375,459 375.3,459 375.6,458.6 375.9,459.1 376.2,458.9 376.5,458.8 376.8,459 377.1,459 377.4,458.9 377.7,458.8 378,459.1 378.3,459 378.6,458.8 378.9,459 379.2,459 379.5,459 379.8,459 380.1,459.1 380.4,459 380.7,459 381,459 381.3,458.9 381.6,458.5 381.9,458.9 382.2,458.9 382.5,458.9 382.8,459 383.1,458.9 383.4,458.9 383.7,459 384,458.7 384.3,458.6 384.6,458.8 384.9,458.8 385.2,458.9 385.5,458.9 385.8,458.7 386.1,459 386.4,458.9 386.7,458.9 387,458.9 387.3,459 387.6,459.1 387.9,458.7 388.2,459 388.5,458.9 388.8,459 389.1,459 389.4,459.1 389.7,458.8 390,459.1 390.3,459 390.6,459 390.9,459.1 391.2,458.9 391.5,459 391.8,459 392.1,458.8 392.4,458.8 392.7,458.9 393,459 393.3,458.8 393.6,458.6 393.9,458.9 394.2,458.8 394.5,458.9 394.8,459 395.1,458.9 395.4,458.9 395.7,458.9 396,459.1 396.3,459.1 396.6,458.8 396.9,458.7 397.2,458.9 397.5,458.8 397.8,459.1 398.1,459 398.4,459 398.7,459 399,459 399.3,458.9 399.6,458.9 399.9,459.1 400.2,459 400.5,458.9 400.8,458.8 401.1,458.9 401.4,458.8 401.7,458.9 402,459.1 402.3,458.7 402.6,458.8 402.9,459.1 403.2,459 403.5,458.8 403.8,459 404.1,458.9 404.4,458.9 404.7,458.9 405,459 405.3,459 405.6,459.1 405.9,459.1 406.2,459 406.5,458.9 406.8,458.6 407.1,458.6 407.4,458.7 407.7,458.9 408,459 408.3,459 408.6,458.9 408.9,459.1 409.2,458.7 409.5,458.9 409.8,458.9 410.1,459 410.4,458.9 410.7,459.1 411,459.1 411.3,458.9 411.6,458.8 411.9,459 412.2,458.9 412.5,458.6 412.8,459 413.1,459 413.4,458.8 413.7,458.9 414,458.9 414.3,458.8 414.6,458.9 414.9,458.9 415.2,459.1 415.5,458.9 415.8,459 416.1,459.1 416.4,458.8 416.7,458.9 417,459.1 417.3,459 417.6,459 417.9,458.9 418.2,458.9 418.5,459 418.8,458.8 419.1,459 419.4,458.9 419.7,459 420,459 420.3,458.8 420.6,459 420.9,459 421.2,458.7 421.5,458.9 421.8,458.9 422.1,458.8 422.4,459.1 422.7,459.1 423,458.6 423.3,458.9 423.6,458.9 423.9,459 424.2,459 424.5,459.1 424.8,458.8 425.1,459 425.4,458.8 425.7,459 426,458.8 426.3,458.6 426.6,459 426.9,458.8 427.2,459 427.5,458.9 427.8,458.9 428.1,459 428.4,459.1 428.7,459 429,458.9 429.3,458.5 429.6,459 429.9,458.7 430.2,459.1 430.5,459 430.8,458.9 431.1,459 431.4,459 431.7,458.7 432,458.7 432.3,458.7 432.6,459.1 432.9,458.9 433.2,459.1 433.5,459 433.8,459.1 434.1,458.9 434.4,458.9 434.7,458.9 435,459 435.3,459 435.6,459 435.9,459.1 436.2,459 436.5,459.1 436.8,458.9 437.1,458.7 437.4,458.7 437.7,459.1 438,458.9 438.3,459.1 438.6,459 438.9,459 439.2,459.1 439.5,459 439.8,458.8 440.1,458.9 440.4,459 440.7,458.9 441,458.6 441.3,459.1 441.6,458.5 441.9,459 442.2,458.8 442.5,458.7 442.8,459 443.1,459.1 443.4,458.4 443.7,459 444,459 444.3,458.8 444.6,458.9 444.9,458.9 445.2,459 445.5,458.9 445.8,458.8 446.1,459.1 446.4,458.9 446.7,458.8 447,458.9 447.3,458.9 447.6,459.1 447.9,459 448.2,459.1 448.5,458.9 448.8,458.7 449.1,459 449.4,459 449.7,458.9 450,459.1 450.3,458.8 450.6,459 450.9,458.9 451.2,458.8 451.5,459 451.8,459 452.1,458.9 452.4,459.1 452.7,459.1 453,458.9 453.3,459 453.6,458.9 453.9,458.7 454.2,458.9 454.5,459.1 454.8,459.1 455.1,458.7 455.4,458.9 455.7,459.1 456,459 456.3,458.9 456.6,459 456.9,458.9 457.2,459 457.5,459 457.8,458.8 458.1,459 458.4,458.7 458.7,459.1 459,458.9 459.3,458.8 459.6,459 459.9,459 460.2,458.9 460.5,458.8 460.8,458.8 461.1,459 461.4,458.7 461.7,459.1 462,458.8 462.3,458.9 462.6,459 462.9,458.9 463.2,459.1 463.5,458.8 463.8,459 464.1,459.1 464.4,458.7 464.7,458.7 465,459 465.3,459.1 465.6,458.7 465.9,458.9 466.2,459 466.5,458.8 466.8,458.8 467.1,458.8 467.4,459 467.7,459 468,459 468.3,459 468.6,459 468.9,459 469.2,458.9 469.5,458.7 469.8,458.9 470.1,459 470.4,459 470.7,458.9 471,459 471.3,458.8 471.6,458.9 471.9,458.8 472.2,459.1 472.5,459 472.8,459 473.1,458.8 473.4,459 473.7,459 474,458.9 474.3,458.8 474.6,459.1 474.9,459.1 475.2,458.7 475.5,458.7 475.8,458.8 476.1,458.6 476.4,458.9 476.7,459 477,458.7 477.3,459.1 477.6,459 477.9,459 478.2,458.9 478.5,459 478.8,458.9 479.1,458.8 479.4,459 479.7,459 480,458.8 480.3,459.1 480.6,458.9 480.9,459.1 481.2,458.9 481.5,458.9 481.8,459.1 482.1,458.9 482.4,459 482.7,459 483,458.9 483.3,459 483.6,458.7 483.9,459 484.2,458.8 484.5,458.9 484.8,459.1 485.1,458.9 485.4,459 485.7,459 486,458.7 486.3,458.9 486.6,458.8 486.9,459.1 487.2,459 487.5,458.9 487.8,459 488.1,458.5 488.4,459.1 488.7,459 489,459 489.3,458.6 489.6,459 489.9,458.8 490.2,459.1 490.5,458.7 490.8,458.6 491.1,458.8 491.4,458.8 491.7,459 492,459.1 492.3,458.9 492.6,459 492.9,458.9 493.2,458.8 493.5,459 493.8,458.8 494.1,459 494.4,458.9 494.7,458.9 495,458.8 495.3,458.8 495.6,459 495.9,459 496.2,458.6 496.5,458.8 496.8,459.1 497.1,459 497.4,458.9 497.7,459.1 498,458.7 498.3,459.1 498.6,458.9 498.9,458.9 499.2,459 499.5,458.7 499.8,459.1 500.1,458.7 500.4,459.1 500.7,458.8 501,458.8 501.3,459.1 501.6,459.1 501.9,458.9 502.2,458.7 502.5,459.1 502.8,459 503,459.1 317.4,459.1Z" fill="#5e9e94" stroke="#5e9e94" stroke-width="0.4"/>
<line x1="317.4" y1="459.1" x2="503.0" y2="459.1" stroke="#7a9896" stroke-width="1.2"/>
<path d="M509,458.8 L509.3,459 509.6,459 509.9,458.9 510.2,458.9 510.5,459 510.8,458.9 511.1,459 511.4,458.9 511.7,459.1 512,459 512.3,458.7 512.6,458.8 512.9,458.9 513.2,459 513.5,458.9 513.8,459 514.1,459 514.4,458.9 514.7,459 515,459.1 515.3,459 515.6,459 515.9,459 516.2,458.9 516.5,459 516.8,459 517.1,458.9 517.4,459 517.7,459 518,459 518.3,458.8 518.6,459 518.9,459.1 519.2,458.6 519.5,458.8 519.8,458.9 520.1,459 520.4,458.8 520.7,458.8 521,459 521.3,458.6 521.6,458.9 521.9,458.7 522.2,459.1 522.5,459 522.8,458.9 523.1,459 523.4,459.1 523.7,458.9 524,459 524.3,458.7 524.6,459.1 524.9,459 525.2,459.1 525.5,458.9 525.8,459.1 526.1,458.9 526.4,458.8 526.7,459 527,459.1 527.3,458.9 527.6,458.8 527.9,458.8 528.2,458.9 528.5,459 528.8,459.1 529.1,458.9 529.4,458.8 529.7,458.9 530,458.8 530.3,459 530.6,459 530.9,459.1 531.2,458.9 531.5,458.9 531.8,458.9 532.1,458.9 532.4,458.7 532.7,459.1 533,458.9 533.3,458.8 533.6,459 533.9,459 534.2,458.8 534.5,458.9 534.8,459 535.1,458.6 535.4,459 535.7,459 536,459 536.3,458.9 536.6,459 536.9,459.1 537.2,458.8 537.5,459 537.8,459.1 538.1,459 538.4,459 538.7,458.5 539,459 539.3,458.9 539.6,458.8 539.9,458.9 540.2,459 540.5,459 540.8,458.9 541.1,459 541.4,458.9 541.7,458.9 542,459.1 542.3,459 542.6,459.1 542.9,458.7 543.2,458.6 543.5,458.9 543.8,459.1 544.1,459.1 544.4,458.8 544.7,459 545,459.1 545.3,459.1 545.6,459 545.9,459 546.2,458.9 546.5,459 546.8,458.6 547.1,458.9 547.4,459.1 547.7,458.8 548,458.7 548.3,459 548.6,458.9 548.9,459 549.2,459 549.5,458.7 549.8,459 550.1,458.9 550.4,458.9 550.7,459 551,459 551.3,459.1 551.6,458.9 551.9,458.9 552.2,459 552.5,459.1 552.8,458.7 553.1,458.8 553.4,459 553.7,458.7 554,459 554.3,459 554.6,458.9 554.9,459 555.2,459 555.5,458.8 555.8,459 556.1,459 556.4,458.9 556.7,458.7 557,458.7 557.3,458.9 557.6,459.1 557.9,458.9 558.2,459.1 558.5,458.8 558.8,459 559.1,459 559.4,458.8 559.7,459.1 560,458.9 560.3,459.1 560.6,458.8 560.9,459.1 561.2,459.1 561.5,459.1 561.8,458.7 562.1,458.9 562.4,459.1 562.7,458.9 563,458.9 563.3,459 563.6,459.1 563.9,459.1 564.2,458.8 564.5,459 564.8,458.9 565.1,459 565.4,459 565.7,459.1 566,458.8 566.3,459.1 566.6,459 566.9,459 567.2,458.7 567.5,458.9 567.8,459 568.1,459 568.4,458.8 568.7,458.9 569,459 569.3,459.1 569.6,458.9 569.9,458.9 570.2,458.9 570.5,459 570.8,458.9 571.1,458.9 571.4,459 571.7,459 572,459.1 572.3,459.1 572.6,459.1 572.9,458.6 573.2,459 573.5,458.9 573.8,459 574.1,459.1 574.4,459.1 574.7,458.9 575,459.1 575.3,459 575.6,459.1 575.9,459 576.2,458.8 576.5,459 576.8,459.1 577.1,459.1 577.4,459 577.7,458.8 578,459 578.3,458.8 578.6,459 578.9,459 579.2,458.8 579.5,458.9 579.8,459 580.1,459 580.4,458.9 580.7,458.9 581,458.8 581.3,459.1 581.6,458.8 581.9,459 582.2,459 582.5,458.8 582.8,459.1 583.1,459.1 583.4,459 583.7,458.9 584,459 584.3,458.8 584.6,458.9 584.9,458.9 585.2,459.1 585.5,458.8 585.8,459 586.1,459.1 586.4,458.7 586.7,459 587,458.9 587.3,459 587.6,458.5 587.9,459 588.2,459 588.5,458.6 588.8,458.8 589.1,459 589.4,458.9 589.7,459 590,458.8 590.3,458.8 590.6,458.9 590.9,458.9 591.2,459 591.5,459 591.8,458.9 592.1,459 592.4,458.8 592.7,458.9 593,459 593.3,459.1 593.6,459.1 593.9,458.9 594.2,459 594.5,458.8 594.8,459 595.1,459 595.4,459.1 595.7,459 596,459.1 596.3,458.9 596.6,459 596.9,458.9 597.2,459 597.5,458.9 597.8,459 598.1,459 598.4,458.7 598.7,459.1 599,459 599.3,459 599.6,458.9 599.9,459 600.2,459.1 600.5,458.9 600.8,459 601.1,458.9 601.4,458.7 601.7,458.9 602,459.1 602.3,458.9 602.6,459 602.9,459 603.2,459 603.5,458.9 603.8,458.7 604.1,458.9 604.4,458.9 604.7,458.8 605,459.1 605.3,459 605.6,459.1 605.9,459.1 606.2,458.5 606.5,459 606.8,458.9 607.1,459 607.4,459 607.7,459.1 608,459 608.3,458.7 608.6,458.6 608.9,458.9 609.2,459.1 609.5,458.9 609.8,459.1 610.1,459.1 610.4,458.7 610.7,459 611,458.9 611.3,458.8 611.6,458.9 611.9,458.9 612.2,459 612.5,458.7 612.8,458.9 613.1,459 613.4,458.9 613.7,458.8 614,459 614.3,459.1 614.6,458.6 614.9,459 615.2,459.1 615.5,459 615.8,458.9 616.1,458.9 616.4,458.9 616.7,458.8 617,459 617.3,458.7 617.6,458.9 617.9,458.8 618.2,458.9 618.5,458.9 618.8,458.9 619.1,458.9 619.4,458.9 619.7,458.7 620,458.9 620.3,459 620.6,458.8 620.9,458.9 621.2,459.1 621.5,459.1 621.8,458.7 622.1,458.9 622.4,458.8 622.7,459 623,458.9 623.3,459 623.6,458.9 623.9,458.9 624.2,458.9 624.5,458.9 624.8,459 625.1,459.1 625.4,458.9 625.7,458.5 626,458.8 626.3,458.6 626.6,458.6 626.9,459 627.2,458.7 627.5,458.9 627.8,459 628.1,458.6 628.4,459 628.7,459.1 629,458.9 629.3,459 629.6,458.9 629.9,458.9 630.2,459.1 630.5,458.9 630.8,458.8 631.1,458.9 631.4,459 631.7,459.1 632,458.8 632.3,459.1 632.6,458.6 632.8,459.1 509,459.1Z" fill="#5e9e94" stroke="#5e9e94" stroke-width="0.4"/>
<line x1="509.0" y1="459.1" x2="632.8" y2="459.1" stroke="#7a9896" stroke-width="1.2"/>
<line x1="502.0" y1="465.1" x2="505.4" y2="454.6" stroke="#333" stroke-width="0.75"/>
<line x1="507.0" y1="465.1" x2="510.4" y2="454.6" stroke="#333" stroke-width="0.75"/>
<path d="M317.4,494.1 L317.7,494.3 318,494.1 318.3,494.1 318.6,494.2 318.9,494.3 319.2,494.2 319.5,493.9 319.8,494.3 320.1,494.1 320.4,494 320.7,494.1 321,494.2 321.3,494.2 321.6,494.1 321.9,494.2 322.2,494.1 322.5,494.2 322.8,494 323.1,494 323.4,494.3 323.7,493.9 324,494.2 324.3,494.3 324.6,494.2 324.9,494.3 325.2,494.3 325.5,494.1 325.8,494.1 326.1,494.2 326.4,493.9 326.7,493.6 327,493.2 327.3,492.9 327.6,492.2 327.9,492.3 328.2,492.6 328.5,493.2 328.8,493.7 329.1,494 329.4,494.2 329.7,494 330,494 330.3,494.1 330.6,494 330.9,494 331.2,493.9 331.5,494.2 331.8,494.1 332.1,494 332.4,494.2 332.7,494.2 333,494.3 333.3,494.1 333.6,494.2 333.9,494 334.2,494.1 334.5,494 334.8,494.2 335.1,494.3 335.4,494.2 335.7,494.1 336,494.2 336.3,494.1 336.6,494.3 336.9,494 337.2,494.3 337.5,494 337.8,494.1 338.1,494.2 338.4,494 338.7,494.2 339,494.2 339.3,494.3 339.6,494.1 339.9,494.2 340.2,494.3 340.5,494.1 340.8,494.2 341.1,494.1 341.4,494.2 341.7,494.2 342,494.2 342.3,494.3 342.6,493.9 342.9,494.1 343.2,493.7 343.5,493.3 343.8,492.2 344.1,491 344.4,490 344.7,490.1 345,491.4 345.3,492.3 345.6,493 345.9,492.1 346.2,488.9 346.5,483.8 346.8,480.4 347.1,481.3 347.4,485.5 347.7,489.8 348,491.8 348.3,492.1 348.6,491.5 348.9,491.3 349.2,491.2 349.5,491.8 349.8,492.6 350.1,493.4 350.4,493.6 350.7,493.8 351,493.8 351.3,493.8 351.6,494.3 351.9,494.2 352.2,494.2 352.5,494.1 352.8,494.2 353.1,493.9 353.4,494.2 353.7,494.3 354,494.2 354.3,494.3 354.6,494 354.9,494.3 355.2,494.2 355.5,494.1 355.8,494.2 356.1,494.2 356.4,494.3 356.7,494.2 357,494.1 357.3,494.1 357.6,494 357.9,494.1 358.2,494.3 358.5,494.2 358.8,494.3 359.1,494.3 359.4,494.2 359.7,493.9 360,494.3 360.3,494.1 360.6,494.2 360.9,493.9 361.2,493.8 361.5,493.6 361.8,493 362.1,492.3 362.4,491.1 362.7,490 363,489.7 363.3,490 363.6,491 363.9,492 364.2,493.1 364.5,493.7 364.8,494.1 365.1,494 365.4,494.1 365.7,493.9 366,493.5 366.3,493.4 366.6,492.9 366.9,492.7 367.2,492.6 367.5,492.8 367.8,493.3 368.1,493.6 368.4,494 368.7,494.2 369,494.3 369.3,494.2 369.6,494 369.9,494.2 370.2,494.2 370.5,494.2 370.8,494.1 371.1,494.2 371.4,494.1 371.7,494.1 372,494 372.3,494.2 372.6,494.1 372.9,494.1 373.2,494.1 373.5,494.3 373.8,494.3 374.1,493.8 374.4,494 374.7,494.3 375,494.2 375.3,494.2 375.6,494 375.9,494.1 376.2,494.1 376.5,493.9 376.8,494 377.1,494.3 377.4,494.3 377.7,494.2 378,494.2 378.3,494.2 378.6,493.9 378.9,494.1 379.2,494.2 379.5,494.1 379.8,494.3 380.1,493.9 380.4,494.1 380.7,494.2 381,494 381.3,494.1 381.6,494.2 381.9,494 382.2,494.3 382.5,494.3 382.8,494.2 383.1,494.2 383.4,494.2 383.7,494.2 384,494.2 384.3,494.1 384.6,494 384.9,494.3 385.2,494.3 385.5,494.1 385.8,494.2 386.1,494.2 386.4,494 386.7,494.1 387,494.1 387.3,494.1 387.6,494.2 387.9,494 388.2,494.2 388.5,494 388.8,494.2 389.1,494.1 389.4,494 389.7,494.1 390,494.3 390.3,494.1 390.6,494.2 390.9,494.3 391.2,494.1 391.5,494.2 391.8,494 392.1,494.3 392.4,494.3 392.7,494 393,494.1 393.3,494.2 393.6,494.2 393.9,494.2 394.2,493.7 394.5,494.1 394.8,494.1 395.1,494.2 395.4,494.3 395.7,493.9 396,494.2 396.3,494.1 396.6,494.2 396.9,494.2 397.2,494.1 397.5,493.7 397.8,494.2 398.1,494.2 398.4,493.9 398.7,494 399,494.2 399.3,494.1 399.6,494.1 399.9,494.2 400.2,494.3 400.5,494.2 400.8,494.3 401.1,493.9 401.4,494 401.7,494 402,493.9 402.3,494 402.6,494.1 402.9,494.1 403.2,494.3 403.5,494.2 403.8,494.2 404.1,494.2 404.4,494.1 404.7,494.1 405,494.2 405.3,494.1 405.6,494.2 405.9,494 406.2,494.2 406.5,493.8 406.8,494.2 407.1,494.1 407.4,494 407.7,494.3 408,494.1 408.3,494.2 408.6,494.2 408.9,494.3 409.2,494.1 409.5,494 409.8,494 410.1,494.3 410.4,494.2 410.7,494 411,494.1 411.3,494.2 411.6,494.3 411.9,494.3 412.2,494.2 412.5,494 412.8,493.9 413.1,494.2 413.4,494.2 413.7,494.2 414,494.1 414.3,494.2 414.6,494.3 414.9,494 415.2,494.2 415.5,494.2 415.8,494.2 416.1,494.1 416.4,494 416.7,494.2 417,494.2 417.3,494 417.6,494.1 417.9,493.8 418.2,494 418.5,494.2 418.8,494 419.1,493.8 419.4,494 419.7,494.2 420,493.7 420.3,494.3 420.6,494.3 420.9,494.3 421.2,494.1 421.5,494 421.8,494.2 422.1,494.3 422.4,494.2 422.7,494.1 423,494.1 423.3,494.2 423.6,494.2 423.9,494.1 424.2,494.1 424.5,494.2 424.8,494.1 425.1,494.3 425.4,494.1 425.7,494 426,494.2 426.3,494.2 426.6,494.1 426.9,494.1 427.2,494.3 427.5,494.2 427.8,493.7 428.1,493.9 428.4,494.2 428.7,494.2 429,494 429.3,494.2 429.6,494.3 429.9,494.2 430.2,494.3 430.5,494 430.8,494.3 431.1,494.2 431.4,494 431.7,494.1 432,494 432.3,494.3 432.6,494.2 432.9,494.2 433.2,494 433.5,494.2 433.8,494.1 434.1,494.2 434.4,494.2 434.7,494.1 435,494.1 435.3,494 435.6,494.3 435.9,494.2 436.2,494.2 436.5,494.3 436.8,494.2 437.1,494.3 437.4,494.1 437.7,494.1 438,494.3 438.3,493.8 438.6,494 438.9,494.1 439.2,494.3 439.5,494 439.8,494 440.1,494.2 440.4,494.2 440.7,494.1 441,494.2 441.3,494.3 441.6,494.3 441.9,494 442.2,494 442.5,494.2 442.8,494.3 443.1,493.6 443.4,494.3 443.7,494.1 444,494.3 444.3,494 444.6,494.2 444.9,494.1 445.2,494.2 445.5,494 445.8,494.2 446.1,494.3 446.4,494.2 446.7,494.2 447,494 447.3,494.1 447.6,494.1 447.9,494 448.2,494.2 448.5,494.1 448.8,494.3 449.1,494 449.4,494.1 449.7,494 450,494.3 450.3,494.3 450.6,494.2 450.9,493.7 451.2,494.2 451.5,494.1 451.8,493.9 452.1,494.2 452.4,494.2 452.7,494 453,494.1 453.3,494.2 453.6,494.2 453.9,494.2 454.2,494.3 454.5,494.2 454.8,494.2 455.1,494.3 455.4,493.9 455.7,494.2 456,494 456.3,494.3 456.6,494.1 456.9,494.3 457.2,494.3 457.5,493.8 457.8,494.1 458.1,494.2 458.4,494.3 458.7,494.1 459,494.1 459.3,494 459.6,494.3 459.9,494.3 460.2,494.2 460.5,494.2 460.8,494.2 461.1,494 461.4,494.3 461.7,494.1 462,494.3 462.3,494.1 462.6,494.1 462.9,494.2 463.2,494.1 463.5,494.2 463.8,494.1 464.1,494 464.4,493.7 464.7,494.2 465,494.2 465.3,494.1 465.6,494.1 465.9,494.2 466.2,494.1 466.5,494.2 466.8,494.1 467.1,494.1 467.4,494.3 467.7,494.2 468,494 468.3,494.1 468.6,494.3 468.9,494 469.2,494.1 469.5,494.1 469.8,494.3 470.1,494.2 470.4,494.2 470.7,494.2 471,494.3 471.3,494.2 471.6,494.3 471.9,494.2 472.2,494.2 472.5,494.2 472.8,494.2 473.1,494.1 473.4,494.3 473.7,494.2 474,494.3 474.3,494.2 474.6,494.2 474.9,494.3 475.2,494.2 475.5,493.9 475.8,494.2 476.1,494.2 476.4,494.3 476.7,494 477,494.2 477.3,494.1 477.6,494.2 477.9,494 478.2,494.2 478.5,494.2 478.8,493.9 479.1,494.1 479.4,494.1 479.7,494.2 480,494.2 480.3,494.3 480.6,494.1 480.9,494.2 481.2,494.2 481.5,494 481.8,494.2 482.1,494.2 482.4,494.3 482.7,494.2 483,494.1 483.3,494.2 483.6,494.3 483.9,493.9 484.2,494.2 484.5,493.9 484.8,494.1 485.1,494.2 485.4,494.1 485.7,493.9 486,494.3 486.3,494.2 486.6,494.2 486.9,494.3 487.2,494.2 487.5,494.1 487.8,494.1 488.1,494.2 488.4,494.2 488.7,494.3 489,494.2 489.3,494 489.6,494.3 489.9,494.1 490.2,494.1 490.5,494.3 490.8,494 491.1,494 491.4,494.3 491.7,494.3 492,494.1 492.3,494.2 492.6,494.3 492.9,493.9 493.2,494.1 493.5,494.1 493.8,494.1 494.1,494.3 494.4,494.1 494.7,494.2 495,494.1 495.3,494.1 495.6,494.1 495.9,494 496.2,494.2 496.5,494.1 496.8,494.1 497.1,494.1 497.4,494.2 497.7,494.2 498,494.1 498.3,493.9 498.6,494.1 498.9,493.9 499.2,494.3 499.5,494.2 499.8,494.1 500.1,494.3 500.4,494.2 500.7,494.2 501,494.2 501.3,494.2 501.6,494.1 501.9,494.3 502.2,493.9 502.5,494.1 502.8,494.3 503,494.3 317.4,494.3Z" fill="#62a898" stroke="#62a898" stroke-width="0.4"/>
<line x1="317.4" y1="494.3" x2="503.0" y2="494.3" stroke="#7a9896" stroke-width="1.2"/>
<path d="M509,494.1 L509.3,494.3 509.6,494.1 509.9,494.3 510.2,493.9 510.5,494.2 510.8,494.1 511.1,494 511.4,493.8 511.7,494.2 512,494.3 512.3,494.2 512.6,494.3 512.9,494.3 513.2,494 513.5,493.8 513.8,494.2 514.1,494.1 514.4,494.2 514.7,493.9 515,494.1 515.3,494.2 515.6,494.1 515.9,494 516.2,494.1 516.5,494.1 516.8,494.3 517.1,494.1 517.4,494.2 517.7,494 518,494 518.3,494.3 518.6,494 518.9,494.3 519.2,494.3 519.5,494.1 519.8,493.9 520.1,494.3 520.4,494.3 520.7,494.2 521,494.3 521.3,494.1 521.6,494.1 521.9,494 522.2,494.2 522.5,494 522.8,494.3 523.1,494.1 523.4,494.2 523.7,494 524,494.2 524.3,494.1 524.6,494.2 524.9,494.3 525.2,494.1 525.5,494.2 525.8,494.1 526.1,494.2 526.4,494.1 526.7,494.1 527,494.2 527.3,494.2 527.6,493.9 527.9,494.2 528.2,494.1 528.5,494.1 528.8,494.1 529.1,494.3 529.4,493.7 529.7,494.2 530,494.2 530.3,494.2 530.6,494.2 530.9,494.2 531.2,494 531.5,494.1 531.8,494.2 532.1,494.2 532.4,494.1 532.7,494 533,494.3 533.3,494.3 533.6,494.2 533.9,494.2 534.2,494 534.5,494.2 534.8,493.9 535.1,494.3 535.4,494.1 535.7,493.9 536,494.3 536.3,494 536.6,494.2 536.9,494.2 537.2,493.9 537.5,494.1 537.8,494.1 538.1,494.2 538.4,493.9 538.7,494.3 539,494.3 539.3,494.2 539.6,494.2 539.9,494.1 540.2,494.3 540.5,494.2 540.8,494.1 541.1,494.1 541.4,493.9 541.7,493.8 542,493.9 542.3,494.2 542.6,494.2 542.9,494.2 543.2,493.8 543.5,494.1 543.8,494.2 544.1,494.2 544.4,494.1 544.7,494.3 545,494.1 545.3,494.3 545.6,494.2 545.9,494.2 546.2,494.2 546.5,493.9 546.8,494.2 547.1,494 547.4,494.3 547.7,494.2 548,494.2 548.3,494.3 548.6,494.2 548.9,494.1 549.2,494.2 549.5,494.1 549.8,494 550.1,494.1 550.4,494.2 550.7,494.2 551,494.2 551.3,494.2 551.6,494 551.9,494.2 552.2,494.3 552.5,494 552.8,494.2 553.1,494.2 553.4,494.2 553.7,494.3 554,494.2 554.3,493.9 554.6,494.3 554.9,494.2 555.2,494.3 555.5,494 555.8,494.2 556.1,494 556.4,494 556.7,494.1 557,494.3 557.3,494.1 557.6,494.3 557.9,494.2 558.2,494.2 558.5,494.2 558.8,494.1 559.1,494.2 559.4,494 559.7,494.2 560,494.3 560.3,494.3 560.6,494.3 560.9,494.3 561.2,494.2 561.5,494 561.8,494.1 562.1,494.2 562.4,494.2 562.7,494.3 563,494.3 563.3,494.2 563.6,494 563.9,494.2 564.2,494.1 564.5,494.2 564.8,494.2 565.1,494 565.4,494.1 565.7,493.9 566,494.2 566.3,494.3 566.6,494.3 566.9,494.2 567.2,494 567.5,494.1 567.8,494.2 568.1,494 568.4,494.3 568.7,493.8 569,494.1 569.3,493.9 569.6,494.1 569.9,494.3 570.2,494.1 570.5,494 570.8,494.2 571.1,494.2 571.4,494.3 571.7,494.1 572,494.2 572.3,494 572.6,494.3 572.9,494.3 573.2,494.2 573.5,494.2 573.8,494.1 574.1,494.1 574.4,494 574.7,494.2 575,494.3 575.3,494.2 575.6,494.2 575.9,494.2 576.2,494.2 576.5,494.2 576.8,494.1 577.1,494.2 577.4,494 577.7,493.9 578,494.2 578.3,494 578.6,494.2 578.9,494.1 579.2,494.2 579.5,494.2 579.8,494.1 580.1,494 580.4,493.9 580.7,494.2 581,494.1 581.3,494.2 581.6,493.8 581.9,494.2 582.2,494.2 582.5,494.1 582.8,494.1 583.1,494.2 583.4,494 583.7,494.3 584,494.1 584.3,494.2 584.6,494.1 584.9,494.3 585.2,494 585.5,494.3 585.8,494.2 586.1,494.1 586.4,494.2 586.7,494 587,494 587.3,493.8 587.6,494.2 587.9,494.2 588.2,494.1 588.5,494.1 588.8,494 589.1,494.1 589.4,494.2 589.7,494.1 590,494.2 590.3,494.3 590.6,494.3 590.9,494.1 591.2,494 591.5,494.2 591.8,494.1 592.1,494.1 592.4,494 592.7,494.1 593,494.1 593.3,493.8 593.6,494.2 593.9,494.2 594.2,494.2 594.5,494.2 594.8,494.3 595.1,494.2 595.4,494 595.7,494.1 596,494.2 596.3,494.1 596.6,494.3 596.9,494 597.2,494.2 597.5,494.2 597.8,494.2 598.1,494.2 598.4,494.2 598.7,494.2 599,494.2 599.3,494.2 599.6,494.3 599.9,494.2 600.2,494.2 600.5,494.2 600.8,493.9 601.1,494.2 601.4,494 601.7,494.1 602,494.2 602.3,494 602.6,494.2 602.9,494.1 603.2,494.3 603.5,494.2 603.8,493.9 604.1,494 604.4,494.1 604.7,494.1 605,494.1 605.3,494 605.6,494.3 605.9,494.3 606.2,494.1 606.5,494 606.8,494 607.1,494.1 607.4,494.2 607.7,494.1 608,494.1 608.3,494.2 608.6,494.2 608.9,494.3 609.2,494.1 609.5,494.2 609.8,494.3 610.1,494.2 610.4,494.2 610.7,494.1 611,494.2 611.3,494.3 611.6,494.1 611.9,494.3 612.2,493.9 612.5,494 612.8,494.1 613.1,494.2 613.4,494 613.7,494.2 614,494 614.3,493.7 614.6,493.8 614.9,494.2 615.2,494.1 615.5,494 615.8,494.3 616.1,494.1 616.4,494.2 616.7,494 617,494.1 617.3,494 617.6,494.3 617.9,494.2 618.2,494.3 618.5,494.1 618.8,494.1 619.1,494.1 619.4,493.6 619.7,494.2 620,494.3 620.3,493.8 620.6,494 620.9,494.3 621.2,494.3 621.5,493.9 621.8,493.7 622.1,494.1 622.4,494.1 622.7,494.1 623,494.3 623.3,494.1 623.6,494 623.9,494.1 624.2,494.2 624.5,494.1 624.8,494.2 625.1,494.3 625.4,494.1 625.7,494.3 626,494.2 626.3,494.1 626.6,494.2 626.9,494.2 627.2,494.2 627.5,494 627.8,494.2 628.1,494.2 628.4,494.1 628.7,494.3 629,494.2 629.3,494.1 629.6,494.2 629.9,494.1 630.2,493.7 630.5,494.1 630.8,494.3 631.1,494.3 631.4,494.1 631.7,493.8 632,493.9 632.3,494.3 632.6,494.2 632.8,494.3 509,494.3Z" fill="#62a898" stroke="#62a898" stroke-width="0.4"/>
<line x1="509.0" y1="494.3" x2="632.8" y2="494.3" stroke="#7a9896" stroke-width="1.2"/>
<line x1="502.0" y1="500.3" x2="505.4" y2="489.8" stroke="#333" stroke-width="0.75"/>
<line x1="507.0" y1="500.3" x2="510.4" y2="489.8" stroke="#333" stroke-width="0.75"/>
<path d="M317.4,532.2 L317.7,531.7 318,532 318.3,532.1 318.6,532 318.9,532 319.2,532.1 319.5,532.2 319.8,532.2 320.1,532 320.4,532.2 320.7,532.1 321,532 321.3,532.2 321.6,532.1 321.9,531.8 322.2,532.1 322.5,532.2 322.8,532.2 323.1,532.1 323.4,531.8 323.7,531.9 324,532.1 324.3,532 324.6,532.1 324.9,532.1 325.2,531.9 325.5,532.2 325.8,532 326.1,532 326.4,531.8 326.7,530.7 327,528.1 327.3,523.6 327.6,519.2 327.9,518.3 328.2,522 328.5,526.9 328.8,530.3 329.1,531.7 329.4,532 329.7,532.1 330,532.2 330.3,532.1 330.6,532.2 330.9,531.9 331.2,532.2 331.5,532.2 331.8,532.1 332.1,532.2 332.4,531.9 332.7,531.8 333,532.1 333.3,531.9 333.6,532 333.9,532.1 334.2,532.2 334.5,532.1 334.8,532.1 335.1,532.1 335.4,532.1 335.7,532 336,531.9 336.3,532.1 336.6,532.2 336.9,532.2 337.2,532 337.5,532.2 337.8,532.1 338.1,532.1 338.4,531.9 338.7,532.2 339,532.1 339.3,532.1 339.6,532 339.9,532.2 340.2,532.1 340.5,531.9 340.8,532.2 341.1,531.8 341.4,531.8 341.7,532.1 342,532 342.3,532 342.6,532 342.9,532 343.2,531.4 343.5,530.7 343.8,529.6 344.1,528.1 344.4,527 344.7,527.3 345,528.3 345.3,530 345.6,530.6 345.9,529.3 346.2,525.1 346.5,518.5 346.8,513.7 347.1,514.6 347.4,520 347.7,524.8 348,526.9 348.3,527.1 348.6,526.8 348.9,528.1 349.2,529.4 349.5,530.7 349.8,531.6 350.1,531.8 350.4,531.9 350.7,531.7 351,531.2 351.3,530.9 351.6,530.5 351.9,530 352.2,530.2 352.5,530.6 352.8,531.1 353.1,531.5 353.4,531.8 353.7,532 354,531.9 354.3,532.1 354.6,532.2 354.9,531.9 355.2,532 355.5,532.2 355.8,532.1 356.1,532.2 356.4,532 356.7,532.2 357,532.1 357.3,531.7 357.6,532.1 357.9,531.9 358.2,531.8 358.5,532 358.8,532.2 359.1,532 359.4,532.1 359.7,532 360,531.9 360.3,531.9 360.6,531.8 360.9,532 361.2,531.9 361.5,531.5 361.8,531.1 362.1,530.1 362.4,528.9 362.7,527.8 363,527.4 363.3,527.8 363.6,528.9 363.9,530.1 364.2,530.9 364.5,531.6 364.8,532 365.1,532.1 365.4,531.7 365.7,531.3 366,531 366.3,530 366.6,529 366.9,527.8 367.2,527.5 367.5,528 367.8,529 368.1,529.9 368.4,531 368.7,531.6 369,531.9 369.3,531.9 369.6,532.1 369.9,531.9 370.2,532.1 370.5,531.8 370.8,531.7 371.1,531.5 371.4,530.9 371.7,530.2 372,530.5 372.3,530.8 372.6,531 372.9,531.4 373.2,531.5 373.5,532 373.8,532.1 374.1,532.1 374.4,531.9 374.7,532 375,532 375.3,531.9 375.6,531.8 375.9,532 376.2,532 376.5,532 376.8,532 377.1,532.1 377.4,532.1 377.7,531.5 378,531.8 378.3,531.9 378.6,532.1 378.9,532.2 379.2,532.1 379.5,532 379.8,531.9 380.1,532 380.4,532 380.7,532 381,532 381.3,531.9 381.6,531.8 381.9,531.6 382.2,531.2 382.5,530 382.8,529.6 383.1,528.6 383.4,527.9 383.7,527.5 384,527.6 384.3,527.8 384.6,529 384.9,529.9 385.2,530.5 385.5,531.3 385.8,531.7 386.1,531.8 386.4,532 386.7,532.1 387,532.1 387.3,532.2 387.6,532.1 387.9,532.1 388.2,532.1 388.5,531.8 388.8,532.2 389.1,532.1 389.4,532 389.7,531.9 390,532.2 390.3,532.1 390.6,532.1 390.9,532.1 391.2,531.8 391.5,532.1 391.8,532.1 392.1,532 392.4,532 392.7,532.1 393,532.2 393.3,532.1 393.6,531.9 393.9,532.1 394.2,532.1 394.5,532 394.8,532.2 395.1,532.2 395.4,531.9 395.7,532.1 396,532.2 396.3,532.1 396.6,532.2 396.9,531.8 397.2,532.2 397.5,532.2 397.8,532.2 398.1,532 398.4,532.1 398.7,531.8 399,531.9 399.3,531.6 399.6,532.1 399.9,532.1 400.2,532 400.5,532.2 400.8,532.1 401.1,532.2 401.4,532.1 401.7,532.2 402,531.9 402.3,531.9 402.6,532.2 402.9,532.2 403.2,532.1 403.5,531.9 403.8,532.2 404.1,532 404.4,531.9 404.7,531.9 405,531.7 405.3,531.9 405.6,532 405.9,531.9 406.2,531.9 406.5,531.9 406.8,532.1 407.1,532.1 407.4,532.1 407.7,532 408,532.2 408.3,532.1 408.6,532.2 408.9,532.2 409.2,532 409.5,531.8 409.8,531.8 410.1,532 410.4,532 410.7,532 411,532.1 411.3,531.9 411.6,532 411.9,531.9 412.2,531.9 412.5,532 412.8,532.1 413.1,532 413.4,531.9 413.7,532.1 414,532.2 414.3,531.8 414.6,532.2 414.9,532.1 415.2,532 415.5,532.1 415.8,532.2 416.1,531.8 416.4,532.1 416.7,531.8 417,532.2 417.3,532.1 417.6,532.1 417.9,532.1 418.2,531.9 418.5,532.1 418.8,531.9 419.1,532.1 419.4,531.9 419.7,532.1 420,531.9 420.3,531.9 420.6,532.2 420.9,531.8 421.2,532.1 421.5,532.2 421.8,531.9 422.1,532.1 422.4,531.9 422.7,531.8 423,532.1 423.3,532.2 423.6,532 423.9,532.1 424.2,532 424.5,531.9 424.8,531.9 425.1,532 425.4,532.1 425.7,532 426,532.1 426.3,532.1 426.6,532.1 426.9,531.9 427.2,531.9 427.5,532.1 427.8,531.8 428.1,532.2 428.4,532.2 428.7,532 429,532.2 429.3,531.9 429.6,531.9 429.9,531.8 430.2,532.2 430.5,531.7 430.8,531.9 431.1,532 431.4,532.2 431.7,531.9 432,532.2 432.3,532.2 432.6,532.1 432.9,532 433.2,531.8 433.5,532.1 433.8,532.2 434.1,531.7 434.4,532.2 434.7,532.1 435,532.1 435.3,532.2 435.6,532.1 435.9,532 436.2,532.2 436.5,532.1 436.8,532 437.1,532.1 437.4,532 437.7,532 438,532 438.3,532 438.6,532.1 438.9,531.9 439.2,532.1 439.5,532.2 439.8,532 440.1,531.8 440.4,532.1 440.7,531.9 441,531.9 441.3,532.1 441.6,531.9 441.9,532.1 442.2,532.2 442.5,532.1 442.8,531.9 443.1,532.1 443.4,532.2 443.7,531.7 444,531.9 444.3,532.2 444.6,532 444.9,531.9 445.2,532 445.5,531.9 445.8,532 446.1,531.8 446.4,532.1 446.7,532.1 447,532.1 447.3,532.1 447.6,532 447.9,532.2 448.2,531.8 448.5,532 448.8,532 449.1,532 449.4,531.8 449.7,531.8 450,532 450.3,532.1 450.6,531.9 450.9,531.9 451.2,532.1 451.5,532.2 451.8,532.1 452.1,531.8 452.4,532.1 452.7,532.2 453,532.2 453.3,532.1 453.6,531.6 453.9,532 454.2,532.2 454.5,531.9 454.8,532.2 455.1,531.9 455.4,531.9 455.7,532.1 456,531.9 456.3,532.2 456.6,531.9 456.9,531.9 457.2,532.2 457.5,532.2 457.8,532.1 458.1,532.1 458.4,532 458.7,532 459,532 459.3,532.2 459.6,532.2 459.9,532.1 460.2,532.1 460.5,531.7 460.8,531.9 461.1,531.9 461.4,532.1 461.7,532.2 462,531.9 462.3,531.8 462.6,532.1 462.9,532 463.2,532.1 463.5,532.1 463.8,532 464.1,531.8 464.4,531.8 464.7,532 465,532.2 465.3,532.1 465.6,532 465.9,532 466.2,531.8 466.5,531.9 466.8,532 467.1,532.1 467.4,531.9 467.7,532 468,532.2 468.3,531.9 468.6,532 468.9,532.1 469.2,532.1 469.5,532.1 469.8,532.1 470.1,532.2 470.4,532.2 470.7,531.5 471,532.2 471.3,532.1 471.6,532.2 471.9,531.9 472.2,532 472.5,531.9 472.8,532.1 473.1,532 473.4,531.7 473.7,532.1 474,532.2 474.3,532 474.6,531.9 474.9,532.1 475.2,532 475.5,531.9 475.8,531.8 476.1,531.7 476.4,531.9 476.7,532.2 477,532.2 477.3,532 477.6,532.1 477.9,531.7 478.2,532 478.5,532.2 478.8,532.1 479.1,532.1 479.4,532 479.7,532.1 480,532.2 480.3,531.8 480.6,532.1 480.9,532.1 481.2,531.9 481.5,532 481.8,532 482.1,531.8 482.4,532 482.7,531.9 483,532.2 483.3,532.2 483.6,532.1 483.9,532 484.2,532 484.5,532 484.8,531.8 485.1,532.2 485.4,532.1 485.7,532.1 486,532.1 486.3,532 486.6,532 486.9,532 487.2,532.1 487.5,532.2 487.8,532.1 488.1,531.9 488.4,531.7 488.7,532 489,532.1 489.3,532.2 489.6,532.1 489.9,531.7 490.2,532.1 490.5,531.7 490.8,532 491.1,532.2 491.4,532.1 491.7,532.1 492,532.1 492.3,531.9 492.6,531.9 492.9,531.7 493.2,532.2 493.5,532 493.8,531.6 494.1,532 494.4,532.1 494.7,532 495,532.1 495.3,532 495.6,532 495.9,532.1 496.2,532.2 496.5,532 496.8,532.2 497.1,532 497.4,531.9 497.7,532.1 498,531.8 498.3,531.8 498.6,532.1 498.9,532 499.2,531.9 499.5,531.9 499.8,532 500.1,532 500.4,532.2 500.7,531.5 501,532 501.3,531.9 501.6,532.1 501.9,531.9 502.2,532 502.5,532.2 502.8,532 503,532.2 317.4,532.2Z" fill="#6cbfa8" stroke="#6cbfa8" stroke-width="0.4"/>
<line x1="317.4" y1="532.2" x2="503.0" y2="532.2" stroke="#4a7a70" stroke-width="1.2"/>
<path d="M509,532.1 L509.3,532.1 509.6,531.9 509.9,532.1 510.2,532.1 510.5,531.9 510.8,532 511.1,532 511.4,532.1 511.7,532.2 512,532 512.3,532.1 512.6,532.2 512.9,532.2 513.2,532 513.5,532.1 513.8,531.9 514.1,532.2 514.4,532.1 514.7,532.1 515,532.2 515.3,532.1 515.6,532.1 515.9,531.9 516.2,532.1 516.5,532.1 516.8,532.2 517.1,532.2 517.4,532 517.7,532.2 518,532.2 518.3,532.1 518.6,532 518.9,532.1 519.2,532.1 519.5,532 519.8,531.6 520.1,532.2 520.4,532.1 520.7,531.8 521,532.1 521.3,532.2 521.6,531.9 521.9,532 522.2,532.2 522.5,532 522.8,531.9 523.1,531.9 523.4,532.2 523.7,532.2 524,532.2 524.3,531.9 524.6,532 524.9,532.1 525.2,531.9 525.5,532.1 525.8,532 526.1,532 526.4,532.2 526.7,532 527,532.2 527.3,531.9 527.6,532.2 527.9,532.1 528.2,531.8 528.5,532.1 528.8,531.9 529.1,532.1 529.4,532.1 529.7,532.1 530,532 530.3,532.1 530.6,532.2 530.9,532 531.2,532.1 531.5,531.9 531.8,531.9 532.1,531.8 532.4,532.1 532.7,532 533,532.2 533.3,532.1 533.6,532.2 533.9,531.8 534.2,531.9 534.5,532.1 534.8,532.1 535.1,532.2 535.4,532 535.7,532.2 536,532.1 536.3,532.2 536.6,531.8 536.9,532.2 537.2,531.9 537.5,532 537.8,531.8 538.1,532.1 538.4,531.8 538.7,532.2 539,531.9 539.3,532 539.6,532 539.9,532.1 540.2,532 540.5,532.1 540.8,531.9 541.1,532.1 541.4,532.2 541.7,532 542,531.9 542.3,532.1 542.6,531.9 542.9,532.1 543.2,532.2 543.5,531.8 543.8,532 544.1,532.2 544.4,532.2 544.7,531.8 545,532.1 545.3,532.1 545.6,532.1 545.9,532.1 546.2,531.9 546.5,532.1 546.8,532.1 547.1,532.2 547.4,532.2 547.7,531.9 548,532.1 548.3,532.2 548.6,532.1 548.9,532 549.2,532.1 549.5,532.1 549.8,532.2 550.1,531.7 550.4,532.2 550.7,532.2 551,532.1 551.3,531.9 551.6,532 551.9,532.1 552.2,531.9 552.5,532.1 552.8,531.8 553.1,531.8 553.4,532.1 553.7,532.1 554,531.7 554.3,532 554.6,532.1 554.9,532 555.2,532 555.5,531.6 555.8,532.1 556.1,532 556.4,532 556.7,531.7 557,532.2 557.3,532.2 557.6,532 557.9,532 558.2,532.2 558.5,532.1 558.8,531.9 559.1,531.7 559.4,532 559.7,532.1 560,532.1 560.3,532.1 560.6,532.2 560.9,532.1 561.2,532.2 561.5,532.2 561.8,532.1 562.1,532.1 562.4,531.8 562.7,532.1 563,532.1 563.3,532.1 563.6,531.9 563.9,532.2 564.2,532.1 564.5,532.2 564.8,532 565.1,532.1 565.4,532.2 565.7,532 566,532.2 566.3,532 566.6,532 566.9,531.9 567.2,532 567.5,531.8 567.8,532 568.1,532 568.4,532.2 568.7,532 569,531.9 569.3,532.1 569.6,532 569.9,532.1 570.2,532.1 570.5,531.9 570.8,532 571.1,532.1 571.4,532 571.7,532.2 572,531.6 572.3,531.9 572.6,532.1 572.9,531.9 573.2,532.1 573.5,532.2 573.8,532.1 574.1,532.1 574.4,532.2 574.7,532 575,531.9 575.3,532.2 575.6,532.2 575.9,531.8 576.2,531.9 576.5,532.1 576.8,531.7 577.1,531.9 577.4,532 577.7,531.9 578,532.1 578.3,532 578.6,532.1 578.9,531.9 579.2,532.1 579.5,532.1 579.8,532 580.1,532.1 580.4,531.8 580.7,532.1 581,532 581.3,532.2 581.6,532 581.9,532.2 582.2,531.9 582.5,532.2 582.8,532 583.1,532.2 583.4,532.1 583.7,531.7 584,532.1 584.3,531.9 584.6,531.8 584.9,532 585.2,531.9 585.5,531.9 585.8,532 586.1,531.9 586.4,532 586.7,532 587,532.1 587.3,531.9 587.6,532.1 587.9,531.8 588.2,532 588.5,531.9 588.8,532.1 589.1,532 589.4,531.9 589.7,532.1 590,531.9 590.3,532.1 590.6,532 590.9,531.8 591.2,531.9 591.5,532.1 591.8,532 592.1,531.7 592.4,532 592.7,532.2 593,531.8 593.3,532.1 593.6,532.1 593.9,531.8 594.2,532 594.5,531.8 594.8,532.2 595.1,531.9 595.4,532.1 595.7,532.2 596,532 596.3,531.9 596.6,531.9 596.9,531.9 597.2,531.8 597.5,532 597.8,531.9 598.1,532 598.4,531.6 598.7,531.6 599,532.1 599.3,532.1 599.6,532.2 599.9,532.2 600.2,532.1 600.5,532.1 600.8,532.1 601.1,532.1 601.4,532.1 601.7,531.9 602,532.1 602.3,531.9 602.6,532.1 602.9,532.2 603.2,532.1 603.5,532.1 603.8,531.9 604.1,531.7 604.4,532 604.7,532.2 605,532.2 605.3,531.9 605.6,532.1 605.9,532.2 606.2,532.1 606.5,531.8 606.8,532 607.1,531.8 607.4,532.1 607.7,531.8 608,532.1 608.3,532.2 608.6,531.9 608.9,532.2 609.2,531.9 609.5,532.1 609.8,532.2 610.1,531.9 610.4,532.1 610.7,532.2 611,532.1 611.3,531.8 611.6,532 611.9,532.1 612.2,532.1 612.5,532.1 612.8,532.2 613.1,532.1 613.4,531.9 613.7,532 614,532 614.3,532.1 614.6,532.2 614.9,532.2 615.2,531.7 615.5,532 615.8,532.1 616.1,531.7 616.4,532.1 616.7,531.9 617,531.7 617.3,532.1 617.6,532.2 617.9,531.9 618.2,531.8 618.5,532 618.8,532.2 619.1,531.9 619.4,532.1 619.7,532.2 620,532 620.3,531.8 620.6,532 620.9,532.1 621.2,532 621.5,532.2 621.8,531.9 622.1,532.1 622.4,531.7 622.7,532.1 623,532 623.3,531.9 623.6,532 623.9,531.9 624.2,531.9 624.5,532.1 624.8,531.9 625.1,531.9 625.4,532.1 625.7,532.2 626,531.9 626.3,532.2 626.6,532 626.9,531.8 627.2,532.2 627.5,532.2 627.8,532.2 628.1,532.1 628.4,532.2 628.7,531.9 629,531.8 629.3,532 629.6,532.2 629.9,532 630.2,532.1 630.5,532.2 630.8,532 631.1,532.2 631.4,532.1 631.7,532.1 632,532.1 632.3,532.1 632.6,532.1 632.8,532.2 509,532.2Z" fill="#6cbfa8" stroke="#6cbfa8" stroke-width="0.4"/>
<line x1="509.0" y1="532.2" x2="632.8" y2="532.2" stroke="#4a7a70" stroke-width="1.2"/>
<line x1="502.0" y1="538.2" x2="505.4" y2="527.7" stroke="#333" stroke-width="0.75"/>
<line x1="507.0" y1="538.2" x2="510.4" y2="527.7" stroke="#333" stroke-width="0.75"/>
<path d="M317.4,571.3 L317.7,569.9 318,568 318.3,566.5 318.6,566.3 318.9,567.4 319.2,569.4 319.5,570.5 319.8,569.9 320.1,565.8 320.4,556.1 320.7,544.8 321,539.5 321.3,544.4 321.6,556.4 321.9,565.9 322.2,570.6 322.5,572 322.8,572.2 323.1,572.2 323.4,571.7 323.7,570.5 324,568.5 324.3,566.9 324.6,566.6 324.9,567.8 325.2,569.9 325.5,571.4 325.8,572.2 326.1,572.3 326.4,572.5 326.7,572.4 327,572.4 327.3,572.3 327.6,572.2 327.9,572.3 328.2,572.4 328.5,572.3 328.8,572 329.1,571.4 329.4,570.6 329.7,569.7 330,569.5 330.3,569.6 330.6,570.5 330.9,571.5 331.2,571.9 331.5,572 331.8,571.5 332.1,569.9 332.4,566.2 332.7,561.9 333,559.7 333.3,561.9 333.6,566.3 333.9,569.9 334.2,571.8 334.5,572.2 334.8,572.5 335.1,572.1 335.4,572.4 335.7,571.9 336,570.2 336.3,566.5 336.6,560.7 336.9,557.1 337.2,558 337.5,562.6 337.8,568 338.1,571 338.4,571.9 338.7,572.4 339,572.4 339.3,572.4 339.6,572.3 339.9,572.4 340.2,572.2 340.5,572.4 340.8,572.5 341.1,572.1 341.4,572.1 341.7,571.8 342,571.1 342.3,570.6 342.6,569.8 342.9,569.3 343.2,569.4 343.5,569.9 343.8,570.7 344.1,571.4 344.4,572 344.7,572.2 345,572.1 345.3,572.5 345.6,572.3 345.9,572.1 346.2,572.4 346.5,572.3 346.8,572.2 347.1,572.4 347.4,572.5 347.7,572.5 348,572.3 348.3,572.1 348.6,572 348.9,571.4 349.2,570.4 349.5,569.3 349.8,567.9 350.1,566.8 350.4,566.1 350.7,566.8 351,567.9 351.3,569.2 351.6,570.4 351.9,571.4 352.2,571.9 352.5,572.1 352.8,572.2 353.1,572.1 353.4,572.2 353.7,572.2 354,572.2 354.3,571.9 354.6,571.7 354.9,570.8 355.2,571 355.5,570.6 355.8,570.3 356.1,570.5 356.4,570.4 356.7,570.4 357,571.3 357.3,571.2 357.6,571.8 357.9,572 358.2,572.1 358.5,572.3 358.8,572.1 359.1,572.1 359.4,572.2 359.7,572.3 360,572.3 360.3,572.5 360.6,572.4 360.9,572.4 361.2,572.4 361.5,572.4 361.8,572.3 362.1,572.3 362.4,572.5 362.7,572.4 363,572.2 363.3,572.5 363.6,572.4 363.9,572.3 364.2,572 364.5,571.6 364.8,571.3 365.1,570.6 365.4,569.4 365.7,568.4 366,567.1 366.3,566.5 366.6,566.4 366.9,566.9 367.2,568 367.5,569.1 367.8,570.1 368.1,571.3 368.4,571.6 368.7,572.1 369,572.4 369.3,572.4 369.6,572.4 369.9,572.3 370.2,572.3 370.5,572.3 370.8,572.3 371.1,572.2 371.4,572.1 371.7,572.4 372,572.4 372.3,572.3 372.6,572.4 372.9,572.2 373.2,571.8 373.5,571.2 373.8,570.4 374.1,569.4 374.4,568.5 374.7,568.5 375,569.1 375.3,569.9 375.6,571 375.9,571.7 376.2,571.9 376.5,572.3 376.8,572.4 377.1,572.2 377.4,572.3 377.7,572.4 378,572.4 378.3,572.2 378.6,572.5 378.9,572.5 379.2,572.2 379.5,572.3 379.8,572 380.1,571.6 380.4,571.1 380.7,570.3 381,569.3 381.3,568.5 381.6,568.1 381.9,568.9 382.2,570 382.5,570.9 382.8,571.7 383.1,572.1 383.4,572.4 383.7,572.2 384,572.3 384.3,572.2 384.6,572.4 384.9,572.5 385.2,572.2 385.5,572.4 385.8,572.3 386.1,572.4 386.4,572.4 386.7,572.3 387,572.5 387.3,572.2 387.6,572.2 387.9,572.1 388.2,571.7 388.5,571.6 388.8,571.5 389.1,570.7 389.4,570.5 389.7,570.5 390,570.4 390.3,570.3 390.6,570.8 390.9,571 391.2,571.5 391.5,571.7 391.8,571.9 392.1,572 392.4,572.2 392.7,572.3 393,572.5 393.3,572.3 393.6,572.4 393.9,572.3 394.2,572.5 394.5,572.4 394.8,572.4 395.1,572.4 395.4,572.5 395.7,572.3 396,572.3 396.3,572.3 396.6,572.3 396.9,572.5 397.2,572.2 397.5,572.3 397.8,572.5 398.1,572.4 398.4,572.3 398.7,572.4 399,572.2 399.3,572.3 399.6,572.4 399.9,572.1 400.2,572 400.5,571.6 400.8,571.3 401.1,571.2 401.4,570.7 401.7,570.3 402,570.2 402.3,570.5 402.6,570.6 402.9,571.1 403.2,571.4 403.5,571.8 403.8,572 404.1,572.3 404.4,572.4 404.7,572.3 405,572.4 405.3,572.3 405.6,572.3 405.9,572.3 406.2,572.1 406.5,572 406.8,572.5 407.1,572.4 407.4,572.4 407.7,572.1 408,572.4 408.3,571.9 408.6,572.5 408.9,572.4 409.2,572.3 409.5,572.5 409.8,572.3 410.1,572.3 410.4,572.4 410.7,572.5 411,572.4 411.3,572.3 411.6,572 411.9,572.3 412.2,572.1 412.5,572.4 412.8,572.4 413.1,572.4 413.4,572.5 413.7,572.3 414,572.2 414.3,572.2 414.6,572.4 414.9,572.3 415.2,572.2 415.5,572.2 415.8,572.4 416.1,572.5 416.4,572.3 416.7,572.3 417,572.3 417.3,572.1 417.6,572.1 417.9,572.2 418.2,571.9 418.5,571.8 418.8,571.3 419.1,571.1 419.4,570.8 419.7,570.4 420,570.3 420.3,570.5 420.6,570.8 420.9,571.1 421.2,571.5 421.5,571.7 421.8,572.1 422.1,572.2 422.4,572.2 422.7,572.2 423,572.4 423.3,572.4 423.6,572 423.9,571.7 424.2,572.4 424.5,572.4 424.8,572.3 425.1,572.1 425.4,572 425.7,572.3 426,572.5 426.3,572.1 426.6,572.4 426.9,572.4 427.2,572.3 427.5,572.2 427.8,572.4 428.1,572.1 428.4,572.3 428.7,572.5 429,572.1 429.3,572.4 429.6,572.3 429.9,572.3 430.2,572.3 430.5,572.4 430.8,572.2 431.1,572 431.4,571.8 431.7,571.5 432,571.1 432.3,570.9 432.6,570.7 432.9,570.4 433.2,570.2 433.5,570.6 433.8,570.9 434.1,571.4 434.4,571.2 434.7,571.8 435,572.1 435.3,572.3 435.6,572.4 435.9,572.3 436.2,572.5 436.5,572.4 436.8,572.2 437.1,572.2 437.4,572.4 437.7,572.3 438,572.4 438.3,572.4 438.6,572.1 438.9,572.4 439.2,572.3 439.5,572.4 439.8,572.2 440.1,572.1 440.4,572.3 440.7,572.5 441,572.4 441.3,572.3 441.6,572.4 441.9,572 442.2,572.5 442.5,572.3 442.8,572.4 443.1,572.3 443.4,572.5 443.7,572.2 444,572.3 444.3,572.3 444.6,572.3 444.9,572.1 445.2,572.2 445.5,571.9 445.8,571.4 446.1,571.2 446.4,571.1 446.7,570.9 447,570.7 447.3,571 447.6,571.1 447.9,571.4 448.2,571.7 448.5,571.7 448.8,572 449.1,572.1 449.4,572.4 449.7,572.4 450,572.2 450.3,572.2 450.6,572.3 450.9,572.2 451.2,572.4 451.5,572.5 451.8,572.3 452.1,572.5 452.4,572.2 452.7,572.1 453,572.2 453.3,572.4 453.6,572.3 453.9,572.5 454.2,572.4 454.5,572.5 454.8,572.3 455.1,572.4 455.4,572 455.7,572.2 456,572.4 456.3,572.1 456.6,572.5 456.9,572.2 457.2,572.3 457.5,572.5 457.8,572.1 458.1,572.3 458.4,572.3 458.7,572.5 459,572.5 459.3,572.3 459.6,572.4 459.9,572.4 460.2,572.4 460.5,572.4 460.8,572.2 461.1,572.2 461.4,572.3 461.7,572.3 462,572.5 462.3,572.3 462.6,572.5 462.9,572.4 463.2,572.2 463.5,572.4 463.8,572.4 464.1,572.2 464.4,572.5 464.7,572.3 465,572.4 465.3,572.3 465.6,572.5 465.9,572.4 466.2,572.2 466.5,571.8 466.8,572.4 467.1,572.4 467.4,572.3 467.7,572.3 468,572.3 468.3,572.4 468.6,572.3 468.9,572.4 469.2,572.4 469.5,572.4 469.8,572.3 470.1,572.2 470.4,572.4 470.7,572.3 471,572.4 471.3,572.4 471.6,572.5 471.9,572.4 472.2,572.4 472.5,572.2 472.8,572.5 473.1,572.5 473.4,572.4 473.7,572.5 474,572.4 474.3,572.1 474.6,572.1 474.9,572.4 475.2,572.4 475.5,572.2 475.8,571.8 476.1,572.4 476.4,572.5 476.7,572.1 477,572.4 477.3,572.4 477.6,572.5 477.9,572.1 478.2,572.5 478.5,572.2 478.8,572.3 479.1,572.4 479.4,572.2 479.7,572.5 480,572 480.3,572.4 480.6,572.4 480.9,571.9 481.2,572.2 481.5,572.5 481.8,572.4 482.1,572.4 482.4,572.2 482.7,572.3 483,572.1 483.3,572.3 483.6,572.4 483.9,572.5 484.2,572.5 484.5,572.3 484.8,572.3 485.1,572.4 485.4,572.2 485.7,572.5 486,572.4 486.3,572.5 486.6,572.4 486.9,572.3 487.2,572.3 487.5,572.3 487.8,572.1 488.1,572.4 488.4,572.4 488.7,572.5 489,572.5 489.3,572.4 489.6,572.4 489.9,572.4 490.2,572.3 490.5,572.3 490.8,572.4 491.1,572.3 491.4,572.2 491.7,572.2 492,572.4 492.3,572.4 492.6,572.3 492.9,572.3 493.2,572.4 493.5,572.3 493.8,572.5 494.1,572.4 494.4,572.5 494.7,572.4 495,572 495.3,572.4 495.6,572.2 495.9,572.2 496.2,572.3 496.5,572.3 496.8,572.2 497.1,572.4 497.4,572.3 497.7,572.5 498,572.5 498.3,572.4 498.6,572.2 498.9,572 499.2,572.1 499.5,572.4 499.8,572.4 500.1,572.5 500.4,572.2 500.7,572.5 501,572.5 501.3,572.3 501.6,572.3 501.9,572.5 502.2,572.4 502.5,572.2 502.8,572.3 503,572.5 317.4,572.5Z" fill="#72c8aa" stroke="#72c8aa" stroke-width="0.4"/>
<line x1="317.4" y1="572.5" x2="503.0" y2="572.5" stroke="#7ab8a0" stroke-width="1.2"/>
<path d="M509,572.4 L509.3,572.4 509.6,572.2 509.9,572.4 510.2,572.5 510.5,572.5 510.8,572.4 511.1,572 511.4,572.4 511.7,572.4 512,572.5 512.3,572.4 512.6,572.4 512.9,572.3 513.2,572.3 513.5,572.5 513.8,572.1 514.1,572.5 514.4,572.4 514.7,572 515,572.3 515.3,572.2 515.6,572.3 515.9,572.3 516.2,572.3 516.5,572 516.8,572.5 517.1,572.4 517.4,572.5 517.7,572.4 518,572.2 518.3,572.4 518.6,572.4 518.9,572.4 519.2,572.4 519.5,572.4 519.8,572.3 520.1,572.5 520.4,572.5 520.7,572.4 521,572.5 521.3,572.5 521.6,572.3 521.9,572.3 522.2,572.3 522.5,572.4 522.8,572.4 523.1,572.5 523.4,572.3 523.7,572.4 524,572.5 524.3,572.3 524.6,572.4 524.9,572.4 525.2,572.4 525.5,572.4 525.8,572.3 526.1,572.3 526.4,572.5 526.7,572.2 527,572.1 527.3,572.2 527.6,572.4 527.9,572.2 528.2,572.5 528.5,572.4 528.8,572.4 529.1,572.4 529.4,572 529.7,572.3 530,572.2 530.3,572.3 530.6,572.5 530.9,572.5 531.2,572.3 531.5,572.5 531.8,572.1 532.1,572.4 532.4,572 532.7,571.9 533,572.5 533.3,572.3 533.6,572.3 533.9,571.9 534.2,572.4 534.5,572.5 534.8,572.3 535.1,572.3 535.4,572 535.7,572.1 536,572.3 536.3,572.3 536.6,572.1 536.9,572.4 537.2,572.4 537.5,572.2 537.8,572.5 538.1,572 538.4,572.4 538.7,572.4 539,572.4 539.3,572.1 539.6,572.4 539.9,572.4 540.2,572.2 540.5,572.2 540.8,572.4 541.1,572.4 541.4,572.2 541.7,572.4 542,572.4 542.3,572.3 542.6,572.3 542.9,572.4 543.2,572.5 543.5,572.2 543.8,572.4 544.1,572.4 544.4,572.4 544.7,572 545,572.2 545.3,572.1 545.6,572.5 545.9,572.3 546.2,572.4 546.5,572.4 546.8,572.5 547.1,572.4 547.4,572.4 547.7,572.3 548,572.4 548.3,572.5 548.6,572.5 548.9,572.5 549.2,572.2 549.5,572.3 549.8,572.4 550.1,572.4 550.4,572.1 550.7,572.5 551,572.3 551.3,572.4 551.6,572.3 551.9,572.5 552.2,572.4 552.5,572.3 552.8,572.4 553.1,572.4 553.4,572.3 553.7,572.1 554,572.1 554.3,572.2 554.6,572.2 554.9,572.5 555.2,572.1 555.5,572.5 555.8,572.3 556.1,572.4 556.4,572.3 556.7,572.4 557,572.3 557.3,572.4 557.6,572.1 557.9,572.4 558.2,572.4 558.5,572.3 558.8,572.4 559.1,572 559.4,572.4 559.7,572.3 560,572.4 560.3,572.2 560.6,572.4 560.9,572 561.2,572.2 561.5,572.4 561.8,572.5 562.1,572.4 562.4,572.4 562.7,572.2 563,572.4 563.3,572.3 563.6,572 563.9,572.5 564.2,572.4 564.5,572.4 564.8,572.1 565.1,572.3 565.4,572.3 565.7,572.5 566,572.2 566.3,572.4 566.6,572.4 566.9,572.1 567.2,572.4 567.5,572.4 567.8,572.3 568.1,572.3 568.4,572.2 568.7,572.3 569,572.4 569.3,572.1 569.6,572.3 569.9,572.4 570.2,572.5 570.5,572.3 570.8,572.3 571.1,572.2 571.4,572.5 571.7,572.4 572,572.2 572.3,572.4 572.6,572.4 572.9,572.5 573.2,572.5 573.5,572.4 573.8,572.4 574.1,572.4 574.4,572.5 574.7,572.3 575,572.2 575.3,572.4 575.6,572.5 575.9,572.5 576.2,572.3 576.5,572.3 576.8,572.4 577.1,572.4 577.4,572.3 577.7,572.4 578,572.4 578.3,572.3 578.6,572.3 578.9,572.5 579.2,572.3 579.5,572.4 579.8,572.4 580.1,572.4 580.4,572.4 580.7,572.2 581,572.5 581.3,572.3 581.6,572 581.9,572.4 582.2,572.4 582.5,572.5 582.8,572.3 583.1,572.4 583.4,572.4 583.7,572.4 584,572.3 584.3,572.3 584.6,572.3 584.9,572.5 585.2,572.2 585.5,572.3 585.8,572.2 586.1,572.3 586.4,572.5 586.7,572.3 587,572.4 587.3,572.4 587.6,572.1 587.9,572.3 588.2,572.2 588.5,572.5 588.8,572.4 589.1,572.3 589.4,572.5 589.7,572.4 590,572.1 590.3,572.5 590.6,572.3 590.9,572.5 591.2,572.3 591.5,572.4 591.8,572.5 592.1,572.2 592.4,572.4 592.7,572.4 593,572.4 593.3,572.5 593.6,572.4 593.9,572.2 594.2,572.3 594.5,572.4 594.8,572.3 595.1,572.4 595.4,572.4 595.7,572.3 596,572.2 596.3,572.4 596.6,572.4 596.9,572.5 597.2,572.5 597.5,572.3 597.8,572.3 598.1,572.2 598.4,572.3 598.7,572.4 599,572.4 599.3,572.4 599.6,572.5 599.9,572.4 600.2,572.4 600.5,572.4 600.8,572.2 601.1,572.5 601.4,572.5 601.7,572.4 602,572.4 602.3,572.2 602.6,572.3 602.9,572.3 603.2,572.2 603.5,572.4 603.8,572.5 604.1,572.4 604.4,572.5 604.7,572.5 605,572.4 605.3,571.7 605.6,572.3 605.9,572.4 606.2,572.3 606.5,572.3 606.8,572.3 607.1,572.2 607.4,572.3 607.7,572.4 608,572 608.3,572.4 608.6,572.2 608.9,572.4 609.2,572.3 609.5,572.5 609.8,572.4 610.1,572.3 610.4,572.3 610.7,572.3 611,572.4 611.3,572.2 611.6,572.2 611.9,572.3 612.2,572.3 612.5,572.2 612.8,572 613.1,572.4 613.4,572.4 613.7,572.4 614,572.3 614.3,572.4 614.6,572.4 614.9,572.4 615.2,572.4 615.5,572.2 615.8,572.5 616.1,572.5 616.4,572.2 616.7,572.3 617,572.5 617.3,572.4 617.6,572.3 617.9,572.4 618.2,572.4 618.5,572.5 618.8,572.4 619.1,572.3 619.4,572.5 619.7,572.3 620,572.4 620.3,572.1 620.6,572.2 620.9,572.2 621.2,572.3 621.5,572.3 621.8,572.2 622.1,572.4 622.4,572.3 622.7,572.3 623,572.3 623.3,572.3 623.6,572.3 623.9,572.5 624.2,572.5 624.5,572.4 624.8,572.4 625.1,572.5 625.4,572.3 625.7,572.5 626,572.3 626.3,572.4 626.6,572.4 626.9,572.3 627.2,572.5 627.5,572.4 627.8,572.2 628.1,572.4 628.4,572.2 628.7,572.3 629,572.3 629.3,572.2 629.6,572.5 629.9,572.4 630.2,572.2 630.5,572.4 630.8,572.4 631.1,572.4 631.4,572.2 631.7,572.2 632,572.2 632.3,572.3 632.6,572.4 632.8,572.5 509,572.5Z" fill="#72c8aa" stroke="#72c8aa" stroke-width="0.4"/>
<line x1="509.0" y1="572.5" x2="632.8" y2="572.5" stroke="#7ab8a0" stroke-width="1.2"/>
<line x1="502.0" y1="578.5" x2="505.4" y2="568.0" stroke="#333" stroke-width="0.75"/>
<line x1="507.0" y1="578.5" x2="510.4" y2="568.0" stroke="#333" stroke-width="0.75"/>
<text x="321.5" y="210.3" font-size="9.8" fill="#2c4a6a" text-anchor="middle" font-weight="normal" >1</text>
<text x="344.0" y="222.6" font-size="9.8" fill="#2c4a6a" text-anchor="middle" font-weight="normal" >2</text>
<text x="395.0" y="221.5" font-size="9.8" fill="#2c4a6a" text-anchor="middle" font-weight="normal" >3</text>
<text x="499.5" y="221.9" font-size="9.8" fill="#2c4a6a" text-anchor="middle" font-weight="normal" >4</text>
<text x="521.4" y="214.8" font-size="9.8" fill="#2c4a6a" text-anchor="middle" font-weight="normal" >5</text>
<text x="574.7" y="218.2" font-size="9.8" fill="#2c4a6a" text-anchor="middle" font-weight="normal" >6</text>
<text x="589.5" y="212.0" font-size="9.8" fill="#2c4a6a" text-anchor="middle" font-weight="normal" >7</text>
<text x="321.0" y="421.2" font-size="9.8" fill="#2c4a6a" text-anchor="middle" font-weight="normal" >8</text>
<text x="327.8" y="411.3" font-size="9.8" fill="#2c4a6a" text-anchor="middle" font-weight="normal" >9</text>
<text x="347.4" y="406.6" font-size="9.8" fill="#2c4a6a" text-anchor="middle" font-weight="normal" >10</text>
<text x="361.9" y="418.2" font-size="9.8" fill="#2c4a6a" text-anchor="middle" font-weight="normal" >11</text>
<line x1="350.6" y1="573.5" x2="350.6" y2="576.0" stroke="#444" stroke-width="0.7"/>
<text x="350.6" y="584.9" font-size="8.3" fill="#222" text-anchor="middle" font-weight="normal" >1500</text>
<line x1="401.7" y1="573.5" x2="401.7" y2="576.0" stroke="#444" stroke-width="0.7"/>
<text x="401.7" y="584.9" font-size="8.3" fill="#222" text-anchor="middle" font-weight="normal" >1750</text>
<line x1="452.3" y1="573.5" x2="452.3" y2="576.0" stroke="#444" stroke-width="0.7"/>
<text x="452.3" y="584.9" font-size="8.3" fill="#222" text-anchor="middle" font-weight="normal" >2000</text>
<line x1="540" y1="573.5" x2="540" y2="576.0" stroke="#444" stroke-width="0.7"/>
<text x="540.0" y="584.9" font-size="8.3" fill="#222" text-anchor="middle" font-weight="normal" >4000</text>
<line x1="578.3" y1="573.5" x2="578.3" y2="576.0" stroke="#444" stroke-width="0.7"/>
<text x="578.3" y="584.9" font-size="8.3" fill="#222" text-anchor="middle" font-weight="normal" >4250</text>
<line x1="617.3" y1="573.5" x2="617.3" y2="576.0" stroke="#444" stroke-width="0.7"/>
<text x="617.3" y="584.9" font-size="8.3" fill="#222" text-anchor="middle" font-weight="normal" >4500</text>
<line x1="325.0" y1="573.5" x2="325.0" y2="575.0" stroke="#444" stroke-width="0.7"/>
<line x1="376.2" y1="573.5" x2="376.2" y2="575.0" stroke="#444" stroke-width="0.7"/>
<line x1="427" y1="573.5" x2="427" y2="575.0" stroke="#444" stroke-width="0.7"/>
<line x1="477.8" y1="573.5" x2="477.8" y2="575.0" stroke="#444" stroke-width="0.7"/>
<line x1="520.7" y1="573.5" x2="520.7" y2="575.0" stroke="#444" stroke-width="0.7"/>
<line x1="559.3" y1="573.5" x2="559.3" y2="575.0" stroke="#444" stroke-width="0.7"/>
<line x1="598" y1="573.5" x2="598" y2="575.0" stroke="#444" stroke-width="0.7"/>
<text x="494.0" y="605.0" font-size="10.2" fill="#222" text-anchor="middle" font-weight="normal" >m/z</text>
<defs><linearGradient id="cbd" x1="0" y1="0" x2="0" y2="1">
<stop offset="0" stop-color="#28506f"/><stop offset="0.19" stop-color="#2e6184"/><stop offset="0.374" stop-color="#427e98"/>
<stop offset="0.478" stop-color="#4a90a0"/><stop offset="0.576" stop-color="#6aacb5"/><stop offset="0.674" stop-color="#b0e2de"/>
<stop offset="0.77" stop-color="#8edbc4"/><stop offset="0.876" stop-color="#7cd0b8"/><stop offset="1" stop-color="#6cc4aa"/></linearGradient></defs>
<rect x="633.8" y="220.3" width="10.6" height="355.5" fill="url(#cbd)" stroke="#2a3a44" stroke-width="0.7"/>
<text x="665.5" y="232.4" font-size="10.0" fill="#2c4a6a" text-anchor="middle" font-weight="normal" >0 min</text>
<text x="665.5" y="261.6" font-size="10.0" fill="#2c4a6a" text-anchor="middle" font-weight="normal" >5 min</text>
<text x="665.5" y="292.0" font-size="10.0" fill="#4a9a98" text-anchor="middle" font-weight="normal" >10 min</text>
<text x="665.5" y="322.2" font-size="10.0" fill="#4f9e9a" text-anchor="middle" font-weight="normal" >15 min</text>
<text x="665.5" y="357.3" font-size="10.0" fill="#5aaaa2" text-anchor="middle" font-weight="normal" >30 min</text>
<text x="665.5" y="393.9" font-size="10.0" fill="#62b2a6" text-anchor="middle" font-weight="normal" >45 min</text>
<text x="665.5" y="429.8" font-size="10.0" fill="#6cbcaa" text-anchor="middle" font-weight="normal" >60 min</text>
<text x="665.5" y="464.9" font-size="10.0" fill="#6ec2aa" text-anchor="middle" font-weight="normal" >120 min</text>
<text x="665.5" y="499.4" font-size="10.0" fill="#6ec2aa" text-anchor="middle" font-weight="normal" >180 min</text>
<text x="665.5" y="536.7" font-size="10.0" fill="#6ec2aa" text-anchor="middle" font-weight="normal" >300 min</text>
<text x="665.5" y="576.8" font-size="10.0" fill="#6ec2aa" text-anchor="middle" font-weight="normal" >600 min</text>
<circle cx="124.00" cy="632.90" r="7.0" fill="#4d6cf2" stroke="#2c3fb8" stroke-width="1.75"/>
<text x="141.9" y="638.1" font-size="10.2" fill="#222" text-anchor="start" font-weight="normal" >Cu</text>
<circle cx="174.20" cy="632.10" r="7.4" fill="#80f52a" stroke="#3e8f1e" stroke-width="1.75"/>
<text x="190.5" y="638.1" font-size="10.2" fill="#222" text-anchor="start" font-weight="normal" >Se</text>
<path d="M229.5,636.5 Q229.5,632.5 229.8,632.5 T230.2,628.5" fill="none" stroke="#333333" stroke-width="0.9" />
<circle cx="230.20" cy="628.50" r="2.7" fill="#fff" stroke="#333333" stroke-width="0.9" />
<text x="245.0" y="638.1" font-size="10.2" fill="#222" text-anchor="start" font-weight="normal" >Bn</text>
<line x1="297.5" y1="637.8" x2="288.3" y2="631.2" stroke="#333333" stroke-width="0.8"/>
<path d="M290.47,632.45 L288.30,633.70 L286.13,632.45 L286.13,629.95 L288.30,628.70 L290.47,629.95Z" fill="#fff" stroke="#333333" stroke-width="0.85"/>
<line x1="288.3" y1="628.7" x2="288.3" y2="626.2" stroke="#333333" stroke-width="0.8"/>
<line x1="290.5" y1="632.5" x2="292.6" y2="633.7" stroke="#333333" stroke-width="0.8"/>
<line x1="286.1" y1="632.5" x2="284.0" y2="633.7" stroke="#333333" stroke-width="0.8"/>
<circle cx="297.50" cy="637.80" r="4.0" fill="#d42cf0"/>
<text x="308.0" y="638.1" font-size="10.2" fill="#222" text-anchor="start" font-weight="normal" >TXP35</text>
<path d="M380.9,630.9 L384.3,632.9 388.9,630.9 391.4,632.9 394.6,630.9 398,632.9 401.4,630.9" stroke="#333333" stroke-width="0.9" fill="none" />
<path d="M388.9,630.9 L388.9,626.7" stroke="#333333" stroke-width="0.8" fill="none" />
<path d="M394.6,630.9 L394.6,626.7" stroke="#333333" stroke-width="0.8" fill="none" />
<path d="M384.3,632.9 L384.3,639.7" stroke="#333333" stroke-width="0.9" fill="none" />
<path d="M398,632.9 L397.9,639.7" stroke="#333333" stroke-width="0.9" fill="none" />
<circle cx="378.70" cy="629.20" r="2.9" fill="#fff" stroke="#333333" stroke-width="0.9" />
<circle cx="403.60" cy="629.20" r="2.9" fill="#fff" stroke="#333333" stroke-width="0.9" />
<circle cx="384.30" cy="639.70" r="4.0" fill="#d42cf0"/>
<circle cx="397.90" cy="639.70" r="4.0" fill="#d42cf0"/>
<text x="429.0" y="637.3" font-size="10.2" fill="#222" text-anchor="start" font-weight="normal" >BDPP</text>
<line x1="30.3" y1="669.8" x2="19.2" y2="665.0" stroke="#333333" stroke-width="0.8"/>
<path d="M21.37,666.25 L19.20,667.50 L17.03,666.25 L17.03,663.75 L19.20,662.50 L21.37,663.75Z" fill="#fff" stroke="#333333" stroke-width="0.85"/>
<line x1="19.2" y1="662.5" x2="19.2" y2="660.0" stroke="#333333" stroke-width="0.8"/>
<line x1="21.4" y1="666.2" x2="23.5" y2="667.5" stroke="#333333" stroke-width="0.8"/>
<line x1="17.0" y1="666.2" x2="14.9" y2="667.5" stroke="#333333" stroke-width="0.8"/>
<circle cx="30.30" cy="669.80" r="4.0" fill="#d42cf0"/>
<line x1="89.9" y1="669.1" x2="99.6" y2="663.6" stroke="#333333" stroke-width="0.8"/>
<path d="M101.77,664.85 L99.60,666.10 L97.43,664.85 L97.43,662.35 L99.60,661.10 L101.77,662.35Z" fill="#fff" stroke="#333333" stroke-width="0.85"/>
<line x1="99.6" y1="661.1" x2="99.6" y2="658.6" stroke="#333333" stroke-width="0.8"/>
<line x1="101.8" y1="664.8" x2="103.9" y2="666.1" stroke="#333333" stroke-width="0.8"/>
<line x1="97.4" y1="664.8" x2="95.3" y2="666.1" stroke="#333333" stroke-width="0.8"/>
<circle cx="89.90" cy="669.10" r="4.0" fill="#d42cf0"/>
<line x1="62.8" y1="723.2" x2="65.0" y2="733.0" stroke="#333333" stroke-width="0.8"/>
<path d="M67.17,734.25 L65.00,735.50 L62.83,734.25 L62.83,731.75 L65.00,730.50 L67.17,731.75Z" fill="#fff" stroke="#333333" stroke-width="0.85"/>
<line x1="65.0" y1="730.5" x2="65.0" y2="728.0" stroke="#333333" stroke-width="0.8"/>
<line x1="67.2" y1="734.2" x2="69.3" y2="735.5" stroke="#333333" stroke-width="0.8"/>
<line x1="62.8" y1="734.2" x2="60.7" y2="735.5" stroke="#333333" stroke-width="0.8"/>
<circle cx="62.80" cy="723.20" r="4.0" fill="#d42cf0"/>
<path d="M46.3,657.8 Q46.3,652.0 44.1,652.0 T42.0,646.2" fill="none" stroke="#333333" stroke-width="0.9" />
<circle cx="42.00" cy="646.20" r="2.7" fill="#fff" stroke="#333333" stroke-width="0.9" />
<path d="M90.3,687.8 Q90.3,689.9 96.7,689.9 T103.0,692.0" fill="none" stroke="#333333" stroke-width="0.9" />
<circle cx="103.00" cy="692.00" r="2.7" fill="#fff" stroke="#333333" stroke-width="0.9" />
<path d="M45.5,714.2 Q45.5,718.0 40.6,718.0 T35.8,721.8" fill="none" stroke="#333333" stroke-width="0.9" />
<circle cx="35.80" cy="721.80" r="2.7" fill="#fff" stroke="#333333" stroke-width="0.9" />
<circle cx="56.80" cy="688.80" r="15" fill="#4d6cf2"/>
<circle cx="69.10" cy="660.10" r="9.0" fill="#80f52a" stroke="#3e8f1e" stroke-width="1.75"/>
<circle cx="33.00" cy="693.40" r="9.0" fill="#80f52a" stroke="#3e8f1e" stroke-width="1.75"/>
<circle cx="78.80" cy="709.30" r="9.0" fill="#80f52a" stroke="#3e8f1e" stroke-width="1.75"/>
<circle cx="62.80" cy="666.40" r="9.0" fill="#4d6cf2" stroke="#2c3fb8" stroke-width="1.75"/>
<circle cx="78.80" cy="676.80" r="9.0" fill="#4d6cf2" stroke="#2c3fb8" stroke-width="1.75"/>
<circle cx="42.00" cy="677.40" r="9.0" fill="#4d6cf2" stroke="#2c3fb8" stroke-width="1.75"/>
<circle cx="49.70" cy="667.00" r="9.0" fill="#80f52a" stroke="#3e8f1e" stroke-width="1.75"/>
<circle cx="42.00" cy="698.30" r="9.0" fill="#4d6cf2" stroke="#2c3fb8" stroke-width="1.75"/>
<circle cx="78.80" cy="699.60" r="9.0" fill="#4d6cf2" stroke="#2c3fb8" stroke-width="1.75"/>
<circle cx="61.50" cy="708.70" r="9.0" fill="#4d6cf2" stroke="#2c3fb8" stroke-width="1.75"/>
<circle cx="50.40" cy="705.20" r="9.0" fill="#80f52a" stroke="#3e8f1e" stroke-width="1.75"/>
<circle cx="81.60" cy="687.90" r="9.0" fill="#80f52a" stroke="#3e8f1e" stroke-width="1.75"/>
<circle cx="58.80" cy="682.30" r="11.0" fill="#4d6cf2" stroke="#2c3fb8" stroke-width="1.75"/>
<circle cx="64.80" cy="685.30" r="11.0" fill="#4d6cf2" stroke="#2c3fb8" stroke-width="1.75"/>
<circle cx="61.60" cy="684.60" r="11.5" fill="#4d6cf2"/>
<circle cx="60.20" cy="685.60" r="9.0" fill="#80f52a" stroke="#3e8f1e" stroke-width="1.75"/>
<text x="111.2" y="676.8" font-size="10.2" fill="#222" text-anchor="start" font-weight="normal" letter-spacing="0.25">-P/Bn</text>
<g transform="translate(112.3,682.7) rotate(0)"><path d="M0.0,0 L2.1,0 L7.7,7.7 L2.1,15.4 L0.0,15.4 L5.6,7.7Z" fill="#fff" stroke="#62d0dc" stroke-width="0.75" stroke-linejoin="miter"/><path d="M8.2,0 L10.3,0 L15.9,7.7 L10.3,15.4 L8.2,15.4 L13.8,7.7Z" fill="#fff" stroke="#62d0dc" stroke-width="0.75" stroke-linejoin="miter"/><path d="M16.4,0 L18.5,0 L24.1,7.7 L18.5,15.4 L16.4,15.4 L22.0,7.7Z" fill="#fff" stroke="#62d0dc" stroke-width="0.75" stroke-linejoin="miter"/><path d="M24.6,0 L26.7,0 L32.3,7.7 L26.7,15.4 L24.6,15.4 L30.2,7.7Z" fill="#fff" stroke="#62d0dc" stroke-width="0.75" stroke-linejoin="miter"/></g>
<path d="M120.3,709.9 C124.2,709.3 126.2,706.1 132.8,706.1 A6.6,6.6 0 0 1 132.8,719.3 C126.2,719.3 124.2,716.1 120.3,715.5Z" fill="#fcfcfc" stroke="#b3cfda" stroke-width="0.85"/>
<path d="M120.6,709.9 L117.6,709.9 Q115.2,710.1 115.2,712.7 Q115.2,715.3 117.6,715.5 L120.6,715.5Z" fill="#383838"/>
<line x1="164.5" y1="671.1" x2="153.4" y2="666.3" stroke="#333333" stroke-width="0.8"/>
<path d="M155.57,667.55 L153.40,668.80 L151.23,667.55 L151.23,665.05 L153.40,663.80 L155.57,665.05Z" fill="#fff" stroke="#333333" stroke-width="0.85"/>
<line x1="153.4" y1="663.8" x2="153.4" y2="661.3" stroke="#333333" stroke-width="0.8"/>
<line x1="155.6" y1="667.6" x2="157.7" y2="668.8" stroke="#333333" stroke-width="0.8"/>
<line x1="151.2" y1="667.6" x2="149.1" y2="668.8" stroke="#333333" stroke-width="0.8"/>
<circle cx="164.50" cy="671.10" r="4.0" fill="#d42cf0"/>
<line x1="197.0" y1="724.5" x2="199.2" y2="734.3" stroke="#333333" stroke-width="0.8"/>
<path d="M201.37,735.55 L199.20,736.80 L197.03,735.55 L197.03,733.05 L199.20,731.80 L201.37,733.05Z" fill="#fff" stroke="#333333" stroke-width="0.85"/>
<line x1="199.2" y1="731.8" x2="199.2" y2="729.3" stroke="#333333" stroke-width="0.8"/>
<line x1="201.4" y1="735.6" x2="203.5" y2="736.8" stroke="#333333" stroke-width="0.8"/>
<line x1="197.0" y1="735.6" x2="194.9" y2="736.8" stroke="#333333" stroke-width="0.8"/>
<circle cx="197.00" cy="724.50" r="4.0" fill="#d42cf0"/>
<path d="M180.5,659.1 Q180.5,653.3 178.3,653.3 T176.2,647.5" fill="none" stroke="#333333" stroke-width="0.9" />
<circle cx="176.20" cy="647.50" r="2.7" fill="#fff" stroke="#333333" stroke-width="0.9" />
<path d="M224.5,689.1 Q224.5,691.2 230.8,691.2 T237.2,693.3" fill="none" stroke="#333333" stroke-width="0.9" stroke-dasharray="1,0.8"/>
<circle cx="237.20" cy="693.30" r="2.7" fill="#fff" stroke="#333333" stroke-width="0.9" stroke-dasharray="1,0.8"/>
<path d="M179.7,715.5 Q179.7,719.3 174.8,719.3 T170.0,723.1" fill="none" stroke="#333333" stroke-width="0.9" />
<circle cx="170.00" cy="723.10" r="2.7" fill="#fff" stroke="#333333" stroke-width="0.9" />
<circle cx="191.00" cy="690.10" r="15" fill="#4d6cf2"/>
<circle cx="203.30" cy="661.40" r="9.0" fill="#80f52a" stroke="#3e8f1e" stroke-width="1.75"/>
<circle cx="167.20" cy="694.70" r="9.0" fill="#80f52a" stroke="#3e8f1e" stroke-width="1.75"/>
<circle cx="213.00" cy="710.60" r="9.0" fill="#80f52a" stroke="#3e8f1e" stroke-width="1.75"/>
<circle cx="197.00" cy="667.70" r="9.0" fill="#4d6cf2" stroke="#2c3fb8" stroke-width="1.75"/>
<circle cx="213.00" cy="678.10" r="9.0" fill="#4d6cf2" stroke="#2c3fb8" stroke-width="1.75"/>
<circle cx="176.20" cy="678.70" r="9.0" fill="#4d6cf2" stroke="#2c3fb8" stroke-width="1.75"/>
<circle cx="183.90" cy="668.30" r="9.0" fill="#80f52a" stroke="#3e8f1e" stroke-width="1.75"/>
<circle cx="176.20" cy="699.60" r="9.0" fill="#4d6cf2" stroke="#2c3fb8" stroke-width="1.75"/>
<circle cx="213.00" cy="700.90" r="9.0" fill="#4d6cf2" stroke="#2c3fb8" stroke-width="1.75"/>
<circle cx="195.70" cy="710.00" r="9.0" fill="#4d6cf2" stroke="#2c3fb8" stroke-width="1.75"/>
<circle cx="184.60" cy="706.50" r="9.0" fill="#80f52a" stroke="#3e8f1e" stroke-width="1.75"/>
<circle cx="215.80" cy="689.20" r="9.0" fill="#80f52a" stroke="#3e8f1e" stroke-width="1.75"/>
<circle cx="193.00" cy="683.60" r="11.0" fill="#4d6cf2" stroke="#2c3fb8" stroke-width="1.75"/>
<circle cx="199.00" cy="686.60" r="11.0" fill="#4d6cf2" stroke="#2c3fb8" stroke-width="1.75"/>
<circle cx="195.80" cy="685.90" r="11.5" fill="#4d6cf2"/>
<circle cx="194.40" cy="686.90" r="9.0" fill="#80f52a" stroke="#3e8f1e" stroke-width="1.75"/>
<text x="243.6" y="678.0" font-size="10.2" fill="#222" text-anchor="start" font-weight="normal" letter-spacing="0.25">-P/Bn/Cu</text>
<g transform="translate(252.0,681.8) rotate(0)"><path d="M0.0,0 L2.1,0 L7.7,7.7 L2.1,15.4 L0.0,15.4 L5.6,7.7Z" fill="#fff" stroke="#62d0dc" stroke-width="0.75" stroke-linejoin="miter"/><path d="M8.2,0 L10.3,0 L15.9,7.7 L10.3,15.4 L8.2,15.4 L13.8,7.7Z" fill="#fff" stroke="#62d0dc" stroke-width="0.75" stroke-linejoin="miter"/><path d="M16.4,0 L18.5,0 L24.1,7.7 L18.5,15.4 L16.4,15.4 L22.0,7.7Z" fill="#fff" stroke="#62d0dc" stroke-width="0.75" stroke-linejoin="miter"/><path d="M24.6,0 L26.7,0 L32.3,7.7 L26.7,15.4 L24.6,15.4 L30.2,7.7Z" fill="#fff" stroke="#62d0dc" stroke-width="0.75" stroke-linejoin="miter"/></g>
<path d="M260.8,709.9 C264.7,709.3 266.7,706.1 273.3,706.1 A6.6,6.6 0 0 1 273.3,719.3 C266.7,719.3 264.7,716.1 260.8,715.5Z" fill="#fcfcfc" stroke="#b3cfda" stroke-width="0.85"/>
<path d="M261.1,709.9 L258.1,709.9 Q255.7,710.1 255.7,712.7 Q255.7,715.3 258.1,715.5 L261.1,715.5Z" fill="#383838"/>
<line x1="312.5" y1="671.1" x2="301.4" y2="666.3" stroke="#333333" stroke-width="0.8"/>
<path d="M303.57,667.55 L301.40,668.80 L299.23,667.55 L299.23,665.05 L301.40,663.80 L303.57,665.05Z" fill="#fff" stroke="#333333" stroke-width="0.85"/>
<line x1="301.4" y1="663.8" x2="301.4" y2="661.3" stroke="#333333" stroke-width="0.8"/>
<line x1="303.6" y1="667.6" x2="305.7" y2="668.8" stroke="#333333" stroke-width="0.8"/>
<line x1="299.2" y1="667.6" x2="297.1" y2="668.8" stroke="#333333" stroke-width="0.8"/>
<circle cx="312.50" cy="671.10" r="4.0" fill="#d42cf0"/>
<line x1="345.0" y1="724.5" x2="347.2" y2="734.3" stroke="#333333" stroke-width="0.8"/>
<path d="M349.37,735.55 L347.20,736.80 L345.03,735.55 L345.03,733.05 L347.20,731.80 L349.37,733.05Z" fill="#fff" stroke="#333333" stroke-width="0.85"/>
<line x1="347.2" y1="731.8" x2="347.2" y2="729.3" stroke="#333333" stroke-width="0.8"/>
<line x1="349.4" y1="735.6" x2="351.5" y2="736.8" stroke="#333333" stroke-width="0.8"/>
<line x1="345.0" y1="735.6" x2="342.9" y2="736.8" stroke="#333333" stroke-width="0.8"/>
<circle cx="345.00" cy="724.50" r="4.0" fill="#d42cf0"/>
<path d="M328.5,659.1 Q328.5,653.3 326.4,653.3 T324.2,647.5" fill="none" stroke="#333333" stroke-width="0.9" />
<circle cx="324.20" cy="647.50" r="2.7" fill="#fff" stroke="#333333" stroke-width="0.9" />
<path d="M372.5,689.1 Q372.5,691.2 378.9,691.2 T385.2,693.3" fill="none" stroke="#333333" stroke-width="0.9" stroke-dasharray="1,0.8"/>
<circle cx="385.20" cy="693.30" r="2.7" fill="#fff" stroke="#333333" stroke-width="0.9" stroke-dasharray="1,0.8"/>
<path d="M327.7,715.5 Q327.7,719.3 322.9,719.3 T318.0,723.1" fill="none" stroke="#333333" stroke-width="0.9" />
<circle cx="318.00" cy="723.10" r="2.7" fill="#fff" stroke="#333333" stroke-width="0.9" />
<circle cx="339.00" cy="690.10" r="15" fill="#4d6cf2"/>
<circle cx="351.30" cy="661.40" r="9.0" fill="#80f52a" stroke="#3e8f1e" stroke-width="1.75"/>
<circle cx="315.20" cy="694.70" r="9.0" fill="#80f52a" stroke="#3e8f1e" stroke-width="1.75"/>
<circle cx="361.00" cy="710.60" r="9.0" fill="#80f52a" stroke="#3e8f1e" stroke-width="1.75"/>
<circle cx="345.00" cy="667.70" r="9.0" fill="#4d6cf2" stroke="#2c3fb8" stroke-width="1.75"/>
<circle cx="324.20" cy="678.70" r="9.0" fill="#4d6cf2" stroke="#2c3fb8" stroke-width="1.75"/>
<circle cx="331.90" cy="668.30" r="9.0" fill="#80f52a" stroke="#3e8f1e" stroke-width="1.75"/>
<circle cx="324.20" cy="699.60" r="9.0" fill="#4d6cf2" stroke="#2c3fb8" stroke-width="1.75"/>
<circle cx="361.00" cy="700.90" r="9.0" fill="#4d6cf2" stroke="#2c3fb8" stroke-width="1.75"/>
<circle cx="343.70" cy="710.00" r="9.0" fill="#4d6cf2" stroke="#2c3fb8" stroke-width="1.75"/>
<circle cx="332.60" cy="706.50" r="9.0" fill="#80f52a" stroke="#3e8f1e" stroke-width="1.75"/>
<circle cx="363.80" cy="689.20" r="9.0" fill="#80f52a" stroke="#3e8f1e" stroke-width="1.75"/>
<circle cx="341.00" cy="683.60" r="11.0" fill="#4d6cf2" stroke="#2c3fb8" stroke-width="1.75"/>
<circle cx="347.00" cy="686.60" r="11.0" fill="#4d6cf2" stroke="#2c3fb8" stroke-width="1.75"/>
<circle cx="343.80" cy="685.90" r="11.5" fill="#4d6cf2"/>
<circle cx="342.40" cy="686.90" r="9.0" fill="#80f52a" stroke="#3e8f1e" stroke-width="1.75"/>
<path d="M358,668.6 A9.5,9.5 0 0 1 371.5,681.6" fill="none" stroke="#2c3fb8" stroke-width="1.5" stroke-dasharray="2.2,1.4"/>
<text x="395.6" y="677.5" font-size="10.2" fill="#222" text-anchor="start" font-weight="normal" letter-spacing="0.25">-P/Bn/Cu/Se</text>
<g transform="translate(412.0,682.7) rotate(0)"><path d="M0.0,0 L2.1,0 L7.7,7.7 L2.1,15.4 L0.0,15.4 L5.6,7.7Z" fill="#fff" stroke="#62d0dc" stroke-width="0.75" stroke-linejoin="miter"/><path d="M8.2,0 L10.3,0 L15.9,7.7 L10.3,15.4 L8.2,15.4 L13.8,7.7Z" fill="#fff" stroke="#62d0dc" stroke-width="0.75" stroke-linejoin="miter"/><path d="M16.4,0 L18.5,0 L24.1,7.7 L18.5,15.4 L16.4,15.4 L22.0,7.7Z" fill="#fff" stroke="#62d0dc" stroke-width="0.75" stroke-linejoin="miter"/><path d="M24.6,0 L26.7,0 L32.3,7.7 L26.7,15.4 L24.6,15.4 L30.2,7.7Z" fill="#fff" stroke="#62d0dc" stroke-width="0.75" stroke-linejoin="miter"/></g>
<path d="M422.9,709.2 C426.8,708.6 428.8,705.4 435.4,705.4 A6.6,6.6 0 0 1 435.4,718.6 C428.8,718.6 426.8,715.4 422.9,714.8Z" fill="#fcfcfc" stroke="#b3cfda" stroke-width="0.85"/>
<path d="M423.2,709.2 L420.2,709.2 Q417.8,709.4 417.8,712.0 Q417.8,714.6 420.2,714.8 L423.2,714.8Z" fill="#383838"/>
<circle cx="505.90" cy="669.60" r="9.0" fill="#80f52a" stroke="#3e8f1e" stroke-width="1.75"/>
<circle cx="526.90" cy="670.20" r="9.0" fill="#4d6cf2" stroke="#2c3fb8" stroke-width="1.75"/>
<circle cx="496.50" cy="688.90" r="9.0" fill="#4d6cf2" stroke="#2c3fb8" stroke-width="1.75"/>
<circle cx="538.60" cy="689.50" r="9.0" fill="#80f52a" stroke="#3e8f1e" stroke-width="1.75"/>
<circle cx="505.90" cy="708.10" r="9.0" fill="#80f52a" stroke="#3e8f1e" stroke-width="1.75"/>
<circle cx="527.50" cy="708.70" r="9.0" fill="#4d6cf2" stroke="#2c3fb8" stroke-width="1.75"/>
<circle cx="512.90" cy="680.10" r="9.0" fill="#4d6cf2" stroke="#2c3fb8" stroke-width="1.75"/>
<circle cx="525.70" cy="680.10" r="9.0" fill="#80f52a" stroke="#3e8f1e" stroke-width="1.75"/>
<circle cx="532.70" cy="690.00" r="9.0" fill="#4d6cf2" stroke="#2c3fb8" stroke-width="1.75"/>
<circle cx="510.00" cy="699.40" r="9.0" fill="#4d6cf2" stroke="#2c3fb8" stroke-width="1.75"/>
<circle cx="523.40" cy="700.50" r="9.0" fill="#80f52a" stroke="#3e8f1e" stroke-width="1.75"/>
<circle cx="505.90" cy="688.90" r="9.0" fill="#80f52a" stroke="#3e8f1e" stroke-width="1.75"/>
<circle cx="518.10" cy="689.50" r="9.0" fill="#4d6cf2" stroke="#2c3fb8" stroke-width="1.75"/>
<circle cx="506.50" cy="735.60" r="9.0" fill="#80f52a" stroke="#3e8f1e" stroke-width="1.75"/>
<path d="M476.7,679.5 Q476.7,673.6 479.9,673.6 T483.1,667.8" fill="none" stroke="#333333" stroke-width="0.9" />
<circle cx="483.10" cy="667.80" r="2.7" fill="#fff" stroke="#333333" stroke-width="0.9" />
<line x1="474.9" y1="708.7" x2="484.3" y2="702.3" stroke="#333333" stroke-width="0.8"/>
<path d="M486.47,703.55 L484.30,704.80 L482.13,703.55 L482.13,701.05 L484.30,699.80 L486.47,701.05Z" fill="#fff" stroke="#333333" stroke-width="0.85"/>
<line x1="484.3" y1="699.8" x2="484.3" y2="697.3" stroke="#333333" stroke-width="0.8"/>
<line x1="486.5" y1="703.5" x2="488.6" y2="704.8" stroke="#333333" stroke-width="0.8"/>
<line x1="482.1" y1="703.5" x2="480.0" y2="704.8" stroke="#333333" stroke-width="0.8"/>
<circle cx="474.90" cy="708.70" r="4.0" fill="#d42cf0"/>
<g transform="translate(557.0,710.2) rotate(30)"><path d="M-5.40,-8.40 L0.00,0 L-5.40,8.40 L-7.80,8.40 L-2.40,0 L-7.80,-8.40Z" fill="#fff" stroke="#62d0dc" stroke-width="0.75"/><path d="M2.90,-8.40 L8.30,0 L2.90,8.40 L0.50,8.40 L5.90,0 L0.50,-8.40Z" fill="#fff" stroke="#62d0dc" stroke-width="0.75"/><path d="M11.20,-8.40 L16.60,0 L11.20,8.40 L8.80,8.40 L14.20,0 L8.80,-8.40Z" fill="#fff" stroke="#62d0dc" stroke-width="0.75"/><path d="M19.50,-8.40 L24.90,0 L19.50,8.40 L17.10,8.40 L22.50,0 L17.10,-8.40Z" fill="#fff" stroke="#62d0dc" stroke-width="0.75"/></g>
<path d="M549.6,735.0 C553.5,734.4 555.5,731.2 562.1,731.2 A6.6,6.6 0 0 1 562.1,744.4 C555.5,744.4 553.5,741.2 549.6,740.6Z" fill="#fcfcfc" stroke="#b3cfda" stroke-width="0.85"/>
<path d="M549.9,735.0 L546.9,735.0 Q544.5,735.2 544.5,737.8 Q544.5,740.4 546.9,740.6 L549.9,740.6Z" fill="#383838"/>
<path d="M576.7,687.7 L579.9,689.6 584.3,687.6 586.7,689.6 589.9,687.6 593.1,689.6 596.3,687.7" stroke="#333333" stroke-width="0.9" fill="none" />
<path d="M584.3,687.6 L584.3,683.6" stroke="#333333" stroke-width="0.8" fill="none" />
<path d="M589.9,687.6 L589.9,683.6" stroke="#333333" stroke-width="0.8" fill="none" />
<path d="M579.9,689.6 L580.4,696.5" stroke="#333333" stroke-width="0.9" fill="none" />
<path d="M593.1,689.6 L593.7,696.5" stroke="#333333" stroke-width="0.9" fill="none" />
<circle cx="574.50" cy="686.00" r="2.9" fill="#fff" stroke="#333333" stroke-width="0.9" />
<circle cx="598.50" cy="686.00" r="2.9" fill="#fff" stroke="#333333" stroke-width="0.9" />
<circle cx="580.40" cy="696.50" r="4.0" fill="#d42cf0"/>
<circle cx="593.70" cy="696.50" r="4.0" fill="#d42cf0"/>
<path d="M611.7,744.7 Q611.7,734.4 614.7,734.4 T617.6,724.0" fill="none" stroke="#333333" stroke-width="0.9" />
<circle cx="617.60" cy="724.00" r="2.7" fill="#fff" stroke="#333333" stroke-width="0.9" />
<path d="M637.1,723.7 L638.9,727.1 643.8,727.8 644.8,730.8 648.6,730.8 650.4,734.2 654.2,734.3" stroke="#333333" stroke-width="0.9" fill="none" />
<path d="M643.8,727.8 L646,724.3" stroke="#333333" stroke-width="0.8" fill="none" />
<path d="M648.6,730.8 L650.8,727.3" stroke="#333333" stroke-width="0.8" fill="none" />
<path d="M638.9,727.1 L635.1,732.8" stroke="#333333" stroke-width="0.9" fill="none" />
<path d="M650.4,734.2 L646.8,740.1" stroke="#333333" stroke-width="0.9" fill="none" />
<circle cx="636.10" cy="721.10" r="2.9" fill="#fff" stroke="#333333" stroke-width="0.9" />
<circle cx="657.00" cy="734.00" r="2.9" fill="#fff" stroke="#333333" stroke-width="0.9" />
<circle cx="635.10" cy="732.80" r="4.0" fill="#d42cf0"/>
<circle cx="646.80" cy="740.10" r="4.0" fill="#d42cf0"/>
<path d="M584.8,753.1 L586.6,756.6 584.3,761.1 586.2,763.7 584,766.8 585.8,770.2 583.7,773.5" stroke="#333333" stroke-width="0.9" fill="none" />
<path d="M584.3,761.1 L580.1,760.8" stroke="#333333" stroke-width="0.8" fill="none" />
<path d="M584,766.8 L579.8,766.5" stroke="#333333" stroke-width="0.8" fill="none" />
<path d="M586.6,756.6 L592.7,756.9" stroke="#333333" stroke-width="0.9" fill="none" />
<path d="M585.8,770.2 L592,770.2" stroke="#333333" stroke-width="0.9" fill="none" />
<circle cx="583.20" cy="750.80" r="2.9" fill="#fff" stroke="#333333" stroke-width="0.9" />
<circle cx="581.80" cy="775.60" r="2.9" fill="#fff" stroke="#333333" stroke-width="0.9" />
<circle cx="592.70" cy="756.90" r="4.0" fill="#d42cf0"/>
<circle cx="592.00" cy="770.20" r="4.0" fill="#d42cf0"/>
<path d="M654.0,767.6 Q654.0,771.2 659.1,771.2 T664.3,774.9" fill="none" stroke="#333333" stroke-width="0.9" />
<circle cx="664.30" cy="774.90" r="2.7" fill="#fff" stroke="#333333" stroke-width="0.9" />
<path d="M605.1,783.5 Q605.1,788.3 599.3,788.3 T593.5,793.1" fill="none" stroke="#333333" stroke-width="0.9" />
<circle cx="593.50" cy="793.10" r="2.7" fill="#fff" stroke="#333333" stroke-width="0.9" />
<path d="M637.4,804.4 L639.4,801 644.5,800.6 645.7,797.6 649.6,797.8 651.6,794.4 655.6,794.5" stroke="#333333" stroke-width="0.9" fill="none" />
<path d="M644.5,800.6 L646.5,804.3" stroke="#333333" stroke-width="0.8" fill="none" />
<path d="M649.6,797.8 L651.6,801.5" stroke="#333333" stroke-width="0.8" fill="none" />
<path d="M639.4,801 L635.8,795" stroke="#333333" stroke-width="0.9" fill="none" />
<path d="M651.6,794.4 L647.9,788.7" stroke="#333333" stroke-width="0.9" fill="none" />
<circle cx="636.20" cy="807.00" r="2.9" fill="#fff" stroke="#333333" stroke-width="0.9" />
<circle cx="658.40" cy="795.00" r="2.9" fill="#fff" stroke="#333333" stroke-width="0.9" />
<circle cx="635.80" cy="795.00" r="4.0" fill="#d42cf0"/>
<circle cx="647.90" cy="788.70" r="4.0" fill="#d42cf0"/>
<circle cx="612.70" cy="744.70" r="9.0" fill="#80f52a" stroke="#3e8f1e" stroke-width="1.75"/>
<circle cx="633.70" cy="745.30" r="9.0" fill="#4d6cf2" stroke="#2c3fb8" stroke-width="1.75"/>
<circle cx="603.30" cy="764.00" r="9.0" fill="#4d6cf2" stroke="#2c3fb8" stroke-width="1.75"/>
<circle cx="645.40" cy="764.60" r="9.0" fill="#80f52a" stroke="#3e8f1e" stroke-width="1.75"/>
<circle cx="612.70" cy="783.20" r="9.0" fill="#80f52a" stroke="#3e8f1e" stroke-width="1.75"/>
<circle cx="634.30" cy="783.80" r="9.0" fill="#4d6cf2" stroke="#2c3fb8" stroke-width="1.75"/>
<circle cx="619.70" cy="755.20" r="9.0" fill="#4d6cf2" stroke="#2c3fb8" stroke-width="1.75"/>
<circle cx="632.50" cy="755.20" r="9.0" fill="#80f52a" stroke="#3e8f1e" stroke-width="1.75"/>
<circle cx="639.50" cy="765.10" r="9.0" fill="#4d6cf2" stroke="#2c3fb8" stroke-width="1.75"/>
<circle cx="616.80" cy="774.50" r="9.0" fill="#4d6cf2" stroke="#2c3fb8" stroke-width="1.75"/>
<circle cx="630.20" cy="775.60" r="9.0" fill="#80f52a" stroke="#3e8f1e" stroke-width="1.75"/>
<circle cx="612.70" cy="764.00" r="9.0" fill="#80f52a" stroke="#3e8f1e" stroke-width="1.75"/>
<circle cx="624.90" cy="764.60" r="9.0" fill="#4d6cf2" stroke="#2c3fb8" stroke-width="1.75"/>
<path d="M16.7,751.5 L19.9,753.4 24.2,751.5 26.5,753.4 29.6,751.5 32.7,753.4 35.9,751.5" stroke="#333333" stroke-width="0.9" fill="none" />
<path d="M24.2,751.5 L24.2,747.6" stroke="#333333" stroke-width="0.8" fill="none" />
<path d="M29.6,751.5 L29.6,747.6" stroke="#333333" stroke-width="0.8" fill="none" />
<path d="M19.9,753.4 L19.9,760.7" stroke="#333333" stroke-width="0.9" fill="none" />
<path d="M32.7,753.4 L33.6,760.7" stroke="#333333" stroke-width="0.9" fill="none" />
<circle cx="14.60" cy="749.90" r="2.9" fill="#fff" stroke="#333333" stroke-width="0.9" />
<circle cx="38.00" cy="749.90" r="2.9" fill="#fff" stroke="#333333" stroke-width="0.9" />
<circle cx="19.90" cy="760.70" r="4.0" fill="#d42cf0"/>
<circle cx="33.60" cy="760.70" r="4.0" fill="#d42cf0"/>
<path d="M49.6,743.5 L49.6,746.0 L57.6,751.7 L65.6,746.0 L65.6,743.5 L57.6,749.2Z" fill="#fff" stroke="#62d0dc" stroke-width="0.75"/>
<path d="M49.6,751.5 L49.6,754.0 L57.6,759.7 L65.6,754.0 L65.6,751.5 L57.6,757.2Z" fill="#fff" stroke="#62d0dc" stroke-width="0.75"/>
<path d="M49.6,759.5 L49.6,762.0 L57.6,767.7 L65.6,762.0 L65.6,759.5 L57.6,765.2Z" fill="#fff" stroke="#62d0dc" stroke-width="0.75"/>
<path d="M49.6,767.5 L49.6,770.0 L57.6,775.7 L65.6,770.0 L65.6,767.5 L57.6,773.2Z" fill="#fff" stroke="#62d0dc" stroke-width="0.75"/>
<text x="76.8" y="769.4" font-size="10.2" fill="#222" text-anchor="start" font-weight="normal" letter-spacing="0.4">Ligand exchange</text>
<line x1="30.8" y1="818.2" x2="19.7" y2="813.4" stroke="#333333" stroke-width="0.8"/>
<path d="M21.87,814.65 L19.70,815.90 L17.53,814.65 L17.53,812.15 L19.70,810.90 L21.87,812.15Z" fill="#fff" stroke="#333333" stroke-width="0.85"/>
<line x1="19.7" y1="810.9" x2="19.7" y2="808.4" stroke="#333333" stroke-width="0.8"/>
<line x1="21.9" y1="814.7" x2="24.0" y2="815.9" stroke="#333333" stroke-width="0.8"/>
<line x1="17.5" y1="814.7" x2="15.4" y2="815.9" stroke="#333333" stroke-width="0.8"/>
<circle cx="30.80" cy="818.20" r="4.0" fill="#d42cf0"/>
<line x1="63.3" y1="871.6" x2="65.5" y2="881.4" stroke="#333333" stroke-width="0.8"/>
<path d="M67.67,882.65 L65.50,883.90 L63.33,882.65 L63.33,880.15 L65.50,878.90 L67.67,880.15Z" fill="#fff" stroke="#333333" stroke-width="0.85"/>
<line x1="65.5" y1="878.9" x2="65.5" y2="876.4" stroke="#333333" stroke-width="0.8"/>
<line x1="67.7" y1="882.7" x2="69.8" y2="883.9" stroke="#333333" stroke-width="0.8"/>
<line x1="63.3" y1="882.7" x2="61.2" y2="883.9" stroke="#333333" stroke-width="0.8"/>
<circle cx="63.30" cy="871.60" r="4.0" fill="#d42cf0"/>
<path d="M46.8,806.2 Q46.8,800.4 44.6,800.4 T42.5,794.6" fill="none" stroke="#333333" stroke-width="0.9" />
<circle cx="42.50" cy="794.60" r="2.7" fill="#fff" stroke="#333333" stroke-width="0.9" />
<path d="M90.8,836.2 Q90.8,838.3 97.2,838.3 T103.5,840.4" fill="none" stroke="#333333" stroke-width="0.9" />
<circle cx="103.50" cy="840.40" r="2.7" fill="#fff" stroke="#333333" stroke-width="0.9" />
<path d="M46.0,862.6 Q46.0,866.4 41.1,866.4 T36.3,870.2" fill="none" stroke="#333333" stroke-width="0.9" />
<circle cx="36.30" cy="870.20" r="2.7" fill="#fff" stroke="#333333" stroke-width="0.9" />
<circle cx="57.30" cy="837.20" r="15" fill="#4d6cf2"/>
<circle cx="69.60" cy="808.50" r="9.0" fill="#80f52a" stroke="#3e8f1e" stroke-width="1.75"/>
<circle cx="33.50" cy="841.80" r="9.0" fill="#80f52a" stroke="#3e8f1e" stroke-width="1.75"/>
<circle cx="79.30" cy="857.70" r="9.0" fill="#80f52a" stroke="#3e8f1e" stroke-width="1.75"/>
<circle cx="63.30" cy="814.80" r="9.0" fill="#4d6cf2" stroke="#2c3fb8" stroke-width="1.75"/>
<circle cx="79.30" cy="825.20" r="9.0" fill="#4d6cf2" stroke="#2c3fb8" stroke-width="1.75"/>
<circle cx="42.50" cy="825.80" r="9.0" fill="#4d6cf2" stroke="#2c3fb8" stroke-width="1.75"/>
<circle cx="50.20" cy="815.40" r="9.0" fill="#80f52a" stroke="#3e8f1e" stroke-width="1.75"/>
<circle cx="42.50" cy="846.70" r="9.0" fill="#4d6cf2" stroke="#2c3fb8" stroke-width="1.75"/>
<circle cx="79.30" cy="848.00" r="9.0" fill="#4d6cf2" stroke="#2c3fb8" stroke-width="1.75"/>
<circle cx="62.00" cy="857.10" r="9.0" fill="#4d6cf2" stroke="#2c3fb8" stroke-width="1.75"/>
<circle cx="50.90" cy="853.60" r="9.0" fill="#80f52a" stroke="#3e8f1e" stroke-width="1.75"/>
<circle cx="82.10" cy="836.30" r="9.0" fill="#80f52a" stroke="#3e8f1e" stroke-width="1.75"/>
<circle cx="59.30" cy="830.70" r="11.0" fill="#4d6cf2" stroke="#2c3fb8" stroke-width="1.75"/>
<circle cx="65.30" cy="833.70" r="11.0" fill="#4d6cf2" stroke="#2c3fb8" stroke-width="1.75"/>
<circle cx="62.10" cy="833.00" r="11.5" fill="#4d6cf2"/>
<circle cx="60.70" cy="834.00" r="9.0" fill="#80f52a" stroke="#3e8f1e" stroke-width="1.75"/>
<path d="M73.8,796.1 L75.3,799.8 80.3,801 81.1,804.2 85,804.5 86.5,808.3 90.5,808.7" stroke="#333333" stroke-width="0.9" fill="none" />
<path d="M80.3,801 L82.9,797.6" stroke="#333333" stroke-width="0.8" fill="none" />
<path d="M85,804.5 L87.6,801.1" stroke="#333333" stroke-width="0.8" fill="none" />
<path d="M75.3,799.8 L71.5,806.4" stroke="#333333" stroke-width="0.9" fill="none" />
<path d="M86.5,808.3 L83.2,814.3" stroke="#333333" stroke-width="0.9" fill="none" />
<circle cx="73.00" cy="793.30" r="2.9" fill="#fff" stroke="#333333" stroke-width="0.9" />
<circle cx="93.40" cy="808.70" r="2.9" fill="#fff" stroke="#333333" stroke-width="0.9" />
<circle cx="71.50" cy="806.40" r="4.0" fill="#d42cf0"/>
<circle cx="83.20" cy="814.30" r="4.0" fill="#d42cf0"/>
<text x="109.5" y="825.6" font-size="10.2" fill="#222" text-anchor="start" font-weight="normal" letter-spacing="0.25">-P/Bn</text>
<g transform="translate(112.4,830.8) rotate(0)"><path d="M0.0,0 L2.1,0 L7.7,7.7 L2.1,15.4 L0.0,15.4 L5.6,7.7Z" fill="#fff" stroke="#62d0dc" stroke-width="0.75" stroke-linejoin="miter"/><path d="M8.2,0 L10.3,0 L15.9,7.7 L10.3,15.4 L8.2,15.4 L13.8,7.7Z" fill="#fff" stroke="#62d0dc" stroke-width="0.75" stroke-linejoin="miter"/><path d="M16.4,0 L18.5,0 L24.1,7.7 L18.5,15.4 L16.4,15.4 L22.0,7.7Z" fill="#fff" stroke="#62d0dc" stroke-width="0.75" stroke-linejoin="miter"/><path d="M24.6,0 L26.7,0 L32.3,7.7 L26.7,15.4 L24.6,15.4 L30.2,7.7Z" fill="#fff" stroke="#62d0dc" stroke-width="0.75" stroke-linejoin="miter"/></g>
<path d="M121.9,857.8 C125.8,857.2 127.8,854.0 134.4,854.0 A6.6,6.6 0 0 1 134.4,867.2 C127.8,867.2 125.8,864.0 121.9,863.4Z" fill="#fcfcfc" stroke="#b3cfda" stroke-width="0.85"/>
<path d="M122.2,857.8 L119.2,857.8 Q116.8,858.0 116.8,860.6 Q116.8,863.2 119.2,863.4 L122.2,863.4Z" fill="#383838"/>
<line x1="160.7" y1="819.0" x2="149.6" y2="814.2" stroke="#333333" stroke-width="0.8"/>
<path d="M151.77,815.45 L149.60,816.70 L147.43,815.45 L147.43,812.95 L149.60,811.70 L151.77,812.95Z" fill="#fff" stroke="#333333" stroke-width="0.85"/>
<line x1="149.6" y1="811.7" x2="149.6" y2="809.2" stroke="#333333" stroke-width="0.8"/>
<line x1="151.8" y1="815.5" x2="153.9" y2="816.7" stroke="#333333" stroke-width="0.8"/>
<line x1="147.4" y1="815.5" x2="145.3" y2="816.7" stroke="#333333" stroke-width="0.8"/>
<circle cx="160.70" cy="819.00" r="4.0" fill="#d42cf0"/>
<path d="M176.7,807.0 Q176.7,801.2 174.5,801.2 T172.4,795.4" fill="none" stroke="#333333" stroke-width="0.9" />
<circle cx="172.40" cy="795.40" r="2.7" fill="#fff" stroke="#333333" stroke-width="0.9" />
<path d="M220.7,837.0 Q220.7,839.1 227.0,839.1 T233.4,841.2" fill="none" stroke="#333333" stroke-width="0.9" stroke-dasharray="1,0.8"/>
<circle cx="233.40" cy="841.20" r="2.7" fill="#fff" stroke="#333333" stroke-width="0.9" stroke-dasharray="1,0.8"/>
<path d="M175.9,863.4 Q175.9,867.2 171.0,867.2 T166.2,871.0" fill="none" stroke="#333333" stroke-width="0.9" />
<circle cx="166.20" cy="871.00" r="2.7" fill="#fff" stroke="#333333" stroke-width="0.9" />
<circle cx="187.20" cy="838.00" r="15" fill="#4d6cf2"/>
<circle cx="199.50" cy="809.30" r="9.0" fill="#80f52a" stroke="#3e8f1e" stroke-width="1.75"/>
<circle cx="163.40" cy="842.60" r="9.0" fill="#80f52a" stroke="#3e8f1e" stroke-width="1.75"/>
<circle cx="209.20" cy="858.50" r="9.0" fill="#80f52a" stroke="#3e8f1e" stroke-width="1.75"/>
<circle cx="193.20" cy="815.60" r="9.0" fill="#4d6cf2" stroke="#2c3fb8" stroke-width="1.75"/>
<circle cx="209.20" cy="826.00" r="9.0" fill="#4d6cf2" stroke="#2c3fb8" stroke-width="1.75"/>
<circle cx="172.40" cy="826.60" r="9.0" fill="#4d6cf2" stroke="#2c3fb8" stroke-width="1.75"/>
<circle cx="180.10" cy="816.20" r="9.0" fill="#80f52a" stroke="#3e8f1e" stroke-width="1.75"/>
<circle cx="172.40" cy="847.50" r="9.0" fill="#4d6cf2" stroke="#2c3fb8" stroke-width="1.75"/>
<circle cx="209.20" cy="848.80" r="9.0" fill="#4d6cf2" stroke="#2c3fb8" stroke-width="1.75"/>
<circle cx="191.90" cy="857.90" r="9.0" fill="#4d6cf2" stroke="#2c3fb8" stroke-width="1.75"/>
<circle cx="180.80" cy="854.40" r="9.0" fill="#80f52a" stroke="#3e8f1e" stroke-width="1.75"/>
<circle cx="212.00" cy="837.10" r="9.0" fill="#80f52a" stroke="#3e8f1e" stroke-width="1.75"/>
<circle cx="189.20" cy="831.50" r="11.0" fill="#4d6cf2" stroke="#2c3fb8" stroke-width="1.75"/>
<circle cx="195.20" cy="834.50" r="11.0" fill="#4d6cf2" stroke="#2c3fb8" stroke-width="1.75"/>
<circle cx="192.00" cy="833.80" r="11.5" fill="#4d6cf2"/>
<circle cx="190.60" cy="834.80" r="9.0" fill="#80f52a" stroke="#3e8f1e" stroke-width="1.75"/>
<path d="M203.7,796.9 L205.2,800.6 210.2,801.8 211,805 214.9,805.3 216.4,809.1 220.4,809.5" stroke="#333333" stroke-width="0.9" fill="none" />
<path d="M210.2,801.8 L212.8,798.4" stroke="#333333" stroke-width="0.8" fill="none" />
<path d="M214.9,805.3 L217.5,801.9" stroke="#333333" stroke-width="0.8" fill="none" />
<path d="M205.2,800.6 L201.4,807.2" stroke="#333333" stroke-width="0.9" fill="none" />
<path d="M216.4,809.1 L213.1,815.1" stroke="#333333" stroke-width="0.9" fill="none" />
<circle cx="202.90" cy="794.10" r="2.9" fill="#fff" stroke="#333333" stroke-width="0.9" />
<circle cx="223.30" cy="809.50" r="2.9" fill="#fff" stroke="#333333" stroke-width="0.9" />
<circle cx="201.40" cy="807.20" r="4.0" fill="#d42cf0"/>
<circle cx="213.10" cy="815.10" r="4.0" fill="#d42cf0"/>
<text x="242.3" y="824.4" font-size="10.2" fill="#222" text-anchor="start" font-weight="normal" letter-spacing="0.25">-P/Bn/Cu</text>
<g transform="translate(246.4,829.0) rotate(0)"><path d="M0.0,0 L2.1,0 L7.7,7.7 L2.1,15.4 L0.0,15.4 L5.6,7.7Z" fill="#fff" stroke="#62d0dc" stroke-width="0.75" stroke-linejoin="miter"/><path d="M8.2,0 L10.3,0 L15.9,7.7 L10.3,15.4 L8.2,15.4 L13.8,7.7Z" fill="#fff" stroke="#62d0dc" stroke-width="0.75" stroke-linejoin="miter"/><path d="M16.4,0 L18.5,0 L24.1,7.7 L18.5,15.4 L16.4,15.4 L22.0,7.7Z" fill="#fff" stroke="#62d0dc" stroke-width="0.75" stroke-linejoin="miter"/><path d="M24.6,0 L26.7,0 L32.3,7.7 L26.7,15.4 L24.6,15.4 L30.2,7.7Z" fill="#fff" stroke="#62d0dc" stroke-width="0.75" stroke-linejoin="miter"/></g>
<path d="M257.1,857.8 C261.0,857.2 263.0,854.0 269.6,854.0 A6.6,6.6 0 0 1 269.6,867.2 C263.0,867.2 261.0,864.0 257.1,863.4Z" fill="#fcfcfc" stroke="#b3cfda" stroke-width="0.85"/>
<path d="M257.4,857.8 L254.4,857.8 Q252.0,858.0 252.0,860.6 Q252.0,863.2 254.4,863.4 L257.4,863.4Z" fill="#383838"/>
<line x1="314.5" y1="819.0" x2="303.4" y2="814.2" stroke="#333333" stroke-width="0.8"/>
<path d="M305.57,815.45 L303.40,816.70 L301.23,815.45 L301.23,812.95 L303.40,811.70 L305.57,812.95Z" fill="#fff" stroke="#333333" stroke-width="0.85"/>
<line x1="303.4" y1="811.7" x2="303.4" y2="809.2" stroke="#333333" stroke-width="0.8"/>
<line x1="305.6" y1="815.5" x2="307.7" y2="816.7" stroke="#333333" stroke-width="0.8"/>
<line x1="301.2" y1="815.5" x2="299.1" y2="816.7" stroke="#333333" stroke-width="0.8"/>
<circle cx="314.50" cy="819.00" r="4.0" fill="#d42cf0"/>
<path d="M330.5,807.0 Q330.5,801.2 328.4,801.2 T326.2,795.4" fill="none" stroke="#333333" stroke-width="0.9" />
<circle cx="326.20" cy="795.40" r="2.7" fill="#fff" stroke="#333333" stroke-width="0.9" />
<path d="M374.5,837.0 Q374.5,839.1 380.9,839.1 T387.2,841.2" fill="none" stroke="#333333" stroke-width="0.9" stroke-dasharray="1,0.8"/>
<circle cx="387.20" cy="841.20" r="2.7" fill="#fff" stroke="#333333" stroke-width="0.9" stroke-dasharray="1,0.8"/>
<path d="M329.7,863.4 Q329.7,867.2 324.9,867.2 T320.0,871.0" fill="none" stroke="#333333" stroke-width="0.9" />
<circle cx="320.00" cy="871.00" r="2.7" fill="#fff" stroke="#333333" stroke-width="0.9" />
<circle cx="341.00" cy="838.00" r="15" fill="#4d6cf2"/>
<circle cx="353.30" cy="809.30" r="9.0" fill="#80f52a" stroke="#3e8f1e" stroke-width="1.75"/>
<circle cx="317.20" cy="842.60" r="9.0" fill="#80f52a" stroke="#3e8f1e" stroke-width="1.75"/>
<circle cx="363.00" cy="858.50" r="9.0" fill="#80f52a" stroke="#3e8f1e" stroke-width="1.75"/>
<circle cx="347.00" cy="815.60" r="9.0" fill="#4d6cf2" stroke="#2c3fb8" stroke-width="1.75"/>
<circle cx="363.00" cy="826.00" r="9.0" fill="#4d6cf2" stroke="#2c3fb8" stroke-width="1.75"/>
<circle cx="326.20" cy="826.60" r="9.0" fill="#4d6cf2" stroke="#2c3fb8" stroke-width="1.75"/>
<circle cx="333.90" cy="816.20" r="9.0" fill="#80f52a" stroke="#3e8f1e" stroke-width="1.75"/>
<circle cx="326.20" cy="847.50" r="9.0" fill="#4d6cf2" stroke="#2c3fb8" stroke-width="1.75"/>
<circle cx="345.70" cy="857.90" r="9.0" fill="#4d6cf2" stroke="#2c3fb8" stroke-width="1.75"/>
<circle cx="334.60" cy="854.40" r="9.0" fill="#80f52a" stroke="#3e8f1e" stroke-width="1.75"/>
<circle cx="365.80" cy="837.10" r="9.0" fill="#80f52a" stroke="#3e8f1e" stroke-width="1.75"/>
<circle cx="343.00" cy="831.50" r="11.0" fill="#4d6cf2" stroke="#2c3fb8" stroke-width="1.75"/>
<circle cx="349.00" cy="834.50" r="11.0" fill="#4d6cf2" stroke="#2c3fb8" stroke-width="1.75"/>
<circle cx="345.80" cy="833.80" r="11.5" fill="#4d6cf2"/>
<circle cx="344.40" cy="834.80" r="9.0" fill="#80f52a" stroke="#3e8f1e" stroke-width="1.75"/>
<path d="M357.5,796.9 L359,800.6 364,801.8 364.8,805 368.7,805.3 370.2,809.1 374.2,809.5" stroke="#333333" stroke-width="0.9" fill="none" />
<path d="M364,801.8 L366.6,798.4" stroke="#333333" stroke-width="0.8" fill="none" />
<path d="M368.7,805.3 L371.3,801.9" stroke="#333333" stroke-width="0.8" fill="none" />
<path d="M359,800.6 L355.2,807.2" stroke="#333333" stroke-width="0.9" fill="none" />
<path d="M370.2,809.1 L366.9,815.1" stroke="#333333" stroke-width="0.9" fill="none" />
<circle cx="356.70" cy="794.10" r="2.9" fill="#fff" stroke="#333333" stroke-width="0.9" />
<circle cx="377.10" cy="809.50" r="2.9" fill="#fff" stroke="#333333" stroke-width="0.9" />
<circle cx="355.20" cy="807.20" r="4.0" fill="#d42cf0"/>
<circle cx="366.90" cy="815.10" r="4.0" fill="#d42cf0"/>
<path d="M354.5,848.5 A8.8,8.8 0 0 0 371.5,848.5" fill="none" stroke="#2c3fb8" stroke-width="1.5" stroke-dasharray="2.2,1.4"/>
<text x="398.2" y="827.3" font-size="10.2" fill="#222" text-anchor="start" font-weight="normal" letter-spacing="0.25">-P/Bn/Cu/Se</text>
<g transform="translate(404.7,830.5) rotate(0)"><path d="M0.0,0 L2.1,0 L7.7,7.7 L2.1,15.4 L0.0,15.4 L5.6,7.7Z" fill="#fff" stroke="#62d0dc" stroke-width="0.75" stroke-linejoin="miter"/><path d="M8.2,0 L10.3,0 L15.9,7.7 L10.3,15.4 L8.2,15.4 L13.8,7.7Z" fill="#fff" stroke="#62d0dc" stroke-width="0.75" stroke-linejoin="miter"/><path d="M16.4,0 L18.5,0 L24.1,7.7 L18.5,15.4 L16.4,15.4 L22.0,7.7Z" fill="#fff" stroke="#62d0dc" stroke-width="0.75" stroke-linejoin="miter"/><path d="M24.6,0 L26.7,0 L32.3,7.7 L26.7,15.4 L24.6,15.4 L30.2,7.7Z" fill="#fff" stroke="#62d0dc" stroke-width="0.75" stroke-linejoin="miter"/></g>
<path d="M414.4,857.8 C418.3,857.2 420.3,854.0 426.9,854.0 A6.6,6.6 0 0 1 426.9,867.2 C420.3,867.2 418.3,864.0 414.4,863.4Z" fill="#fcfcfc" stroke="#b3cfda" stroke-width="0.85"/>
<path d="M414.7,857.8 L411.7,857.8 Q409.3,858.0 409.3,860.6 Q409.3,863.2 411.7,863.4 L414.7,863.4Z" fill="#383838"/>
<circle cx="502.00" cy="805.10" r="9.0" fill="#80f52a" stroke="#3e8f1e" stroke-width="1.75"/>
<circle cx="523.00" cy="805.70" r="9.0" fill="#4d6cf2" stroke="#2c3fb8" stroke-width="1.75"/>
<circle cx="492.60" cy="824.40" r="9.0" fill="#4d6cf2" stroke="#2c3fb8" stroke-width="1.75"/>
<circle cx="534.70" cy="825.00" r="9.0" fill="#80f52a" stroke="#3e8f1e" stroke-width="1.75"/>
<circle cx="502.00" cy="843.60" r="9.0" fill="#80f52a" stroke="#3e8f1e" stroke-width="1.75"/>
<circle cx="523.60" cy="844.20" r="9.0" fill="#4d6cf2" stroke="#2c3fb8" stroke-width="1.75"/>
<circle cx="509.00" cy="815.60" r="9.0" fill="#4d6cf2" stroke="#2c3fb8" stroke-width="1.75"/>
<circle cx="521.80" cy="815.60" r="9.0" fill="#80f52a" stroke="#3e8f1e" stroke-width="1.75"/>
<circle cx="528.80" cy="825.50" r="9.0" fill="#4d6cf2" stroke="#2c3fb8" stroke-width="1.75"/>
<circle cx="506.10" cy="834.90" r="9.0" fill="#4d6cf2" stroke="#2c3fb8" stroke-width="1.75"/>
<circle cx="519.50" cy="836.00" r="9.0" fill="#80f52a" stroke="#3e8f1e" stroke-width="1.75"/>
<circle cx="502.00" cy="824.40" r="9.0" fill="#80f52a" stroke="#3e8f1e" stroke-width="1.75"/>
<circle cx="514.20" cy="825.00" r="9.0" fill="#4d6cf2" stroke="#2c3fb8" stroke-width="1.75"/>
<circle cx="499.80" cy="869.10" r="9.0" fill="#80f52a" stroke="#3e8f1e" stroke-width="1.75"/>
<path d="M473.3,813.7 Q473.3,808.5 476.1,808.5 T478.9,803.3" fill="none" stroke="#333333" stroke-width="0.9" />
<circle cx="478.90" cy="803.30" r="2.7" fill="#fff" stroke="#333333" stroke-width="0.9" />
<line x1="467.3" y1="843.4" x2="475.4" y2="837.0" stroke="#333333" stroke-width="0.8"/>
<path d="M477.57,838.25 L475.40,839.50 L473.23,838.25 L473.23,835.75 L475.40,834.50 L477.57,835.75Z" fill="#fff" stroke="#333333" stroke-width="0.85"/>
<line x1="475.4" y1="834.5" x2="475.4" y2="832.0" stroke="#333333" stroke-width="0.8"/>
<line x1="477.6" y1="838.2" x2="479.7" y2="839.5" stroke="#333333" stroke-width="0.8"/>
<line x1="473.2" y1="838.2" x2="471.1" y2="839.5" stroke="#333333" stroke-width="0.8"/>
<circle cx="467.30" cy="843.40" r="4.0" fill="#d42cf0"/>
<g transform="translate(557.8,813.3) rotate(-30)"><path d="M-5.40,-8.40 L0.00,0 L-5.40,8.40 L-7.80,8.40 L-2.40,0 L-7.80,-8.40Z" fill="#fff" stroke="#62d0dc" stroke-width="0.75"/><path d="M2.90,-8.40 L8.30,0 L2.90,8.40 L0.50,8.40 L5.90,0 L0.50,-8.40Z" fill="#fff" stroke="#62d0dc" stroke-width="0.75"/><path d="M11.20,-8.40 L16.60,0 L11.20,8.40 L8.80,8.40 L14.20,0 L8.80,-8.40Z" fill="#fff" stroke="#62d0dc" stroke-width="0.75"/><path d="M19.50,-8.40 L24.90,0 L19.50,8.40 L17.10,8.40 L22.50,0 L17.10,-8.40Z" fill="#fff" stroke="#62d0dc" stroke-width="0.75"/></g>
<path d="M549.6,783.2 C553.5,782.6 555.5,779.4 562.1,779.4 A6.6,6.6 0 0 1 562.1,792.6 C555.5,792.6 553.5,789.4 549.6,788.8Z" fill="#fcfcfc" stroke="#b3cfda" stroke-width="0.85"/>
<path d="M549.9,783.2 L546.9,783.2 Q544.5,783.4 544.5,786.0 Q544.5,788.6 546.9,788.8 L549.9,788.8Z" fill="#383838"/>
<path d="M580,828.1 L583.2,830 587.7,828 590.1,830 593.2,828 596.5,830 599.7,828.1" stroke="#333333" stroke-width="0.9" fill="none" />
<path d="M587.7,828 L587.7,824" stroke="#333333" stroke-width="0.8" fill="none" />
<path d="M593.2,828 L593.2,824" stroke="#333333" stroke-width="0.8" fill="none" />
<path d="M583.2,830 L583.8,838.5" stroke="#333333" stroke-width="0.9" fill="none" />
<path d="M596.5,830 L597,838.5" stroke="#333333" stroke-width="0.9" fill="none" />
<circle cx="577.80" cy="826.40" r="2.9" fill="#fff" stroke="#333333" stroke-width="0.9" />
<circle cx="601.90" cy="826.40" r="2.9" fill="#fff" stroke="#333333" stroke-width="0.9" />
<circle cx="583.80" cy="838.50" r="4.0" fill="#d42cf0"/>
<circle cx="597.00" cy="838.50" r="4.0" fill="#d42cf0"/>
<path d="M540,855.1 L543.8,855.3 546.4,859.4 549.5,859.1 551,862.5 554.8,862.6 556.4,866" stroke="#333333" stroke-width="0.9" fill="none" />
<path d="M546.4,859.4 L544.2,862.8" stroke="#333333" stroke-width="0.8" fill="none" />
<path d="M551,862.5 L548.8,865.8" stroke="#333333" stroke-width="0.8" fill="none" />
<path d="M543.8,855.3 L548.9,847.4" stroke="#333333" stroke-width="0.9" fill="none" />
<path d="M554.8,862.6 L559.7,855.3" stroke="#333333" stroke-width="0.9" fill="none" />
<circle cx="537.30" cy="855.30" r="2.9" fill="#fff" stroke="#333333" stroke-width="0.9" />
<circle cx="557.30" cy="868.60" r="2.9" fill="#fff" stroke="#333333" stroke-width="0.9" />
<circle cx="548.90" cy="847.40" r="4.0" fill="#d42cf0"/>
<circle cx="559.70" cy="855.30" r="4.0" fill="#d42cf0"/>
</svg></body></html>
